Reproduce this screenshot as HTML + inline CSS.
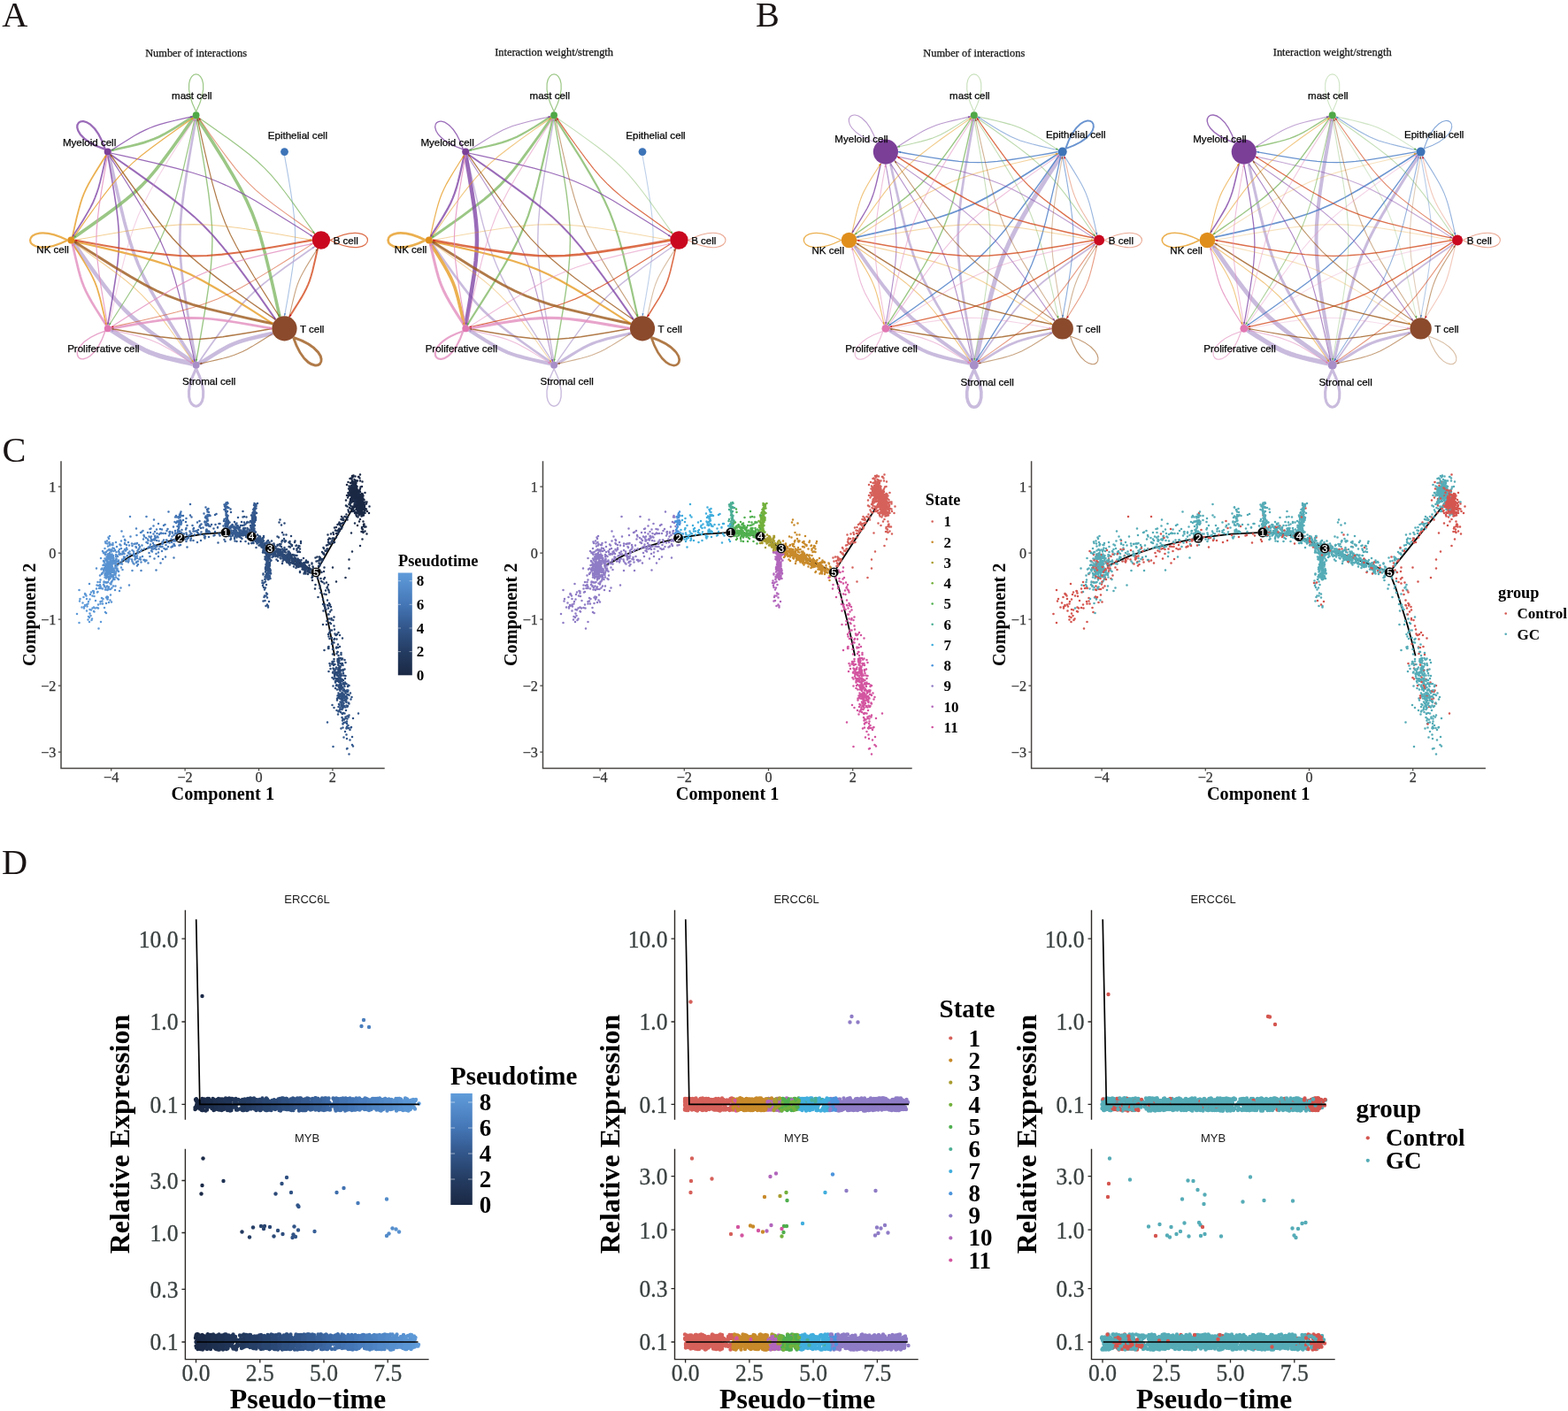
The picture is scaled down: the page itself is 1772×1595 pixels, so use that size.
<!DOCTYPE html>
<html><head><meta charset="utf-8"><title>Figure</title>
<style>html,body{margin:0;padding:0;background:#fff;overflow:hidden}svg{display:block}</style>
</head><body>
<svg width="1772" height="1595" viewBox="0 0 1772 1595">
<rect width="1772" height="1595" fill="#fff"/>
<text transform="translate(2.3 29.7) scale(1 1)" font-family="'Liberation Serif', 'Times New Roman', serif" font-size="40.3" fill="#1a1414">A</text>
<text transform="translate(854 29.7) scale(1 1)" font-family="'Liberation Serif', 'Times New Roman', serif" font-size="40.3" fill="#1a1414">B</text>
<text transform="translate(2.4 522.4) scale(1 1)" font-family="'Liberation Serif', 'Times New Roman', serif" font-size="40.3" fill="#1a1414">C</text>
<text transform="translate(2 987.8) scale(1 1)" font-family="'Liberation Serif', 'Times New Roman', serif" font-size="40.3" fill="#1a1414">D</text>
<g fill="none">
<path d="M321.5 176L321.8 177.3L323.1 184.6L325.6 198.6L328.4 215.5L330.8 231.3L332.4 244.7L333.3 256.1L333.6 266.6L333.3 277.2L332.4 288.6L330.8 302L328.4 317.8L325.6 334.7L323.1 348.7L321.8 356L321.5 357.3" stroke="#4579C4" stroke-width="1.1" stroke-opacity="0.45"/>
<path d="M220.1 409.1L219.1 407.6L213.4 398.8L202.8 382.1L190.1 361.8L178.6 342.7L169.3 326.3L162 312.1L156.1 298.6L150.8 284.9L145.9 269.7L140.8 251.6L135.5 229.9L130.1 206.7L125.8 187.2L123.6 177.1L123.2 175.3" stroke="#BCAAD4" stroke-width="3.6" stroke-opacity="0.8"/>
<path d="M221.6 408.8L221.2 406.8L219.2 395.7L215.5 374.5L211.2 348.9L207.6 325L205.1 304.7L203.7 287.4L203.3 271.4L203.7 255.5L205.1 238.2L207.6 217.9L211.2 194L215.5 168.4L219.2 147.2L221.2 136.1L221.6 134.1" stroke="#BCAAD4" stroke-width="2.7" stroke-opacity="0.8"/>
<path d="M218.8 410L217.6 409.2L211.1 404.7L198.8 396L184.1 385.5L170.4 375.5L159.2 366.7L149.9 358.8L141.9 351.2L134.2 343.1L126.3 333.9L117.6 322.6L107.5 309L97 294.2L88.3 281.9L83.8 275.4L83.1 274.3" stroke="#BCAAD4" stroke-width="4.5" stroke-opacity="0.8"/>
<path d="M217.9 411.3L217.2 411.1L213.2 410.2L205.5 408.5L196.3 406.4L187.7 404.3L180.5 402.3L174.5 400.3L169 398.3L163.7 395.9L158.1 393L151.6 389.3L144 384.8L136 379.8L129.4 375.5L125.9 373.3L125.3 372.9" stroke="#BCAAD4" stroke-width="5.4" stroke-opacity="0.8"/>
<path d="M225.3 411.3L225.8 410.9L228.9 408.9L234.9 405.1L242.1 400.6L248.9 396.5L254.8 393.2L259.8 390.6L264.6 388.5L269.5 386.6L274.9 384.9L281.3 383.1L289.1 381.2L297.3 379.3L304.2 377.7L307.8 376.9L308.5 376.8" stroke="#BCAAD4" stroke-width="4.5" stroke-opacity="0.8"/>
<path d="M224.4 410L225.2 408.9L229.5 402.6L237.9 390.6L248.1 376.4L257.8 363.2L266.3 352.3L273.9 343.4L281.3 335.6L289.1 328.2L298 320.6L308.9 312.1L322.1 302.3L336.4 292.2L348.3 283.8L354.6 279.5L355.7 278.7" stroke="#BCAAD4" stroke-width="1.8" stroke-opacity="0.8"/>
<path d="M218 131.7L217.4 132.1L213.9 134.3L207.3 138.6L199.3 143.6L191.7 148.1L185.2 151.8L179.6 154.7L174.2 157L168.8 159.1L162.8 161.1L155.6 163.1L147 165.2L137.8 167.3L130.1 169L126.1 169.9L125.4 170.1" stroke="#82B966" stroke-width="2.7" stroke-opacity="0.8"/>
<path d="M218.8 133L218.1 134.1L213.6 140.6L204.9 153L194.4 167.7L184.3 181.3L175.5 192.6L167.7 201.8L160 209.9L151.9 217.6L142.7 225.4L131.4 234.2L117.8 244.3L103.1 254.8L90.7 263.5L84.2 268L83.1 268.7" stroke="#82B966" stroke-width="3.6" stroke-opacity="0.8"/>
<path d="M220.1 133.8L219.7 135.6L217.5 145.8L213.2 165.2L207.8 188.5L202.5 210.2L197.4 228.3L192.5 243.6L187.2 257.3L181.3 270.7L174 284.9L164.7 301.3L153.2 320.5L140.5 340.7L129.8 357.5L124.2 366.3L123.2 367.8" stroke="#82B966" stroke-width="1.2" stroke-opacity="0.8"/>
<path d="M221.6 134.1L222 136.1L224 147.2L227.7 168.4L232 194L235.6 217.9L238.1 238.2L239.5 255.5L239.9 271.4L239.5 287.4L238.1 304.7L235.6 325L232 348.9L227.7 374.5L224 395.7L222 406.8L221.6 408.8" stroke="#82B966" stroke-width="1.4" stroke-opacity="0.8"/>
<path d="M223.1 133.8L224.1 135.3L229.5 143.7L239.7 159.8L251.9 179.2L262.9 197.6L271.8 213.3L278.8 227L284.6 239.9L289.6 253.1L294.4 267.7L299.2 285.1L304.3 305.9L309.5 328.3L313.6 346.9L315.8 356.7L316.1 358.4" stroke="#82B966" stroke-width="3.6" stroke-opacity="0.8"/>
<path d="M224.4 133L225.5 133.7L231.7 138.1L243.7 146.4L257.9 156.6L271.1 166.3L282 174.8L291 182.5L298.8 189.9L306.2 197.7L313.8 206.6L322.3 217.5L332 230.7L342.2 245L350.6 256.9L354.9 263.2L355.7 264.3" stroke="#82B966" stroke-width="1.2" stroke-opacity="0.8"/>
<path d="M125.4 170.1L126 169.7L129.4 167.4L136.1 163.2L144.1 158.2L151.7 153.6L158.2 149.9L163.8 147.1L169.1 144.7L174.6 142.6L180.6 140.7L187.8 138.7L196.4 136.5L205.6 134.4L213.3 132.7L217.3 131.8L218 131.7" stroke="#8146A6" stroke-width="1.2" stroke-opacity="0.8"/>
<path d="M120.2 175.3L120 176L119.1 180L117.4 187.7L115.3 196.9L113.2 205.5L111.2 212.7L109.2 218.7L107.1 224.1L104.8 229.5L101.9 235.1L98.2 241.6L93.7 249.2L88.7 257.2L84.4 263.8L82.2 267.3L81.8 267.9" stroke="#8146A6" stroke-width="1.8" stroke-opacity="0.8"/>
<path d="M125.4 173.1L127.1 173.5L137 175.6L156 179.8L178.7 185.1L199.8 190.3L217.5 195.2L232.4 200L245.7 205.2L258.8 211L272.7 218.1L288.7 227.1L307.3 238.4L327.1 250.7L343.5 261.1L352 266.6L353.5 267.6" stroke="#8146A6" stroke-width="1.2" stroke-opacity="0.8"/>
<path d="M124.5 174.4L126.1 175.5L135 181.7L152.1 193.6L172.3 208.1L191.1 221.9L206.6 234.1L219.4 244.9L230.5 255.5L241.1 266.6L251.9 279.3L264 294.8L277.9 313.6L292.4 333.9L304.3 350.9L310.5 359.9L311.5 361.4" stroke="#8146A6" stroke-width="2" stroke-opacity="0.8"/>
<path d="M123.2 175.3L124.2 176.8L129.8 185.6L140.5 202.3L153.2 222.6L164.7 241.7L174 258.1L181.3 272.3L187.2 285.7L192.5 299.4L197.4 314.7L202.4 332.8L207.8 354.5L213.2 377.7L217.5 397.2L219.7 407.3L220.1 409.1" stroke="#8146A6" stroke-width="1.2" stroke-opacity="0.8"/>
<path d="M121.7 175.6L121.9 177L123.4 184.7L126 199.6L128.9 217.4L131.5 234.2L133.2 248.3L134.2 260.4L134.5 271.5L134.2 282.7L133.2 294.8L131.5 308.9L128.9 325.7L126 343.5L123.4 358.4L121.9 366.1L121.7 367.5" stroke="#8146A6" stroke-width="1.6" stroke-opacity="0.8"/>
<path d="M81.8 267.9L81.9 267.2L82.8 263.2L84.5 255.5L86.6 246.3L88.8 237.7L90.8 230.5L92.7 224.5L94.8 219L97.2 213.7L100 208.1L103.7 201.6L108.3 194L113.3 186L117.5 179.3L119.8 175.9L120.2 175.3" stroke="#E69C24" stroke-width="1.8" stroke-opacity="0.8"/>
<path d="M83.1 268.7L83.8 267.6L88.3 261.1L97 248.7L107.5 234L117.6 220.4L126.4 209.1L134.2 199.9L141.9 191.8L150 184.1L159.2 176.3L170.5 167.5L184.1 157.4L198.8 146.9L211.2 138.2L217.7 133.7L218.8 133" stroke="#E69C24" stroke-width="1.2" stroke-opacity="0.8"/>
<path d="M84.2 271.5L86.1 271.1L97 269.2L117.7 265.5L142.7 261.3L166.1 257.8L186 255.4L202.9 254L218.5 253.6L234 254L250.9 255.4L270.8 257.8L294.2 261.3L319.2 265.5L339.9 269.2L350.8 271.1L352.7 271.5" stroke="#E69C24" stroke-width="1.1" stroke-opacity="0.48"/>
<path d="M83.9 273L85.6 273.4L95.4 275.5L114 279.6L136.4 284.8L157.2 289.9L174.6 294.8L189.2 299.5L202.4 304.5L215.3 310.3L228.9 317.3L244.7 326.2L263.1 337.2L282.5 349.4L298.6 359.6L307 365.1L308.5 366" stroke="#E69C24" stroke-width="2.3" stroke-opacity="0.8"/>
<path d="M83.1 274.3L84.2 275L90.7 279.5L103 288.2L117.8 298.7L131.4 308.8L142.7 317.5L151.9 325.4L160 333.1L167.6 341.1L175.5 350.4L184.3 361.6L194.3 375.3L204.8 390L213.5 402.3L218 408.8L218.8 410" stroke="#E69C24" stroke-width="1.1" stroke-opacity="0.48"/>
<path d="M81.8 275.1L82.2 275.7L84.4 279.2L88.7 285.8L93.7 293.9L98.2 301.4L101.9 307.9L104.8 313.6L107.2 318.9L109.3 324.3L111.2 330.4L113.2 337.6L115.3 346.2L117.5 355.4L119.2 363.1L120 367.1L120.2 367.8" stroke="#E69C24" stroke-width="1.8" stroke-opacity="0.8"/>
<path d="M355.7 264.3L354.6 263.5L348.3 259.2L336.4 250.8L322.1 240.6L308.9 230.9L298 222.4L289.1 214.8L281.3 207.4L273.9 199.6L266.2 190.6L257.7 179.7L248 166.5L237.8 152.3L229.5 140.3L225.1 134.1L224.4 133" stroke="#D34A1D" stroke-width="1.1" stroke-opacity="0.57"/>
<path d="M352.7 271.5L350.8 271.9L339.9 273.8L319.2 277.5L294.2 281.7L270.8 285.2L250.9 287.6L234 289L218.5 289.4L202.9 289L186 287.6L166.1 285.2L142.7 281.7L117.7 277.5L97 273.8L86.1 271.9L84.2 271.5" stroke="#D34A1D" stroke-width="2.1" stroke-opacity="0.8"/>
<path d="M359 280.9L358.9 281.5L358.1 284.9L356.7 291.3L354.9 299L353.2 306.2L351.5 312.2L349.9 317.3L348.1 321.8L346.1 326.2L343.7 331L340.7 336.4L336.8 342.7L332.6 349.4L329.1 355L327.2 357.9L326.9 358.4" stroke="#D34A1D" stroke-width="2" stroke-opacity="0.8"/>
<path d="M353.5 275.4L352 276.4L343.5 281.9L327.1 292.3L307.3 304.6L288.7 315.9L272.7 324.9L258.8 332L245.7 337.9L232.3 343L217.5 347.8L199.7 352.7L178.6 358L155.9 363.2L137 367.4L127 369.5L125.3 369.9" stroke="#D34A1D" stroke-width="1.1" stroke-opacity="0.57"/>
<path d="M311.5 361.4L310 360.4L301 354.2L284 342.3L263.7 327.8L244.9 313.9L229.4 301.8L216.7 291L205.6 280.4L195 269.3L184.2 256.5L172 241L158.2 222.2L143.7 202L131.8 184.9L125.6 176L124.5 174.4" stroke="#9C591A" stroke-width="1.4" stroke-opacity="0.8"/>
<path d="M316.1 358.4L315.2 356.9L309.7 348.5L299.5 332.4L287.3 313L276.3 294.6L267.4 278.8L260.4 265.2L254.6 252.3L249.6 239.1L244.9 224.5L240 207.1L234.9 186.3L229.7 163.9L225.6 145.3L223.5 135.5L223.1 133.8" stroke="#9C591A" stroke-width="1.2" stroke-opacity="0.8"/>
<path d="M308.5 366L306.8 365.7L297 363.5L278.4 359.4L256 354.2L235.2 349.1L217.8 344.3L203.2 339.5L190 334.5L177.1 328.7L163.4 321.7L147.7 312.8L129.3 301.8L109.9 289.6L93.8 279.4L85.4 274L83.9 273" stroke="#9C591A" stroke-width="2.9" stroke-opacity="0.8"/>
<path d="M307.4 371.4L306.1 371.7L298.8 373L284.7 375.5L267.8 378.3L251.9 380.7L238.5 382.3L227 383.3L216.5 383.5L206 383.3L194.5 382.3L181.1 380.7L165.2 378.3L148.3 375.5L134.2 373L126.9 371.7L125.6 371.4" stroke="#9C591A" stroke-width="1.5" stroke-opacity="0.8"/>
<path d="M308.5 376.8L307.9 377.2L304.8 379.2L298.9 383L291.7 387.5L284.9 391.6L279 394.9L274 397.5L269.2 399.6L264.3 401.5L258.9 403.2L252.4 405L244.7 406.9L236.5 408.8L229.5 410.4L225.9 411.1L225.3 411.3" stroke="#9C591A" stroke-width="1.1" stroke-opacity="0.66"/>
<path d="M326.9 358.4L327 357.8L327.8 354.4L329.2 348L331 340.3L332.8 333.1L334.4 327.1L336 322.1L337.8 317.5L339.8 313.1L342.2 308.4L345.3 302.9L349.1 296.6L353.3 289.9L356.8 284.3L358.7 281.4L359 280.9" stroke="#9C591A" stroke-width="1.1" stroke-opacity="0.57"/>
<path d="M121.7 367.5L121.4 366.1L120 358.4L117.4 343.5L114.4 325.7L111.9 308.9L110.2 294.8L109.2 282.7L108.9 271.5L109.2 260.4L110.2 248.3L111.9 234.2L114.4 217.4L117.4 199.6L120 184.7L121.4 177L121.7 175.6" stroke="#E28DBE" stroke-width="1.2" stroke-opacity="0.8"/>
<path d="M123.2 367.8L123.6 366L125.8 355.8L130.1 336.4L135.4 313.2L140.8 291.5L145.9 273.3L150.8 258.1L156 244.3L162 230.9L169.3 216.7L178.6 200.3L190.1 181.1L202.8 160.9L213.5 144.1L219.1 135.3L220.1 133.8" stroke="#E28DBE" stroke-width="1.1" stroke-opacity="0.39"/>
<path d="M120.2 367.8L119.8 367.2L117.6 363.7L113.3 357.1L108.3 349.1L103.7 341.5L100.1 335L97.2 329.3L94.8 324L92.7 318.6L90.8 312.6L88.8 305.4L86.7 296.8L84.5 287.5L82.8 279.8L81.9 275.8L81.8 275.1" stroke="#E28DBE" stroke-width="2.7" stroke-opacity="0.8"/>
<path d="M125.6 371.4L126.9 371.2L134.2 369.8L148.3 367.4L165.2 364.5L181.1 362.1L194.5 360.5L206 359.6L216.5 359.3L227 359.6L238.5 360.5L251.9 362.1L267.8 364.5L284.7 367.4L298.8 369.8L306.1 371.2L307.4 371.4" stroke="#E28DBE" stroke-width="2.7" stroke-opacity="0.8"/>
<path d="M125.3 369.9L126.8 368.9L135.3 363.4L151.7 353L171.4 340.7L190.1 329.4L206.1 320.4L220 313.3L233.1 307.5L246.5 302.3L261.3 297.5L279 292.6L300.2 287.4L322.9 282.1L341.8 277.9L351.7 275.8L353.5 275.4" stroke="#E28DBE" stroke-width="1.2" stroke-opacity="0.8"/>
<path d="M125.3 372.9L126 373.1L130 373.9L137.7 375.6L146.9 377.8L155.5 379.9L162.7 381.9L168.7 383.8L174.2 385.9L179.5 388.3L185.1 391.2L191.6 394.8L199.2 399.4L207.2 404.4L213.8 408.6L217.3 410.9L217.9 411.3" stroke="#E28DBE" stroke-width="1.1" stroke-opacity="0.57"/>
<path d="M221.6 416.8C249.9 473.3 193.3 473.3 221.6 416.8" stroke="#BCAAD4" stroke-width="3.1" stroke-opacity="0.8"/>
<path d="M221.6 126.3C193.3 69.8 249.9 69.8 221.6 126.3" stroke="#82B966" stroke-width="1.2" stroke-opacity="0.8"/>
<path d="M118.9 168.8C58.9 148.8 98.9 108.8 118.9 168.8" stroke="#8146A6" stroke-width="2.3" stroke-opacity="0.8"/>
<path d="M76.4 271.5C19.9 299.8 19.9 243.2 76.4 271.5" stroke="#E69C24" stroke-width="2.3" stroke-opacity="0.8"/>
<path d="M373.1 271.5C429.6 243.2 429.6 299.8 373.1 271.5" stroke="#D34A1D" stroke-width="1.2" stroke-opacity="0.8"/>
<path d="M331.5 381.4C391.4 401.4 351.5 441.3 331.5 381.4" stroke="#9C591A" stroke-width="2.9" stroke-opacity="0.8"/>
<path d="M118.9 374.2C98.9 434.1 59 394.2 118.9 374.2" stroke="#E28DBE" stroke-width="1.4" stroke-opacity="0.8"/>
</g>
<g><path d="M321.5 357.3L321 354.2L323.1 354.6Z" fill="#3D74B8" fill-opacity="0.9"/><path d="M123.2 175.3L124.9 178L122.8 178.4Z" fill="#A88FC8" fill-opacity="0.9"/><path d="M221.6 134.1L222.1 137.2L220 136.9Z" fill="#A88FC8" fill-opacity="0.9"/><path d="M83.1 274.3L85.7 276.1L83.9 277.4Z" fill="#A88FC8" fill-opacity="0.9"/><path d="M125.3 372.9L128.4 373.6L127.2 375.5Z" fill="#A88FC8" fill-opacity="0.9"/><path d="M308.5 376.8L305.8 378.5L305.3 376.4Z" fill="#A88FC8" fill-opacity="0.9"/><path d="M355.7 278.7L353.8 281.3L352.6 279.5Z" fill="#A88FC8" fill-opacity="0.9"/><path d="M125.4 170.1L128.1 168.3L128.5 170.5Z" fill="#4FA846" fill-opacity="0.9"/><path d="M83.1 268.7L84.9 266.1L86.2 267.9Z" fill="#4FA846" fill-opacity="0.9"/><path d="M123.2 367.8L123.9 364.7L125.7 365.9Z" fill="#4FA846" fill-opacity="0.9"/><path d="M221.6 408.8L221.1 405.7L223.2 406Z" fill="#4FA846" fill-opacity="0.9"/><path d="M316.1 358.4L314.4 355.7L316.6 355.2Z" fill="#4FA846" fill-opacity="0.9"/><path d="M355.7 264.3L353.1 262.4L354.9 261.2Z" fill="#4FA846" fill-opacity="0.9"/><path d="M218 131.7L215.3 133.4L214.8 131.2Z" fill="#7B3F98" fill-opacity="0.9"/><path d="M81.8 267.9L82.5 264.8L84.3 266Z" fill="#7B3F98" fill-opacity="0.9"/><path d="M353.5 267.6L350.4 266.9L351.6 265Z" fill="#7B3F98" fill-opacity="0.9"/><path d="M311.5 361.4L308.9 359.6L310.7 358.4Z" fill="#7B3F98" fill-opacity="0.9"/><path d="M220.1 409.1L218.4 406.4L220.5 405.9Z" fill="#7B3F98" fill-opacity="0.9"/><path d="M121.7 367.5L121.1 364.4L123.3 364.8Z" fill="#7B3F98" fill-opacity="0.9"/><path d="M120.2 175.3L119.5 178.4L117.6 177.2Z" fill="#E08E1B" fill-opacity="0.9"/><path d="M218.8 133L217 135.6L215.7 133.8Z" fill="#E08E1B" fill-opacity="0.9"/><path d="M352.7 271.5L349.6 272L349.9 269.9Z" fill="#E08E1B" fill-opacity="0.9"/><path d="M308.5 366L305.4 365.3L306.6 363.5Z" fill="#E08E1B" fill-opacity="0.9"/><path d="M218.8 410L216.2 408.1L218 406.9Z" fill="#E08E1B" fill-opacity="0.9"/><path d="M120.2 367.8L118.5 365.1L120.6 364.6Z" fill="#E08E1B" fill-opacity="0.9"/><path d="M224.4 133L227 134.8L225.2 136.1Z" fill="#C9081F" fill-opacity="0.9"/><path d="M84.2 271.5L87.3 271L87 273.1Z" fill="#C9081F" fill-opacity="0.9"/><path d="M326.9 358.4L327.6 355.3L329.5 356.5Z" fill="#C9081F" fill-opacity="0.9"/><path d="M125.3 369.9L128 368.2L128.5 370.4Z" fill="#C9081F" fill-opacity="0.9"/><path d="M124.5 174.4L127.1 176.3L125.3 177.5Z" fill="#8B4A2C" fill-opacity="0.9"/><path d="M223.1 133.8L224.8 136.5L222.6 137Z" fill="#8B4A2C" fill-opacity="0.9"/><path d="M83.9 273L87 273.7L85.8 275.5Z" fill="#8B4A2C" fill-opacity="0.9"/><path d="M125.6 371.4L128.7 370.9L128.3 373Z" fill="#8B4A2C" fill-opacity="0.9"/><path d="M225.3 411.3L228 409.6L228.5 411.7Z" fill="#8B4A2C" fill-opacity="0.9"/><path d="M359 280.9L358.3 284L356.4 282.8Z" fill="#8B4A2C" fill-opacity="0.9"/><path d="M121.7 175.6L122.2 178.7L120.1 178.3Z" fill="#E077B2" fill-opacity="0.9"/><path d="M220.1 133.8L219.4 136.9L217.6 135.7Z" fill="#E077B2" fill-opacity="0.9"/><path d="M81.8 275.1L83.5 277.8L81.3 278.3Z" fill="#E077B2" fill-opacity="0.9"/><path d="M307.4 371.4L304.3 372L304.7 369.8Z" fill="#E077B2" fill-opacity="0.9"/><path d="M353.5 275.4L350.8 277.1L350.3 275Z" fill="#E077B2" fill-opacity="0.9"/><path d="M217.9 411.3L214.8 410.6L216 408.7Z" fill="#E077B2" fill-opacity="0.9"/></g>
<circle cx="362.9" cy="271.5" r="10.2" fill="#C9081F"/>
<circle cx="321.5" cy="171.6" r="4.4" fill="#3D74B8"/>
<circle cx="221.6" cy="130.2" r="3.9" fill="#4FA846"/>
<circle cx="121.7" cy="171.6" r="4" fill="#7B3F98"/>
<circle cx="80.3" cy="271.5" r="3.9" fill="#E08E1B"/>
<circle cx="121.7" cy="371.4" r="3.9" fill="#E077B2"/>
<circle cx="221.6" cy="412.8" r="4" fill="#A88FC8"/>
<circle cx="321.5" cy="371.4" r="14.1" fill="#8B4A2C"/>
<g font-family="'Liberation Sans', Arial, Helvetica, sans-serif" font-size="11.55" fill="#000" stroke="#000" stroke-width="0.25" text-anchor="middle">
<text x="390.8" y="275.9">B cell</text>
<text x="336.5" y="156.7">Epithelial cell</text>
<text x="216.8" y="112.2">mast cell</text>
<text x="101.1" y="164.9">Myeloid cell</text>
<text x="59.6" y="285.9">NK cell</text>
<text x="116.9" y="398.1">Proliferative cell</text>
<text x="236.2" y="435.4">Stromal cell</text>
<text x="352.7" y="375.5">T cell</text>
</g>
<text x="221.6" y="64" font-family="'Liberation Serif', 'Times New Roman', serif" font-size="12.4" fill="#111" stroke="#111" stroke-width="0.25" text-anchor="middle">Number of interactions</text>
<g fill="none">
<path d="M726 176L726.3 177.3L727.6 184.6L730.1 198.6L732.9 215.5L735.3 231.3L736.9 244.7L737.8 256.1L738.1 266.6L737.8 277.2L736.9 288.6L735.3 302L732.9 317.8L730.1 334.7L727.6 348.7L726.3 356L726 357.3" stroke="#4579C4" stroke-width="1.1" stroke-opacity="0.35"/>
<path d="M624.6 409.1L623.6 407.6L617.9 398.8L607.3 382.1L594.6 361.8L583.1 342.7L573.8 326.3L566.5 312.1L560.6 298.6L555.3 284.9L550.4 269.7L545.3 251.6L540 229.9L534.6 206.7L530.3 187.2L528.1 177.1L527.7 175.3" stroke="#BCAAD4" stroke-width="1.4" stroke-opacity="0.8"/>
<path d="M626.1 408.8L625.7 406.8L623.7 395.7L620 374.5L615.7 348.9L612.1 325L609.6 304.7L608.2 287.4L607.8 271.4L608.2 255.5L609.6 238.2L612.1 217.9L615.7 194L620 168.4L623.7 147.2L625.7 136.1L626.1 134.1" stroke="#BCAAD4" stroke-width="1.4" stroke-opacity="0.8"/>
<path d="M623.3 410L622.1 409.2L615.6 404.7L603.3 396L588.6 385.5L574.9 375.5L563.7 366.7L554.4 358.8L546.4 351.2L538.7 343.1L530.8 333.9L522.1 322.6L512 309L501.5 294.2L492.8 281.9L488.3 275.4L487.6 274.3" stroke="#BCAAD4" stroke-width="2.7" stroke-opacity="0.8"/>
<path d="M622.4 411.3L621.7 411.1L617.7 410.2L610 408.5L600.8 406.4L592.2 404.3L585 402.3L579 400.3L573.5 398.3L568.2 395.9L562.6 393L556.1 389.3L548.5 384.8L540.5 379.8L533.9 375.5L530.4 373.3L529.8 372.9" stroke="#BCAAD4" stroke-width="4" stroke-opacity="0.8"/>
<path d="M629.8 411.3L630.3 410.9L633.4 408.9L639.4 405.1L646.6 400.6L653.4 396.5L659.3 393.2L664.3 390.6L669.1 388.5L674 386.6L679.4 384.9L685.8 383.1L693.6 381.2L701.8 379.3L708.7 377.7L712.3 376.9L713 376.8" stroke="#BCAAD4" stroke-width="3.1" stroke-opacity="0.8"/>
<path d="M628.9 410L629.7 408.9L634 402.6L642.4 390.6L652.6 376.4L662.3 363.2L670.8 352.3L678.4 343.4L685.8 335.6L693.6 328.2L702.5 320.6L713.4 312.1L726.6 302.3L740.9 292.2L752.8 283.8L759.1 279.5L760.2 278.7" stroke="#BCAAD4" stroke-width="1.4" stroke-opacity="0.8"/>
<path d="M622.5 131.7L621.9 132.1L618.4 134.3L611.8 138.6L603.8 143.6L596.2 148.1L589.7 151.8L584.1 154.7L578.7 157L573.3 159.1L567.3 161.1L560.1 163.1L551.5 165.2L542.3 167.3L534.6 169L530.6 169.9L529.9 170.1" stroke="#82B966" stroke-width="2.2" stroke-opacity="0.8"/>
<path d="M623.3 133L622.6 134.1L618.1 140.6L609.4 153L598.9 167.7L588.8 181.3L580 192.6L572.2 201.8L564.5 209.9L556.4 217.6L547.2 225.4L535.9 234.2L522.3 244.3L507.6 254.8L495.2 263.5L488.7 268L487.6 268.7" stroke="#82B966" stroke-width="2.9" stroke-opacity="0.8"/>
<path d="M624.6 133.8L624.2 135.6L622 145.8L617.7 165.2L612.3 188.5L607 210.2L601.9 228.3L597 243.6L591.7 257.3L585.8 270.7L578.5 284.9L569.2 301.3L557.7 320.5L545 340.7L534.3 357.5L528.7 366.3L527.7 367.8" stroke="#82B966" stroke-width="2.2" stroke-opacity="0.8"/>
<path d="M626.1 134.1L626.5 136.1L628.5 147.2L632.2 168.4L636.5 194L640.1 217.9L642.6 238.2L644 255.5L644.4 271.4L644 287.4L642.6 304.7L640.1 325L636.5 348.9L632.2 374.5L628.5 395.7L626.5 406.8L626.1 408.8" stroke="#82B966" stroke-width="1.4" stroke-opacity="0.8"/>
<path d="M627.6 133.8L628.6 135.3L634 143.7L644.2 159.8L656.4 179.2L667.4 197.6L676.3 213.3L683.3 227L689.1 239.9L694.1 253.1L698.9 267.7L703.7 285.1L708.8 305.9L714 328.3L718.1 346.9L720.3 356.7L720.6 358.4" stroke="#82B966" stroke-width="2.2" stroke-opacity="0.8"/>
<path d="M628.9 133L630 133.7L636.2 138.1L648.2 146.4L662.4 156.6L675.6 166.3L686.5 174.8L695.5 182.5L703.3 189.9L710.7 197.7L718.3 206.6L726.8 217.5L736.5 230.7L746.7 245L755.1 256.9L759.4 263.2L760.2 264.3" stroke="#82B966" stroke-width="1.1" stroke-opacity="0.48"/>
<path d="M529.9 170.1L530.5 169.7L533.9 167.4L540.6 163.2L548.6 158.2L556.2 153.6L562.7 149.9L568.3 147.1L573.6 144.7L579.1 142.6L585.1 140.7L592.3 138.7L600.9 136.5L610.1 134.4L617.8 132.7L621.8 131.8L622.5 131.7" stroke="#8146A6" stroke-width="1.1" stroke-opacity="0.57"/>
<path d="M524.7 175.3L524.5 176L523.6 180L521.9 187.7L519.8 196.9L517.7 205.5L515.7 212.7L513.7 218.7L511.6 224.1L509.3 229.5L506.4 235.1L502.7 241.6L498.2 249.2L493.2 257.2L488.9 263.8L486.7 267.3L486.3 267.9" stroke="#8146A6" stroke-width="2.2" stroke-opacity="0.8"/>
<path d="M526.2 175.6L526.4 177L527.9 184.7L530.5 199.6L533.4 217.4L536 234.2L537.7 248.3L538.7 260.4L539 271.5L538.7 282.7L537.7 294.8L536 308.9L533.4 325.7L530.5 343.5L527.9 358.4L526.4 366.1L526.2 367.5" stroke="#8146A6" stroke-width="4.5" stroke-opacity="0.8"/>
<path d="M527.7 175.3L528.7 176.8L534.3 185.6L545 202.3L557.7 222.6L569.2 241.7L578.5 258.1L585.8 272.3L591.7 285.7L597 299.4L601.9 314.7L606.9 332.8L612.3 354.5L617.7 377.7L622 397.2L624.2 407.3L624.6 409.1" stroke="#8146A6" stroke-width="1.1" stroke-opacity="0.57"/>
<path d="M529 174.4L530.6 175.5L539.5 181.7L556.6 193.6L576.8 208.1L595.6 221.9L611.1 234.1L623.9 244.9L635 255.5L645.6 266.6L656.4 279.3L668.5 294.8L682.4 313.6L696.9 333.9L708.8 350.9L715 359.9L716 361.4" stroke="#8146A6" stroke-width="2" stroke-opacity="0.8"/>
<path d="M529.9 173.1L531.6 173.5L541.5 175.6L560.5 179.8L583.2 185.1L604.3 190.3L622 195.2L636.9 200L650.2 205.2L663.3 211L677.2 218.1L693.2 227.1L711.8 238.4L731.6 250.7L748 261.1L756.5 266.6L758 267.6" stroke="#8146A6" stroke-width="1.2" stroke-opacity="0.8"/>
<path d="M486.3 267.9L486.4 267.2L487.3 263.2L489 255.5L491.1 246.3L493.3 237.7L495.3 230.5L497.2 224.5L499.3 219L501.7 213.7L504.5 208.1L508.2 201.6L512.8 194L517.8 186L522 179.3L524.3 175.9L524.7 175.3" stroke="#E69C24" stroke-width="1.2" stroke-opacity="0.8"/>
<path d="M487.6 268.7L488.3 267.6L492.8 261.1L501.5 248.7L512 234L522.1 220.4L530.9 209.1L538.7 199.9L546.4 191.8L554.5 184.1L563.7 176.3L575 167.5L588.6 157.4L603.3 146.9L615.7 138.2L622.2 133.7L623.3 133" stroke="#E69C24" stroke-width="1.1" stroke-opacity="0.57"/>
<path d="M488.7 271.5L490.6 271.1L501.5 269.2L522.2 265.5L547.2 261.3L570.6 257.8L590.5 255.4L607.4 254L622.9 253.6L638.5 254L655.4 255.4L675.3 257.8L698.7 261.3L723.7 265.5L744.4 269.2L755.3 271.1L757.2 271.5" stroke="#E69C24" stroke-width="1.1" stroke-opacity="0.39"/>
<path d="M488.4 273L490.1 273.4L499.9 275.5L518.5 279.6L540.9 284.8L561.7 289.9L579.1 294.8L593.7 299.5L606.9 304.5L619.8 310.3L633.4 317.3L649.2 326.2L667.6 337.2L687 349.4L703.1 359.6L711.5 365.1L713 366" stroke="#E69C24" stroke-width="2.2" stroke-opacity="0.8"/>
<path d="M487.6 274.3L488.7 275L495.2 279.5L507.5 288.2L522.3 298.7L535.9 308.8L547.2 317.5L556.4 325.4L564.5 333.1L572.1 341.1L580 350.4L588.8 361.6L598.8 375.3L609.3 390L618 402.3L622.5 408.8L623.3 410" stroke="#E69C24" stroke-width="1.1" stroke-opacity="0.39"/>
<path d="M486.3 275.1L486.7 275.7L488.9 279.2L493.2 285.8L498.2 293.9L502.7 301.4L506.4 307.9L509.3 313.6L511.7 318.9L513.8 324.3L515.7 330.4L517.7 337.6L519.8 346.2L522 355.4L523.7 363.1L524.5 367.1L524.7 367.8" stroke="#E69C24" stroke-width="3.6" stroke-opacity="0.8"/>
<path d="M760.2 264.3L759.1 263.5L752.8 259.2L740.9 250.8L726.6 240.6L713.4 230.9L702.5 222.4L693.6 214.8L685.8 207.4L678.4 199.6L670.7 190.6L662.2 179.7L652.5 166.5L642.3 152.3L634 140.3L629.6 134.1L628.9 133" stroke="#D34A1D" stroke-width="1.2" stroke-opacity="0.8"/>
<path d="M757.2 271.5L755.3 271.9L744.4 273.8L723.7 277.5L698.7 281.7L675.3 285.2L655.4 287.6L638.5 289L622.9 289.4L607.4 289L590.5 287.6L570.6 285.2L547.2 281.7L522.2 277.5L501.5 273.8L490.6 271.9L488.7 271.5" stroke="#D34A1D" stroke-width="2.7" stroke-opacity="0.8"/>
<path d="M758 275.4L756.5 276.4L748 281.9L731.6 292.3L711.8 304.6L693.2 315.9L677.2 324.9L663.3 332L650.2 337.9L636.8 343L622 347.8L604.2 352.7L583.1 358L560.4 363.2L541.5 367.4L531.5 369.5L529.8 369.9" stroke="#D34A1D" stroke-width="1.2" stroke-opacity="0.8"/>
<path d="M763.5 280.9L763.4 281.5L762.6 284.9L761.2 291.3L759.4 299L757.7 306.2L756 312.2L754.4 317.3L752.6 321.8L750.6 326.2L748.2 331L745.2 336.4L741.3 342.7L737.1 349.4L733.6 355L731.7 357.9L731.4 358.4" stroke="#D34A1D" stroke-width="1.6" stroke-opacity="0.8"/>
<path d="M716 361.4L714.5 360.4L705.5 354.2L688.5 342.3L668.2 327.8L649.4 313.9L633.9 301.8L621.2 291L610.1 280.4L599.5 269.3L588.7 256.5L576.5 241L562.7 222.2L548.2 202L536.3 184.9L530.1 176L529 174.4" stroke="#9C591A" stroke-width="1.2" stroke-opacity="0.8"/>
<path d="M720.6 358.4L719.7 356.9L714.2 348.5L704 332.4L691.8 313L680.8 294.6L671.9 278.8L664.9 265.2L659.1 252.3L654.1 239.1L649.4 224.5L644.5 207.1L639.4 186.3L634.2 163.9L630.1 145.3L628 135.5L627.6 133.8" stroke="#9C591A" stroke-width="1.1" stroke-opacity="0.57"/>
<path d="M713 366L711.3 365.7L701.5 363.5L682.9 359.4L660.5 354.2L639.7 349.1L622.3 344.3L607.7 339.5L594.5 334.5L581.6 328.7L567.9 321.7L552.2 312.8L533.8 301.8L514.4 289.6L498.3 279.4L489.9 274L488.4 273" stroke="#9C591A" stroke-width="2.9" stroke-opacity="0.8"/>
<path d="M711.9 371.4L710.6 371.7L703.3 373L689.2 375.5L672.3 378.3L656.4 380.7L643 382.3L631.5 383.3L621 383.5L610.5 383.3L599 382.3L585.6 380.7L569.7 378.3L552.8 375.5L538.7 373L531.4 371.7L530.1 371.4" stroke="#9C591A" stroke-width="1.6" stroke-opacity="0.8"/>
<path d="M713 376.8L712.4 377.2L709.3 379.2L703.4 383L696.2 387.5L689.4 391.6L683.5 394.9L678.5 397.5L673.7 399.6L668.8 401.5L663.4 403.2L656.9 405L649.2 406.9L641 408.8L634 410.4L630.4 411.1L629.8 411.3" stroke="#9C591A" stroke-width="1.1" stroke-opacity="0.48"/>
<path d="M731.4 358.4L731.5 357.8L732.3 354.4L733.7 348L735.5 340.3L737.3 333.1L738.9 327.1L740.5 322.1L742.3 317.5L744.3 313.1L746.7 308.4L749.8 302.9L753.6 296.6L757.8 289.9L761.3 284.3L763.2 281.4L763.5 280.9" stroke="#9C591A" stroke-width="1.1" stroke-opacity="0.39"/>
<path d="M526.2 367.5L525.9 366.1L524.5 358.4L521.9 343.5L518.9 325.7L516.4 308.9L514.7 294.8L513.7 282.7L513.4 271.5L513.7 260.4L514.7 248.3L516.4 234.2L518.9 217.4L521.9 199.6L524.5 184.7L525.9 177L526.2 175.6" stroke="#E28DBE" stroke-width="1.2" stroke-opacity="0.8"/>
<path d="M527.7 367.8L528.1 366L530.3 355.8L534.6 336.4L539.9 313.2L545.3 291.5L550.4 273.3L555.3 258.1L560.5 244.3L566.5 230.9L573.8 216.7L583.1 200.3L594.6 181.1L607.3 160.9L618 144.1L623.6 135.3L624.6 133.8" stroke="#E28DBE" stroke-width="1.1" stroke-opacity="0.57"/>
<path d="M524.7 367.8L524.3 367.2L522.1 363.7L517.8 357.1L512.8 349.1L508.2 341.5L504.6 335L501.7 329.3L499.3 324L497.2 318.6L495.3 312.6L493.3 305.4L491.2 296.8L489 287.5L487.3 279.8L486.4 275.8L486.3 275.1" stroke="#E28DBE" stroke-width="3.1" stroke-opacity="0.8"/>
<path d="M530.1 371.4L531.4 371.2L538.7 369.8L552.8 367.4L569.7 364.5L585.6 362.1L599 360.5L610.5 359.6L621 359.3L631.5 359.6L643 360.5L656.4 362.1L672.3 364.5L689.2 367.4L703.3 369.8L710.6 371.2L711.9 371.4" stroke="#E28DBE" stroke-width="3.1" stroke-opacity="0.8"/>
<path d="M529.8 369.9L531.3 368.9L539.8 363.4L556.2 353L575.9 340.7L594.6 329.4L610.6 320.4L624.5 313.3L637.6 307.5L651 302.3L665.8 297.5L683.5 292.6L704.7 287.4L727.4 282.1L746.3 277.9L756.2 275.8L758 275.4" stroke="#E28DBE" stroke-width="1.1" stroke-opacity="0.57"/>
<path d="M529.8 372.9L530.5 373.1L534.5 373.9L542.2 375.6L551.4 377.8L560 379.9L567.2 381.9L573.2 383.8L578.7 385.9L584 388.3L589.6 391.2L596.1 394.8L603.7 399.4L611.7 404.4L618.3 408.6L621.8 410.9L622.4 411.3" stroke="#E28DBE" stroke-width="1.1" stroke-opacity="0.57"/>
<path d="M626.1 416.8C654.4 473.3 597.8 473.3 626.1 416.8" stroke="#BCAAD4" stroke-width="1.4" stroke-opacity="0.8"/>
<path d="M626.1 126.3C597.8 69.8 654.4 69.8 626.1 126.3" stroke="#82B966" stroke-width="1.2" stroke-opacity="0.8"/>
<path d="M523.4 168.8C463.4 148.8 503.4 108.8 523.4 168.8" stroke="#8146A6" stroke-width="1.3" stroke-opacity="0.8"/>
<path d="M480.9 271.5C424.4 299.8 424.4 243.2 480.9 271.5" stroke="#E69C24" stroke-width="2.7" stroke-opacity="0.8"/>
<path d="M777.6 271.5C834.1 243.2 834.1 299.8 777.6 271.5" stroke="#D34A1D" stroke-width="1.1" stroke-opacity="0.48"/>
<path d="M736 381.4C795.9 401.4 756 441.3 736 381.4" stroke="#9C591A" stroke-width="2.7" stroke-opacity="0.8"/>
<path d="M523.4 374.2C503.4 434.1 463.5 394.2 523.4 374.2" stroke="#E28DBE" stroke-width="2.2" stroke-opacity="0.8"/>
</g>
<g><path d="M726 357.3L725.5 354.2L727.6 354.6Z" fill="#3D74B8" fill-opacity="0.9"/><path d="M527.7 175.3L529.4 178L527.3 178.4Z" fill="#A88FC8" fill-opacity="0.9"/><path d="M626.1 134.1L626.6 137.2L624.5 136.9Z" fill="#A88FC8" fill-opacity="0.9"/><path d="M487.6 274.3L490.2 276.1L488.4 277.4Z" fill="#A88FC8" fill-opacity="0.9"/><path d="M529.8 372.9L532.9 373.6L531.7 375.5Z" fill="#A88FC8" fill-opacity="0.9"/><path d="M713 376.8L710.3 378.5L709.8 376.4Z" fill="#A88FC8" fill-opacity="0.9"/><path d="M760.2 278.7L758.3 281.3L757.1 279.5Z" fill="#A88FC8" fill-opacity="0.9"/><path d="M529.9 170.1L532.6 168.3L533 170.5Z" fill="#4FA846" fill-opacity="0.9"/><path d="M487.6 268.7L489.4 266.1L490.7 267.9Z" fill="#4FA846" fill-opacity="0.9"/><path d="M527.7 367.8L528.4 364.7L530.2 365.9Z" fill="#4FA846" fill-opacity="0.9"/><path d="M626.1 408.8L625.6 405.7L627.7 406Z" fill="#4FA846" fill-opacity="0.9"/><path d="M720.6 358.4L718.9 355.7L721.1 355.2Z" fill="#4FA846" fill-opacity="0.9"/><path d="M760.2 264.3L757.6 262.4L759.4 261.2Z" fill="#4FA846" fill-opacity="0.9"/><path d="M622.5 131.7L619.8 133.4L619.3 131.2Z" fill="#7B3F98" fill-opacity="0.9"/><path d="M486.3 267.9L487 264.8L488.8 266Z" fill="#7B3F98" fill-opacity="0.9"/><path d="M526.2 367.5L525.6 364.4L527.8 364.8Z" fill="#7B3F98" fill-opacity="0.9"/><path d="M624.6 409.1L622.9 406.4L625 405.9Z" fill="#7B3F98" fill-opacity="0.9"/><path d="M716 361.4L713.4 359.6L715.2 358.4Z" fill="#7B3F98" fill-opacity="0.9"/><path d="M758 267.6L754.9 266.9L756.1 265Z" fill="#7B3F98" fill-opacity="0.9"/><path d="M524.7 175.3L524 178.4L522.1 177.2Z" fill="#E08E1B" fill-opacity="0.9"/><path d="M623.3 133L621.5 135.6L620.2 133.8Z" fill="#E08E1B" fill-opacity="0.9"/><path d="M757.2 271.5L754.1 272L754.4 269.9Z" fill="#E08E1B" fill-opacity="0.9"/><path d="M713 366L709.9 365.3L711.1 363.5Z" fill="#E08E1B" fill-opacity="0.9"/><path d="M623.3 410L620.7 408.1L622.5 406.9Z" fill="#E08E1B" fill-opacity="0.9"/><path d="M524.7 367.8L523 365.1L525.1 364.6Z" fill="#E08E1B" fill-opacity="0.9"/><path d="M628.9 133L631.5 134.8L629.7 136.1Z" fill="#C9081F" fill-opacity="0.9"/><path d="M488.7 271.5L491.8 271L491.5 273.1Z" fill="#C9081F" fill-opacity="0.9"/><path d="M529.8 369.9L532.5 368.2L533 370.4Z" fill="#C9081F" fill-opacity="0.9"/><path d="M731.4 358.4L732.1 355.3L734 356.5Z" fill="#C9081F" fill-opacity="0.9"/><path d="M529 174.4L531.6 176.3L529.8 177.5Z" fill="#8B4A2C" fill-opacity="0.9"/><path d="M627.6 133.8L629.3 136.5L627.1 137Z" fill="#8B4A2C" fill-opacity="0.9"/><path d="M488.4 273L491.5 273.7L490.3 275.5Z" fill="#8B4A2C" fill-opacity="0.9"/><path d="M530.1 371.4L533.2 370.9L532.8 373Z" fill="#8B4A2C" fill-opacity="0.9"/><path d="M629.8 411.3L632.5 409.6L633 411.7Z" fill="#8B4A2C" fill-opacity="0.9"/><path d="M763.5 280.9L762.8 284L760.9 282.8Z" fill="#8B4A2C" fill-opacity="0.9"/><path d="M526.2 175.6L526.7 178.7L524.6 178.3Z" fill="#E077B2" fill-opacity="0.9"/><path d="M624.6 133.8L623.9 136.9L622.1 135.7Z" fill="#E077B2" fill-opacity="0.9"/><path d="M486.3 275.1L488 277.8L485.8 278.3Z" fill="#E077B2" fill-opacity="0.9"/><path d="M711.9 371.4L708.8 372L709.2 369.8Z" fill="#E077B2" fill-opacity="0.9"/><path d="M758 275.4L755.3 277.1L754.8 275Z" fill="#E077B2" fill-opacity="0.9"/><path d="M622.4 411.3L619.3 410.6L620.5 408.7Z" fill="#E077B2" fill-opacity="0.9"/></g>
<circle cx="767.4" cy="271.5" r="10.2" fill="#C9081F"/>
<circle cx="726" cy="171.6" r="4.4" fill="#3D74B8"/>
<circle cx="626.1" cy="130.2" r="3.9" fill="#4FA846"/>
<circle cx="526.2" cy="171.6" r="4" fill="#7B3F98"/>
<circle cx="484.8" cy="271.5" r="3.9" fill="#E08E1B"/>
<circle cx="526.2" cy="371.4" r="3.9" fill="#E077B2"/>
<circle cx="626.1" cy="412.8" r="4" fill="#A88FC8"/>
<circle cx="726" cy="371.4" r="14.1" fill="#8B4A2C"/>
<g font-family="'Liberation Sans', Arial, Helvetica, sans-serif" font-size="11.55" fill="#000" stroke="#000" stroke-width="0.25" text-anchor="middle">
<text x="795.3" y="275.9">B cell</text>
<text x="741" y="156.7">Epithelial cell</text>
<text x="621.3" y="112.2">mast cell</text>
<text x="505.6" y="164.9">Myeloid cell</text>
<text x="464.1" y="285.9">NK cell</text>
<text x="521.4" y="398.1">Proliferative cell</text>
<text x="640.7" y="435.4">Stromal cell</text>
<text x="757.2" y="375.5">T cell</text>
</g>
<text x="626.1" y="62.9" font-family="'Liberation Serif', 'Times New Roman', serif" font-size="12.4" fill="#111" stroke="#111" stroke-width="0.25" text-anchor="middle">Interaction weight/strength</text>
<g fill="none">
<path d="M1102.7 408.2L1103.1 406.4L1105.3 396.3L1109.5 377.1L1114.9 354L1120.2 332.5L1125.2 314.5L1130.1 299.4L1135.3 285.8L1141.2 272.5L1148.4 258.4L1157.7 242.1L1169.1 223.1L1181.6 203L1192.2 186.4L1197.8 177.7L1198.8 176.2" stroke="#BCAAD4" stroke-width="5" stroke-opacity="0.8"/>
<path d="M1100.8 407.8L1100.4 405.8L1098.4 394.8L1094.7 373.6L1090.4 348.2L1086.8 324.3L1084.4 304.1L1083 286.8L1082.6 271L1083 255.1L1084.4 237.9L1086.8 217.7L1090.4 193.8L1094.7 168.3L1098.4 147.2L1100.4 136.1L1100.8 134.1" stroke="#BCAAD4" stroke-width="2.7" stroke-opacity="0.8"/>
<path d="M1098.9 408.2L1097.9 406.7L1092.5 398.4L1082.3 382.3L1070.2 363L1059.2 344.7L1050.4 329L1043.4 315.4L1037.7 302.6L1032.7 289.5L1028 274.9L1023.1 257.6L1018 236.8L1012.9 214.6L1008.7 196L1006.6 186.3L1006.3 184.6" stroke="#BCAAD4" stroke-width="2.7" stroke-opacity="0.8"/>
<path d="M1097.3 409.3L1096.2 408.5L1089.9 404.2L1077.9 395.8L1063.6 385.6L1050.4 375.8L1039.5 367.3L1030.5 359.7L1022.7 352.3L1015.3 344.4L1007.7 335.5L999.2 324.6L989.4 311.4L979.2 297.1L970.8 285.1L966.5 278.8L965.7 277.7" stroke="#BCAAD4" stroke-width="4" stroke-opacity="0.8"/>
<path d="M1096.2 410.9L1095.5 410.7L1091.5 409.9L1083.9 408.2L1074.9 406.1L1066.4 404L1059.3 402L1053.4 400.1L1048 398.1L1042.8 395.7L1037.3 392.9L1030.9 389.3L1023.4 384.8L1015.5 379.9L1009 375.7L1005.6 373.5L1005 373.1" stroke="#BCAAD4" stroke-width="4" stroke-opacity="0.8"/>
<path d="M1105.4 410.9L1106 410.5L1109.1 408.5L1115.1 404.7L1122.4 400.1L1129.3 396L1135.2 392.6L1140.3 390L1145.1 387.9L1150 386L1155.5 384.2L1162 382.4L1169.8 380.5L1178.2 378.6L1185.1 377L1188.8 376.2L1189.4 376.1" stroke="#BCAAD4" stroke-width="2.7" stroke-opacity="0.8"/>
<path d="M1104.3 409.3L1105.1 408.1L1109.5 401.8L1118 389.6L1128.4 375.1L1138.3 361.7L1146.9 350.6L1154.7 341.5L1162.2 333.6L1170.1 326.1L1179.2 318.3L1190.3 309.7L1203.7 299.8L1218.2 289.4L1230.4 280.9L1236.7 276.5L1237.9 275.7" stroke="#BCAAD4" stroke-width="1.8" stroke-opacity="0.8"/>
<path d="M1195.7 171.6L1194.4 171.8L1187.1 173.2L1173.1 175.6L1156.3 178.4L1140.6 180.8L1127.2 182.4L1115.8 183.4L1105.3 183.6L1094.9 183.4L1083.5 182.4L1070.1 180.8L1054.4 178.4L1037.6 175.6L1023.6 173.2L1016.3 171.8L1015 171.6" stroke="#4579C4" stroke-width="1.4" stroke-opacity="0.8"/>
<path d="M1196.1 169.7L1195.4 169.5L1191.4 168.7L1183.8 167L1174.7 164.9L1166.2 162.8L1159.1 160.8L1153.1 158.9L1147.7 156.8L1142.5 154.5L1136.9 151.6L1130.5 148L1123 143.5L1115.1 138.5L1108.5 134.3L1105.1 132.1L1104.4 131.7" stroke="#4579C4" stroke-width="1.1" stroke-opacity="0.54"/>
<path d="M1196.1 173.5L1194.6 174.5L1186.1 180L1169.7 190.4L1149.9 202.8L1131.2 214L1115.2 223.1L1101.3 230.2L1088.2 236L1074.8 241.2L1059.9 246L1042.2 250.9L1021 256.2L998.3 261.4L979.3 265.6L969.4 267.8L967.6 268.1" stroke="#4579C4" stroke-width="1.8" stroke-opacity="0.8"/>
<path d="M1197.2 175.1L1196.1 176.8L1189.7 186L1177.4 203.6L1162.4 224.5L1148.1 243.9L1135.6 260L1124.4 273.1L1113.5 284.6L1102 295.5L1088.8 306.7L1072.8 319.2L1053.4 333.5L1032.4 348.5L1014.9 360.8L1005.6 367.2L1004 368.3" stroke="#4579C4" stroke-width="1.4" stroke-opacity="0.8"/>
<path d="M1198.8 176.2L1198.4 178L1196.2 188.1L1192 207.3L1186.6 230.4L1181.3 251.9L1176.3 269.9L1171.4 285L1166.2 298.6L1160.3 311.9L1153.1 326L1143.9 342.3L1132.4 361.3L1119.9 381.3L1109.3 398L1103.7 406.7L1102.7 408.2" stroke="#4579C4" stroke-width="1.3" stroke-opacity="0.8"/>
<path d="M1200.7 176.6L1201 177.9L1202.3 185.3L1204.8 199.4L1207.6 216.4L1210 232.3L1211.7 245.8L1212.6 257.3L1212.9 267.9L1212.6 278.5L1211.7 290L1210 303.5L1207.6 319.4L1204.8 336.4L1202.3 350.5L1201 357.9L1200.7 359.2" stroke="#4579C4" stroke-width="1.1" stroke-opacity="0.61"/>
<path d="M1202.6 176.2L1203 176.8L1205.2 180.1L1209.3 186.6L1214.1 194.4L1218.5 201.7L1222.1 208L1224.9 213.5L1227.2 218.6L1229.2 223.9L1231.1 229.7L1233 236.7L1235.1 245L1237.2 253.9L1238.8 261.4L1239.7 265.3L1239.8 266" stroke="#4579C4" stroke-width="1.1" stroke-opacity="0.54"/>
<path d="M1097.2 131.7L1096.6 132.1L1093.5 134.1L1087.5 137.9L1080.3 142.4L1073.5 146.5L1067.7 149.8L1062.6 152.4L1057.8 154.5L1053 156.4L1047.5 158.1L1041.1 159.9L1033.4 161.8L1025.1 163.7L1018.2 165.3L1014.6 166.1L1013.9 166.2" stroke="#82B966" stroke-width="1.1" stroke-opacity="0.54"/>
<path d="M1098 133L1097.2 134.1L1092.9 140.4L1084.4 152.5L1074.2 166.8L1064.4 180.1L1055.8 191.1L1048.1 200.1L1040.7 208L1032.8 215.4L1023.8 223.1L1012.8 231.7L999.6 241.5L985.2 251.7L973.2 260.1L966.8 264.5L965.7 265.3" stroke="#82B966" stroke-width="1.4" stroke-opacity="0.8"/>
<path d="M1099.3 133.8L1098.9 135.6L1096.7 145.8L1092.4 165.2L1087 188.4L1081.7 210L1076.7 228.2L1071.7 243.4L1066.5 257L1060.5 270.4L1053.3 284.7L1044 301L1032.5 320.1L1019.9 340.3L1009.2 357.1L1003.6 365.8L1002.6 367.3" stroke="#82B966" stroke-width="1.4" stroke-opacity="0.8"/>
<path d="M1100.8 134.1L1101.2 136.1L1103.2 147.2L1106.9 168.3L1111.2 193.8L1114.8 217.7L1117.2 237.9L1118.6 255.1L1119 271L1118.6 286.8L1117.2 304.1L1114.8 324.3L1111.2 348.2L1106.9 373.6L1103.2 394.8L1101.2 405.8L1100.8 407.8" stroke="#82B966" stroke-width="1.1" stroke-opacity="0.46"/>
<path d="M1102.3 133.8L1103.3 135.3L1108.7 143.8L1119.1 160L1131.3 179.6L1142.5 198.1L1151.4 214L1158.5 227.8L1164.3 240.7L1169.4 254L1174.1 268.7L1179 286.3L1184.2 307.3L1189.4 329.8L1193.6 348.6L1195.7 358.4L1196 360.1" stroke="#82B966" stroke-width="1.1" stroke-opacity="0.46"/>
<path d="M1103.6 133L1104.7 133.8L1111.1 138.2L1123.4 146.8L1137.9 157.2L1151.4 167.1L1162.6 175.8L1171.7 183.6L1179.7 191.2L1187.3 199.2L1195 208.3L1203.7 219.4L1213.7 232.9L1224.1 247.5L1232.6 259.7L1237.1 266.1L1237.9 267.3" stroke="#82B966" stroke-width="1.1" stroke-opacity="0.54"/>
<path d="M1104.4 131.7L1105.2 131.9L1109.1 132.7L1116.7 134.4L1125.9 136.5L1134.3 138.6L1141.5 140.6L1147.4 142.5L1152.8 144.6L1158.1 146.9L1163.6 149.8L1170.1 153.4L1177.6 157.9L1185.5 162.9L1192.1 167.1L1195.5 169.3L1196.1 169.7" stroke="#82B966" stroke-width="1.1" stroke-opacity="0.54"/>
<path d="M1013.9 166.2L1014.5 165.8L1017.6 163.8L1023.5 160L1030.7 155.5L1037.6 151.4L1043.4 148.1L1048.5 145.5L1053.2 143.4L1058.1 141.5L1063.5 139.8L1070 138L1077.7 136.1L1086 134.2L1092.9 132.6L1096.5 131.8L1097.2 131.7" stroke="#8146A6" stroke-width="1.1" stroke-opacity="0.54"/>
<path d="M995.5 184.6L995.4 185.2L994.6 188.6L993.2 195.2L991.4 203L989.6 210.3L987.9 216.4L986.2 221.6L984.4 226.2L982.4 230.7L980 235.5L976.8 241L973 247.4L968.7 254.3L965.1 259.9L963.2 262.9L962.9 263.4" stroke="#8146A6" stroke-width="1.4" stroke-opacity="0.8"/>
<path d="M1000.9 185.7L1001.1 187L1002.5 194.3L1004.9 208.3L1007.7 225.2L1010.1 241L1011.8 254.4L1012.7 265.8L1013 276.3L1012.7 286.9L1011.8 298.3L1010.1 311.7L1007.7 327.5L1004.9 344.4L1002.5 358.4L1001.1 365.7L1000.9 367" stroke="#8146A6" stroke-width="1.1" stroke-opacity="0.61"/>
<path d="M1006.3 184.6L1007.2 186.1L1012.6 194.4L1022.8 210.5L1034.9 229.8L1045.9 248.1L1054.8 263.8L1061.8 277.4L1067.5 290.2L1072.5 303.3L1077.2 317.9L1082 335.2L1087.2 356L1092.3 378.2L1096.4 396.8L1098.5 406.5L1098.9 408.2" stroke="#8146A6" stroke-width="1.1" stroke-opacity="0.61"/>
<path d="M1010.9 181.6L1012.4 182.6L1021 188.6L1037.5 200.2L1057.2 214.2L1075.4 227.6L1090.4 239.4L1102.8 249.9L1113.6 260.1L1123.8 270.9L1134.3 283.2L1146 298.2L1159.5 316.4L1173.5 336.1L1185 352.6L1191 361.3L1192.1 362.8" stroke="#8146A6" stroke-width="1.1" stroke-opacity="0.54"/>
<path d="M1013.9 177L1015.6 177.3L1025.3 179.4L1043.8 183.5L1065.9 188.7L1086.6 193.8L1103.8 198.6L1118.3 203.2L1131.4 208.2L1144.1 213.9L1157.7 220.9L1173.3 229.7L1191.5 240.7L1210.8 252.7L1226.8 262.9L1235.1 268.3L1236.6 269.2" stroke="#8146A6" stroke-width="1.1" stroke-opacity="0.54"/>
<path d="M962.9 263.4L963 262.8L963.7 259.3L965.2 252.8L967 245L968.8 237.7L970.5 231.6L972.2 226.4L973.9 221.8L975.9 217.3L978.4 212.5L981.5 207L985.4 200.5L989.7 193.7L993.3 188.1L995.2 185.1L995.5 184.6" stroke="#E69C24" stroke-width="1.1" stroke-opacity="0.61"/>
<path d="M965.7 265.3L966.5 264.2L970.9 257.8L979.3 245.8L989.5 231.4L999.3 218.2L1007.9 207.2L1015.6 198.2L1023 190.3L1030.9 182.9L1039.9 175.2L1050.9 166.6L1064.2 156.8L1078.5 146.6L1090.6 138.1L1096.9 133.8L1098 133" stroke="#E69C24" stroke-width="1.1" stroke-opacity="0.54"/>
<path d="M967.6 268.1L969.1 267.2L977.7 261.7L994.1 251.2L1013.8 238.9L1032.5 227.6L1048.5 218.5L1062.5 211.4L1075.6 205.6L1088.9 200.5L1103.8 195.6L1121.6 190.7L1142.7 185.5L1165.4 180.2L1184.4 176L1194.3 173.9L1196.1 173.5" stroke="#E69C24" stroke-width="1.1" stroke-opacity="0.46"/>
<path d="M968.3 271.5L970.2 271.1L981 269.2L1001.8 265.5L1026.7 261.4L1050 257.8L1069.8 255.4L1086.7 254.1L1102.2 253.6L1117.7 254.1L1134.6 255.4L1154.4 257.8L1177.7 261.4L1202.6 265.5L1223.4 269.2L1234.2 271.1L1236.1 271.5" stroke="#E69C24" stroke-width="1.1" stroke-opacity="0.39"/>
<path d="M967.6 274.9L969.3 275.2L979 277.3L997.4 281.4L1019.4 286.5L1040 291.6L1057.2 296.4L1071.7 301L1084.7 306L1097.4 311.7L1110.9 318.6L1126.4 327.4L1144.6 338.3L1163.8 350.3L1179.7 360.5L1188 365.8L1189.4 366.7" stroke="#E69C24" stroke-width="1.1" stroke-opacity="0.46"/>
<path d="M965.7 277.7L966.8 278.5L973.1 282.8L985.1 291.2L999.4 301.4L1012.6 311.2L1023.5 319.7L1032.4 327.3L1040.3 334.7L1047.7 342.5L1055.3 351.5L1063.8 362.4L1073.6 375.6L1083.8 389.9L1092.2 401.9L1096.5 408.2L1097.3 409.3" stroke="#E69C24" stroke-width="1.1" stroke-opacity="0.54"/>
<path d="M962.9 279.6L963.2 280.2L965.4 283.5L969.4 289.8L974.1 297.4L978.4 304.5L981.9 310.7L984.6 316L986.9 321.1L988.9 326.2L990.7 331.9L992.6 338.7L994.6 346.9L996.6 355.6L998.2 362.9L999.1 366.7L999.2 367.3" stroke="#E69C24" stroke-width="1.1" stroke-opacity="0.61"/>
<path d="M1236.6 269.2L1234.8 268.8L1225.2 266.8L1206.7 262.7L1184.6 257.5L1163.9 252.4L1146.6 247.6L1132.1 242.9L1119.1 237.9L1106.3 232.2L1092.8 225.3L1077.1 216.5L1058.9 205.5L1039.7 193.5L1023.7 183.3L1015.4 177.9L1013.9 177" stroke="#D34A1D" stroke-width="1.5" stroke-opacity="0.8"/>
<path d="M1237.9 267.3L1236.7 266.5L1230.3 262L1218.1 253.5L1203.5 243.1L1190 233.1L1178.9 224.4L1169.8 216.7L1161.8 209.1L1154.2 201.1L1146.4 192L1137.7 180.8L1127.8 167.3L1117.4 152.8L1108.8 140.5L1104.4 134.1L1103.6 133" stroke="#D34A1D" stroke-width="1.3" stroke-opacity="0.8"/>
<path d="M1236.1 271.5L1234.2 271.9L1223.4 273.8L1202.6 277.5L1177.7 281.6L1154.4 285.2L1134.6 287.6L1117.7 288.9L1102.2 289.4L1086.7 288.9L1069.8 287.6L1050 285.2L1026.7 281.6L1001.8 277.5L981 273.8L970.2 271.9L968.3 271.5" stroke="#D34A1D" stroke-width="1.5" stroke-opacity="0.8"/>
<path d="M1236.6 273.8L1235 274.8L1226.4 280.4L1209.8 291L1189.7 303.5L1170.8 314.9L1154.5 324.1L1140.4 331.3L1127.1 337.2L1113.6 342.4L1098.5 347.3L1080.5 352.3L1059 357.6L1036 362.9L1016.8 367.2L1006.7 369.4L1005 369.7" stroke="#D34A1D" stroke-width="1.4" stroke-opacity="0.8"/>
<path d="M1237.9 275.7L1237.1 276.9L1232.7 283.2L1224.2 295.4L1213.8 309.9L1203.9 323.3L1195.3 334.4L1187.5 343.5L1180 351.4L1172.1 358.9L1163 366.7L1151.9 375.3L1138.5 385.2L1124 395.6L1111.8 404.1L1105.5 408.5L1104.3 409.3" stroke="#D34A1D" stroke-width="1.1" stroke-opacity="0.54"/>
<path d="M1239.8 277L1239.7 277.7L1238.9 281.3L1237.4 288.2L1235.4 296.5L1233.5 304.2L1231.7 310.6L1230 316L1228.1 320.9L1226 325.7L1223.4 330.7L1220.1 336.5L1216 343.3L1211.5 350.5L1207.7 356.5L1205.7 359.6L1205.4 360.1" stroke="#D34A1D" stroke-width="1.1" stroke-opacity="0.54"/>
<path d="M1239.8 266L1239.4 265.4L1237.3 262L1233.2 255.6L1228.3 247.8L1223.9 240.5L1220.3 234.2L1217.5 228.7L1215.2 223.6L1213.2 218.3L1211.3 212.5L1209.4 205.5L1207.3 197.2L1205.3 188.2L1203.6 180.8L1202.8 176.9L1202.6 176.2" stroke="#D34A1D" stroke-width="1.1" stroke-opacity="0.39"/>
<path d="M1192.1 362.8L1190.6 361.7L1181.9 355.7L1165.4 344.2L1145.7 330.2L1127.5 316.7L1112.5 305L1100.2 294.5L1089.4 284.3L1079.2 273.5L1068.7 261.1L1056.9 246.1L1043.5 227.9L1029.5 208.2L1017.9 191.7L1011.9 183.1L1010.9 181.6" stroke="#9C591A" stroke-width="1.1" stroke-opacity="0.61"/>
<path d="M1196 360.1L1195.1 358.7L1189.6 350.2L1179.3 334L1167.1 314.4L1155.9 295.9L1146.9 280L1139.9 266.2L1134.1 253.2L1129 240L1124.2 225.3L1119.4 207.7L1114.2 186.7L1109 164.2L1104.8 145.4L1102.7 135.6L1102.3 133.8" stroke="#9C591A" stroke-width="1.1" stroke-opacity="0.46"/>
<path d="M1200.7 359.2L1200.5 357.9L1199.1 350.5L1196.6 336.4L1193.8 319.4L1191.4 303.5L1189.7 290L1188.8 278.5L1188.5 267.9L1188.8 257.3L1189.7 245.8L1191.4 232.3L1193.8 216.4L1196.6 199.4L1199.1 185.3L1200.5 177.9L1200.7 176.6" stroke="#9C591A" stroke-width="1.1" stroke-opacity="0.39"/>
<path d="M1189.4 366.7L1187.7 366.4L1178.1 364.3L1159.7 360.2L1137.6 355.1L1117.1 350L1099.8 345.2L1085.4 340.6L1072.4 335.6L1059.7 329.9L1046.2 323L1030.6 314.2L1012.5 303.3L993.3 291.3L977.4 281.2L969.1 275.8L967.6 274.9" stroke="#9C591A" stroke-width="1.4" stroke-opacity="0.8"/>
<path d="M1188.5 371.4L1187.2 371.7L1179.8 373L1165.6 375.5L1148.6 378.3L1132.6 380.8L1119.1 382.4L1107.5 383.3L1096.9 383.6L1086.3 383.3L1074.7 382.4L1061.2 380.8L1045.2 378.3L1028.2 375.5L1014 373L1006.6 371.7L1005.3 371.4" stroke="#9C591A" stroke-width="1.4" stroke-opacity="0.8"/>
<path d="M1189.4 376.1L1188.9 376.4L1185.8 378.5L1179.7 382.3L1172.5 386.8L1165.6 391L1159.7 394.3L1154.6 396.9L1149.8 399.1L1144.8 401L1139.4 402.7L1132.8 404.6L1125 406.5L1116.7 408.4L1109.7 410L1106.1 410.7L1105.4 410.9" stroke="#9C591A" stroke-width="1.1" stroke-opacity="0.54"/>
<path d="M1205.4 360.1L1205.5 359.5L1206.3 355.9L1207.8 349L1209.7 340.7L1211.6 333L1213.4 326.6L1215.2 321.2L1217.1 316.3L1219.2 311.5L1221.8 306.5L1225.1 300.6L1229.2 293.8L1233.6 286.7L1237.4 280.7L1239.4 277.6L1239.8 277" stroke="#9C591A" stroke-width="1.1" stroke-opacity="0.46"/>
<path d="M1000.9 367L1000.6 365.7L999.3 358.4L996.8 344.4L994 327.5L991.6 311.7L990 298.3L989.1 286.9L988.8 276.3L989.1 265.8L990 254.4L991.6 241L994 225.2L996.8 208.3L999.3 194.3L1000.6 187L1000.9 185.7" stroke="#E28DBE" stroke-width="1.1" stroke-opacity="0.54"/>
<path d="M1002.6 367.3L1003 365.6L1005.1 355.4L1009.4 336L1014.8 312.8L1020.2 291.2L1025.2 273L1030.1 257.8L1035.4 244.2L1041.3 230.8L1048.6 216.5L1057.9 200.2L1069.4 181.1L1082 160.9L1092.7 144.1L1098.3 135.4L1099.3 133.8" stroke="#E28DBE" stroke-width="1.1" stroke-opacity="0.54"/>
<path d="M1004 368.3L1005.1 366.7L1011.5 357.4L1023.8 339.9L1038.8 318.9L1053.1 299.5L1065.6 283.5L1076.8 270.3L1087.7 258.8L1099.2 247.9L1112.3 236.7L1128.4 224.2L1147.8 209.9L1168.7 194.9L1186.3 182.6L1195.5 176.2L1197.2 175.1" stroke="#E28DBE" stroke-width="1.1" stroke-opacity="0.54"/>
<path d="M999.2 367.3L998.8 366.8L996.7 363.5L992.7 357.2L988 349.6L983.6 342.4L980.2 336.3L977.4 330.9L975.2 325.9L973.2 320.8L971.4 315.1L969.5 308.2L967.5 300.1L965.4 291.4L963.8 284.1L963 280.3L962.9 279.6" stroke="#E28DBE" stroke-width="1.1" stroke-opacity="0.61"/>
<path d="M1005.3 371.4L1006.6 371.2L1014 369.8L1028.2 367.3L1045.2 364.5L1061.2 362.1L1074.7 360.4L1086.3 359.5L1096.9 359.2L1107.5 359.5L1119.1 360.4L1132.6 362.1L1148.6 364.5L1165.6 367.3L1179.8 369.8L1187.2 371.2L1188.5 371.4" stroke="#E28DBE" stroke-width="1.1" stroke-opacity="0.39"/>
<path d="M1005 369.7L1006.5 368.7L1015.1 363.2L1031.7 352.6L1051.8 340.1L1070.7 328.6L1087 319.5L1101.1 312.2L1114.4 306.3L1127.9 301.1L1143 296.2L1161 291.3L1182.5 285.9L1205.5 280.6L1224.7 276.3L1234.8 274.2L1236.6 273.8" stroke="#E28DBE" stroke-width="1.1" stroke-opacity="0.46"/>
<path d="M1005 373.1L1005.7 373.2L1009.6 374.1L1017.2 375.8L1026.3 377.9L1034.7 380L1041.8 381.9L1047.7 383.9L1053.1 385.9L1058.3 388.2L1063.9 391.1L1070.3 394.7L1077.7 399.2L1085.6 404.1L1092.2 408.3L1095.6 410.5L1096.2 410.9" stroke="#E28DBE" stroke-width="1.1" stroke-opacity="0.54"/>
<path d="M1100.8 417.8C1129.1 474.3 1072.5 474.3 1100.8 417.8" stroke="#BCAAD4" stroke-width="3.6" stroke-opacity="0.8"/>
<path d="M1204.2 168.1C1224.2 108.1 1264.2 148.1 1204.2 168.1" stroke="#4579C4" stroke-width="2" stroke-opacity="0.8"/>
<path d="M1100.8 126.2C1072.5 69.7 1129.1 69.7 1100.8 126.2" stroke="#82B966" stroke-width="1.1" stroke-opacity="0.46"/>
<path d="M990.9 161.6C931 141.6 970.9 101.7 990.9 161.6" stroke="#8146A6" stroke-width="1.1" stroke-opacity="0.54"/>
<path d="M950.7 271.5C894.2 299.8 894.2 243.2 950.7 271.5" stroke="#E69C24" stroke-width="1.3" stroke-opacity="0.8"/>
<path d="M1248.1 271.5C1304.6 243.2 1304.6 299.8 1248.1 271.5" stroke="#D34A1D" stroke-width="1.1" stroke-opacity="0.46"/>
<path d="M1209.3 380C1269.3 400 1229.3 440 1209.3 380" stroke="#9C591A" stroke-width="1.1" stroke-opacity="0.61"/>
<path d="M997.8 374.5C977.8 434.5 937.8 394.5 997.8 374.5" stroke="#E28DBE" stroke-width="1.1" stroke-opacity="0.61"/>
</g>
<g><path d="M1198.8 176.2L1198.1 179.3L1196.2 178.1Z" fill="#A88FC8" fill-opacity="0.9"/><path d="M1100.8 134.1L1101.3 137.3L1099.2 136.9Z" fill="#A88FC8" fill-opacity="0.9"/><path d="M1006.3 184.6L1008 187.3L1005.8 187.8Z" fill="#A88FC8" fill-opacity="0.9"/><path d="M965.7 277.7L968.3 279.6L966.5 280.8Z" fill="#A88FC8" fill-opacity="0.9"/><path d="M1005 373.1L1008.1 373.8L1006.9 375.6Z" fill="#A88FC8" fill-opacity="0.9"/><path d="M1189.4 376.1L1186.7 377.8L1186.3 375.6Z" fill="#A88FC8" fill-opacity="0.9"/><path d="M1237.9 275.7L1236 278.4L1234.8 276.5Z" fill="#A88FC8" fill-opacity="0.9"/><path d="M1015 171.6L1018.1 171L1017.7 173.2Z" fill="#3D74B8" fill-opacity="0.9"/><path d="M1104.4 131.7L1107.6 132.4L1106.4 134.3Z" fill="#3D74B8" fill-opacity="0.9"/><path d="M967.6 268.1L970.3 266.4L970.8 268.6Z" fill="#3D74B8" fill-opacity="0.9"/><path d="M1004 368.3L1005.8 365.7L1007.1 367.5Z" fill="#3D74B8" fill-opacity="0.9"/><path d="M1102.7 408.2L1103.4 405.1L1105.3 406.3Z" fill="#3D74B8" fill-opacity="0.9"/><path d="M1200.7 359.2L1200.2 356.1L1202.3 356.5Z" fill="#3D74B8" fill-opacity="0.9"/><path d="M1239.8 266L1238.1 263.3L1240.2 262.8Z" fill="#3D74B8" fill-opacity="0.9"/><path d="M1013.9 166.2L1016.6 164.5L1017.1 166.6Z" fill="#4FA846" fill-opacity="0.9"/><path d="M965.7 265.3L967.6 262.7L968.8 264.5Z" fill="#4FA846" fill-opacity="0.9"/><path d="M1002.6 367.3L1003.3 364.2L1005.1 365.4Z" fill="#4FA846" fill-opacity="0.9"/><path d="M1100.8 407.8L1100.3 404.7L1102.4 405Z" fill="#4FA846" fill-opacity="0.9"/><path d="M1196 360.1L1194.3 357.4L1196.5 357Z" fill="#4FA846" fill-opacity="0.9"/><path d="M1237.9 267.3L1235.2 265.4L1237.1 264.2Z" fill="#4FA846" fill-opacity="0.9"/><path d="M1196.1 169.7L1193 169L1194.2 167.1Z" fill="#4FA846" fill-opacity="0.9"/><path d="M1097.2 131.7L1094.4 133.4L1094 131.3Z" fill="#7B3F98" fill-opacity="0.9"/><path d="M962.9 263.4L963.6 260.3L965.4 261.4Z" fill="#7B3F98" fill-opacity="0.9"/><path d="M1000.9 367L1000.3 363.9L1002.5 364.3Z" fill="#7B3F98" fill-opacity="0.9"/><path d="M1098.9 408.2L1097.2 405.5L1099.3 405Z" fill="#7B3F98" fill-opacity="0.9"/><path d="M1192.1 362.8L1189.5 360.9L1191.3 359.7Z" fill="#7B3F98" fill-opacity="0.9"/><path d="M1236.6 269.2L1233.4 268.5L1234.6 266.7Z" fill="#7B3F98" fill-opacity="0.9"/><path d="M995.5 184.6L994.8 187.7L992.9 186.5Z" fill="#E08E1B" fill-opacity="0.9"/><path d="M1098 133L1096.2 135.6L1094.9 133.8Z" fill="#E08E1B" fill-opacity="0.9"/><path d="M1196.1 173.5L1193.4 175.2L1192.9 173.1Z" fill="#E08E1B" fill-opacity="0.9"/><path d="M1236.1 271.5L1233 272L1233.3 269.9Z" fill="#E08E1B" fill-opacity="0.9"/><path d="M1189.4 366.7L1186.3 366L1187.5 364.2Z" fill="#E08E1B" fill-opacity="0.9"/><path d="M1097.3 409.3L1094.7 407.4L1096.5 406.2Z" fill="#E08E1B" fill-opacity="0.9"/><path d="M999.2 367.3L997.5 364.6L999.6 364.2Z" fill="#E08E1B" fill-opacity="0.9"/><path d="M1013.9 177L1017 177.7L1015.8 179.5Z" fill="#C9081F" fill-opacity="0.9"/><path d="M1103.6 133L1106.2 134.8L1104.4 136.1Z" fill="#C9081F" fill-opacity="0.9"/><path d="M968.3 271.5L971.4 271L971.1 273.1Z" fill="#C9081F" fill-opacity="0.9"/><path d="M1005 369.7L1007.7 368L1008.1 370.2Z" fill="#C9081F" fill-opacity="0.9"/><path d="M1104.3 409.3L1106.2 406.7L1107.4 408.5Z" fill="#C9081F" fill-opacity="0.9"/><path d="M1205.4 360.1L1206.1 357L1207.9 358.2Z" fill="#C9081F" fill-opacity="0.9"/><path d="M1202.6 176.2L1204.3 178.9L1202.2 179.4Z" fill="#C9081F" fill-opacity="0.9"/><path d="M1010.9 181.6L1013.5 183.4L1011.7 184.6Z" fill="#8B4A2C" fill-opacity="0.9"/><path d="M1102.3 133.8L1104 136.6L1101.9 137Z" fill="#8B4A2C" fill-opacity="0.9"/><path d="M1200.7 176.6L1201.3 179.7L1199.1 179.3Z" fill="#8B4A2C" fill-opacity="0.9"/><path d="M967.6 274.9L970.7 275.6L969.6 277.4Z" fill="#8B4A2C" fill-opacity="0.9"/><path d="M1005.3 371.4L1008.4 370.9L1008 373Z" fill="#8B4A2C" fill-opacity="0.9"/><path d="M1105.4 410.9L1108.1 409.2L1108.6 411.3Z" fill="#8B4A2C" fill-opacity="0.9"/><path d="M1239.8 277L1239.1 280.2L1237.3 279Z" fill="#8B4A2C" fill-opacity="0.9"/><path d="M1000.9 185.7L1001.4 188.8L999.3 188.4Z" fill="#E077B2" fill-opacity="0.9"/><path d="M1099.3 133.8L1098.6 137L1096.7 135.8Z" fill="#E077B2" fill-opacity="0.9"/><path d="M1197.2 175.1L1195.3 177.7L1194.1 175.9Z" fill="#E077B2" fill-opacity="0.9"/><path d="M962.9 279.6L964.6 282.3L962.4 282.8Z" fill="#E077B2" fill-opacity="0.9"/><path d="M1188.5 371.4L1185.4 372L1185.8 369.8Z" fill="#E077B2" fill-opacity="0.9"/><path d="M1236.6 273.8L1233.9 275.5L1233.4 273.4Z" fill="#E077B2" fill-opacity="0.9"/><path d="M1096.2 410.9L1093.1 410.2L1094.3 408.3Z" fill="#E077B2" fill-opacity="0.9"/></g>
<circle cx="1242.1" cy="271.5" r="6" fill="#C9081F"/>
<circle cx="1200.7" cy="171.6" r="5" fill="#3D74B8"/>
<circle cx="1100.8" cy="130.2" r="4" fill="#4FA846"/>
<circle cx="1000.9" cy="171.6" r="14.1" fill="#7B3F98"/>
<circle cx="959.5" cy="271.5" r="8.8" fill="#E08E1B"/>
<circle cx="1000.9" cy="371.4" r="4.4" fill="#E077B2"/>
<circle cx="1100.8" cy="412.8" r="5" fill="#A88FC8"/>
<circle cx="1200.7" cy="371.4" r="12.2" fill="#8B4A2C"/>
<g font-family="'Liberation Sans', Arial, Helvetica, sans-serif" font-size="11.55" fill="#000" stroke="#000" stroke-width="0.25" text-anchor="middle">
<text x="1266.9" y="275.9">B cell</text>
<text x="1215.8" y="156.1">Epithelial cell</text>
<text x="1095.9" y="112.2">mast cell</text>
<text x="973.5" y="161.1">Myeloid cell</text>
<text x="935.7" y="287.1">NK cell</text>
<text x="996.1" y="398.4">Proliferative cell</text>
<text x="1115.7" y="435.7">Stromal cell</text>
<text x="1230.1" y="375.5">T cell</text>
</g>
<text x="1100.8" y="64" font-family="'Liberation Serif', 'Times New Roman', serif" font-size="12.4" fill="#111" stroke="#111" stroke-width="0.25" text-anchor="middle">Number of interactions</text>
<g fill="none">
<path d="M1507.6 408.2L1508 406.4L1510.2 396.3L1514.4 377.1L1519.8 354L1525.1 332.5L1530.1 314.5L1535 299.4L1540.2 285.8L1546.1 272.5L1553.3 258.4L1562.6 242.1L1574 223.1L1586.5 203L1597.1 186.4L1602.7 177.7L1603.7 176.2" stroke="#BCAAD4" stroke-width="3.1" stroke-opacity="0.8"/>
<path d="M1505.7 407.8L1505.3 405.8L1503.3 394.8L1499.6 373.6L1495.3 348.2L1491.7 324.3L1489.3 304.1L1487.9 286.8L1487.5 271L1487.9 255.1L1489.3 237.9L1491.7 217.7L1495.3 193.8L1499.6 168.3L1503.3 147.2L1505.3 136.1L1505.7 134.1" stroke="#BCAAD4" stroke-width="4" stroke-opacity="0.8"/>
<path d="M1503.8 408.2L1502.8 406.7L1497.4 398.4L1487.2 382.3L1475.1 363L1464.1 344.7L1455.3 329L1448.3 315.4L1442.6 302.6L1437.6 289.5L1432.9 274.9L1428 257.6L1422.9 236.8L1417.8 214.6L1413.6 196L1411.5 186.3L1411.2 184.6" stroke="#BCAAD4" stroke-width="3.1" stroke-opacity="0.8"/>
<path d="M1502.2 409.3L1501.1 408.5L1494.8 404.2L1482.8 395.8L1468.5 385.6L1455.3 375.8L1444.4 367.3L1435.4 359.7L1427.6 352.3L1420.2 344.4L1412.6 335.5L1404.1 324.6L1394.3 311.4L1384.1 297.1L1375.7 285.1L1371.4 278.8L1370.6 277.7" stroke="#BCAAD4" stroke-width="5" stroke-opacity="0.8"/>
<path d="M1501.1 410.9L1500.4 410.7L1496.4 409.9L1488.8 408.2L1479.8 406.1L1471.3 404L1464.2 402L1458.3 400.1L1452.9 398.1L1447.7 395.7L1442.2 392.9L1435.8 389.3L1428.3 384.8L1420.4 379.9L1413.9 375.7L1410.5 373.5L1409.9 373.1" stroke="#BCAAD4" stroke-width="5.4" stroke-opacity="0.8"/>
<path d="M1510.3 410.9L1510.9 410.5L1514 408.5L1520 404.7L1527.3 400.1L1534.2 396L1540.1 392.6L1545.2 390L1550 387.9L1554.9 386L1560.4 384.2L1566.9 382.4L1574.7 380.5L1583.1 378.6L1590 377L1593.7 376.2L1594.3 376.1" stroke="#BCAAD4" stroke-width="3.1" stroke-opacity="0.8"/>
<path d="M1509.2 409.3L1510 408.1L1514.4 401.8L1522.9 389.6L1533.3 375.1L1543.2 361.7L1551.8 350.6L1559.6 341.5L1567.1 333.6L1575 326.1L1584.1 318.3L1595.2 309.7L1608.6 299.8L1623.1 289.4L1635.3 280.9L1641.6 276.5L1642.8 275.7" stroke="#BCAAD4" stroke-width="1.8" stroke-opacity="0.8"/>
<path d="M1600.6 171.6L1599.3 171.8L1592 173.2L1578 175.6L1561.2 178.4L1545.5 180.8L1532.1 182.4L1520.7 183.4L1510.2 183.6L1499.8 183.4L1488.4 182.4L1475 180.8L1459.3 178.4L1442.5 175.6L1428.5 173.2L1421.2 171.8L1419.9 171.6" stroke="#4579C4" stroke-width="1.2" stroke-opacity="0.8"/>
<path d="M1601 169.7L1600.3 169.5L1596.3 168.7L1588.7 167L1579.6 164.9L1571.1 162.8L1564 160.8L1558 158.9L1552.6 156.8L1547.4 154.5L1541.8 151.6L1535.4 148L1527.9 143.5L1520 138.5L1513.4 134.3L1510 132.1L1509.3 131.7" stroke="#4579C4" stroke-width="1.1" stroke-opacity="0.57"/>
<path d="M1601 173.5L1599.5 174.5L1591 180L1574.6 190.4L1554.8 202.8L1536.1 214L1520.1 223.1L1506.2 230.2L1493.1 236L1479.7 241.2L1464.8 246L1447.1 250.9L1425.9 256.2L1403.2 261.4L1384.2 265.6L1374.3 267.8L1372.5 268.1" stroke="#4579C4" stroke-width="1.6" stroke-opacity="0.8"/>
<path d="M1602.1 175.1L1601 176.8L1594.6 186L1582.3 203.6L1567.3 224.5L1553 243.9L1540.5 260L1529.3 273.1L1518.4 284.6L1506.9 295.5L1493.7 306.7L1477.7 319.2L1458.3 333.5L1437.3 348.5L1419.8 360.8L1410.5 367.2L1408.9 368.3" stroke="#4579C4" stroke-width="1.3" stroke-opacity="0.8"/>
<path d="M1603.7 176.2L1603.3 178L1601.1 188.1L1596.9 207.3L1591.5 230.4L1586.2 251.9L1581.2 269.9L1576.3 285L1571.1 298.6L1565.2 311.9L1558 326L1548.8 342.3L1537.3 361.3L1524.8 381.3L1514.2 398L1508.6 406.7L1507.6 408.2" stroke="#4579C4" stroke-width="1.1" stroke-opacity="0.57"/>
<path d="M1605.6 176.6L1605.9 177.9L1607.2 185.3L1609.7 199.4L1612.5 216.4L1614.9 232.3L1616.6 245.8L1617.5 257.3L1617.8 267.9L1617.5 278.5L1616.6 290L1614.9 303.5L1612.5 319.4L1609.7 336.4L1607.2 350.5L1605.9 357.9L1605.6 359.2" stroke="#4579C4" stroke-width="1.1" stroke-opacity="0.39"/>
<path d="M1607.5 176.2L1607.9 176.8L1610.1 180.1L1614.2 186.6L1619 194.4L1623.4 201.7L1627 208L1629.8 213.5L1632.1 218.6L1634.1 223.9L1636 229.7L1637.9 236.7L1640 245L1642.1 253.9L1643.7 261.4L1644.6 265.3L1644.7 266" stroke="#4579C4" stroke-width="1.1" stroke-opacity="0.57"/>
<path d="M1502.1 131.7L1501.5 132.1L1498.4 134.1L1492.4 137.9L1485.2 142.4L1478.4 146.5L1472.6 149.8L1467.5 152.4L1462.7 154.5L1457.9 156.4L1452.4 158.1L1446 159.9L1438.3 161.8L1430 163.7L1423.1 165.3L1419.5 166.1L1418.8 166.2" stroke="#82B966" stroke-width="1.4" stroke-opacity="0.8"/>
<path d="M1502.9 133L1502.1 134.1L1497.8 140.4L1489.3 152.5L1479.1 166.8L1469.3 180.1L1460.7 191.1L1453 200.1L1445.6 208L1437.7 215.4L1428.7 223.1L1417.7 231.7L1404.5 241.5L1390.1 251.7L1378.1 260.1L1371.7 264.5L1370.6 265.3" stroke="#82B966" stroke-width="1.4" stroke-opacity="0.8"/>
<path d="M1504.2 133.8L1503.8 135.6L1501.6 145.8L1497.3 165.2L1491.9 188.4L1486.6 210L1481.6 228.2L1476.6 243.4L1471.4 257L1465.4 270.4L1458.2 284.7L1448.9 301L1437.4 320.1L1424.8 340.3L1414.1 357.1L1408.5 365.8L1407.5 367.3" stroke="#82B966" stroke-width="1.1" stroke-opacity="0.66"/>
<path d="M1505.7 134.1L1506.1 136.1L1508.1 147.2L1511.8 168.3L1516.1 193.8L1519.7 217.7L1522.1 237.9L1523.5 255.1L1523.9 271L1523.5 286.8L1522.1 304.1L1519.7 324.3L1516.1 348.2L1511.8 373.6L1508.1 394.8L1506.1 405.8L1505.7 407.8" stroke="#82B966" stroke-width="1.1" stroke-opacity="0.39"/>
<path d="M1507.2 133.8L1508.2 135.3L1513.6 143.8L1524 160L1536.2 179.6L1547.4 198.1L1556.3 214L1563.4 227.8L1569.2 240.7L1574.3 254L1579 268.7L1583.9 286.3L1589.1 307.3L1594.3 329.8L1598.5 348.6L1600.6 358.4L1600.9 360.1" stroke="#82B966" stroke-width="1.1" stroke-opacity="0.3"/>
<path d="M1508.5 133L1509.6 133.8L1516 138.2L1528.3 146.8L1542.8 157.2L1556.3 167.1L1567.5 175.8L1576.6 183.6L1584.6 191.2L1592.2 199.2L1599.9 208.3L1608.6 219.4L1618.6 232.9L1629 247.5L1637.5 259.7L1642 266.1L1642.8 267.3" stroke="#82B966" stroke-width="1.1" stroke-opacity="0.48"/>
<path d="M1509.3 131.7L1510.1 131.9L1514 132.7L1521.6 134.4L1530.8 136.5L1539.2 138.6L1546.4 140.6L1552.3 142.5L1557.7 144.6L1563 146.9L1568.5 149.8L1575 153.4L1582.5 157.9L1590.4 162.9L1597 167.1L1600.4 169.3L1601 169.7" stroke="#82B966" stroke-width="1.1" stroke-opacity="0.39"/>
<path d="M1418.8 166.2L1419.4 165.8L1422.5 163.8L1428.4 160L1435.6 155.5L1442.5 151.4L1448.3 148.1L1453.4 145.5L1458.1 143.4L1463 141.5L1468.4 139.8L1474.9 138L1482.6 136.1L1490.9 134.2L1497.8 132.6L1501.4 131.8L1502.1 131.7" stroke="#8146A6" stroke-width="1.1" stroke-opacity="0.48"/>
<path d="M1400.4 184.6L1400.3 185.2L1399.5 188.6L1398.1 195.2L1396.3 203L1394.5 210.3L1392.8 216.4L1391.1 221.6L1389.3 226.2L1387.3 230.7L1384.9 235.5L1381.7 241L1377.9 247.4L1373.6 254.3L1370 259.9L1368.1 262.9L1367.8 263.4" stroke="#8146A6" stroke-width="1.6" stroke-opacity="0.8"/>
<path d="M1405.8 185.7L1406 187L1407.4 194.3L1409.8 208.3L1412.6 225.2L1415 241L1416.7 254.4L1417.6 265.8L1417.9 276.3L1417.6 286.9L1416.7 298.3L1415 311.7L1412.6 327.5L1409.8 344.4L1407.4 358.4L1406 365.7L1405.8 367" stroke="#8146A6" stroke-width="1.2" stroke-opacity="0.8"/>
<path d="M1411.2 184.6L1412.1 186.1L1417.5 194.4L1427.7 210.5L1439.8 229.8L1450.8 248.1L1459.7 263.8L1466.7 277.4L1472.4 290.2L1477.4 303.3L1482.1 317.9L1486.9 335.2L1492.1 356L1497.2 378.2L1501.3 396.8L1503.4 406.5L1503.8 408.2" stroke="#8146A6" stroke-width="1.1" stroke-opacity="0.66"/>
<path d="M1415.8 181.6L1417.3 182.6L1425.9 188.6L1442.4 200.2L1462.1 214.2L1480.3 227.6L1495.3 239.4L1507.7 249.9L1518.5 260.1L1528.7 270.9L1539.2 283.2L1550.9 298.2L1564.4 316.4L1578.4 336.1L1589.9 352.6L1595.9 361.3L1597 362.8" stroke="#8146A6" stroke-width="1.1" stroke-opacity="0.57"/>
<path d="M1418.8 177L1420.5 177.3L1430.2 179.4L1448.7 183.5L1470.8 188.7L1491.5 193.8L1508.7 198.6L1523.2 203.2L1536.3 208.2L1549 213.9L1562.6 220.9L1578.2 229.7L1596.4 240.7L1615.7 252.7L1631.7 262.9L1640 268.3L1641.5 269.2" stroke="#8146A6" stroke-width="1.1" stroke-opacity="0.48"/>
<path d="M1367.8 263.4L1367.9 262.8L1368.6 259.3L1370.1 252.8L1371.9 245L1373.7 237.7L1375.4 231.6L1377.1 226.4L1378.8 221.8L1380.8 217.3L1383.3 212.5L1386.4 207L1390.3 200.5L1394.6 193.7L1398.2 188.1L1400.1 185.1L1400.4 184.6" stroke="#E69C24" stroke-width="1.1" stroke-opacity="0.66"/>
<path d="M1370.6 265.3L1371.4 264.2L1375.8 257.8L1384.2 245.8L1394.4 231.4L1404.2 218.2L1412.8 207.2L1420.5 198.2L1427.9 190.3L1435.8 182.9L1444.8 175.2L1455.8 166.6L1469.1 156.8L1483.4 146.6L1495.5 138.1L1501.8 133.8L1502.9 133" stroke="#E69C24" stroke-width="1.1" stroke-opacity="0.57"/>
<path d="M1372.5 268.1L1374 267.2L1382.6 261.7L1399 251.2L1418.7 238.9L1437.4 227.6L1453.4 218.5L1467.4 211.4L1480.5 205.6L1493.8 200.5L1508.7 195.6L1526.5 190.7L1547.6 185.5L1570.3 180.2L1589.3 176L1599.2 173.9L1601 173.5" stroke="#E69C24" stroke-width="1.1" stroke-opacity="0.3"/>
<path d="M1373.2 271.5L1375.1 271.1L1385.9 269.2L1406.7 265.5L1431.6 261.4L1454.9 257.8L1474.7 255.4L1491.6 254.1L1507.1 253.6L1522.6 254.1L1539.5 255.4L1559.3 257.8L1582.6 261.4L1607.5 265.5L1628.3 269.2L1639.1 271.1L1641 271.5" stroke="#E69C24" stroke-width="1.1" stroke-opacity="0.3"/>
<path d="M1372.5 274.9L1374.2 275.2L1383.9 277.3L1402.3 281.4L1424.3 286.5L1444.9 291.6L1462.1 296.4L1476.6 301L1489.6 306L1502.3 311.7L1515.8 318.6L1531.3 327.4L1549.5 338.3L1568.7 350.3L1584.6 360.5L1592.9 365.8L1594.3 366.7" stroke="#E69C24" stroke-width="1.1" stroke-opacity="0.3"/>
<path d="M1370.6 277.7L1371.7 278.5L1378 282.8L1390 291.2L1404.3 301.4L1417.5 311.2L1428.4 319.7L1437.3 327.3L1445.2 334.7L1452.6 342.5L1460.2 351.5L1468.7 362.4L1478.5 375.6L1488.7 389.9L1497.1 401.9L1501.4 408.2L1502.2 409.3" stroke="#E69C24" stroke-width="1.1" stroke-opacity="0.57"/>
<path d="M1367.8 279.6L1368.1 280.2L1370.3 283.5L1374.3 289.8L1379 297.4L1383.3 304.5L1386.8 310.7L1389.5 316L1391.8 321.1L1393.8 326.2L1395.6 331.9L1397.5 338.7L1399.5 346.9L1401.5 355.6L1403.1 362.9L1404 366.7L1404.1 367.3" stroke="#E69C24" stroke-width="1.1" stroke-opacity="0.57"/>
<path d="M1641.5 269.2L1639.7 268.8L1630.1 266.8L1611.6 262.7L1589.5 257.5L1568.8 252.4L1551.5 247.6L1537 242.9L1524 237.9L1511.2 232.2L1497.7 225.3L1482 216.5L1463.8 205.5L1444.6 193.5L1428.6 183.3L1420.3 177.9L1418.8 177" stroke="#D34A1D" stroke-width="1.2" stroke-opacity="0.8"/>
<path d="M1642.8 267.3L1641.6 266.5L1635.2 262L1623 253.5L1608.4 243.1L1594.9 233.1L1583.8 224.4L1574.7 216.7L1566.7 209.1L1559.1 201.1L1551.3 192L1542.6 180.8L1532.7 167.3L1522.3 152.8L1513.7 140.5L1509.3 134.1L1508.5 133" stroke="#D34A1D" stroke-width="1.1" stroke-opacity="0.66"/>
<path d="M1641 271.5L1639.1 271.9L1628.3 273.8L1607.5 277.5L1582.6 281.6L1559.3 285.2L1539.5 287.6L1522.6 288.9L1507.1 289.4L1491.6 288.9L1474.7 287.6L1454.9 285.2L1431.6 281.6L1406.7 277.5L1385.9 273.8L1375.1 271.9L1373.2 271.5" stroke="#D34A1D" stroke-width="1.4" stroke-opacity="0.8"/>
<path d="M1641.5 273.8L1639.9 274.8L1631.3 280.4L1614.7 291L1594.6 303.5L1575.7 314.9L1559.4 324.1L1545.3 331.3L1532 337.2L1518.5 342.4L1503.4 347.3L1485.4 352.3L1463.9 357.6L1440.9 362.9L1421.7 367.2L1411.6 369.4L1409.9 369.7" stroke="#D34A1D" stroke-width="1.3" stroke-opacity="0.8"/>
<path d="M1642.8 275.7L1642 276.9L1637.6 283.2L1629.1 295.4L1618.7 309.9L1608.8 323.3L1600.2 334.4L1592.4 343.5L1584.9 351.4L1577 358.9L1567.9 366.7L1556.8 375.3L1543.4 385.2L1528.9 395.6L1516.7 404.1L1510.4 408.5L1509.2 409.3" stroke="#D34A1D" stroke-width="1.1" stroke-opacity="0.57"/>
<path d="M1644.7 277L1644.6 277.7L1643.8 281.3L1642.3 288.2L1640.3 296.5L1638.4 304.2L1636.6 310.6L1634.9 316L1633 320.9L1630.9 325.7L1628.3 330.7L1625 336.5L1620.9 343.3L1616.4 350.5L1612.6 356.5L1610.6 359.6L1610.3 360.1" stroke="#D34A1D" stroke-width="1.1" stroke-opacity="0.3"/>
<path d="M1644.7 266L1644.3 265.4L1642.2 262L1638.1 255.6L1633.2 247.8L1628.8 240.5L1625.2 234.2L1622.4 228.7L1620.1 223.6L1618.1 218.3L1616.2 212.5L1614.3 205.5L1612.2 197.2L1610.2 188.2L1608.5 180.8L1607.7 176.9L1607.5 176.2" stroke="#D34A1D" stroke-width="1.1" stroke-opacity="0.3"/>
<path d="M1597 362.8L1595.5 361.7L1586.8 355.7L1570.3 344.2L1550.6 330.2L1532.4 316.7L1517.4 305L1505.1 294.5L1494.3 284.3L1484.1 273.5L1473.6 261.1L1461.8 246.1L1448.4 227.9L1434.4 208.2L1422.8 191.7L1416.8 183.1L1415.8 181.6" stroke="#9C591A" stroke-width="1.1" stroke-opacity="0.66"/>
<path d="M1600.9 360.1L1600 358.7L1594.5 350.2L1584.2 334L1572 314.4L1560.8 295.9L1551.8 280L1544.8 266.2L1539 253.2L1533.9 240L1529.1 225.3L1524.3 207.7L1519.1 186.7L1513.9 164.2L1509.7 145.4L1507.6 135.6L1507.2 133.8" stroke="#9C591A" stroke-width="1.1" stroke-opacity="0.48"/>
<path d="M1605.6 359.2L1605.4 357.9L1604 350.5L1601.5 336.4L1598.7 319.4L1596.3 303.5L1594.6 290L1593.7 278.5L1593.4 267.9L1593.7 257.3L1594.6 245.8L1596.3 232.3L1598.7 216.4L1601.5 199.4L1604 185.3L1605.4 177.9L1605.6 176.6" stroke="#9C591A" stroke-width="1.1" stroke-opacity="0.3"/>
<path d="M1594.3 366.7L1592.6 366.4L1583 364.3L1564.6 360.2L1542.5 355.1L1522 350L1504.7 345.2L1490.3 340.6L1477.3 335.6L1464.6 329.9L1451.1 323L1435.5 314.2L1417.4 303.3L1398.2 291.3L1382.3 281.2L1374 275.8L1372.5 274.9" stroke="#9C591A" stroke-width="1.4" stroke-opacity="0.8"/>
<path d="M1593.4 371.4L1592.1 371.7L1584.7 373L1570.5 375.5L1553.5 378.3L1537.5 380.8L1524 382.4L1512.4 383.3L1501.8 383.6L1491.2 383.3L1479.6 382.4L1466.1 380.8L1450.1 378.3L1433.1 375.5L1418.9 373L1411.5 371.7L1410.2 371.4" stroke="#9C591A" stroke-width="1.2" stroke-opacity="0.8"/>
<path d="M1594.3 376.1L1593.8 376.4L1590.7 378.5L1584.6 382.3L1577.4 386.8L1570.5 391L1564.6 394.3L1559.5 396.9L1554.7 399.1L1549.7 401L1544.3 402.7L1537.7 404.6L1529.9 406.5L1521.6 408.4L1514.6 410L1511 410.7L1510.3 410.9" stroke="#9C591A" stroke-width="1.1" stroke-opacity="0.57"/>
<path d="M1610.3 360.1L1610.4 359.5L1611.2 355.9L1612.7 349L1614.6 340.7L1616.5 333L1618.3 326.6L1620.1 321.2L1622 316.3L1624.1 311.5L1626.7 306.5L1630 300.6L1634.1 293.8L1638.5 286.7L1642.3 280.7L1644.3 277.6L1644.7 277" stroke="#9C591A" stroke-width="1.1" stroke-opacity="0.57"/>
<path d="M1405.8 367L1405.5 365.7L1404.2 358.4L1401.7 344.4L1398.9 327.5L1396.5 311.7L1394.9 298.3L1394 286.9L1393.7 276.3L1394 265.8L1394.9 254.4L1396.5 241L1398.9 225.2L1401.7 208.3L1404.2 194.3L1405.5 187L1405.8 185.7" stroke="#E28DBE" stroke-width="1.1" stroke-opacity="0.57"/>
<path d="M1407.5 367.3L1407.9 365.6L1410 355.4L1414.3 336L1419.7 312.8L1425.1 291.2L1430.1 273L1435 257.8L1440.3 244.2L1446.2 230.8L1453.5 216.5L1462.8 200.2L1474.3 181.1L1486.9 160.9L1497.6 144.1L1503.2 135.4L1504.2 133.8" stroke="#E28DBE" stroke-width="1.1" stroke-opacity="0.48"/>
<path d="M1408.9 368.3L1410 366.7L1416.4 357.4L1428.7 339.9L1443.7 318.9L1458 299.5L1470.5 283.5L1481.7 270.3L1492.6 258.8L1504.1 247.9L1517.2 236.7L1533.3 224.2L1552.7 209.9L1573.6 194.9L1591.2 182.6L1600.4 176.2L1602.1 175.1" stroke="#E28DBE" stroke-width="1.1" stroke-opacity="0.39"/>
<path d="M1404.1 367.3L1403.7 366.8L1401.6 363.5L1397.6 357.2L1392.9 349.6L1388.5 342.4L1385.1 336.3L1382.3 330.9L1380.1 325.9L1378.1 320.8L1376.3 315.1L1374.4 308.2L1372.4 300.1L1370.3 291.4L1368.7 284.1L1367.9 280.3L1367.8 279.6" stroke="#E28DBE" stroke-width="1.2" stroke-opacity="0.8"/>
<path d="M1410.2 371.4L1411.5 371.2L1418.9 369.8L1433.1 367.3L1450.1 364.5L1466.1 362.1L1479.6 360.4L1491.2 359.5L1501.8 359.2L1512.4 359.5L1524 360.4L1537.5 362.1L1553.5 364.5L1570.5 367.3L1584.7 369.8L1592.1 371.2L1593.4 371.4" stroke="#E28DBE" stroke-width="1.1" stroke-opacity="0.3"/>
<path d="M1409.9 369.7L1411.4 368.7L1420 363.2L1436.6 352.6L1456.7 340.1L1475.6 328.6L1491.9 319.5L1506 312.2L1519.3 306.3L1532.8 301.1L1547.9 296.2L1565.9 291.3L1587.4 285.9L1610.4 280.6L1629.6 276.3L1639.7 274.2L1641.5 273.8" stroke="#E28DBE" stroke-width="1.1" stroke-opacity="0.3"/>
<path d="M1409.9 373.1L1410.6 373.2L1414.5 374.1L1422.1 375.8L1431.2 377.9L1439.6 380L1446.7 381.9L1452.6 383.9L1458 385.9L1463.2 388.2L1468.8 391.1L1475.2 394.7L1482.6 399.2L1490.5 404.1L1497.1 408.3L1500.5 410.5L1501.1 410.9" stroke="#E28DBE" stroke-width="1.1" stroke-opacity="0.57"/>
<path d="M1505.7 417.8C1534 474.3 1477.4 474.3 1505.7 417.8" stroke="#BCAAD4" stroke-width="3.1" stroke-opacity="0.8"/>
<path d="M1609.1 168.1C1629.1 108.1 1669.1 148.1 1609.1 168.1" stroke="#4579C4" stroke-width="1.1" stroke-opacity="0.66"/>
<path d="M1505.7 126.2C1477.4 69.7 1534 69.7 1505.7 126.2" stroke="#82B966" stroke-width="1.1" stroke-opacity="0.39"/>
<path d="M1395.8 161.6C1335.9 141.6 1375.8 101.7 1395.8 161.6" stroke="#8146A6" stroke-width="1.4" stroke-opacity="0.8"/>
<path d="M1355.6 271.5C1299.1 299.8 1299.1 243.2 1355.6 271.5" stroke="#E69C24" stroke-width="1.6" stroke-opacity="0.8"/>
<path d="M1653 271.5C1709.5 243.2 1709.5 299.8 1653 271.5" stroke="#D34A1D" stroke-width="1.1" stroke-opacity="0.48"/>
<path d="M1614.2 380C1674.2 400 1634.2 440 1614.2 380" stroke="#9C591A" stroke-width="1.1" stroke-opacity="0.39"/>
<path d="M1402.7 374.5C1382.7 434.5 1342.7 394.5 1402.7 374.5" stroke="#E28DBE" stroke-width="1.1" stroke-opacity="0.66"/>
</g>
<g><path d="M1603.7 176.2L1603 179.3L1601.1 178.1Z" fill="#A88FC8" fill-opacity="0.9"/><path d="M1505.7 134.1L1506.2 137.3L1504.1 136.9Z" fill="#A88FC8" fill-opacity="0.9"/><path d="M1411.2 184.6L1412.9 187.3L1410.7 187.8Z" fill="#A88FC8" fill-opacity="0.9"/><path d="M1370.6 277.7L1373.2 279.6L1371.4 280.8Z" fill="#A88FC8" fill-opacity="0.9"/><path d="M1409.9 373.1L1413 373.8L1411.8 375.6Z" fill="#A88FC8" fill-opacity="0.9"/><path d="M1594.3 376.1L1591.6 377.8L1591.2 375.6Z" fill="#A88FC8" fill-opacity="0.9"/><path d="M1642.8 275.7L1640.9 278.4L1639.7 276.5Z" fill="#A88FC8" fill-opacity="0.9"/><path d="M1419.9 171.6L1423 171L1422.6 173.2Z" fill="#3D74B8" fill-opacity="0.9"/><path d="M1509.3 131.7L1512.5 132.4L1511.3 134.3Z" fill="#3D74B8" fill-opacity="0.9"/><path d="M1372.5 268.1L1375.2 266.4L1375.7 268.6Z" fill="#3D74B8" fill-opacity="0.9"/><path d="M1408.9 368.3L1410.7 365.7L1412 367.5Z" fill="#3D74B8" fill-opacity="0.9"/><path d="M1507.6 408.2L1508.3 405.1L1510.2 406.3Z" fill="#3D74B8" fill-opacity="0.9"/><path d="M1605.6 359.2L1605.1 356.1L1607.2 356.5Z" fill="#3D74B8" fill-opacity="0.9"/><path d="M1644.7 266L1643 263.3L1645.1 262.8Z" fill="#3D74B8" fill-opacity="0.9"/><path d="M1418.8 166.2L1421.5 164.5L1422 166.6Z" fill="#4FA846" fill-opacity="0.9"/><path d="M1370.6 265.3L1372.5 262.7L1373.7 264.5Z" fill="#4FA846" fill-opacity="0.9"/><path d="M1407.5 367.3L1408.2 364.2L1410 365.4Z" fill="#4FA846" fill-opacity="0.9"/><path d="M1505.7 407.8L1505.2 404.7L1507.3 405Z" fill="#4FA846" fill-opacity="0.9"/><path d="M1600.9 360.1L1599.2 357.4L1601.4 357Z" fill="#4FA846" fill-opacity="0.9"/><path d="M1642.8 267.3L1640.1 265.4L1642 264.2Z" fill="#4FA846" fill-opacity="0.9"/><path d="M1601 169.7L1597.9 169L1599.1 167.1Z" fill="#4FA846" fill-opacity="0.9"/><path d="M1502.1 131.7L1499.3 133.4L1498.9 131.3Z" fill="#7B3F98" fill-opacity="0.9"/><path d="M1367.8 263.4L1368.5 260.3L1370.3 261.4Z" fill="#7B3F98" fill-opacity="0.9"/><path d="M1405.8 367L1405.2 363.9L1407.4 364.3Z" fill="#7B3F98" fill-opacity="0.9"/><path d="M1503.8 408.2L1502.1 405.5L1504.2 405Z" fill="#7B3F98" fill-opacity="0.9"/><path d="M1597 362.8L1594.4 360.9L1596.2 359.7Z" fill="#7B3F98" fill-opacity="0.9"/><path d="M1641.5 269.2L1638.3 268.5L1639.5 266.7Z" fill="#7B3F98" fill-opacity="0.9"/><path d="M1400.4 184.6L1399.7 187.7L1397.8 186.5Z" fill="#E08E1B" fill-opacity="0.9"/><path d="M1502.9 133L1501.1 135.6L1499.8 133.8Z" fill="#E08E1B" fill-opacity="0.9"/><path d="M1601 173.5L1598.3 175.2L1597.8 173.1Z" fill="#E08E1B" fill-opacity="0.9"/><path d="M1641 271.5L1637.9 272L1638.2 269.9Z" fill="#E08E1B" fill-opacity="0.9"/><path d="M1594.3 366.7L1591.2 366L1592.4 364.2Z" fill="#E08E1B" fill-opacity="0.9"/><path d="M1502.2 409.3L1499.6 407.4L1501.4 406.2Z" fill="#E08E1B" fill-opacity="0.9"/><path d="M1404.1 367.3L1402.4 364.6L1404.5 364.2Z" fill="#E08E1B" fill-opacity="0.9"/><path d="M1418.8 177L1421.9 177.7L1420.7 179.5Z" fill="#C9081F" fill-opacity="0.9"/><path d="M1508.5 133L1511.1 134.8L1509.3 136.1Z" fill="#C9081F" fill-opacity="0.9"/><path d="M1373.2 271.5L1376.3 271L1376 273.1Z" fill="#C9081F" fill-opacity="0.9"/><path d="M1409.9 369.7L1412.6 368L1413 370.2Z" fill="#C9081F" fill-opacity="0.9"/><path d="M1509.2 409.3L1511.1 406.7L1512.3 408.5Z" fill="#C9081F" fill-opacity="0.9"/><path d="M1610.3 360.1L1611 357L1612.8 358.2Z" fill="#C9081F" fill-opacity="0.9"/><path d="M1607.5 176.2L1609.2 178.9L1607.1 179.4Z" fill="#C9081F" fill-opacity="0.9"/><path d="M1415.8 181.6L1418.4 183.4L1416.6 184.6Z" fill="#8B4A2C" fill-opacity="0.9"/><path d="M1507.2 133.8L1508.9 136.6L1506.8 137Z" fill="#8B4A2C" fill-opacity="0.9"/><path d="M1605.6 176.6L1606.2 179.7L1604 179.3Z" fill="#8B4A2C" fill-opacity="0.9"/><path d="M1372.5 274.9L1375.6 275.6L1374.5 277.4Z" fill="#8B4A2C" fill-opacity="0.9"/><path d="M1410.2 371.4L1413.3 370.9L1412.9 373Z" fill="#8B4A2C" fill-opacity="0.9"/><path d="M1510.3 410.9L1513 409.2L1513.5 411.3Z" fill="#8B4A2C" fill-opacity="0.9"/><path d="M1644.7 277L1644 280.2L1642.2 279Z" fill="#8B4A2C" fill-opacity="0.9"/><path d="M1405.8 185.7L1406.3 188.8L1404.2 188.4Z" fill="#E077B2" fill-opacity="0.9"/><path d="M1504.2 133.8L1503.5 137L1501.6 135.8Z" fill="#E077B2" fill-opacity="0.9"/><path d="M1602.1 175.1L1600.2 177.7L1599 175.9Z" fill="#E077B2" fill-opacity="0.9"/><path d="M1367.8 279.6L1369.5 282.3L1367.3 282.8Z" fill="#E077B2" fill-opacity="0.9"/><path d="M1593.4 371.4L1590.3 372L1590.7 369.8Z" fill="#E077B2" fill-opacity="0.9"/><path d="M1641.5 273.8L1638.8 275.5L1638.3 273.4Z" fill="#E077B2" fill-opacity="0.9"/><path d="M1501.1 410.9L1498 410.2L1499.2 408.3Z" fill="#E077B2" fill-opacity="0.9"/></g>
<circle cx="1647" cy="271.5" r="6" fill="#C9081F"/>
<circle cx="1605.6" cy="171.6" r="5" fill="#3D74B8"/>
<circle cx="1505.7" cy="130.2" r="4" fill="#4FA846"/>
<circle cx="1405.8" cy="171.6" r="14.1" fill="#7B3F98"/>
<circle cx="1364.4" cy="271.5" r="8.8" fill="#E08E1B"/>
<circle cx="1405.8" cy="371.4" r="4.4" fill="#E077B2"/>
<circle cx="1505.7" cy="412.8" r="5" fill="#A88FC8"/>
<circle cx="1605.6" cy="371.4" r="12.2" fill="#8B4A2C"/>
<g font-family="'Liberation Sans', Arial, Helvetica, sans-serif" font-size="11.55" fill="#000" stroke="#000" stroke-width="0.25" text-anchor="middle">
<text x="1671.8" y="275.9">B cell</text>
<text x="1620.7" y="156.1">Epithelial cell</text>
<text x="1500.8" y="112.2">mast cell</text>
<text x="1378.4" y="161.1">Myeloid cell</text>
<text x="1340.6" y="287.1">NK cell</text>
<text x="1401" y="398.4">Proliferative cell</text>
<text x="1520.6" y="435.7">Stromal cell</text>
<text x="1635" y="375.5">T cell</text>
</g>
<text x="1505.7" y="62.9" font-family="'Liberation Serif', 'Times New Roman', serif" font-size="12.4" fill="#111" stroke="#111" stroke-width="0.25" text-anchor="middle">Interaction weight/strength</text>
<path d="M129.9 640.1L148.6 628.1L167.4 619.5L186.2 613.1L203.3 608.2L229.9 603.7L255 601.9L269.6 603L284.2 606.4L294.6 612.7L305 619.9L323.8 628.9L340.5 637.5L357.1 646.9M357.1 646.9L362.6 666.4L367.6 688.9L371.7 707.6L375.1 724.9L378 741.4M357.1 646.9L398.8 574.1" fill="none" stroke="#000" stroke-width="1.8" stroke-linejoin="round"/>
<g fill="none" stroke-linecap="round" stroke-width="5.1" transform="scale(.5)">
<path stroke="#4E84C3" d="M299 1234h0m6 31h0m3-70h0m0 43h0m2 24h0m0 17h0m1-28h0m1 25h0m1-34h0m0 7h0m1-17h0m4-28h0m0 42h0m0 19h0m1 6h0m0 19h0m1-87h0m0 40h0m1-10h0m1 25h0m1-58h0m1 19h0m1-9h0m0 56h0m1-53h0m0 28h0m0 0h0m1 25h0m4-40h0m0 41h0m2-40h0m1-8h0m0 9h0m1 45h0m2-60h0m0 23h0m2 0h0m1-5h0m1 7h0m1-25h0m2 34h0"/>
<path stroke="#609CDA" d="M174 1388h0m5 20h0m1-49h0m1-5h0m4 19h0m2-10h0m2-13h0m1 22h0m0 3h0m2-33h0m0 26h0m0 2h0m1-26h0m3 10h0m0 27h0m3-16h0m0 36h0m1-41h0m0 34h0m2 2h0m0 10h0m1-51h0m0 23h0m3 1h0m1 23h0m1-3h0m2-63h0m2 37h0m1-25h0m2 27h0m8 46h0m5-92h0m0 77h0m6-157h0m2 125h0m7-98h0"/>
<path stroke="#5289C8" d="M271 1231h0m4-30h0m4 49h0m1 12h0m0 1h0m0 2h0m2-37h0m0 32h0m1-38h0m1 23h0m1 23h0m1-36h0m0 7h0m1 3h0m2 27h0m1-43h0m0 24h0m0 21h0m1-3h0m1-35h0m1 20h0m0 10h0m1-95h0m1 45h0m0 40h0m3-24h0m0 36h0m1-21h0m0 25h0m2 4h0m1-26h0m0 5h0m0 3h0m1-25h0m0 0h0m0 27h0m0 18h0m1-23h0m0 2h0m0 0h0m2-25h0m0 28h0m0 4h0m0 2h0m1-27h0m0 26h0m1-33h0m0 29h0m0 14h0m1-62h0m0 19h0m0 41h0m1-42h0m0 29h0m1-12h0m0 1h0m1 23h0m3-30h0m0 25h0m1-28h0m1 24h0m11 9h0"/>
<path stroke="#1C2B49" d="M786 1125h0m2-20h0m0 16h0m1-22h0m1 14h0m1-12h0m0 5h0m0 3h0m0 11h0m0 20h0m1-34h0m0 12h0m0 10h0m1-21h0m0 8h0m0 15h0m0 0h0m0 7h0m1-45h0m0 6h0m0 11h0m0 12h0m0 6h0m1-19h0m0 2h0m0 1h0m0 7h0m0 7h0m0 10h0m1-42h0m0 9h0m0 13h0m0 0h0m0 7h0m0 2h0m0 0h0m1-24h0m0 4h0m0 1h0m0 13h0m0 1h0m0 29h0m0 6h0m1-58h0m0 5h0m0 7h0m0 2h0m0 0h0m0 2h0m0 3h0m0 7h0m0 0h0m0 3h0m0 1h0m0 7h0m0 1h0m1-45h0m0 5h0m0 25h0m0 5h0m0 9h0m1-31h0m0 1h0m0 1h0m0 3h0m0 1h0m0 1h0m0 0h0m0 4h0m0 0h0m0 9h0m0 4h0m0 1h0m1-43h0m0 8h0m0 12h0m0 5h0m0 4h0m0 2h0m0 1h0m0 0h0m0 2h0m0 8h0m0 1h0m0 13h0m0 3h0m0 0h0m0 2h0m0 9h0m0 2h0m1-67h0m0 0h0m0 6h0m0 6h0m0 3h0m0 13h0m0 1h0m0 2h0m0 2h0m0 1h0m0 3h0m0 5h0m0 29h0m1-83h0m0 9h0m0 3h0m0 1h0m0 7h0m0 2h0m0 6h0m0 3h0m0 2h0m0 2h0m0 1h0m0 15h0m0 4h0m0 2h0m1-45h0m0 0h0m0 14h0m0 15h0m0 0h0m0 7h0m0 18h0m1-42h0m0 14h0m0 2h0m0 4h0m0 1h0m0 8h0m0 12h0m0 16h0m0 6h0m1-65h0m0 13h0m0 2h0m0 1h0m0 11h0m0 8h0m0 8h0m1-42h0m0 5h0m0 3h0m0 18h0m0 10h0m0 4h0m0 12h0m1-65h0m0 34h0m0 3h0m0 3h0m0 4h0m0 2h0m1-16h0m0 10h0m0 6h0m0 4h0m0 9h0m0 23h0m1-91h0m0 32h0m0 5h0m0 1h0m0 6h0m0 1h0m0 0h0m0 8h0m0 6h0m0 3h0m0 2h0m0 10h0m0 0h0m1-33h0m0 22h0m0 8h0m0 0h0m0 4h0m0 4h0m1-31h0m0 1h0m0 10h0m0 11h0m0 0h0m0 2h0m0 2h0m0 5h0m0 5h0m1-45h0m0 14h0m0 4h0m0 1h0m0 0h0m0 13h0m1-22h0m0 7h0m0 0h0m0 5h0m0 2h0m0 2h0m0 3h0m0 2h0m0 26h0m1-73h0m0 34h0m0 1h0m0 4h0m0 2h0m0 6h0m1-27h0m0 4h0m0 6h0m0 0h0m0 5h0m0 9h0m0 7h0m1-30h0m0 9h0m0 5h0m0 9h0m0 0h0m0 11h0m0 11h0m0 35h0m1-102h0m0 22h0m0 4h0m0 8h0m0 1h0m0 4h0m0 3h0m0 0h0m0 2h0m0 0h0m0 6h0m0 2h0m0 40h0m0 3h0m1-55h0m0 6h0m0 4h0m0 0h0m0 69h0m1-77h0m0 19h0m0 41h0m1-81h0m0 27h0m0 56h0m1-55h0m0 0h0m0 12h0m1-14h0m0 38h0m0 2h0m1 4h0m1-77h0m0 21h0m0 25h0m0 41h0m2-10h0"/>
<path stroke="#2D4D7D" d="M582 1223h0m3 10h0m3-20h0m0 2h0m1 2h0m0 16h0m1-14h0m0 4h0m0 8h0m1-3h0m0 2h0m0 7h0m2 76h0m1-81h0m0 17h0m1-5h0m0 4h0m1-15h0m1 6h0m0 1h0m0 9h0m1-12h0m1-2h0m0 6h0m0 8h0m0 10h0m1-9h0m0 1h0m0 14h0m1-22h0m0 18h0m0 0h0m1-22h0m0 8h0m0 2h0m0 4h0m0 4h0m0 6h0m1-28h0m0 1h0m0 11h0m0 0h0m0 4h0m0 0h0m0 1h0m0 0h0m0 0h0m0 2h0m0 6h0m0 7h0m0 1h0m0 5h0m0 24h0m1-64h0m0 0h0m0 5h0m0 17h0m0 2h0m0 0h0m0 11h0m1-39h0m0 3h0m0 15h0m0 1h0m0 0h0m0 2h0m0 2h0m0 1h0m0 2h0m0 12h0m0 1h0m0 0h0m1-46h0m0 12h0m0 2h0m0 14h0m0 1h0m0 4h0m0 3h0m0 3h0m0 3h0m0 1h0m1-29h0m0 26h0m0 2h0m0 7h0m1-39h0m0 0h0m0 1h0m0 4h0m0 3h0m0 11h0m0 3h0m0 2h0m0 2h0m1-32h0m0 17h0m0 17h0m1-29h0m0 2h0m0 4h0m0 0h0m0 2h0m0 0h0m0 6h0m0 6h0m0 6h0m0 6h0m0 8h0m1-37h0m0 3h0m0 2h0m0 9h0m0 5h0m0 2h0m1-18h0m0 10h0m0 7h0m1-21h0m0 2h0m0 9h0m0 2h0m0 1h0m0 3h0m0 17h0m1-44h0m0 18h0m0 4h0m0 5h0m1-19h0m0 3h0m0 4h0m0 0h0m0 15h0m1-19h0m0 7h0m1 6h0m0 1h0m0 5h0m0 4h0m1-12h0m0 1h0m0 12h0m1-21h0m1 5h0m0 3h0m1-5h0m0 9h0m0 5h0m1-5h0m1-3h0m2 19h0m2-52h0m1 32h0m1 8h0m7-2h0m117 300h0m4-18h0m1 7h0m0 3h0m0 13h0m1-44h0m0 1h0m0 11h0m0 10h0m0 1h0m1 15h0m1-23h0m0 21h0m1-26h0m0 3h0m0 34h0m0 20h0m0 4h0m2-70h0m0 23h0m0 42h0m1-28h0m0 2h0m0 15h0m0 5h0m1-52h0m0 11h0m0 9h0m0 2h0m0 7h0m0 26h0m1-52h0m0 3h0m0 28h0m0 1h0m0 2h0m0 2h0m0 0h0m1-25h0m0 40h0m0 5h0m1-71h0m0 28h0m0 5h0m0 2h0m0 2h0m0 2h0m0 10h0m0 5h0m1-47h0m0 13h0m0 5h0m0 4h0m0 1h0m0 7h0m0 13h0m0 11h0m1-20h0m0 5h0m0 2h0m0 24h0m0 1h0m1-32h0m0 0h0m0 3h0m0 5h0m1-30h0m0 13h0m0 14h0m0 12h0m0 3h0m0 5h0m0 11h0m1-48h0m0 30h0m0 5h0m0 7h0m0 1h0m0 2h0m1-68h0m0 3h0m0 29h0m0 8h0m0 7h0m0 6h0m0 1h0m0 2h0m0 3h0m1-51h0m0 22h0m0 33h0m1-32h0m0 13h0m0 2h0m1-14h0m0 2h0m0 12h0m0 11h0m0 6h0m1-14h0m1-20h0m0 20h0m0 14h0m0 6h0m1-37h0m0 16h0m0 5h0m2-21h0m0 17h0m1-2h0m0 16h0m1-16h0m0 9h0m1-18h0m0 12h0m1 6h0"/>
<path stroke="#305283" d="M554 1202h0m2 3h0m1-36h0m1 13h0m1 12h0m2 15h0m0 7h0m1 13h0m1-48h0m0 16h0m1 4h0m0 3h0m0 8h0m2-24h0m0 11h0m0 4h0m0 1h0m0 1h0m0 7h0m0 7h0m1-20h0m0 6h0m0 0h0m0 17h0m1-30h0m0 3h0m0 15h0m1-19h0m0 10h0m0 1h0m0 1h0m0 3h0m0 5h0m0 17h0m1-63h0m0 24h0m0 6h0m0 3h0m0 2h0m0 0h0m0 1h0m0 1h0m0 1h0m0 4h0m1-17h0m0 5h0m0 6h0m0 0h0m0 11h0m0 1h0m0 0h0m0 2h0m1-29h0m0 8h0m0 1h0m0 1h0m0 9h0m0 6h0m0 10h0m0 3h0m0 3h0m1-35h0m0 8h0m0 4h0m0 0h0m0 1h0m0 23h0m1-43h0m0 10h0m0 1h0m0 7h0m0 8h0m1-16h0m0 7h0m0 1h0m0 19h0m1-18h0m0 14h0m1 3h0m1-18h0m0 9h0m0 12h0m1 14h0m1-19h0m0 6h0m1 4h0m1-20h0m0 10h0m0 5h0m0 1h0m0 3h0m1-12h0m0 5h0m0 3h0m1-6h0m0 4h0m1-10h0m0 5h0m0 1h0m0 7h0m0 1h0m1-9h0m0 2h0m0 4h0m1 2h0m0 6h0m1-15h0m0 1h0m0 1h0m0 13h0m0 2h0m1-10h0m1-3h0m0 4h0m1 4h0m0 2h0m1 4h0m2-18h0m0 2h0m0 1h0m0 5h0m0 6h0m0 5h0m0 4h0m0 85h0m1-102h0m0 8h0m0 0h0m0 9h0m0 7h0m0 51h0m0 2h0m0 20h0m1-107h0m0 0h0m0 3h0m0 8h0m0 6h0m0 99h0m1-98h0m0 7h0m0 80h0m1 16h0m1-105h0m0 16h0m0 20h0m0 45h0m1-73h0m0 47h0m0 2h0m0 2h0m0 6h0m0 22h0m0 14h0m1-92h0m0 23h0m0 16h0m0 5h0m0 8h0m0 2h0m0 9h0m0 0h0m1-71h0m0 7h0m0 43h0m0 7h0m0 4h0m0 15h0m0 17h0m0 19h0m1-116h0m0 4h0m0 8h0m0 1h0m0 11h0m0 17h0m0 5h0m0 7h0m0 1h0m0 2h0m0 2h0m0 20h0m0 1h0m1-42h0m0 5h0m0 10h0m0 3h0m0 4h0m0 2h0m0 10h0m0 2h0m0 7h0m1-82h0m0 19h0m0 5h0m0 21h0m0 4h0m0 1h0m0 1h0m0 3h0m0 3h0m0 11h0m0 6h0m0 9h0m1-34h0m0 2h0m0 4h0m0 6h0m0 0h0m0 5h0m0 4h0m0 4h0m0 4h0m0 9h0m0 0h0m1-69h0m0 3h0m0 22h0m0 6h0m0 4h0m0 1h0m0 6h0m0 2h0m0 2h0m0 0h0m0 3h0m0 3h0m0 0h0m0 4h0m0 7h0m1-71h0m0 42h0m0 2h0m0 16h0m0 3h0m0 0h0m0 8h0m1-74h0m0 51h0m0 8h0m0 1h0m0 11h0m1-27h0m0 2h0m0 3h0m0 7h0m0 5h0m0 4h0m1-7h0m0 1h0m0 2h0m1-24h0m0 29h0m3-36h0m136 334h0m4 6h0m6 6h0m2-33h0m1 42h0m1-17h0m0 11h0m1-39h0m0 22h0m0 15h0m1-13h0m1 11h0m1-18h0m0 15h0m1-30h0m0 38h0m1-35h0m0 1h0m0 14h0m0 57h0m1-54h0m0 3h0m1-26h0m0 18h0m0 5h0m0 5h0m0 6h0m0 9h0m0 9h0m1-38h0m0 12h0m0 4h0m0 14h0m0 15h0m1-52h0m0 7h0m0 9h0m0 8h0m0 24h0m1-13h0m1-23h0m0 1h0m0 44h0m1-56h0m0 5h0m0 13h0m0 2h0m0 29h0m1-75h0m0 22h0m0 39h0m2-38h0m0 9h0m0 37h0m0 3h0m1-43h0m0 5h0m0 20h0m1-42h0m0 10h0m0 11h0m0 3h0m0 7h0m2-16h0m0 19h0m0 21h0m0 6h0m1-29h0m2-7h0m0 1h0m1-18h0m0 19h0m0 26h0m3-50h0m1 14h0m2-5h0m3 48h0"/>
<path stroke="#5C97D5" d="M179 1334h0m14 10h0m2 3h0m1 20h0m1 4h0m6 16h0m1-43h0m1 48h0m1-53h0m3 8h0m0 28h0m3-38h0m0 4h0m0 41h0m1 1h0m3-25h0m2-27h0m1-8h0m0 51h0m1-35h0m1-23h0m0 22h0m1 29h0m0 8h0m1-51h0m1 6h0m2-14h0m0 6h0m1 3h0m0 2h0m0 33h0m0 5h0m1-103h0m0 68h0m2 22h0m1-67h0m0 74h0m1-28h0m0 34h0m1-11h0m1-66h0m1-19h0m0 22h0m0 24h0m0 2h0m1-33h0m0 40h0m0 2h0m1-86h0m0 12h0m0 11h0m0 10h0m0 32h0m1-22h0m0 33h0m0 68h0m1-67h0m1-37h0m0 21h0m0 16h0m0 34h0m0 35h0m1-111h0m0 17h0m0 7h0m0 5h0m0 29h0m1-70h0m0 7h0m0 5h0m0 5h0m1-16h0m0 8h0m0 3h0m0 1h0m0 58h0m0 19h0m1-118h0m0 19h0m0 17h0m0 12h0m0 10h0m0 57h0m1-96h0m0 10h0m0 23h0m0 10h0m0 34h0m1-76h0m0 3h0m0 17h0m0 1h0m0 1h0m0 2h0m0 1h0m0 10h0m0 19h0m0 53h0m1-120h0m0 12h0m0 6h0m0 16h0m0 7h0m0 3h0m0 11h0m0 6h0m0 29h0m1-120h0m0 59h0m0 7h0m0 3h0m0 23h0m0 1h0m1-75h0m0 61h0m1-25h0m0 12h0m0 7h0m0 4h0m0 2h0m0 1h0m0 0h0m0 8h0m0 32h0m0 13h0m1-102h0m0 11h0m0 1h0m0 4h0m0 15h0m0 1h0m0 0h0m0 3h0m0 2h0m0 5h0m1-38h0m0 10h0m0 5h0m0 13h0m0 10h0m0 7h0m0 25h0m0 44h0m1-93h0m0 61h0m1-60h0m0 21h0m0 3h0m0 20h0m2-49h0m0 21h0m0 7h0m0 2h0m0 0h0m0 10h0m0 5h0m1-16h0m1-53h0m1 33h0m0 37h0m2-29h0m0 19h0m1-46h0m0 15h0m0 16h0m0 10h0m4-6h0m4-47h0m4-19h0"/>
<path stroke="#32568A" d="M514 1202h0m2-18h0m10 26h0m0 1h0m1-11h0m0 8h0m2-17h0m0 3h0m0 12h0m1-26h0m1 17h0m1 2h0m0 3h0m0 4h0m1-10h0m0 7h0m1-11h0m0 8h0m0 4h0m0 1h0m0 7h0m1-9h0m0 3h0m0 0h0m0 9h0m0 9h0m0 0h0m1-36h0m0 25h0m1-2h0m1-6h0m0 3h0m0 2h0m0 0h0m1-13h0m1 12h0m1-15h0m0 1h0m0 3h0m0 2h0m0 9h0m0 1h0m0 4h0m1-22h0m0 12h0m1 5h0m0 1h0m0 2h0m1-24h0m0 23h0m0 13h0m1-25h0m0 1h0m0 16h0m1-36h0m0 25h0m0 1h0m0 1h0m0 3h0m1 8h0m1-30h0m0 18h0m1-50h0m0 13h0m0 33h0m0 2h0m0 0h0m0 4h0m0 1h0m0 0h0m0 2h0m1-16h0m0 3h0m0 0h0m0 3h0m1-7h0m0 7h0m0 3h0m0 1h0m0 4h0m0 1h0m1-42h0m0 13h0m0 6h0m0 20h0m1-9h0m0 4h0m0 1h0m0 5h0m1-14h0m1-9h0m0 16h0m0 23h0m1-10h0m1-13h0m0 8h0m0 1h0m0 0h0m2-30h0m0 18h0m0 3h0m0 2h0m0 12h0m1-10h0m0 2h0m0 4h0m2-6h0m0 9h0m2-4h0m1 3h0m1-35h0m0 29h0m0 6h0m0 5h0m1-30h0m0 4h0m0 13h0m1-40h0m0 16h0m0 10h0m0 30h0m1-39h0m0 5h0m0 7h0m0 34h0m1-61h0m0 1h0m0 3h0m0 1h0m0 3h0m0 4h0m0 3h0m0 4h0m0 6h0m0 0h0m0 23h0m1-55h0m0 8h0m0 4h0m0 2h0m0 13h0m0 5h0m1-17h0m0 8h0m0 0h0m0 5h0m0 7h0m0 16h0m0 9h0m0 3h0m1-71h0m0 14h0m0 1h0m0 2h0m0 2h0m0 1h0m0 3h0m0 4h0m1-30h0m0 6h0m0 7h0m0 5h0m0 4h0m0 0h0m0 15h0m0 1h0m0 26h0m1-59h0m0 3h0m0 5h0m0 1h0m0 3h0m0 1h0m0 1h0m0 3h0m0 2h0m0 2h0m0 4h0m0 2h0m0 8h0m0 10h0m1-51h0m0 3h0m0 8h0m0 4h0m0 0h0m0 4h0m0 6h0m0 2h0m0 2h0m0 3h0m0 8h0m0 25h0m1-69h0m0 7h0m1 18h0m0 1h0m0 2h0m0 1h0m0 3h0m1-32h0m1 16h0m1 66h0m12 92h0m2 41h0m2-9h0m1-3h0m1-43h0m0 6h0m0 48h0m2-11h0m0 23h0m1-68h0m1-4h0m1 6h0m0 39h0m0 8h0m0 16h0m1-67h0m0 8h0m0 1h0m1-11h0m0 12h0m0 60h0m0 3h0m1-67h0m0 4h0m1-16h0m0 9h0m0 2h0m0 3h0m0 52h0m1-58h0m1 2h0m1-13h0m0 17h0m1-11h0m157 302h0m6 37h0m0 1h0m0 8h0m5-12h0m0 21h0m1-55h0m2 47h0m0 1h0m0 14h0m1-30h0m0 5h0m0 7h0m0 27h0m1-24h0m2-6h0m1-19h0m0 25h0m3 4h0m2-5h0m1-1h0m2 22h0m2 21h0m12-74h0"/>
<path stroke="#355B91" d="M495 1184h0m12 11h0m1 0h0m1-2h0m0 1h0m0 0h0m1-4h0m0 2h0m1-14h0m0 10h0m0 4h0m0 3h0m1-19h0m0 5h0m0 3h0m0 5h0m0 0h0m0 7h0m0 1h0m0 1h0m0 13h0m0 0h0m0 1h0m1-26h0m0 3h0m0 3h0m0 5h0m0 3h0m0 0h0m1-26h0m0 18h0m0 0h0m0 5h0m0 2h0m0 1h0m0 10h0m1-44h0m0 15h0m0 7h0m0 5h0m0 3h0m0 0h0m0 4h0m0 8h0m0 3h0m1-34h0m0 1h0m0 5h0m0 10h0m0 1h0m0 9h0m0 6h0m1 1h0m0 2h0m1-31h0m0 13h0m0 5h0m0 0h0m0 7h0m0 2h0m0 2h0m1-29h0m0 16h0m0 11h0m0 2h0m1-19h0m0 3h0m0 11h0m1-54h0m0 53h0m0 3h0m0 13h0m1-62h0m0 31h0m0 12h0m0 1h0m0 5h0m0 6h0m0 5h0m1-25h0m0 0h0m0 6h0m1 7h0m1-20h0m0 1h0m0 17h0m1-17h0m0 4h0m0 14h0m3-12h0m0 8h0m0 1h0m1-11h0m0 0h0m0 6h0m0 8h0m0 11h0m0 2h0m1-26h0m0 0h0m0 5h0m0 7h0m0 9h0m0 10h0m1-29h0m0 8h0m0 8h0m1-26h0m0 2h0m0 16h0m0 7h0m1-2h0m1-24h0m0 8h0m1 3h0m0 18h0m1-23h0m0 15h0m0 5h0m1-39h0m0 19h0m0 4h0m1 15h0m1-12h0m3 5h0m12 5h0m16-39h0m1-9h0m1-6h0m0 0h0m0 10h0m1-20h0m1-4h0m0 5h0m0 12h0m2-15h0m0 6h0m0 1h0m0 10h0m1-14h0m0 1h0m0 0h0m1-4h0m0 9h0m3-11h0m158 495h0m13 55h0m24-21h0m7 26h0m1-1h0m2-131h0m2-11h0m0 155h0m2-32h0m5 11h0"/>
<path stroke="#1A2844" d="M782 1131h0m2-35h0m0 24h0m3-30h0m0 24h0m0 1h0m2 3h0m2-36h0m0 26h0m0 1h0m0 26h0m1-43h0m0 20h0m0 18h0m0 3h0m1-41h0m0 11h0m0 7h0m0 1h0m0 4h0m0 1h0m1-35h0m0 22h0m0 7h0m0 7h0m0 12h0m1-46h0m0 20h0m0 4h0m0 10h0m0 8h0m0 0h0m0 2h0m0 7h0m0 11h0m1-69h0m0 11h0m0 1h0m0 2h0m0 1h0m0 10h0m0 2h0m0 0h0m0 0h0m0 2h0m0 1h0m0 1h0m0 1h0m0 1h0m0 0h0m0 10h0m0 3h0m0 34h0m1-77h0m0 11h0m0 11h0m0 2h0m0 0h0m0 2h0m0 5h0m0 3h0m0 5h0m0 4h0m0 1h0m0 1h0m0 0h0m0 3h0m0 4h0m1-32h0m0 7h0m0 5h0m0 7h0m0 32h0m0 6h0m1-81h0m0 2h0m0 18h0m0 11h0m0 3h0m0 7h0m0 1h0m0 0h0m0 1h0m0 5h0m0 2h0m0 2h0m0 7h0m0 11h0m0 3h0m1-50h0m0 1h0m0 0h0m0 6h0m0 4h0m0 2h0m0 2h0m0 9h0m0 1h0m0 24h0m1-50h0m0 6h0m0 0h0m0 2h0m0 3h0m0 2h0m0 1h0m0 0h0m0 3h0m0 2h0m0 0h0m0 2h0m1-28h0m0 15h0m0 11h0m0 5h0m0 18h0m1-37h0m0 6h0m0 2h0m0 1h0m0 4h0m0 5h0m0 1h0m0 2h0m0 2h0m0 1h0m0 12h0m0 8h0m1-56h0m0 1h0m0 4h0m0 7h0m0 1h0m0 1h0m0 10h0m0 10h0m0 19h0m1-56h0m0 5h0m0 7h0m0 8h0m0 2h0m0 5h0m0 1h0m0 6h0m0 16h0m0 10h0m0 5h0m1-51h0m0 7h0m0 5h0m0 5h0m0 20h0m0 0h0m0 7h0m0 3h0m0 12h0m0 7h0m1-51h0m0 1h0m0 6h0m0 14h0m0 23h0m1-44h0m0 12h0m0 1h0m0 6h0m0 2h0m0 0h0m0 0h0m0 10h0m0 2h0m0 0h0m0 2h0m0 3h0m0 34h0m1-79h0m0 19h0m0 2h0m0 0h0m0 0h0m0 4h0m0 1h0m0 7h0m0 1h0m0 6h0m0 3h0m0 5h0m1-44h0m0 18h0m0 1h0m0 8h0m0 2h0m1-64h0m0 53h0m0 2h0m0 1h0m0 1h0m0 1h0m0 0h0m0 2h0m0 4h0m0 10h0m0 1h0m0 0h0m0 8h0m0 4h0m1-56h0m0 3h0m0 11h0m0 1h0m0 0h0m0 4h0m0 1h0m0 3h0m0 1h0m0 2h0m0 2h0m0 3h0m0 3h0m0 0h0m0 0h0m0 36h0m1-98h0m0 27h0m0 2h0m0 9h0m0 6h0m0 4h0m0 3h0m0 3h0m0 0h0m0 1h0m0 4h0m0 0h0m0 1h0m0 4h0m0 1h0m0 8h0m1-81h0m0 14h0m0 18h0m0 7h0m0 6h0m0 8h0m0 3h0m0 3h0m0 1h0m0 2h0m0 2h0m0 2h0m0 0h0m0 2h0m0 1h0m0 2h0m0 1h0m0 4h0m0 4h0m0 1h0m0 0h0m0 3h0m0 4h0m1-41h0m0 1h0m0 0h0m0 6h0m0 2h0m0 1h0m0 1h0m0 0h0m0 1h0m0 0h0m0 0h0m0 4h0m0 0h0m0 8h0m0 1h0m0 2h0m0 2h0m0 4h0m0 1h0m0 4h0m0 5h0m1-38h0m0 3h0m0 0h0m0 8h0m0 3h0m0 2h0m0 1h0m0 1h0m0 0h0m0 2h0m0 8h0m0 6h0m1-37h0m0 4h0m0 2h0m0 5h0m0 2h0m0 0h0m0 3h0m0 2h0m0 0h0m0 0h0m0 2h0m0 2h0m0 0h0m0 5h0m0 3h0m0 0h0m0 6h0m0 1h0m0 3h0m1-46h0m0 1h0m0 3h0m0 7h0m0 1h0m0 0h0m0 2h0m0 9h0m0 1h0m0 2h0m0 2h0m0 6h0m0 0h0m0 3h0m0 6h0m1-70h0m0 35h0m0 9h0m0 2h0m0 1h0m0 6h0m0 2h0m0 3h0m0 1h0m0 1h0m0 8h0m0 3h0m0 5h0m0 1h0m1-49h0m0 4h0m0 0h0m0 13h0m0 6h0m0 2h0m0 6h0m0 49h0m1-70h0m0 10h0m0 24h0m0 18h0m1-43h0m0 14h0m0 2h0m0 6h0m0 7h0m0 21h0m1-56h0m0 8h0m1 4h0m0 1h0m0 1h0m0 1h0m0 1h0m0 5h0m1 4h0m1-5h0m2-11h0m0 12h0m1-16h0m0 72h0m1-51h0m4 4h0"/>
<path stroke="#29456F" d="M630 1248h0m3-14h0m4 25h0m1-9h0m1-2h0m0 10h0m2 3h0m0 0h0m0 5h0m1-23h0m0 15h0m2-10h0m0 10h0m1-35h0m0 20h0m1-20h0m0 26h0m0 10h0m0 1h0m1-51h0m0 50h0m0 4h0m0 1h0m0 0h0m0 4h0m1-13h0m0 1h0m0 5h0m0 2h0m0 7h0m0 1h0m1-11h0m0 2h0m1 0h0m0 2h0m0 2h0m0 3h0m1-16h0m0 3h0m1 4h0m0 13h0m1-47h0m0 10h0m0 11h0m0 2h0m0 9h0m0 1h0m0 2h0m0 5h0m1-30h0m0 16h0m0 18h0m1-46h0m0 4h0m0 28h0m0 5h0m0 3h0m0 3h0m0 10h0m1-26h0m0 2h0m0 8h0m0 11h0m2-60h0m0 19h0m0 24h0m0 1h0m0 4h0m1 2h0m0 9h0m1-39h0m0 2h0m0 33h0m1-5h0m0 4h0m0 4h0m1-16h0m0 9h0m0 11h0m1-19h0m0 10h0m0 9h0m1-33h0m0 23h0m0 7h0m0 3h0m0 7h0m1-24h0m0 10h0m1-41h0m0 29h0m0 11h0m0 9h0m2-13h0m0 3h0m0 11h0m1-42h0m0 42h0m0 8h0m1-51h0m0 23h0m0 10h0m0 4h0m0 9h0m1-23h0m0 13h0m1 10h0m1-14h0m1 6h0m2 8h0m1 2h0m1-12h0m4 9h0m48 134h0m3 58h0m6-66h0m3 59h0m0 3h0m1-27h0m0 23h0m0 4h0m2-36h0m1-22h0m0 17h0m2-15h0m1-9h0m1 41h0m0 14h0m2 23h0m0 21h0m1-48h0m1 52h0m1-89h0m0 31h0m0 7h0m0 0h0m0 37h0m1-67h0m0 21h0m1-11h0m2 3h0m1 0h0m0 29h0m1-20h0m1-11h0m1 40h0m0 16h0m1-26h0m1-34h0m1 62h0m0 0h0m0 7h0m2-37h0m6-19h0m0 46h0"/>
<path stroke="#558DCC" d="M232 1295h0m4-8h0m6-64h0m0 94h0m2-39h0m1 4h0m1-3h0m0 48h0m1-66h0m2-3h0m0 8h0m1 30h0m2 5h0m3-69h0m0 7h0m1 29h0m0 32h0m1 9h0m2-38h0m0 0h0m1-27h0m0 23h0m1 5h0m1-14h0m1-10h0m0 15h0m1-27h0m0 43h0m1-9h0m1-12h0m1 11h0m1-2h0m0 43h0m1-62h0m0 5h0m0 18h0m2 3h0m1-22h0m1-19h0m1 7h0m0 34h0m1-5h0m1-16h0m0 12h0m0 10h0m1-27h0m0 4h0m2-39h0m0 33h0m1 13h0m1-7h0m1-32h0m0 10h0m0 12h0m3 27h0m1-27h0m1 15h0m1-1h0m2 8h0m2 59h0m1-76h0m6 43h0"/>
<path stroke="#4171AF" d="M399 1206h0m1-37h0m0 39h0m0 3h0m1-4h0m1-9h0m0 6h0m1-7h0m0 6h0m1-9h0m0 7h0m0 5h0m0 1h0m0 2h0m0 3h0m1-25h0m0 17h0m0 3h0m0 26h0m1-32h0m0 11h0m2-8h0m0 8h0m1-6h0m0 0h0m1-2h0m1-6h0m0 20h0m3-42h0m2 31h0m0 7h0m4-17h0m1-25h0m2 65h0"/>
<path stroke="#5992D1" d="M202 1320h0m16-35h0m8 16h0m1 10h0m2-24h0m1 10h0m0 1h0m2-52h0m1 32h0m1-28h0m0 18h0m0 9h0m0 45h0m1-52h0m0 7h0m0 14h0m2-13h0m0 18h0m0 4h0m1-75h0m0 24h0m0 5h0m0 25h0m0 2h0m0 52h0m1-105h0m0 39h0m0 19h0m0 14h0m0 28h0m1-80h0m0 16h0m0 13h0m0 0h0m0 13h0m0 1h0m0 7h0m0 9h0m0 57h0m1-105h0m0 36h0m0 7h0m1-43h0m0 17h0m0 1h0m0 7h0m0 4h0m0 3h0m0 7h0m0 5h0m0 2h0m0 20h0m0 24h0m1-120h0m0 16h0m0 8h0m0 3h0m0 12h0m0 3h0m0 1h0m0 8h0m0 3h0m0 0h0m0 6h0m0 6h0m0 60h0m1-99h0m0 5h0m0 14h0m0 5h0m0 4h0m0 5h0m0 15h0m0 12h0m1-101h0m0 39h0m0 6h0m0 11h0m0 0h0m0 7h0m0 10h0m0 11h0m0 29h0m1-110h0m0 25h0m0 9h0m0 24h0m0 4h0m0 2h0m0 4h0m0 9h0m0 11h0m0 5h0m1-85h0m0 30h0m0 6h0m0 9h0m0 4h0m0 1h0m0 8h0m0 6h0m0 4h0m1-63h0m0 2h0m0 17h0m0 4h0m0 3h0m0 1h0m0 17h0m0 5h0m0 1h0m0 2h0m0 2h0m0 9h0m1-49h0m0 17h0m0 0h0m0 1h0m0 1h0m0 16h0m0 3h0m0 4h0m0 1h0m0 4h0m0 16h0m0 11h0m0 38h0m1-90h0m0 1h0m0 3h0m0 3h0m0 1h0m0 7h0m0 5h0m0 1h0m0 1h0m1-35h0m0 8h0m0 1h0m0 6h0m0 1h0m0 4h0m0 3h0m0 0h0m0 6h0m0 2h0m0 1h0m0 6h0m0 10h0m0 19h0m1-66h0m0 14h0m0 6h0m0 1h0m0 13h0m0 15h0m0 11h0m1-83h0m0 11h0m0 1h0m0 9h0m0 2h0m0 14h0m0 4h0m0 1h0m0 1h0m0 0h0m0 1h0m0 4h0m0 2h0m0 5h0m0 2h0m0 5h0m0 9h0m1-44h0m0 1h0m0 2h0m0 19h0m0 8h0m0 11h0m0 4h0m1-76h0m0 30h0m0 2h0m0 3h0m0 12h0m0 13h0m0 5h0m1-37h0m0 4h0m0 29h0m0 36h0m1-79h0m0 16h0m0 9h0m0 15h0m0 20h0m1-17h0m0 0h0m0 2h0m0 3h0m0 5h0m2-25h0m0 1h0m0 59h0m1-62h0m0 4h0m0 7h0m0 13h0m0 29h0m1-99h0m0 44h0m0 6h0m0 29h0m1-40h0m0 1h0m0 1h0m0 4h0m0 20h0m1-35h0m0 30h0m1-1h0m0 4h0m1-11h0m0 30h0m2-62h0m0 46h0m1 9h0m1 35h0m1-82h0m2 75h0m1-46h0m3 5h0"/>
<path stroke="#243C62" d="M677 1235h0m8 49h0m2 1h0m0 3h0m3-1h0m2-3h0m0 2h0m1-4h0m2 8h0m1-18h0m0 26h0m1-10h0m2-10h0m0 5h0m0 11h0m2-8h0m0 8h0m1 1h0m1-6h0m2-16h0m0 2h0m0 31h0m1-19h0m0 5h0m0 10h0m0 3h0m0 7h0m1-31h0m0 22h0m1-20h0m0 15h0m0 0h0m0 0h0m1-6h0m1 5h0m1-7h0m1 41h0m1-9h0m2-53h0m3 34h0m0 4h0m1-39h0m4 9h0m0 12h0m0 35h0m0 6h0m3-16h0m1-20h0m2 22h0m1 39h0m2-63h0m0 17h0m1 61h0m1-3h0m3-23h0m1-27h0m1 12h0m1-2h0m2-5h0m0 11h0m1 2h0"/>
<path stroke="#264069" d="M656 1237h0m2 36h0m1-15h0m1-3h0m0 6h0m0 10h0m4 1h0m1 3h0m1-14h0m0 3h0m1-41h0m0 41h0m2 8h0m0 5h0m1 2h0m1-38h0m0 3h0m1 34h0m0 1h0m1-31h0m0 15h0m0 1h0m0 5h0m0 3h0m0 2h0m0 1h0m0 7h0m1-44h0m0 44h0m1-48h0m0 37h0m0 3h0m0 2h0m1-29h0m0 19h0m0 2h0m1 2h0m0 6h0m0 3h0m1-38h0m0 7h0m0 29h0m0 15h0m0 2h0m1-24h0m1-46h0m0 4h0m0 44h0m1-6h0m0 15h0m1-4h0m1-2h0m0 5h0m0 1h0m0 6h0m1-11h0m1-3h0m0 11h0m0 3h0m1-25h0m0 16h0m0 1h0m0 2h0m1-2h0m0 3h0m0 0h0m0 0h0m0 15h0m1-25h0m0 3h0m0 3h0m0 17h0m1-15h0m0 1h0m0 3h0m0 2h0m0 3h0m0 3h0m1-21h0m0 7h0m1 8h0m0 2h0m0 3h0m0 3h0m0 3h0m1-30h0m0 3h0m0 2h0m0 9h0m1 0h0m2 4h0m1-15h0m0 23h0m3-3h0m7-1h0m13 61h0m6-10h0m5 26h0m1 15h0m2-62h0m0 24h0m2 30h0m0 3h0m1-41h0m1 43h0m1 34h0m2-55h0m0 11h0m1 1h0m1 6h0m0 14h0m0 45h0m1-45h0m1-50h0m0 25h0m0 35h0m1-30h0m0 61h0m0 14h0m1-77h0m0 16h0m2-11h0m1 7h0m0 19h0m1 27h0m3-23h0m2-7h0"/>
<path stroke="#2B4976" d="M604 1251h0m10-7h0m0 1h0m0 4h0m1-5h0m0 1h0m1-1h0m0 6h0m1-2h0m0 2h0m1-10h0m0 6h0m1-17h0m0 13h0m1-9h0m0 2h0m0 5h0m0 1h0m0 4h0m0 1h0m0 4h0m2-14h0m0 3h0m0 13h0m0 3h0m1-18h0m0 20h0m0 1h0m2-13h0m0 10h0m1-14h0m0 0h0m0 6h0m0 9h0m1-24h0m0 2h0m0 16h0m0 0h0m0 0h0m1-18h0m0 23h0m0 4h0m0 9h0m1-27h0m0 10h0m0 5h0m1-41h0m0 28h0m0 3h0m0 1h0m0 5h0m0 0h0m1-71h0m1 49h0m0 14h0m0 4h0m1-73h0m0 67h0m0 3h0m0 11h0m0 5h0m1-18h0m0 3h0m0 2h0m0 2h0m0 2h0m0 1h0m0 2h0m1-25h0m0 25h0m0 0h0m0 8h0m1-76h0m0 49h0m0 13h0m0 1h0m1-26h0m0 1h0m0 29h0m0 1h0m1-51h0m0 18h0m0 19h0m0 6h0m0 6h0m0 0h0m0 21h0m1-28h0m0 0h0m0 2h0m0 3h0m0 3h0m0 1h0m0 2h0m0 0h0m0 0h0m0 1h0m0 0h0m0 11h0m1-15h0m0 9h0m1-54h0m0 48h0m1-39h0m0 26h0m0 12h0m0 2h0m1-75h0m0 40h0m0 15h0m0 5h0m0 11h0m0 2h0m1-31h0m0 18h0m0 20h0m0 1h0m0 1h0m1-6h0m0 7h0m1-5h0m2-19h0m1 13h0m0 10h0m2-18h0m0 3h0m2 8h0m0 3h0m1-12h0m89 269h0m2-18h0m1 5h0m1 7h0m3-11h0m1-5h0m0 36h0m1-64h0m0 28h0m0 25h0m1-10h0m0 8h0m1-16h0m0 9h0m0 23h0m1-40h0m0 7h0m0 12h0m1 9h0m0 2h0m0 4h0m1-27h0m0 14h0m1 4h0m0 1h0m0 2h0m1-3h0m1-11h0m1-46h0m0 15h0m0 60h0m1-18h0m0 14h0m0 1h0m0 5h0m1-66h0m0 0h0m0 20h0m0 1h0m0 24h0m1-62h0m0 38h0m0 3h0m0 5h0m0 18h0m0 7h0m0 9h0m1-55h0m0 28h0m0 6h0m0 3h0m0 2h0m0 16h0m1-49h0m0 10h0m0 7h0m0 9h0m1-26h0m0 6h0m0 13h0m0 27h0m0 7h0m0 13h0m1-118h0m0 75h0m0 2h0m1-6h0m0 9h0m0 3h0m0 7h0m0 24h0m1-62h0m0 12h0m0 16h0m1-40h0m0 4h0m0 43h0m0 32h0m1-64h0m0 12h0m1-12h0m0 45h0m1-36h0m1 4h0m0 11h0m1 23h0m1-11h0m2-35h0m0 21h0m1 21h0m1-36h0m0 30h0m6 21h0"/>
<path stroke="#22395D" d="M713 1261h0m4-2h0m3 21h0m1-7h0m1-14h0m0 6h0m0 15h0m1-17h0m0 4h0m1-6h0m0 13h0m1 19h0m0 15h0m1-44h0m2-16h0m0 21h0m1-5h0m0 2h0m1-15h0m1-13h0m1 2h0m1 14h0m0 29h0m1 23h0m1-61h0m2 1h0m1-1h0m4-20h0"/>
<path stroke="#477BBA" d="M352 1216h0m1 26h0m1-20h0m1-16h0m1 7h0m2-29h0m4 12h0m0 10h0m0 29h0m2-30h0m2-8h0m1 28h0m1 3h0m0 36h0m1-58h0m1-18h0m0 33h0m1 19h0m2-54h0m1 20h0m0 36h0m0 17h0m1-27h0m1-11h0m0 0h0m1-21h0m0 21h0m0 20h0m1-15h0m2 10h0m2-25h0m1 16h0m1-25h0m0 5h0m5 6h0m1 22h0m3-13h0m0 39h0m1-29h0m1-52h0m0 40h0m2 3h0m7-55h0m1 1h0m3-3h0m2 0h0"/>
<path stroke="#4B7FBF" d="M330 1216h0m1-48h0m3 36h0m0 35h0m1-17h0m2 28h0m2-54h0m0 62h0m1-54h0m0 11h0m1-20h0m0 28h0m0 15h0m1-19h0m0 26h0m1-24h0m0 2h0m0 15h0m1 3h0m2-13h0m0 7h0m1-46h0m0 18h0m0 13h0m0 21h0m1-66h0m0 44h0m0 13h0m1-11h0m0 19h0m0 23h0m1-61h0m0 10h0m0 5h0m0 3h0m0 13h0m1-21h0m0 26h0m2-2h0m0 16h0m0 37h0m1-92h0m1 38h0m2-20h0m1 34h0m0 9h0m1-35h0m0 18h0m1-33h0m1 27h0m2 38h0m1-37h0m1-30h0m1 40h0m1-16h0m0 6h0"/>
<path stroke="#3E6BA7" d="M411 1212h0m2-5h0m1-41h0m4 53h0m2-39h0m1 14h0m0 11h0m0 19h0m1-15h0m1-21h0m0 28h0m0 3h0m3-3h0m1-5h0m2-10h0m0 9h0m1-70h0m0 25h0m1 40h0m0 15h0m0 2h0m1-5h0m1-48h0m0 38h0m2-19h0m2 8h0m0 5h0m1-7h0m2 15h0m1-8h0m4-1h0m1-19h0m0 23h0m0 22h0m2-28h0m3-7h0m10-30h0m2 20h0m1-11h0m1-23h0m0 0h0m0 20h0m1 13h0m1-10h0m1-18h0m0 26h0m1-24h0m0 3h0m0 7h0m0 4h0m1-1h0m0 0h0m1-17h0m1 8h0m0 8h0m1-2h0"/>
<path stroke="#386199" d="M468 1203h0m4 0h0m3-13h0m3-4h0m5 9h0m0 16h0m2-1h0m1-8h0m1-16h0m2-24h0m3 30h0m0 1h0m1 34h0m2-20h0m2-23h0m0 27h0m7-6h0m1-16h0m1-11h0m1-26h0m0 22h0m0 46h0m1-75h0m1-2h0m0 41h0m0 2h0m0 38h0m1-79h0m0 8h0m0 0h0m0 1h0m0 2h0m0 23h0m0 28h0m0 2h0m1-64h0m0 11h0m0 0h0m0 1h0m0 3h0m0 2h0m0 3h0m0 6h0m0 8h0m1-39h0m0 19h0m0 0h0m0 5h0m0 1h0m0 1h0m0 0h0m0 7h0m1-36h0m0 9h0m0 24h0m0 1h0m0 0h0m0 25h0m1-50h0m0 10h0m0 9h0m0 1h0m0 4h0m0 40h0m1-62h0m3 63h0"/>
<path stroke="#1D2F4E" d="M766 1196h0m1-1h0m3-6h0m3-14h0m2-4h0m1 5h0m1 6h0m5-39h0m0 26h0m1-6h0m2-18h0m0 30h0m1-6h0m1-16h0m1 4h0m1-17h0m1 8h0m1-11h0m0 22h0m1-16h0m1 7h0m6-51h0m4 39h0m19 52h0"/>
<path stroke="#4476B6" d="M379 1196h0m2-39h0m2 46h0m4 16h0m0 18h0m1-11h0m1-23h0m0 33h0m1-31h0m2-14h0m1 19h0m0 13h0m0 7h0m2 4h0m1-65h0m0 31h0m0 1h0m0 5h0m2-40h0m0 16h0m0 39h0m1-14h0m0 8h0m1-36h0m0 39h0m1-28h0m1-10h0m0 20h0m0 16h0m1-38h0m1-7h0m0 15h0m0 16h0m0 22h0m1-47h0m0 2h0m0 4h0m0 8h0m0 31h0m1-59h0m0 4h0m0 10h0m0 0h0m0 2h0m0 1h0m0 1h0m0 2h0m1-13h0m0 48h0m1-58h0m0 4h0m0 12h0m0 2h0m0 1h0m0 2h0m0 51h0m1-75h0m0 28h0m0 1h0m1-7h0m0 4h0"/>
<path stroke="#213558" d="M732 1251h0m6-18h0m1 8h0m2-32h0m0 23h0m0 9h0m1-21h0m1 7h0m1-10h0m0 11h0m2 2h0m1-12h0m0 11h0m1-22h0m1 18h0m2-3h0m3-14h0m0 10h0m0 9h0m2-1h0"/>
<path stroke="#3B66A0" d="M437 1222h0m11-16h0m3-28h0m1 10h0m1 20h0m1-14h0m0 28h0m1-37h0m0 18h0m4-10h0m2 17h0m1 5h0m1-36h0m0 38h0m1-4h0m1-28h0m0 2h0m1-18h0m0 30h0m0 4h0m1-30h0m0 15h0m0 9h0m1 2h0m1-26h0m0 11h0m1-7h0m0 8h0m1 17h0m1-15h0m0 2h0m0 12h0m0 2h0m0 11h0m1-10h0m1-1h0m1-37h0m11-2h0m21-23h0m3-1h0m0 8h0m0 5h0m1-16h0m0 12h0m1-10h0m0 1h0m0 0h0m2-4h0m1 2h0m2 10h0"/>
<path stroke="#1F3253" d="M752 1217h0m0 66h0m1-79h0m1 13h0m2-24h0m2 6h0m2-7h0m0 14h0m0 9h0m0 100h0m1-115h0m2-14h0m0 20h0m1 1h0m1-9h0m0 4h0m1-18h0m0 13h0m1-16h0m1 5h0m0 14h0m1-16h0m2-10h0m0 10h0m1-16h0m0 27h0m1-3h0m1-9h0m3-8h0m0 0h0m0 7h0m2-14h0m2 138h0m8-41h0m0 20h0m5-80h0m2 42h0m6-64h0m12 51h0m21-89h0"/>
</g>
<g font-family="'Liberation Sans', Arial, Helvetica, sans-serif" font-size="11.2" fill="#fff" stroke="#fff" stroke-width="0.2" text-anchor="middle">
<circle cx="255" cy="601.9" r="5.5" fill="#000"/><text x="255" y="605.8">1</text>
<circle cx="203.3" cy="608.2" r="5.5" fill="#000"/><text x="203.3" y="612.2">2</text>
<circle cx="305" cy="619.9" r="5.5" fill="#000"/><text x="305" y="623.8">3</text>
<circle cx="284.2" cy="606.4" r="5.5" fill="#000"/><text x="284.2" y="610.3">4</text>
<circle cx="357.1" cy="646.9" r="5.5" fill="#000"/><text x="357.1" y="650.8">5</text>
</g>
<path d="M69 521.3V868.4H434.7" fill="none" stroke="#4a4744" stroke-width="1.5"/>
<path d="M69 550.1h-3.2M69 625.1h-3.2M69 700.1h-3.2M69 775.1h-3.2M69 850.1h-3.2M125.7 868.4v3.2M209.1 868.4v3.2M292.5 868.4v3.2M375.9 868.4v3.2" fill="none" stroke="#4a4744" stroke-width="1.2"/>
<g font-family="'Liberation Serif', 'Times New Roman', serif" font-size="16.2" fill="#333" stroke="#333" stroke-width="0.25">
<text x="63.4" y="555.7" text-anchor="end">1</text>
<text x="63.4" y="630.7" text-anchor="end">0</text>
<text x="63.4" y="705.7" text-anchor="end">−1</text>
<text x="63.4" y="780.7" text-anchor="end">−2</text>
<text x="63.4" y="855.7" text-anchor="end">−3</text>
<text x="125.7" y="884.1" text-anchor="middle">−4</text>
<text x="209.1" y="884.1" text-anchor="middle">−2</text>
<text x="292.5" y="884.1" text-anchor="middle">0</text>
<text x="375.9" y="884.1" text-anchor="middle">2</text>
</g>
<g font-family="'Liberation Serif', 'Times New Roman', serif" font-size="20.25" font-weight="bold" fill="#000" text-anchor="middle">
<text x="251.8" y="903.9">Component 1</text>
<text transform="translate(39.8 694.8) rotate(-90)">Component 2</text>
</g>
<defs><linearGradient id="gpt" x1="0" y1="1" x2="0" y2="0">
<stop offset="0.000" stop-color="#1A2844"/>
<stop offset="0.230" stop-color="#243C62"/>
<stop offset="0.461" stop-color="#32568A"/>
<stop offset="0.691" stop-color="#4476B6"/>
<stop offset="1.002" stop-color="#609CDA"/>
</linearGradient></defs>
<rect x="449.8" y="647.5" width="16" height="115.8" fill="url(#gpt)"/>
<path d="M449.8 736.6h3.2M465.8 736.6h-3.2M449.8 710h3.2M465.8 710h-3.2M449.8 683.3h3.2M465.8 683.3h-3.2M449.8 656.7h3.2M465.8 656.7h-3.2" stroke="#fff" stroke-opacity="0.6" stroke-width="0.8" fill="none"/>
<g font-family="'Liberation Serif', 'Times New Roman', serif" font-weight="bold" fill="#000">
<text x="450" y="640.4" font-size="18.3">Pseudotime</text>
<text x="470.8" y="768.9" font-size="17">0</text>
<text x="470.8" y="742.2" font-size="17">2</text>
<text x="470.8" y="715.6" font-size="17">4</text>
<text x="470.8" y="688.9" font-size="17">6</text>
<text x="470.8" y="662.3" font-size="17">8</text>
</g>
<path d="M682.9 640.1L704.3 628.1L725.7 619.5L747.1 613.1L766.6 608.2L797.1 603.7L825.7 601.9L842.3 603L859 606.4L870.9 612.7L882.8 619.9L904.2 628.9L923.2 637.5L942.3 646.9M942.3 646.9L948.5 666.4L954.2 688.9L958.9 707.6L962.7 724.9L966.1 741.4M942.3 646.9L989.9 574.1" fill="none" stroke="#000" stroke-width="1.8" stroke-linejoin="round"/>
<g fill="none" stroke-linecap="round" stroke-width="5.1" transform="scale(.5)">
<path stroke="#8F7CC6" d="M1268 1388h0m5-54h0m0 74h0m2-49h0m1-5h0m4 19h0m3-10h0m2-13h0m1 22h0m0 3h0m2-7h0m1-26h0m0 2h0m0 26h0m1-26h0m2 3h0m1 7h0m0 13h0m0 14h0m1-10h0m2 30h0m1-36h0m0 29h0m1-34h0m1-40h0m1 76h0m0 10h0m1-51h0m0 23h0m0 9h0m1-43h0m1 48h0m1-53h0m0 40h0m1 23h0m2-27h0m0 24h0m1-52h0m1-11h0m2 1h0m0 4h0m0 32h0m0 9h0m1-34h0m0 35h0m2-8h0m1-17h0m3-73h0m1 38h0m0 8h0m0 43h0m1-35h0m2-23h0m0 22h0m0 29h0m1 8h0m1-51h0m0 97h0m1-91h0m2-29h0m0 15h0m0 6h0m1 3h0m1-63h0m0 49h0m0 16h0m0 2h0m0 1h0m0 30h0m0 5h0m0 41h0m1-119h0m2 10h0m0 1h0m0 54h0m0 7h0m1-74h0m1-39h0m0 49h0m0 36h0m0 34h0m1-87h0m0 76h0m1-86h0m0 20h0m0 34h0m1-73h0m0 1h0m0 19h0m0 1h0m0 7h0m0 0h0m0 14h0m0 24h0m0 2h0m1-33h0m0 7h0m1-4h0m0 37h0m0 2h0m0 48h0m1-134h0m0 12h0m0 11h0m0 10h0m0 5h0m0 3h0m0 15h0m0 4h0m0 5h0m0 11h0m0 68h0m1-159h0m0 24h0m0 5h0m0 25h0m0 4h0m0 17h0m0 33h0m1-105h0m0 39h0m0 19h0m0 31h0m0 11h0m1-80h0m0 16h0m0 13h0m0 3h0m0 10h0m0 1h0m0 7h0m0 19h0m0 34h0m0 13h0m0 22h0m1-127h0m0 16h0m0 2h0m0 18h0m0 4h0m0 2h0m0 1h0m0 5h0m1-37h0m0 5h0m0 1h0m0 4h0m0 11h0m0 1h0m0 6h0m0 5h0m0 1h0m0 1h0m0 12h0m0 8h0m0 8h0m0 16h0m1-126h0m0 30h0m0 6h0m0 4h0m0 9h0m0 5h0m0 7h0m0 4h0m0 1h0m0 6h0m0 39h0m0 21h0m1-126h0m0 16h0m0 11h0m0 0h0m0 8h0m0 4h0m0 3h0m0 1h0m0 3h0m0 1h0m0 0h0m0 2h0m0 2h0m0 0h0m0 3h0m0 0h0m0 10h0m0 23h0m0 37h0m1-118h0m0 19h0m0 7h0m0 10h0m0 4h0m0 7h0m0 1h0m0 1h0m0 5h0m0 15h0m0 46h0m1-135h0m0 39h0m0 0h0m0 6h0m0 4h0m0 7h0m0 0h0m0 7h0m0 9h0m0 1h0m0 9h0m0 2h0m0 29h0m0 3h0m1-113h0m0 25h0m0 9h0m0 3h0m0 3h0m0 17h0m0 1h0m0 0h0m0 1h0m0 2h0m0 0h0m0 1h0m0 0h0m0 2h0m0 4h0m0 4h0m0 5h0m0 11h0m0 3h0m0 2h0m0 16h0m0 35h0m1-136h0m0 16h0m0 12h0m0 2h0m0 6h0m0 9h0m0 5h0m0 7h0m0 1h0m0 2h0m0 4h0m0 4h0m0 3h0m0 6h0m0 29h0m1-120h0m0 21h0m0 17h0m0 4h0m0 3h0m0 1h0m0 2h0m0 1h0m0 10h0m0 4h0m0 0h0m0 1h0m0 2h0m0 3h0m0 0h0m0 2h0m0 11h0m0 10h0m1-74h0m0 1h0m0 14h0m0 13h0m0 4h0m0 18h0m0 0h0m0 5h0m0 2h0m0 1h0m0 4h0m0 13h0m0 14h0m0 38h0m1-95h0m0 1h0m0 1h0m0 2h0m0 0h0m0 1h0m0 15h0m0 1h0m0 6h0m0 2h0m0 0h0m0 5h0m0 4h0m0 8h0m0 37h0m1-102h0m0 20h0m0 5h0m0 1h0m0 2h0m0 3h0m0 0h0m0 1h0m0 0h0m0 3h0m0 7h0m0 2h0m0 1h0m0 1h0m0 3h0m0 0h0m0 10h0m0 30h0m1-78h0m0 0h0m0 1h0m0 4h0m0 3h0m0 8h0m0 4h0m0 1h0m0 0h0m0 2h0m0 0h0m0 1h0m0 2h0m0 3h0m0 2h0m0 0h0m0 1h0m0 6h0m0 29h0m0 40h0m1-114h0m0 8h0m0 2h0m0 5h0m0 7h0m0 5h0m0 1h0m0 1h0m0 9h0m0 4h0m0 3h0m0 9h0m0 3h0m0 11h0m0 2h0m1-85h0m0 11h0m0 1h0m0 9h0m0 2h0m0 13h0m0 1h0m0 4h0m0 2h0m0 1h0m0 4h0m0 2h0m0 5h0m0 2h0m0 14h0m1-44h0m0 1h0m0 2h0m0 7h0m0 6h0m0 6h0m0 8h0m0 4h0m0 1h0m0 6h0m0 4h0m0 25h0m1-97h0m0 7h0m0 19h0m0 2h0m0 15h0m0 13h0m0 2h0m0 3h0m0 20h0m1-85h0m0 28h0m0 4h0m0 3h0m0 22h0m0 7h0m0 2h0m0 0h0m0 15h0m1-63h0m0 18h0m0 4h0m0 21h0m0 4h0m0 7h0m0 4h0m0 21h0m1-63h0m0 9h0m0 15h0m0 5h0m0 15h0m0 3h0m1-69h0m0 49h0m0 0h0m0 5h0m0 5h0m1-28h0m0 0h0m0 2h0m0 37h0m1-66h0m0 23h0m0 8h0m0 59h0m1-62h0m0 0h0m0 2h0m0 2h0m0 5h0m0 15h0m0 4h0m1-46h0m0 4h0m0 11h0m0 7h0m0 7h0m0 12h0m0 10h0m0 20h0m1-99h0m0 37h0m0 2h0m0 1h0m0 1h0m0 3h0m0 1h0m0 14h0m0 6h0m1-55h0m0 12h0m0 8h0m0 30h0m1-7h0m1-9h0m0 15h0m0 4h0m1-31h0m0 20h0m0 11h0m0 19h0m1-39h0m1-23h0m0 21h0m0 25h0m0 18h0m1-62h0m0 53h0m1-48h0m0 18h0m1-40h0m0 11h0m0 32h0m0 62h0m1-82h0m1-21h0m0 19h0m1 31h0m0 46h0m1-89h0m0 34h0m1-73h0m0 22h0m0 46h0m1-16h0m0 12h0m1-17h0m0 4h0m0 23h0m0 13h0m2-75h0m0 33h0m1 4h0m1 9h0m0 3h0m0 1h0m0 2h0m1-13h0m1-32h0m0 8h0m0 14h0m0 18h0m1-38h0m0 8h0m1 15h0m1 23h0m0 1h0m2-37h0m0 7h0m0 3h0m0 0h0m1 15h0m2-1h0m0 13h0m1-43h0m0 24h0m0 14h0m0 7h0m1-3h0m1-35h0m0 90h0m1-70h0m1-6h0m0 16h0m1-95h0m1 45h0m0 40h0m3 12h0m1-36h0m0 5h0m0 10h0m0 25h0m0 21h0m3-17h0m1-26h0m0 5h0m0 3h0m1-25h0m0 45h0m1-45h0m0 22h0m0 2h0m0 3h0m1-3h0m1-25h0m0 28h0m0 4h0m0 4h0m1-29h0m0 27h0m1-34h0m0 9h0m0 20h0m0 4h0m1-67h0m0 77h0m1-62h0m0 19h0m0 41h0m1-42h0m0 34h0m0 17h0m1-34h0m0 1h0m0 5h0m0 6h0m1 12h0m0 7h0m1-27h0m1-7h0m1-10h0m1 4h0m0 3h0m0 25h0m2-4h0m1-56h0m0 42h0m0 19h0m1 6h0m1-68h0m0 87h0m1-47h0m1-10h0m1 25h0m1-58h0m1 19h0m1-9h0m0 56h0m1-53h0m0 28h0m1 0h0m0 25h0m1 3h0m3-53h0m1-48h0m0 58h0m0 41h0m2-40h0m1-23h0m0 15h0m0 9h0m0 11h0m2-17h0m0 51h0m2-60h0m0 23h0m0 14h0m2-54h0m0 62h0m1-43h0m0 16h0m0 5h0m1-41h0m0 9h0m0 34h0m1-19h0m0 4h0m0 15h0m0 7h0m1-32h0m0 10h0m1-2h0m0 17h0m1 3h0m0 6h0m2-19h0m0 7h0m1-46h0m0 18h0m1 12h0m0 1h0m0 21h0m1-66h0m0 57h0m1-12h0m0 1h0m0 19h0m0 23h0m1-61h0m0 10h0m0 5h0m0 16h0m1-21h0m0 26h0m1-22h0m1 20h0m0 6h0m0 10h0m1-55h0m0 92h0m1-67h0m1-16h0m0 7h0m0 22h0m2-51h0m0 31h0m1 34h0m0 9h0m1-35h0m0 18h0m1-33h0m1 27h0m1 0h0m1-39h0m0 10h0m1-1h0m0 68h0m1-37h0m1-30h0m1-9h0m0 49h0m1-21h0m0 5h0m1 6h0m1-30h0m0 22h0m0 36h0m1-43h0m1-33h0m1 52h0m2-54h0m1 20h0m0 36h0m0 17h0m1-27h0m1-11h0m0 0h0m1-21h0m0 21h0m1 5h0m0 15h0m2-45h0m1 40h0m1-79h0m2 54h0m0 16h0m1-24h0m1-1h0m0 5h0m3 12h0m0 18h0m1-11h0m1-13h0m0 23h0m1-33h0m0 2h0m0 30h0m2-44h0m1 19h0m0 13h0m1-1h0m0 8h0m0 31h0m1-29h0m1-52h0m0 40h0m0 14h0m1-33h0m0 5h0m1-37h0m0 31h0m0 23h0m1-57h0m0 55h0m1-39h0m1-13h0m0 38h0m0 8h0m1-7h0m0 10h0m1-28h0m1 26h0m1-16h0m0 3h0m1 21h0m1-22h0m0 31h0m1-11h0m1-4h0m2 14h0"/>
<path stroke="#D6615B" d="M1883 1261h0m2 8h0m3-10h0m2 9h0m1 12h0m1-7h0m1-14h0m1 4h0m0 2h0m0 12h0m0 3h0m1-19h0m0 6h0m0 7h0m3-10h0m2-16h0m0 21h0m1-5h0m0 2h0m2-15h0m1-13h0m1 2h0m0 11h0m1 3h0m2-9h0m3 0h0m0 1h0m1-13h0m1 8h0m2-32h0m0 23h0m0 9h0m1-16h0m1-5h0m1-3h0m0 10h0m0 1h0m3 2h0m1-12h0m0 11h0m1-22h0m1 18h0m3-3h0m0 61h0m1-66h0m1-13h0m0 13h0m0 10h0m1-19h0m0 10h0m2-25h0m1 33h0m2-27h0m1 7h0m1-14h0m0 23h0m0 100h0m1-115h0m2-14h0m0 20h0m1 1h0m1-5h0m1-18h0m0 12h0m0 2h0m1-3h0m0 2h0m1-16h0m1 5h0m0 14h0m1-16h0m2-10h0m0 15h0m1-5h0m1-16h0m0 27h0m1-20h0m0 17h0m1-9h0m1-12h0m1 5h0m1-1h0m0 0h0m0 7h0m1 0h0m2-14h0m2 1h0m0 137h0m1-175h0m0 12h0m1 20h0m1-67h0m0 24h0m1 25h0m1 24h0m0 6h0m1-61h0m0 11h0m0 28h0m1-63h0m0 25h0m1-10h0m0 16h0m0 36h0m1-58h0m0 19h0m0 22h0m0 125h0m0 20h0m1-172h0m0 35h0m1-47h0m0 5h0m0 3h0m0 26h0m0 2h0m0 3h0m0 19h0m1-77h0m0 10h0m0 14h0m0 2h0m0 1h0m0 3h0m0 6h0m0 2h0m0 10h0m0 3h0m0 10h0m1-51h0m0 11h0m0 7h0m0 1h0m0 4h0m0 13h0m0 2h0m0 20h0m1-69h0m0 11h0m0 15h0m0 3h0m0 5h0m0 1h0m0 14h0m0 7h0m0 68h0m1-107h0m0 5h0m0 4h0m0 1h0m0 1h0m0 2h0m0 6h0m0 4h0m0 6h0m0 2h0m1-46h0m0 19h0m0 1h0m0 7h0m0 5h0m0 2h0m0 1h0m0 4h0m0 3h0m0 0h0m0 0h0m0 2h0m0 7h0m0 1h0m0 10h0m1-69h0m0 11h0m0 1h0m0 2h0m0 1h0m0 2h0m0 8h0m0 2h0m0 0h0m0 0h0m0 2h0m0 1h0m0 1h0m0 1h0m0 1h0m0 0h0m0 6h0m0 4h0m0 3h0m0 2h0m0 0h0m0 32h0m0 91h0m1-157h0m0 10h0m0 1h0m0 2h0m0 0h0m0 1h0m0 1h0m0 0h0m0 5h0m0 3h0m0 5h0m0 0h0m0 1h0m0 3h0m0 1h0m0 1h0m0 0h0m0 3h0m0 21h0m0 6h0m1-75h0m0 17h0m0 5h0m0 5h0m0 2h0m0 2h0m0 2h0m0 3h0m0 3h0m0 4h0m0 0h0m0 3h0m0 6h0m0 2h0m0 1h0m0 16h0m0 6h0m1-62h0m0 1h0m0 4h0m0 7h0m0 3h0m0 1h0m0 1h0m0 5h0m0 8h0m0 1h0m0 1h0m0 1h0m0 7h0m0 11h0m0 3h0m1-73h0m0 2h0m0 12h0m0 10h0m0 0h0m0 4h0m0 1h0m0 1h0m0 4h0m0 0h0m0 0h0m0 2h0m0 6h0m0 0h0m0 1h0m0 1h0m0 4h0m0 3h0m0 1h0m0 6h0m1-49h0m0 13h0m0 1h0m0 1h0m0 3h0m0 3h0m0 2h0m0 1h0m0 2h0m0 3h0m0 0h0m0 0h0m0 0h0m0 2h0m0 1h0m0 2h0m0 4h0m0 0h0m0 1h0m0 3h0m0 1h0m0 16h0m0 2h0m0 2h0m0 9h0m1-64h0m0 3h0m0 6h0m0 2h0m0 0h0m0 1h0m0 0h0m0 4h0m0 1h0m0 2h0m0 0h0m0 3h0m0 2h0m0 0h0m0 0h0m0 2h0m0 2h0m0 2h0m0 18h0m0 3h0m0 11h0m1-65h0m0 0h0m0 1h0m0 7h0m0 8h0m0 10h0m0 1h0m0 1h0m0 1h0m0 2h0m0 1h0m0 2h0m0 2h0m0 1h0m0 5h0m0 8h0m0 21h0m0 23h0m1-106h0m0 9h0m0 3h0m0 0h0m0 1h0m0 0h0m0 9h0m0 3h0m0 3h0m0 3h0m0 0h0m0 2h0m0 0h0m0 1h0m0 1h0m0 1h0m0 8h0m0 2h0m0 3h0m0 2h0m0 4h0m0 2h0m0 4h0m0 0h0m0 8h0m1-57h0m0 2h0m0 4h0m0 7h0m0 1h0m0 0h0m0 1h0m0 10h0m0 4h0m0 0h0m0 6h0m0 1h0m0 18h0m0 0h0m1-56h0m0 5h0m0 7h0m0 2h0m0 6h0m0 2h0m0 5h0m0 1h0m0 0h0m0 6h0m0 1h0m0 15h0m0 5h0m0 5h0m0 17h0m1-52h0m0 1h0m0 1h0m0 3h0m0 1h0m0 3h0m0 9h0m0 4h0m0 4h0m0 7h0m0 7h0m0 6h0m0 2h0m0 7h0m1-68h0m0 2h0m0 7h0m0 7h0m0 1h0m0 1h0m0 6h0m0 3h0m0 10h0m0 1h0m0 1h0m0 2h0m0 2h0m0 6h0m0 4h0m1-65h0m0 13h0m0 5h0m0 3h0m0 8h0m0 5h0m0 3h0m0 2h0m0 2h0m0 3h0m0 2h0m0 4h0m0 23h0m0 28h0m1-61h0m0 2h0m0 6h0m0 0h0m0 2h0m0 0h0m0 5h0m0 5h0m0 2h0m0 0h0m0 2h0m0 3h0m1-45h0m0 1h0m0 7h0m0 10h0m0 1h0m0 2h0m0 0h0m0 0h0m0 3h0m0 1h0m0 3h0m0 6h0m0 3h0m0 3h0m0 3h0m0 0h0m0 0h0m0 5h0m0 12h0m1-91h0m0 35h0m0 2h0m0 1h0m0 6h0m0 1h0m0 0h0m0 8h0m0 0h0m0 1h0m0 5h0m0 3h0m0 0h0m0 1h0m0 1h0m0 0h0m1-64h0m0 41h0m0 12h0m0 2h0m0 1h0m0 1h0m0 1h0m0 0h0m0 2h0m0 4h0m0 7h0m0 0h0m0 3h0m0 1h0m0 0h0m0 0h0m0 4h0m0 4h0m0 4h0m1-56h0m0 3h0m0 11h0m0 1h0m0 2h0m0 1h0m0 1h0m0 9h0m0 6h0m0 0h0m0 5h0m0 0h0m0 2h0m0 2h0m0 5h0m0 5h0m0 17h0m1-98h0m0 27h0m0 2h0m0 7h0m0 2h0m0 5h0m0 1h0m0 4h0m0 2h0m0 1h0m0 0h0m0 1h0m0 2h0m0 0h0m0 0h0m0 1h0m0 0h0m0 0h0m0 1h0m0 3h0m0 0h0m0 0h0m0 1h0m0 2h0m0 2h0m0 1h0m0 3h0m0 5h0m1-67h0m0 18h0m0 7h0m0 14h0m0 1h0m0 2h0m0 3h0m0 2h0m0 1h0m0 0h0m0 2h0m0 2h0m0 0h0m0 2h0m0 0h0m0 1h0m0 3h0m0 1h0m0 2h0m0 5h0m0 1h0m0 3h0m0 4h0m1-88h0m0 45h0m0 3h0m0 6h0m0 2h0m0 1h0m0 2h0m0 0h0m0 0h0m0 1h0m0 1h0m0 2h0m0 3h0m0 1h0m0 2h0m0 1h0m0 1h0m0 0h0m0 1h0m0 3h0m0 1h0m0 4h0m0 1h0m0 4h0m0 16h0m0 60h0m1-133h0m0 19h0m0 1h0m0 0h0m0 8h0m0 2h0m0 0h0m0 4h0m0 1h0m0 0h0m0 0h0m0 5h0m0 2h0m0 2h0m0 2h0m0 2h0m0 4h0m0 1h0m0 9h0m1-38h0m0 0h0m0 3h0m0 0h0m0 0h0m0 3h0m0 0h0m0 4h0m0 1h0m0 3h0m0 1h0m0 0h0m0 2h0m0 1h0m0 1h0m0 1h0m0 0h0m0 0h0m0 7h0m0 7h0m0 3h0m0 5h0m1-45h0m0 0h0m0 4h0m0 5h0m0 2h0m0 2h0m0 1h0m0 2h0m0 2h0m0 2h0m0 2h0m0 5h0m0 1h0m0 2h0m0 0h0m0 0h0m0 4h0m0 2h0m0 1h0m0 43h0m1-102h0m0 16h0m0 1h0m0 5h0m0 4h0m0 1h0m0 1h0m0 0h0m0 2h0m0 5h0m0 4h0m0 0h0m0 1h0m0 2h0m0 0h0m0 0h0m0 2h0m0 0h0m0 0h0m0 6h0m0 0h0m0 3h0m0 6h0m0 33h0m0 3h0m1-106h0m0 31h0m0 4h0m0 9h0m0 1h0m0 1h0m0 5h0m0 6h0m0 1h0m0 1h0m0 1h0m0 1h0m0 10h0m0 5h0m0 1h0m0 53h0m1-102h0m0 4h0m0 0h0m0 13h0m0 2h0m0 4h0m0 2h0m0 0h0m0 0h0m0 2h0m0 4h0m0 2h0m0 7h0m0 45h0m1-75h0m0 10h0m0 11h0m0 13h0m0 36h0m1-76h0m0 15h0m0 13h0m0 9h0m0 3h0m0 0h0m0 18h0m0 11h0m0 14h0m1-55h0m0 1h0m0 2h0m0 13h0m0 21h0m1-56h0m0 8h0m0 8h0m0 1h0m0 4h0m0 34h0m0 2h0m1-45h0m0 1h0m0 1h0m0 1h0m0 10h0m0 36h0m1-77h0m0 21h0m0 25h0m0 41h0m2-51h0m1 41h0m1-56h0m0 4h0m0 12h0m1 5h0m0 51h0m5-47h0m2-15h0"/>
<path stroke="#D355A0" d="M1873 1306h0m2-1h0m7 26h0m1-9h0m6-19h0m0 4h0m1 43h0m4-20h0m1-41h0m0 35h0m2-31h0m0 15h0m0 6h0m0 26h0m2-46h0m2 22h0m1 39h0m0 11h0m1 15h0m0 31h0m2-120h0m0 17h0m1-26h0m0 36h0m0 24h0m0 27h0m0 100h0m1-103h0m1-61h0m0 67h0m0 3h0m2-41h0m1 9h0m0 34h0m1-61h0m0 95h0m1-83h0m0 75h0m1-77h0m0 30h0m0 11h0m0 265h0m1-264h0m1-47h0m0 11h0m0 56h0m0 45h0m0 29h0m0 3h0m1-91h0m0 64h0m0 23h0m0 4h0m1-131h0m0 54h0m0 129h0m1-179h0m0 25h0m0 35h0m0 31h0m0 0h0m0 70h0m1-131h0m0 75h0m1-77h0m0 16h0m0 25h0m0 17h0m0 80h0m1 7h0m1-102h0m1-38h0m0 29h0m1-22h0m0 19h0m0 27h0m0 17h0m0 14h0m0 45h0m1-5h0m0 98h0m1-126h0m0 28h0m0 36h0m1-53h0m0 21h0m0 21h0m1-119h0m0 50h0m0 51h0m0 8h0m0 8h0m0 16h0m0 16h0m0 137h0m1-184h0m0 8h0m1-117h0m0 20h0m0 31h0m0 7h0m0 0h0m0 37h0m0 5h0m0 7h0m0 12h0m0 86h0m1-177h0m0 21h0m0 79h0m0 6h0m1-13h0m0 9h0m1-92h0m0 69h0m0 18h0m0 3h0m0 10h0m1-97h0m0 76h0m0 8h0m0 1h0m0 13h0m0 1h0m0 5h0m0 3h0m0 13h0m1-43h0m0 11h0m0 26h0m1-114h0m0 27h0m0 2h0m0 44h0m1-64h0m0 33h0m0 49h0m0 11h0m0 10h0m0 58h0m1-172h0m0 86h0m0 2h0m0 3h0m0 9h0m0 1h0m0 5h0m0 19h0m0 20h0m0 4h0m1-109h0m0 0h0m0 16h0m0 4h0m0 1h0m1-31h0m0 10h0m0 21h0m0 3h0m0 5h0m0 16h0m0 2h0m0 7h0m0 8h0m0 1h0m0 36h0m0 5h0m0 37h0m1-185h0m0 27h0m0 25h0m0 31h0m0 6h0m0 18h0m0 13h0m0 48h0m1-110h0m0 4h0m0 18h0m0 6h0m0 5h0m0 10h0m0 9h0m0 2h0m0 7h0m0 3h0m0 15h0m0 5h0m0 3h0m0 17h0m0 17h0m1-121h0m0 4h0m0 6h0m0 1h0m0 6h0m0 9h0m0 6h0m0 21h0m0 13h0m0 5h0m0 11h0m0 37h0m1-113h0m0 13h0m0 16h0m0 3h0m0 8h0m0 20h0m0 1h0m0 2h0m0 2h0m0 20h0m0 15h0m1-158h0m0 26h0m0 49h0m0 2h0m0 21h0m0 40h0m0 31h0m1-98h0m0 1h0m0 8h0m0 10h0m0 10h0m0 5h0m0 2h0m0 2h0m0 2h0m0 3h0m0 7h0m0 42h0m0 3h0m1-114h0m0 27h0m0 1h0m0 3h0m0 9h0m0 5h0m0 4h0m0 1h0m0 7h0m0 13h0m0 4h0m0 7h0m0 3h0m0 15h0m0 23h0m1-134h0m0 4h0m0 20h0m0 23h0m0 31h0m0 1h0m0 21h0m0 4h0m0 10h0m1-99h0m0 12h0m0 46h0m0 0h0m0 3h0m0 4h0m0 19h0m0 6h0m0 15h0m0 51h0m1-156h0m0 45h0m0 4h0m0 9h0m0 8h0m0 9h0m0 8h0m0 19h0m0 11h0m1-77h0m0 27h0m0 13h0m0 2h0m0 1h0m0 2h0m0 7h0m0 1h0m0 4h0m0 1h0m0 3h0m0 5h0m0 3h0m0 2h0m0 15h0m0 9h0m1-179h0m0 46h0m0 11h0m0 37h0m0 17h0m0 28h0m0 18h0m0 1h0m0 13h0m0 15h0m1-125h0m0 10h0m0 1h0m0 2h0m0 29h0m0 15h0m0 6h0m0 1h0m0 2h0m0 3h0m0 4h0m0 7h0m0 9h0m0 32h0m0 11h0m0 1h0m0 8h0m1-123h0m0 16h0m0 6h0m0 33h0m0 35h0m1-67h0m0 13h0m0 2h0m0 29h0m0 1h0m0 44h0m0 33h0m1-140h0m0 19h0m0 2h0m0 12h0m0 11h0m0 6h0m0 50h0m1-114h0m0 39h0m0 22h0m0 4h0m0 5h0m0 13h0m0 2h0m1-106h0m0 42h0m0 9h0m0 20h0m0 14h0m0 6h0m0 30h0m0 20h0m0 21h0m1-108h0m0 17h0m0 4h0m1-69h0m0 30h0m0 34h0m0 13h0m0 9h0m0 15h0m0 22h0m0 3h0m1-50h0m0 7h0m0 5h0m0 20h0m0 40h0m1-83h0m0 1h0m0 21h0m0 3h0m0 7h0m0 52h0m0 14h0m1-115h0m0 15h0m0 16h0m0 59h0m0 7h0m0 27h0m0 23h0m1-132h0m0 18h0m0 40h0m0 6h0m0 6h0m0 15h0m1-82h0m0 6h0m0 28h0m0 94h0m1-140h0m0 9h0m0 35h0m0 44h0m1-91h0m0 21h0m1 19h0m0 1h0m0 31h0m0 25h0m1-96h0m0 22h0m0 19h0m0 26h0m0 88h0m2-55h0m0 23h0m1-106h0m1 78h0m1-64h0m0 63h0m2-68h0m0 108h0m1-18h0m2-42h0m0 63h0m14-74h0"/>
<path stroke="#A89C2F" d="M1717 1222h0m1-11h0m0 17h0m1 0h0m1-21h0m0 8h0m1-3h0m0 1h0m0 0h0m0 2h0m1-4h0m0 0h0m0 10h0m0 2h0m0 1h0m1-4h0m0 7h0m0 1h0m1-28h0m0 11h0m1-8h0m0 10h0m0 9h0m2-18h0m0 9h0m0 5h0m1 3h0m1-9h0m0 12h0m1 14h0m2-19h0m0 6h0m1-6h0m0 5h0m0 1h0m0 1h0m0 3h0m1-20h0m0 12h0m0 2h0m0 5h0m1-12h0m0 8h0m1-6h0m0 4h0m1-5h0m0 1h0m0 7h0m0 1h0m1-14h0m0 5h0m0 2h0m0 4h0m0 10h0m1-8h0m0 6h0m1-18h0m0 3h0m0 1h0m1-2h0m0 2h0m0 1h0m0 13h0m0 2h0m1-14h0m0 4h0m0 10h0m1-13h0m0 3h0m0 1h0m0 6h0m0 1h0m1-3h0m0 0h0m0 2h0m0 7h0m1-3h0m2-16h0m0 6h0m0 6h0m0 2h0m0 3h0m1-19h0m0 3h0m0 3h0m0 8h0m0 9h0m0 5h0m0 2h0m1-34h0m0 18h0m0 3h0m0 6h0m0 9h0m1-36h0m0 3h0m0 8h0m0 6h0m0 1h0m1 7h0m0 2h0m0 1h0m1-12h0m0 7h0m0 2h0m1 4h0m0 3h0m1-8h0m1 7h0m1-14h0m0 7h0m0 1h0m0 2h0m1-10h0m0 6h0m0 1h0m1-11h0m0 8h0m0 4h0m0 1h0m0 11h0m0 3h0m1-20h0m0 1h0m0 5h0m1-15h0m0 6h0m0 13h0m0 5h0m0 0h0m1-25h0m0 12h0m0 2h0m1 5h0m1-9h0m0 1h0m0 3h0m0 1h0m0 7h0m1-18h0m0 4h0m0 2h0m0 1h0m0 7h0m1-9h0m0 6h0m0 6h0m1-10h0m0 1h0m0 3h0"/>
<path stroke="#72B03C" d="M1715 1178h0m0 26h0m1-16h0m0 4h0m0 7h0m0 6h0m0 0h0m0 0h0m1-17h0m0 11h0m0 6h0m1-40h0m0 16h0m0 10h0m0 1h0m0 9h0m1-34h0m0 1h0m0 11h0m0 3h0m0 5h0m0 4h0m0 3h0m0 8h0m0 1h0m1-32h0m0 1h0m0 3h0m0 7h0m0 4h0m0 3h0m0 3h0m0 0h0m0 3h0m0 3h0m0 2h0m0 0h0m0 1h0m0 1h0m0 1h0m1-43h0m0 8h0m0 6h0m0 13h0m0 3h0m0 2h0m0 3h0m0 6h0m0 0h0m1-43h0m0 9h0m0 5h0m0 3h0m0 8h0m0 3h0m0 2h0m0 7h0m0 1h0m0 9h0m1-53h0m0 15h0m0 2h0m0 2h0m0 1h0m0 3h0m0 8h0m0 11h0m0 1h0m0 10h0m1-53h0m0 0h0m0 10h0m0 0h0m0 4h0m0 1h0m0 4h0m0 8h0m0 7h0m0 1h0m0 5h0m0 3h0m0 1h0m0 8h0m0 0h0m1-66h0m0 4h0m0 7h0m0 6h0m0 2h0m0 5h0m0 1h0m0 3h0m0 2h0m0 3h0m0 2h0m0 2h0m0 10h0m0 10h0m0 8h0m1-60h0m0 5h0m0 6h0m0 1h0m0 8h0m0 4h0m0 0h0m0 4h0m0 4h0m0 2h0m0 2h0m0 2h0m0 8h0m0 10h0m0 3h0m1-55h0m0 4h0m0 0h0m0 8h0m0 4h0m0 10h0m0 7h0m0 8h0m1-48h0m0 4h0m0 2h0m0 11h0m0 12h0m1-26h0m0 1h0m0 0h0m0 26h0m0 2h0m0 1h0m0 3h0m0 27h0m1-63h0m0 4h0m1 5h0m0 11h0m2-22h0"/>
<path stroke="#4FAF4E" d="M1651 1209h0m1-14h0m0 12h0m1-10h0m1-8h0m0 9h0m0 2h0m0 11h0m0 0h0m0 1h0m1-20h0m0 4h0m0 1h0m0 3h0m1-8h0m0 5h0m0 2h0m0 1h0m0 2h0m0 8h0m0 0h0m1-10h0m0 8h0m0 3h0m1-33h0m0 5h0m0 1h0m0 9h0m0 0h0m0 1h0m0 2h0m0 7h0m0 6h0m1 1h0m0 2h0m1-18h0m0 5h0m0 9h0m0 2h0m0 1h0m1-30h0m0 18h0m0 7h0m0 2h0m0 2h0m1-29h0m0 13h0m0 3h0m1-6h0m0 14h0m1-54h0m0 53h0m0 3h0m0 13h0m1-62h0m0 31h0m0 12h0m0 6h0m0 6h0m1-20h0m0 0h0m0 9h0m0 16h0m1-19h0m1 5h0m0 2h0m1-20h0m0 1h0m0 24h0m1-24h0m0 4h0m0 14h0m0 5h0m1-10h0m0 8h0m2-15h0m0 1h0m0 7h0m0 1h0m0 4h0m1-26h0m0 11h0m0 0h0m0 0h0m0 14h0m0 11h0m0 2h0m1-26h0m0 5h0m0 7h0m0 9h0m0 10h0m1-31h0m0 2h0m0 3h0m0 0h0m0 2h0m0 7h0m0 4h0m1-24h0m0 10h0m0 6h0m0 0h0m0 0h0m0 7h0m1-25h0m0 19h0m1-11h0m0 8h0m0 4h0m0 1h0m0 1h0m0 1h0m0 5h0m1-29h0m0 8h0m0 12h0m0 3h0m0 9h0m0 9h0m0 0h0m1-36h0m0 6h0m0 18h0m0 1h0m1-9h0m0 7h0m1-41h0m0 19h0m0 0h0m0 20h0m1-16h0m0 4h0m0 8h0m0 3h0m0 2h0m0 0h0m1-2h0m1-12h0m0 13h0m0 0h0m0 1h0m1-16h0m0 1h0m0 3h0m0 2h0m0 14h0m1-22h0m0 12h0m1-3h0m0 8h0m0 1h0m0 2h0m1-24h0m0 23h0m0 13h0m1-24h0m1-1h0m0 8h0m0 3h0m0 6h0m1-36h0m0 25h0m0 1h0m1 0h0m0 12h0m1-30h0m0 16h0m0 5h0m0 2h0m1-55h0m0 13h0m0 33h0m0 2h0m0 4h0m0 1h0m1-14h0m0 3h0m0 0h0m0 3h0m1-7h0m0 7h0m0 3h0m0 1h0m0 4h0m0 1h0m1-29h0m0 6h0m0 20h0m1-39h0m0 30h0m1-4h0m0 8h0m0 1h0m0 5h0m1-6h0m1-17h0m0 16h0m0 4h0m0 1h0m0 8h0m0 10h0m2-55h0m0 40h0m0 1h0m0 0h0m1-9h0m1-21h0m0 2h0m0 12h0m0 9h0m0 12h0m1-17h0m0 3h0m0 4h0m0 2h0m0 4h0m2-2h0m0 5h0m0 2h0m1-35h0m0 24h0m0 24h0m1-32h0m0 13h0m1-6h0m0 8h0m1-11h0m0 12h0m1-10h0m0 4h0m1 5h0m0 1h0m0 5h0m0 1h0m1 2h0m1-26h0m0 11h0m0 4h0m2-45h0"/>
<path stroke="#4BAE94" d="M1647 1178h0m1-37h0m0 11h0m0 22h0m0 21h0m1-50h0m0 50h0m1-52h0m0 50h0m0 1h0m1-54h0m0 13h0m0 0h0m0 31h0m0 6h0m1-53h0m0 8h0m0 3h0m0 5h0m0 1h0m0 2h0m0 0h0m0 0h0m0 1h0m0 8h0m0 14h0m0 9h0m0 4h0m0 0h0m1-52h0m0 0h0m0 0h0m0 5h0m0 4h0m0 11h0m0 2h0m0 3h0m0 6h0m0 7h0m0 1h0m0 10h0m0 7h0m1-57h0m0 7h0m0 13h0m0 0h0m0 5h0m0 2h0m0 0h0m0 7h0m0 3h0m0 5h0m0 3h0m0 2h0m1-49h0m0 29h0m0 4h0m0 1h0m0 0h0m0 18h0m0 3h0m1-56h0m0 10h0m0 10h0m0 9h0m0 5h0m0 4h0m1-36h0m0 10h0m0 18h0m0 15h0m0 7h0m0 8h0m2-19h0m1-29h0"/>
<path stroke="#4C94DC" d="M1525 1206h0m1-27h0m0 32h0m1-4h0m1-27h0m0 18h0m0 6h0m1-26h0m0 19h0m1-29h0m0 18h0m0 8h0m0 7h0m1-30h0m0 6h0m0 10h0m0 19h0m0 1h0m0 2h0m0 3h0m1-43h0m0 8h0m0 2h0m0 4h0m0 0h0m0 8h0m0 13h0m0 3h0m1-44h0m0 4h0m0 10h0m0 2h0m0 1h0m0 1h0m0 20h0m0 11h0m1-52h0m0 6h0m0 4h0m0 34h0m1-40h0m0 12h0m0 3h0m0 2h0m0 31h0m1-55h0m0 21h0m0 7h0m0 1h0m0 20h0m1-40h0m0 13h0m0 4h0m0 21h0m7 3h0"/>
<path stroke="#C88A2A" d="M1765 1245h0m0 12h0m1-20h0m0 2h0m0 0h0m1-2h0m0 2h0m1 8h0m1-14h0m0 2h0m0 9h0m0 3h0m0 3h0m1-27h0m0 18h0m0 4h0m0 0h0m0 1h0m0 3h0m0 1h0m1-19h0m0 7h0m0 0h0m0 6h0m0 0h0m1-10h0m0 0h0m0 7h0m0 4h0m0 15h0m1-16h0m0 3h0m0 1h0m0 2h0m1-4h0m0 2h0m0 2h0m0 3h0m0 4h0m0 1h0m1-18h0m0 5h0m0 1h0m1-17h0m0 4h0m0 4h0m0 5h0m1-7h0m0 5h0m0 1h0m0 1h0m0 3h0m0 0h0m0 1h0m0 4h0m1-10h0m0 9h0m0 5h0m1-18h0m0 13h0m0 6h0m1-18h0m0 2h0m0 13h0m1-6h0m0 11h0m0 1h0m1-13h0m0 10h0m1 10h0m1-52h0m0 28h0m0 0h0m0 6h0m0 9h0m1-22h0m0 16h0m0 0h0m0 0h0m1-18h0m0 0h0m0 13h0m0 10h0m0 4h0m0 9h0m1-17h0m0 2h0m1-12h0m0 2h0m0 3h0m0 6h0m0 4h0m1-41h0m0 32h0m0 1h0m0 4h0m1-71h0m0 63h0m0 4h0m1-18h0m1-55h0m0 59h0m0 8h0m0 3h0m0 11h0m0 5h0m1-18h0m0 3h0m0 2h0m0 2h0m0 2h0m0 1h0m0 2h0m1-25h0m0 25h0m0 8h0m1-76h0m0 49h0m0 13h0m0 1h0m0 1h0m0 4h0m1-31h0m0 1h0m0 29h0m0 5h0m1-55h0m0 18h0m0 25h0m0 8h0m1-14h0m0 5h0m0 0h0m0 2h0m0 0h0m0 2h0m0 3h0m0 0h0m0 2h0m0 2h0m0 0h0m0 0h0m0 1h0m0 0h0m0 16h0m1-23h0m0 3h0m0 4h0m0 11h0m1-15h0m0 9h0m1-54h0m0 48h0m0 4h0m0 0h0m0 5h0m1-48h0m0 25h0m0 1h0m0 12h0m0 2h0m1-75h0m0 60h0m0 11h0m0 4h0m1-35h0m0 15h0m0 10h0m0 8h0m0 7h0m0 1h0m0 1h0m1-40h0m0 18h0m0 0h0m0 15h0m0 1h0m0 7h0m1-43h0m0 37h0m0 1h0m1-52h0m0 14h0m0 26h0m0 10h0m0 0h0m1 4h0m0 1h0m0 0h0m0 4h0m1-26h0m0 13h0m0 1h0m0 5h0m0 2h0m0 7h0m0 1h0m1-16h0m0 5h0m0 2h0m0 3h0m1-3h0m0 2h0m0 2h0m0 3h0m1-22h0m0 9h0m1-6h0m0 3h0m1-27h0m0 10h0m0 22h0m0 0h0m0 2h0m0 1h0m0 0h0m0 5h0m0 7h0m1-26h0m0 2h0m0 0h0m0 10h0m0 11h0m1-34h0m0 16h0m1-28h0m0 4h0m0 28h0m0 5h0m0 3h0m0 3h0m0 10h0m1-40h0m0 14h0m0 2h0m0 8h0m0 11h0m2-60h0m0 19h0m0 24h0m0 1h0m0 17h0m1-13h0m0 2h0m1-7h0m0 3h0m0 3h0m0 6h0m0 4h0m1-39h0m0 2h0m0 32h0m0 5h0m1-17h0m0 8h0m0 8h0m1-7h0m0 11h0m1-19h0m0 10h0m0 9h0m1-33h0m0 23h0m0 7h0m0 1h0m0 2h0m0 7h0m1-24h0m0 18h0m1-49h0m0 38h0m0 2h0m0 1h0m1-44h0m0 32h0m0 6h0m0 14h0m1-13h0m0 2h0m0 1h0m0 11h0m2-42h0m0 32h0m0 6h0m0 4h0m0 1h0m0 7h0m1-51h0m0 37h0m0 9h0m0 0h0m1-38h0m0 3h0m0 12h0m0 0h0m0 13h0m1 9h0m0 1h0m1-31h0m0 17h0m0 9h0m0 1h0m0 4h0m0 3h0m1-19h0m0 1h0m0 5h0m0 2h0m0 1h0m1-34h0m0 38h0m0 6h0m1-48h0m0 13h0m0 19h0m0 5h0m0 3h0m1-6h0m0 11h0m0 0h0m1-44h0m0 35h0m0 6h0m0 5h0m1-40h0m0 7h0m0 29h0m0 17h0m1-25h0m0 23h0m1-64h0m0 42h0m1-46h0m0 48h0m1-6h0m0 12h0m0 3h0m1-4h0m1-2h0m0 5h0m0 1h0m0 6h0m1-11h0m1-3h0m0 11h0m0 0h0m0 3h0m1-25h0m0 16h0m0 1h0m0 2h0m1-2h0m0 3h0m0 0h0m0 3h0m0 12h0m1-25h0m0 10h0m0 6h0m1-13h0m0 3h0m0 17h0m1-24h0m0 9h0m0 1h0m0 3h0m0 2h0m0 1h0m0 2h0m0 3h0m1-14h0m1 8h0m0 2h0m0 3h0m0 3h0m0 3h0m1-30h0m0 3h0m0 2h0m0 9h0m0 3h0m1-3h0m0 1h0m0 4h0m2-1h0m1-15h0m0 20h0m1-18h0m0 21h0m0 5h0m1-10h0m2-10h0m0 5h0m0 7h0m0 4h0m2-8h0m0 8h0m2 1h0m1-6h0m1-16h0m1 2h0m1 12h0m0 2h0m0 3h0m0 10h0m0 10h0m1-31h0m0 22h0m1-5h0m0 0h0m0 0h0m1-15h0m1 9h0m1 5h0m1-7h0"/>
<path stroke="#B266BC" d="M1746 1318h0m1-5h0m1-64h0m0 75h0m1-27h0m0 2h0m0 20h0m0 9h0m0 31h0m1-110h0m0 101h0m1-33h0m0 30h0m1-14h0m0 25h0m1-109h0m0 10h0m0 5h0m0 40h0m0 5h0m0 1h0m1-60h0m0 1h0m0 14h0m0 18h0m0 4h0m0 6h0m0 36h0m1-69h0m0 1h0m0 20h0m0 4h0m0 15h0m0 0h0m0 15h0m0 32h0m0 23h0m1-123h0m0 2h0m0 4h0m0 8h0m0 15h0m0 13h0m0 1h0m0 1h0m0 11h0m0 3h0m0 36h0m1-94h0m0 4h0m0 3h0m0 3h0m0 6h0m0 3h0m0 2h0m0 3h0m0 2h0m0 5h0m0 1h0m0 2h0m0 2h0m0 3h0m0 12h0m0 5h0m0 19h0m1-75h0m0 4h0m0 1h0m0 0h0m0 3h0m0 5h0m0 2h0m0 5h0m0 10h0m0 2h0m0 5h0m0 2h0m0 11h0m0 1h0m0 6h0m0 1h0m1-55h0m0 1h0m0 4h0m0 2h0m0 0h0m0 10h0m0 1h0m0 0h0m0 9h0m0 3h0m0 16h0m0 8h0m0 39h0m0 8h0m0 16h0m1-119h0m0 0h0m0 2h0m0 2h0m0 1h0m0 14h0m0 1h0m0 0h0m0 4h0m0 1h0m0 1h0m0 6h0m0 4h0m0 7h0m0 6h0m0 3h0m0 6h0m0 2h0m0 1h0m1-58h0m0 4h0m0 3h0m0 3h0m0 3h0m0 1h0m0 7h0m0 2h0m0 4h0m0 6h0m0 5h0m0 4h0m0 4h0m0 1h0m0 3h0m0 9h0m0 0h0m0 0h0m0 60h0m0 3h0m1-111h0m0 2h0m0 2h0m0 6h0m0 4h0m0 1h0m0 6h0m0 2h0m0 2h0m0 0h0m0 6h0m0 0h0m0 4h0m0 7h0m0 2h0m0 4h0m1-59h0m0 3h0m0 4h0m0 13h0m0 4h0m0 2h0m0 13h0m0 3h0m0 3h0m0 0h0m0 7h0m0 1h0m0 4h0m1-52h0m0 4h0m0 29h0m0 1h0m0 4h0m0 8h0m0 3h0m0 55h0m1-109h0m0 20h0m0 3h0m0 2h0m0 3h0m0 2h0m0 10h0m0 4h0m0 6h0m0 3h0m1-51h0m0 10h0m0 23h0m0 2h0m0 3h0m1-43h0m0 7h0m0 34h0m0 2h0m0 17h0m1-54h0m0 13h0m0 29h0m0 1h0m1-30h0m2-14h0"/>
<path stroke="#41AEDD" d="M1536 1206h0m2 6h0m1-14h0m0 20h0m2-11h0m1-41h0m0 10h0m2 38h0m3 5h0m1-39h0m0 17h0m1-25h0m0 22h0m1 11h0m0 19h0m1-15h0m1 7h0m0 3h0m1-31h0m0 49h0m3-26h0m0 5h0m3-15h0m0 9h0m1-70h0m0 25h0m1 40h0m0 17h0m1-5h0m0 3h0m1-51h0m1 38h0m2-19h0m2 8h0m0 5h0m0 21h0m2-28h0m2 7h0m0 8h0m6-28h0m0 19h0m0 4h0m1 22h0m1-28h0m1 8h0m3-28h0m0 13h0m1-3h0m1 20h0m1-14h0m0 28h0m1-19h0m1-18h0m4 8h0m2 17h0m1-49h0m0 54h0m1-36h0m0 38h0m1-47h0m0 11h0m1-34h0m0 0h0m0 40h0m0 26h0m1-46h0m0 18h0m1 14h0m0 4h0m1-34h0m0 11h0m0 8h0m1-36h0m0 18h0m0 3h0m0 24h0m1-43h0m0 14h0m0 10h0m0 21h0m0 4h0m1-46h0m0 7h0m0 3h0m0 0h0m0 6h0m0 11h0m1-7h0m0 8h0m1-35h0m0 8h0m0 44h0m1-36h0m0 21h0m0 2h0m0 12h0m0 2h0m0 0h0m0 11h0m1-50h0m0 40h0m1-1h0m1-13h0m1-24h0m3 20h0m5 25h0m1-16h0m1 15h0m2-46h0m0 38h0m1-16h0m2-24h0m4 30h0m0 1h0m1 34h0m2-43h0m0 23h0m2-23h0m1 27h0m7-6h0m2-16h0m2 31h0m2-34h0m0 8h0m0 30h0"/>
</g>
<g font-family="'Liberation Sans', Arial, Helvetica, sans-serif" font-size="11.2" fill="#fff" stroke="#fff" stroke-width="0.2" text-anchor="middle">
<circle cx="825.7" cy="601.9" r="5.5" fill="#000"/><text x="825.7" y="605.8">1</text>
<circle cx="766.6" cy="608.2" r="5.5" fill="#000"/><text x="766.6" y="612.2">2</text>
<circle cx="882.8" cy="619.9" r="5.5" fill="#000"/><text x="882.8" y="623.8">3</text>
<circle cx="859" cy="606.4" r="5.5" fill="#000"/><text x="859" y="610.3">4</text>
<circle cx="942.3" cy="646.9" r="5.5" fill="#000"/><text x="942.3" y="650.8">5</text>
</g>
<path d="M613.5 521.3V868.4H1030.7" fill="none" stroke="#4a4744" stroke-width="1.5"/>
<path d="M613.5 550.1h-3.2M613.5 625.1h-3.2M613.5 700.1h-3.2M613.5 775.1h-3.2M613.5 850.1h-3.2M678.1 868.4v3.2M773.3 868.4v3.2M868.5 868.4v3.2M963.7 868.4v3.2" fill="none" stroke="#4a4744" stroke-width="1.2"/>
<g font-family="'Liberation Serif', 'Times New Roman', serif" font-size="16.2" fill="#333" stroke="#333" stroke-width="0.25">
<text x="607.9" y="555.7" text-anchor="end">1</text>
<text x="607.9" y="630.7" text-anchor="end">0</text>
<text x="607.9" y="705.7" text-anchor="end">−1</text>
<text x="607.9" y="780.7" text-anchor="end">−2</text>
<text x="607.9" y="855.7" text-anchor="end">−3</text>
<text x="678.1" y="884.1" text-anchor="middle">−4</text>
<text x="773.3" y="884.1" text-anchor="middle">−2</text>
<text x="868.5" y="884.1" text-anchor="middle">0</text>
<text x="963.7" y="884.1" text-anchor="middle">2</text>
</g>
<g font-family="'Liberation Serif', 'Times New Roman', serif" font-size="20.25" font-weight="bold" fill="#000" text-anchor="middle">
<text x="822.1" y="903.9">Component 1</text>
<text transform="translate(584.3 694.8) rotate(-90)">Component 2</text>
</g>
<g font-family="'Liberation Serif', 'Times New Roman', serif" font-weight="bold" fill="#000">
<text x="1045.8" y="570.6" font-size="18.3">State</text>
<circle cx="1053.7" cy="589.5" r="1.3" fill="#D6615B"/>
<text x="1066.6" y="595.2" font-size="17">1</text>
<circle cx="1053.7" cy="612.8" r="1.3" fill="#C88A2A"/>
<text x="1066.6" y="618.5" font-size="17">2</text>
<circle cx="1053.7" cy="636" r="1.3" fill="#A89C2F"/>
<text x="1066.6" y="641.7" font-size="17">3</text>
<circle cx="1053.7" cy="659.2" r="1.3" fill="#72B03C"/>
<text x="1066.6" y="665" font-size="17">4</text>
<circle cx="1053.7" cy="682.5" r="1.3" fill="#4FAF4E"/>
<text x="1066.6" y="688.2" font-size="17">5</text>
<circle cx="1053.7" cy="705.8" r="1.3" fill="#4BAE94"/>
<text x="1066.6" y="711.5" font-size="17">6</text>
<circle cx="1053.7" cy="729" r="1.3" fill="#41AEDD"/>
<text x="1066.6" y="734.7" font-size="17">7</text>
<circle cx="1053.7" cy="752.2" r="1.3" fill="#4C94DC"/>
<text x="1066.6" y="758" font-size="17">8</text>
<circle cx="1053.7" cy="775.5" r="1.3" fill="#8F7CC6"/>
<text x="1066.6" y="781.2" font-size="17">9</text>
<circle cx="1053.7" cy="798.8" r="1.3" fill="#B266BC"/>
<text x="1066.6" y="804.5" font-size="17">10</text>
<circle cx="1053.7" cy="822" r="1.3" fill="#D355A0"/>
<text x="1066.6" y="827.7" font-size="17">11</text>
</g>
<path d="M1251 640.1L1277.3 628.1L1303.7 619.5L1330.1 613.1L1354.1 608.2L1391.6 603.7L1426.8 601.9L1447.3 603L1467.8 606.4L1482.4 612.7L1497.1 619.9L1523.5 628.9L1546.9 637.5L1570.3 646.9M1570.3 646.9L1577.9 666.4L1585 688.9L1590.8 707.6L1595.5 724.9L1599.6 741.4M1570.3 646.9L1628.9 574.1" fill="none" stroke="#000" stroke-width="1.8" stroke-linejoin="round"/>
<g fill="none" stroke-linecap="round" stroke-width="5.2" transform="scale(.5)">
<path stroke="#55ACB7" d="M2448 1338h0m17-70h0m2 23h0m0 0h0m7 7h0m2-7h0m0 1h0m2-39h0m0 6h0m2 2h0m2-9h0m0 28h0m1-1h0m0 18h0m1-11h0m1-36h0m0 44h0m1-64h0m0 28h0m0 22h0m0 1h0m0 23h0m1-42h0m1 20h0m0 6h0m0 12h0m1-31h0m0 5h0m2-17h0m0 5h0m0 55h0m2-85h0m0 43h0m2-43h0m0 56h0m1-60h0m4 61h0m5-13h0m1-50h0m2 30h0m2 14h0m0 19h0m7-58h0m1 23h0m1-2h0m3-12h0m3 13h0m9-23h0m3 38h0m10 55h0m1-70h0m4-40h0m5 21h0m4 13h0m3 7h0m1 0h0m2-25h0m2 9h0m1-43h0m1 34h0m2-1h0m0 34h0m11-58h0m2-1h0m1 40h0m7 23h0m10-39h0m2 1h0m0 11h0m7-43h0m2 35h0m2-12h0m0 19h0m4 3h0m4-52h0m1 43h0m1-11h0m7-24h0m3 16h0m4 36h0m7-44h0m7 23h0m3-40h0m12 8h0m3-39h0m11 48h0m8-25h0m6 27h0m5-10h0m3-20h0m1 0h0m0 0h0m3-11h0m0 46h0m0 20h0m1-54h0m2-12h0m0 13h0m6-3h0m6 43h0m2-39h0m49 23h0m9-42h0m2 18h0m0 38h0m1-47h0m1 43h0m8-28h0m3-19h0m0 37h0m24-41h0m9 22h0m16-43h0m0 37h0m5-24h0m0 53h0m1-62h0m0 11h0m0 36h0m1-14h0m1 3h0m1-10h0m0 0h0m0 21h0m1 8h0m0 10h0m1-54h0m0 18h0m1 22h0m1-2h0m2-46h0m4 57h0m1 2h0m1-49h0m0 55h0m2-20h0m3-7h0m6 20h0m2-14h0m2 10h0m2-10h0m3 20h0m1-8h0m6 5h0m0 1h0m1-12h0m1 3h0m1 11h0m1-24h0m0 23h0m2-11h0m3 18h0m2-14h0m6-6h0m3 8h0m3 3h0m8-12h0m6 2h0m0 6h0m0 17h0m1-31h0m1 1h0m2 3h0m0 3h0m1-16h0m0 13h0m1 0h0m1-12h0m0 37h0m0 7h0m2-61h0m1-24h0m0 80h0m1-54h0m0 31h0m1-24h0m0 2h0m1-14h0m1 6h0m2-29h0m4-2h0m1 71h0m0 19h0m2-10h0m2 7h0m1 1h0m4 5h0m7 82h0m1 11h0m6-89h0m3 80h0m1-68h0m0 13h0m1-31h0m1 20h0m0 2h0m0 22h0m1-40h0m0 65h0m1-41h0m0 11h0m0 75h0m1-52h0m1-41h0m0 22h0m0 12h0m0 22h0m0 4h0m1-76h0m0 136h0m1-93h0m1 26h0m1-63h0m0 49h0m0 5h0m0 11h0m1-68h0m0 37h0m0 5h0m0 2h0m1-44h0m0 34h0m1-34h0m1 54h0m1-44h0m3-6h0m2-7h0m0 11h0m4-5h0m2 5h0m4-8h0m3 8h0m0 10h0m1 10h0m1-24h0m0 6h0m2-15h0m3 20h0m5-18h0m0 27h0m1-11h0m7 19h0m4-13h0m2-18h0m3 23h0m1-12h0m4 11h0m3-10h0m2-24h0m0 32h0m0 3h0m0 5h0m4-5h0m1-10h0m2 4h0m1 7h0m1 9h0m2-37h0m1 36h0m2 4h0m1-9h0m5-42h0m4 56h0m1-38h0m1 15h0m2 23h0m3-3h0m1-42h0m0 13h0m1 32h0m1-9h0m4-42h0m5 52h0m4-2h0m1 4h0m2 13h0m1-3h0m5-20h0m4-2h0m3 18h0m2-10h0m0 12h0m3-4h0m14 4h0m11-22h0m14-4h0m1 91h0m3-115h0m1 11h0m1 219h0m8-141h0m2-2h0m2 136h0m2-236h0m0 235h0m1-234h0m1 171h0m0 31h0m3-5h0m1-218h0m4 235h0m2 54h0m1 4h0m3-292h0m0 238h0m1 44h0m0 110h0m3-67h0m2-21h0m1 12h0m2-324h0m3 274h0m0 20h0m4 11h0m0 11h0m2-22h0m0 29h0m0 11h0m0 21h0m1-44h0m1-3h0m1 18h0m0 36h0m0 37h0m2-45h0m0 22h0m1-85h0m0 58h0m0 98h0m1-479h0m0 27h0m0 354h0m0 8h0m1 12h0m0 5h0m0 19h0m2-410h0m0 418h0m1-97h0m0 57h0m2-39h0m0 16h0m2 39h0m1-3h0m1-11h0m0 50h0m2-46h0m2 19h0m1-423h0m1 422h0m0 51h0m0 11h0m1-527h0m1 25h0m0 425h0m0 28h0m0 48h0m5-547h0m1 606h0m2-604h0m0 5h0m0 544h0m3-539h0m0 4h0m1-34h0m1 26h0m0 22h0m1-11h0m0 7h0m0 9h0m1-19h0m1-10h0m0 2h0m0 41h0m1-30h0m0 4h0m0 2h0m1-2h0m0 502h0m1-528h0m0 14h0m0 1h0m0 14h0m1-50h0m0 2h0m0 40h0m0 2h0m1-14h0m0 4h0m1-12h0m0 21h0m0 4h0m0 4h0m0 19h0m1-34h0m0 5h0m0 24h0m1-51h0m0 0h0m0 16h0m0 16h0m1-22h0m0 9h0m0 20h0m1-39h0m0 45h0m1-31h0m1 11h0m2 1h0m0 11h0m0 16h0m3 0h0m1-15h0m1-11h0m0 15h0m2 2h0m2 3h0m1-55h0m2 20h0m4-1h0"/>
<path stroke="#D4554F" d="M2388 1408h0m16-33h0m3-5h0m4-23h0m1 20h0m2 4h0m3 23h0m4 2h0m14-55h0m9 33h0m5 1h0m7-15h0m1 5h0m4-13h0m2 13h0m9-111h0m6 80h0m3-52h0m7 63h0m1-67h0m1 43h0m3-46h0m6 14h0m2-18h0m0 0h0m5 0h0m5 37h0m22-66h0m11 29h0m5-8h0m6 2h0m11-4h0m0 4h0m36 2h0m52-3h0m9-22h0m1-10h0m21 3h0m23-17h0m7 0h0m6-4h0m53 8h0m82-82h0m32 66h0m1-15h0m14 8h0m20 12h0m38 20h0m31 129h0m17-125h0m41 29h0m54 11h0m10 15h0m52 2h0m7-46h0m7 129h0m3-11h0m6 8h0m2 84h0m3-239h0m1 185h0m1 109h0m2-96h0m0 87h0m3-69h0m9 31h0m2-262h0m2-5h0m2 239h0m1 26h0m3 18h0m3 56h0m13-405h0m0 450h0m5-406h0m5 110h0m4-157h0m11-2h0m2 28h0m3-11h0m3-5h0m0 22h0m2-8h0m1-19h0m1-6h0m1 6h0m0 16h0m0 8h0m1-47h0m0 42h0m1-29h0m0 19h0m1 0h0m0 1h0m0 10h0m1-26h0m0 13h0m0 17h0m1-49h0m0 11h0m0 13h0m0 3h0m0 6h0m1 12h0m1-80h0m0 71h0m0 17h0m1-30h0m0 1h0m0 21h0m1-18h0m1-7h0m0 11h0m1-6h0m0 9h0m0 2h0m0 14h0m1-32h0m2-2h0m0 11h0m0 11h0m0 3h0m1-28h0m0 21h0m2-5h0m0 11h0m0 56h0m1-39h0m2-14h0m1-7h0"/>
</g>
<g fill="none" stroke-linecap="round" stroke-width="5.2" transform="scale(.5)">
<path stroke="#D4554F" d="M2403 1350h0m18 56h0m1-19h0m3 5h0m1-53h0m0 40h0m8-42h0m6 21h0m8 9h0m9-38h0m10-60h0m4 47h0m11-62h0m1 32h0m5 6h0m5 37h0m5-23h0m1-35h0m6 14h0m3-6h0m0 7h0m7-33h0m19-31h0m3 47h0m29-12h0m1 6h0m4 7h0m24-29h0m18 17h0m8-11h0m7 16h0m25-33h0m28 7h0m1-11h0m7-3h0m2 9h0m15 1h0m26 4h0m11-17h0m32-26h0m21-26h0m4 46h0m4-24h0m26 37h0m20-7h0m13-10h0m30-21h0m3 7h0m79 19h0m3 143h0m8 9h0m51-158h0m6 34h0m4 12h0m9-19h0m26 38h0m19 7h0m49-8h0m21 62h0m6 33h0m1 1h0m3-34h0m2 165h0m2-133h0m1 16h0m4 18h0m16 62h0m7 68h0m2-350h0m1 19h0m6 352h0m2 20h0m4-397h0m2 423h0m11-34h0m1-439h0m7 34h0m11-32h0m7 16h0m1 21h0m2-26h0m0 7h0m1-19h0m2 9h0m0 16h0m0 3h0m1-37h0m0 13h0m0 0h0m0 13h0m0 9h0m0 17h0m1-29h0m1-9h0m0 4h0m0 3h0m0 15h0m2-30h0m1-6h0m1 12h0m0 19h0m1-30h0m1 3h0m0 28h0m1-29h0m0 21h0m0 2h0m1-12h0m0 11h0m2-20h0m0 34h0m1-17h0m0 11h0m0 3h0m1-17h0m0 12h0m1-31h0m0 25h0m1-15h0m0 70h0m1-18h0m2 6h0m1 2h0m2-73h0m0 29h0m1-8h0m3 56h0"/>
<path stroke="#55ACB7" d="M2454 1322h0m2-11h0m1-49h0m10 8h0m2 17h0m2-24h0m0 37h0m1-75h0m0 75h0m1-14h0m0 42h0m1-64h0m2-5h0m0 36h0m0 9h0m1-29h0m1-46h0m0 34h0m0 13h0m1-12h0m0 8h0m1 11h0m0 21h0m2-86h0m0 77h0m1 32h0m1-43h0m1-51h0m0 28h0m1-16h0m0 9h0m0 3h0m1 5h0m0 4h0m1 0h0m0 2h0m0 3h0m0 25h0m1-9h0m1-10h0m0 6h0m0 2h0m1-10h0m0 1h0m0 9h0m0 7h0m1-18h0m0 2h0m1 18h0m1-13h0m3-13h0m0 24h0m0 8h0m2-9h0m1-51h0m0 59h0m7-63h0m7 10h0m1 2h0m2-6h0m5 32h0m3-9h0m1-17h0m7 12h0m3-15h0m3-6h0m1 3h0m9 5h0m12 8h0m7-19h0m4-26h0m2 36h0m16 12h0m2-39h0m4 47h0m10-62h0m0 15h0m2 3h0m3 14h0m12-1h0m2-16h0m10 3h0m1-16h0m3 9h0m3-7h0m15 13h0m5-15h0m22 7h0m3-22h0m2 70h0m5-61h0m7-20h0m4-9h0m0 41h0m3-45h0m2-3h0m1 17h0m0 25h0m0 0h0m16-9h0m1-3h0m11 16h0m2-45h0m10 31h0m12 4h0m24-19h0m3-34h0m0 40h0m4-35h0m0 21h0m2 0h0m3-23h0m6 16h0m16 20h0m7 6h0m21-40h0m1 22h0m1-29h0m2 8h0m1 0h0m1-4h0m0 11h0m1 29h0m1-30h0m0 5h0m1 36h0m2 2h0m0 6h0m0 2h0m3 2h0m1-4h0m2 2h0m1-16h0m2 26h0m2-18h0m0 16h0m1-19h0m2 5h0m2 1h0m1-18h0m7 19h0m3-1h0m0 2h0m4-19h0m2-18h0m0 35h0m0 3h0m0 2h0m4-10h0m1-8h0m10 10h0m16 3h0m1 11h0m4-6h0m1-6h0m0 8h0m2-34h0m0 29h0m1 11h0m0 1h0m2-24h0m1-30h0m0 41h0m1-39h0m0 12h0m0 12h0m0 3h0m1-29h0m0 27h0m1 8h0m0 13h0m1-41h0m0 2h0m0 12h0m0 1h0m0 24h0m0 1h0m0 9h0m1-26h0m0 28h0m3-68h0m0 48h0m1-14h0m1-22h0m3-23h0m0 80h0m1-80h0m2 16h0m2 66h0m1-3h0m3-5h0m2 1h0m0 14h0m4-15h0m1 5h0m2 7h0m4 2h0m1 3h0m1-13h0m0 8h0m0 129h0m2-110h0m1-10h0m3 25h0m1-28h0m1 7h0m0 57h0m0 47h0m1-110h0m0 12h0m0 12h0m0 28h0m1-32h0m0 6h0m0 39h0m1-66h0m0 18h0m0 12h0m0 2h0m0 10h0m0 1h0m1-12h0m0 19h0m0 19h0m1-67h0m0 58h0m2-28h0m0 12h0m0 4h0m1 9h0m0 5h0m0 12h0m1-6h0m1-50h0m1-22h0m0 24h0m2-25h0m1 22h0m1 55h0m4-64h0m1-6h0m2 9h0m4-5h0m2 4h0m0 4h0m1-10h0m3 6h0m4-33h0m4 43h0m1-13h0m5 5h0m3 2h0m0 1h0m1-15h0m2 11h0m2 11h0m1-4h0m3-36h0m0 25h0m1 15h0m1-35h0m0 33h0m1 8h0m0 1h0m1 1h0m3-3h0m3-8h0m1 14h0m4-8h0m0 12h0m1-26h0m2 30h0m1-40h0m0 35h0m8-10h0m3-7h0m1-14h0m0 23h0m0 8h0m0 9h0m2-17h0m3 0h0m0 12h0m2 1h0m6-13h0m1 18h0m3-14h0m1 11h0m0 2h0m1-4h0m8 4h0m5 1h0m3-2h0m1 7h0m2 4h0m1-21h0m1 12h0m11 12h0m4-5h0m2-16h0m2 14h0m0 2h0m0 13h0m1-21h0m1 17h0m1 0h0m5 33h0m2-9h0m12-63h0m1 6h0m1 12h0m3 16h0m6 73h0m6 1h0m2-122h0m8-13h0m1 202h0m7-205h0m0 179h0m8 113h0m5-328h0m3 330h0m1 11h0m3-25h0m0 97h0m1-84h0m0 57h0m3-60h0m0 17h0m1-79h0m1 62h0m0 33h0m0 46h0m1-402h0m0 353h0m0 26h0m1-76h0m0 42h0m3 4h0m1-361h0m1 374h0m1-35h0m0 57h0m3-405h0m0 423h0m2-109h0m0 48h0m1 47h0m0 41h0m1-48h0m1 13h0m0 22h0m1-54h0m0 31h0m1-43h0m0 81h0m4-99h0m0 71h0m1-15h0m1 22h0m1-11h0m1 98h0m4-540h0m1 417h0m1-413h0m1-17h0m1 451h0m1-443h0m2-66h0m2 10h0m0 18h0m1 20h0m0 451h0m0 63h0m2-541h0m0 14h0m0 8h0m0 2h0m1-24h0m0 21h0m1-36h0m0 5h0m0 8h0m0 4h0m0 19h0m0 32h0m0 510h0m1-566h0m0 13h0m1-34h0m0 36h0m0 16h0m2-42h0m0 56h0m1-46h0m0 3h0m0 2h0m0 3h0m0 6h0m0 0h0m0 9h0m1-9h0m0 14h0m1-24h0m0 1h0m1 22h0m1-36h0m0 30h0m0 12h0m0 6h0m1-36h0m0 10h0m1 6h0m0 6h0m1-37h0m1 26h0m1-1h0m2-25h0m0 34h0m1 28h0m5-40h0m2 22h0m1 3h0m3-9h0"/>
</g>
<g fill="none" stroke-linecap="round" stroke-width="5.2" transform="scale(.5)">
<path stroke="#D4554F" d="M2388 1334h0m2 25h0m10 4h0m9-19h0m13 11h0m5 47h0m3-55h0m3-11h0m5 39h0m10-59h0m9 14h0m4 29h0m13-79h0m2 53h0m1-45h0m7 44h0m3-69h0m1 26h0m2-11h0m0 2h0m4 10h0m12-23h0m3 18h0m8-11h0m6-5h0m19-13h0m3 12h0m38-3h0m2 6h0m12-2h0m5-101h0m15 77h0m7-38h0m17 34h0m3-6h0m2-39h0m3 40h0m10 4h0m8 1h0m25-21h0m2 3h0m2-2h0m3-3h0m3-2h0m2 8h0m6-64h0m26 56h0m14 6h0m21-44h0m81 46h0m3-59h0m10 34h0m21 3h0m12 12h0m14-7h0m39-58h0m17 88h0m5 2h0m12 8h0m134 36h0m0 11h0m26-35h0m14 10h0m8 50h0m10 38h0m7 12h0m6 10h0m6 156h0m10-320h0m2 219h0m2-227h0m0 371h0m2-148h0m7 108h0m5-346h0m1 251h0m15 136h0m6-314h0m0 285h0m4-420h0m7-40h0m7 70h0m1-22h0m0 8h0m1-56h0m2 25h0m0 22h0m1-16h0m2 15h0m0 4h0m1-16h0m0 36h0m0 28h0m2-51h0m1 15h0m1-33h0m1 34h0m1-29h0m0 4h0m0 20h0m0 2h0m1-25h0m0 4h0m0 11h0m1 5h0m0 0h0m0 9h0m1-22h0m0 9h0m0 13h0m1-18h0m0 9h0m0 3h0m2-23h0m0 11h0m0 7h0m0 16h0m1-28h0m0 9h0m0 5h0m0 7h0m0 15h0m1-45h0m0 28h0m0 0h0m0 2h0m1-32h0m0 7h0m0 3h0m0 12h0m0 2h0m0 6h0m1 10h0m0 6h0m1-32h0m0 6h0m0 8h0m2-27h0m3 9h0m0 8h0m1 4h0m7 65h0m6-47h0"/>
<path stroke="#55ACB7" d="M2466 1277h0m2 7h0m1 40h0m1-72h0m0 26h0m0 18h0m0 9h0m5 2h0m1-8h0m1-23h0m1-5h0m1 4h0m0 5h0m0 3h0m0 33h0m1-45h0m1-17h0m0 17h0m0 26h0m1-33h0m0 23h0m1-25h0m0 17h0m1-8h0m0 5h0m1-5h0m1 7h0m0 2h0m3-37h0m0 32h0m1-5h0m0 7h0m0 8h0m1-10h0m1-6h0m0 11h0m0 23h0m1-59h0m1 16h0m0 29h0m2 5h0m1-30h0m8-10h0m0 41h0m0 10h0m1-39h0m3 23h0m6-18h0m2 65h0m4-7h0m3-128h0m7 61h0m1-10h0m9 5h0m16 12h0m3 4h0m2-43h0m2 22h0m5-23h0m1 43h0m16 18h0m5-90h0m10 16h0m1 10h0m8-13h0m6-18h0m3 26h0m0 17h0m10-36h0m4 34h0m19-11h0m9-39h0m4 35h0m1 0h0m23 1h0m5-53h0m5 0h0m0 10h0m2 19h0m3-30h0m1 18h0m0 20h0m1-15h0m0 16h0m1 5h0m3-33h0m2-22h0m2 55h0m15 12h0m2-5h0m13-2h0m9-23h0m3 7h0m11 5h0m10-21h0m20-8h0m4 10h0m1 17h0m14-9h0m12-2h0m27-36h0m2-11h0m0 65h0m1-22h0m1-19h0m1-22h0m0 17h0m0 16h0m2-3h0m0 6h0m0 9h0m3 13h0m1-25h0m4 20h0m5 10h0m1-1h0m4-17h0m2-13h0m1 43h0m2-21h0m1-18h0m0 12h0m0 7h0m1-3h0m1 6h0m0 6h0m7-4h0m9 2h0m4-1h0m1-5h0m1-6h0m0 3h0m1 8h0m1-15h0m2 9h0m3-2h0m1 13h0m2-45h0m0 32h0m2-19h0m4 27h0m0 5h0m7-26h0m2 22h0m1-29h0m0 20h0m1 2h0m1-17h0m0 6h0m0 10h0m1-42h0m0 53h0m1-45h0m0 47h0m1-40h0m1-13h0m0 9h0m0 1h0m0 33h0m1-43h0m0 9h0m0 16h0m0 13h0m1-15h0m2-22h0m1-16h0m0 4h0m1-7h0m7 80h0m3-2h0m1-5h0m1-5h0m11 12h0m0 6h0m1-14h0m0 2h0m0 1h0m0 20h0m1 80h0m2-90h0m1 11h0m1 107h0m1-119h0m0 82h0m1-1h0m1-58h0m1 10h0m0 32h0m2-40h0m1-24h0m0 57h0m0 12h0m0 5h0m1-66h0m1-5h0m0 19h0m0 16h0m0 10h0m1-35h0m0 6h0m0 4h0m0 3h0m0 19h0m2 0h0m0 4h0m1 7h0m0 2h0m0 23h0m1-33h0m0 19h0m1-63h0m0 69h0m1-12h0m1-57h0m1 6h0m0 24h0m1 26h0m1-35h0m0 42h0m1-61h0m2 10h0m1-14h0m2 3h0m0 10h0m0 6h0m1-2h0m0 2h0m0 7h0m2-28h0m2 11h0m2 14h0m1-5h0m0 3h0m2 5h0m0 1h0m5-24h0m0 16h0m1 18h0m2-17h0m2 1h0m1-8h0m2-69h0m2 80h0m1 0h0m3-30h0m4 38h0m2-6h0m0 4h0m1-3h0m1-15h0m0 11h0m2-29h0m0 18h0m2-20h0m7 24h0m2 13h0m5-4h0m1-3h0m3-41h0m2 49h0m0 6h0m3-4h0m2 11h0m1 0h0m1-17h0m2 18h0m4 1h0m1-6h0m0 2h0m2-28h0m1 35h0m1-14h0m0 10h0m4-9h0m4 3h0m3-45h0m2 54h0m1-1h0m0 10h0m2-11h0m3 3h0m6 9h0m3-7h0m0 5h0m17 20h0m2-1h0m0 7h0m6-15h0m4-36h0m7 42h0m0 4h0m7-40h0m14-13h0m0 89h0m6 35h0m1-145h0m3 400h0m2-300h0m1 56h0m2 129h0m11-50h0m6 55h0m2-7h0m3-310h0m2 259h0m1 69h0m1 49h0m2-109h0m0 47h0m1-8h0m1 37h0m1-36h0m0 58h0m1-84h0m1 69h0m2-14h0m1-36h0m0 40h0m0 40h0m0 15h0m1-413h0m0 326h0m0 30h0m1 45h0m1-406h0m0 372h0m0 19h0m2-84h0m0 36h0m0 39h0m0 19h0m1-6h0m0 1h0m0 16h0m0 18h0m1-32h0m1 54h0m1-69h0m2-40h0m0 140h0m1-119h0m1 4h0m1-18h0m0 49h0m1-20h0m2 61h0m2-50h0m1 96h0m4-30h0m3 6h0m2-533h0m1 24h0m0 536h0m1-565h0m0 1h0m0 0h0m0 11h0m2-4h0m1-9h0m0 30h0m1-10h0m2-25h0m0 1h0m0 7h0m0 574h0m1-581h0m1 0h0m0 20h0m1 11h0m1-35h0m0 7h0m0 10h0m1-10h0m0 3h0m0 14h0m1-12h0m0 2h0m0 14h0m1-22h0m0 5h0m0 6h0m0 27h0m1-51h0m0 3h0m0 13h0m0 12h0m1-4h0m0 2h0m0 21h0m1-42h0m0 16h0m0 10h0m0 0h0m3-31h0m0 17h0m1-2h0m0 11h0m0 34h0m1-51h0m1 16h0m4-4h0m2-35h0m1 46h0m2-37h0m2 45h0m1 31h0m3-25h0m15-3h0"/>
</g>
<g fill="none" stroke-linecap="round" stroke-width="5.2" transform="scale(.5)">
<path stroke="#D4554F" d="M2417 1365h0m3-45h0m4 24h0m11 29h0m1 10h0m9-44h0m7-9h0m5 76h0m14-22h0m2-117h0m5 5h0m0 81h0m3-82h0m1 19h0m0 19h0m1-54h0m0 21h0m0 86h0m4-74h0m8-28h0m1 49h0m1 16h0m2-39h0m4-10h0m3-13h0m5-5h0m32 11h0m1-5h0m19 11h0m9 4h0m1-22h0m10-11h0m50 6h0m18-6h0m64-48h0m17 18h0m23-7h0m63 1h0m27-5h0m24-1h0m39 7h0m29-8h0m8-30h0m25 145h0m13-79h0m7-3h0m32 11h0m11-6h0m25 20h0m26-23h0m18 59h0m54 11h0m5 8h0m4-78h0m2 45h0m15 106h0m8 9h0m3-176h0m0 61h0m7 140h0m4 127h0m1-114h0m5 137h0m16 0h0m1-59h0m6 29h0m10 18h0m1-456h0m0 485h0m9-498h0m7 56h0m3-30h0m0 25h0m3-33h0m0 1h0m2 31h0m1 25h0m2-30h0m1-9h0m1 1h0m0 6h0m1-7h0m1 9h0m1 5h0m1-6h0m0 25h0m0 1h0m1-36h0m0 6h0m0 11h0m1-8h0m0 0h0m0 1h0m1 3h0m0 2h0m0 16h0m1-14h0m0 6h0m0 85h0m1-107h0m0 5h0m0 15h0m0 7h0m0 4h0m1-30h0m1 17h0m0 7h0m1-30h0m0 13h0m0 0h0m0 14h0m0 10h0m0 43h0m1-86h0m0 28h0m1-16h0m0 19h0m0 18h0m1-25h0m0 10h0m3-14h0m0 13h0m1 0h0m0 12h0m3-16h0m6-6h0m0 12h0"/>
<path stroke="#55ACB7" d="M2455 1301h0m0 15h0m6-31h0m2 46h0m3-82h0m0 1h0m3 76h0m2-53h0m0 6h0m2-51h0m1 49h0m0 40h0m0 34h0m1-50h0m1-26h0m0 27h0m1-4h0m1-9h0m0 6h0m1-50h0m0 31h0m0 4h0m0 3h0m0 10h0m1-39h0m2 22h0m0 35h0m1-69h0m0 33h0m0 15h0m1-36h0m0 2h0m0 4h0m1 15h0m2-11h0m0 27h0m0 66h0m1-82h0m0 10h0m1-31h0m0 9h0m0 11h0m0 28h0m1-16h0m1 3h0m1-42h0m0 21h0m2 32h0m1-7h0m2-37h0m0 37h0m0 1h0m1-48h0m2 27h0m2-6h0m0 67h0m2-62h0m0 0h0m0 9h0m3-33h0m6 21h0m18-10h0m2-39h0m6 12h0m5-6h0m12 3h0m17 16h0m1 6h0m1 18h0m1-20h0m18-8h0m1-28h0m19 2h0m1 23h0m8-10h0m2-8h0m4-8h0m0 5h0m1-5h0m4 77h0m5-105h0m11 22h0m5 0h0m16 30h0m13-33h0m5 7h0m4-9h0m3-35h0m2 40h0m1 2h0m1-1h0m3-4h0m2-9h0m0 8h0m1-33h0m1-6h0m0 16h0m0 1h0m4 6h0m2-3h0m4 24h0m11-35h0m2 37h0m10-8h0m1-61h0m1 65h0m3-36h0m1 38h0m2-19h0m15-7h0m28 18h0m3-2h0m1 2h0m1-35h0m4 25h0m0 12h0m1-37h0m2 39h0m48-8h0m1-1h0m0 0h0m2-54h0m0 5h0m0 8h0m0 26h0m0 9h0m0 2h0m0 19h0m2-69h0m0 25h0m0 24h0m0 7h0m0 1h0m0 15h0m1-53h0m0 7h0m0 20h0m0 12h0m1-2h0m1-60h0m0 10h0m0 53h0m1-61h0m2 71h0m2 2h0m1-12h0m2-18h0m8 6h0m1 4h0m5 0h0m1 25h0m0 2h0m1-14h0m1-10h0m0 3h0m4 27h0m0 0h0m1-41h0m1 11h0m2-5h0m2 8h0m0 13h0m4-16h0m0 10h0m6 2h0m3-18h0m2-32h0m0 39h0m0 14h0m2-4h0m0 5h0m4-16h0m0 8h0m1 0h0m2 3h0m2 5h0m2-16h0m0 9h0m1-5h0m0 3h0m10 4h0m0 7h0m0 1h0m2 8h0m2-53h0m0 60h0m1-39h0m0 11h0m0 1h0m2-43h0m1-6h0m0 42h0m2-42h0m0 34h0m0 9h0m0 9h0m2-37h0m0 14h0m1-27h0m0 5h0m0 45h0m1-31h0m0 45h0m1-61h0m1 15h0m0 4h0m0 27h0m3 16h0m4-3h0m7 1h0m1 0h0m3 7h0m0 7h0m6 15h0m0 51h0m2-85h0m0 138h0m4-46h0m3-13h0m2-12h0m0 2h0m0 2h0m1-3h0m0 4h0m1-51h0m0 24h0m0 47h0m1-75h0m0 21h0m0 22h0m0 25h0m1-46h0m0 10h0m0 7h0m0 29h0m1-39h0m0 18h0m1-35h0m0 23h0m0 2h0m0 6h0m0 11h0m0 10h0m0 13h0m1-74h0m0 12h0m0 7h0m0 24h0m1-45h0m0 30h0m0 48h0m1-65h0m0 2h0m1 12h0m1-18h0m0 16h0m0 36h0m1-54h0m1 60h0m1-53h0m1 1h0m0 4h0m2-11h0m0 15h0m1 7h0m1-12h0m2 10h0m1-12h0m2-13h0m3 3h0m1 3h0m4 17h0m3-6h0m2-9h0m2-26h0m1 33h0m2 8h0m1-13h0m1 3h0m4-22h0m2 24h0m0 26h0m1-28h0m0 12h0m4-14h0m4 15h0m1 1h0m2-1h0m0 5h0m1-3h0m1-19h0m0 14h0m0 15h0m3-5h0m1-13h0m2-17h0m1 13h0m2-21h0m5 3h0m2 24h0m0 3h0m1-26h0m0 39h0m5 0h0m2-4h0m1-6h0m2 4h0m2 19h0m8-13h0m5-23h0m0 44h0m4-11h0m3-6h0m5 4h0m1 3h0m1-4h0m1 3h0m0 8h0m1-11h0m3-11h0m0 30h0m1-16h0m20 22h0m30-55h0m3 164h0m13-8h0m4 62h0m1-27h0m4 66h0m2 7h0m8 7h0m1-16h0m0 1h0m0 184h0m2-235h0m0 0h0m2 76h0m2-9h0m1 15h0m0 21h0m4-8h0m1-28h0m0 15h0m2-40h0m2 15h0m1-18h0m2 34h0m2-340h0m0 330h0m0 89h0m1-48h0m1-69h0m0 49h0m0 35h0m0 38h0m2-14h0m2-56h0m1 30h0m1 30h0m1-429h0m0 344h0m1 78h0m1-33h0m0 74h0m3-121h0m0 65h0m0 5h0m0 13h0m1-104h0m0 141h0m0 21h0m5-90h0m2-468h0m3 18h0m0 482h0m1-481h0m2 6h0m1-3h0m2 17h0m1 5h0m1-28h0m1 38h0m2-40h0m0 7h0m1-9h0m0 3h0m1 4h0m0 4h0m1-43h0m0 33h0m1 15h0m0 30h0m1-53h0m1 9h0m0 8h0m1-23h0m0 29h0m0 9h0m1-24h0m0 14h0m1-15h0m1 1h0m0 7h0m0 0h0m1-12h0m0 18h0m1-14h0m0 2h0m0 5h0m1-26h0m0 37h0m1-35h0m0 12h0m0 15h0m0 3h0m0 4h0m1-24h0m0 14h0m1 2h0m0 13h0m2-25h0m5-27h0m2 34h0m10-23h0"/>
</g>
<g fill="none" stroke-linecap="round" stroke-width="5.2" transform="scale(.5)">
<path stroke="#55ACB7" d="M2443 1285h0m15 2h0m6-9h0m2-1h0m0 11h0m1 27h0m0 2h0m4-36h0m0 52h0m1-84h0m0 68h0m1 47h0m2 22h0m2-163h0m0 57h0m0 25h0m0 12h0m1 38h0m1-80h0m0 3h0m1 6h0m1 4h0m0 40h0m1-46h0m0 17h0m1-41h0m1-32h0m0 49h0m0 8h0m0 20h0m1-91h0m0 64h0m0 7h0m1-52h0m0 56h0m0 5h0m0 13h0m0 14h0m1-36h0m1 9h0m2-37h0m0 4h0m0 3h0m0 12h0m0 1h0m0 17h0m1-37h0m0 49h0m1-31h0m1 14h0m0 2h0m1-27h0m0 7h0m0 35h0m0 9h0m1-38h0m1 10h0m3-23h0m0 32h0m3-19h0m1 21h0m1 29h0m1-56h0m0 1h0m15-37h0m3-10h0m6 27h0m1 13h0m4-35h0m13 5h0m10 57h0m6-60h0m0 27h0m14-15h0m1-10h0m1 32h0m3-4h0m12-50h0m20 26h0m4-13h0m8-48h0m2 45h0m1 13h0m2 5h0m5-3h0m6-12h0m9-26h0m11 62h0m4-59h0m11 2h0m0 5h0m4 12h0m12-13h0m3-24h0m3 29h0m1-21h0m3 10h0m2 9h0m2-26h0m1-4h0m2-3h0m0 28h0m1-19h0m8-19h0m2 41h0m8-2h0m3-17h0m5 23h0m29-13h0m6-10h0m2 20h0m18-39h0m0 11h0m1 8h0m1-18h0m2-13h0m1 10h0m3-9h0m19 44h0m33-59h0m0 43h0m0 7h0m2-37h0m1-19h0m0 19h0m0 15h0m2 13h0m0 16h0m1-63h0m0 60h0m2-9h0m0 23h0m1-11h0m1-17h0m0 20h0m2-9h0m3 3h0m7 9h0m4 2h0m2-14h0m0 7h0m2-10h0m0 6h0m0 8h0m2-8h0m1 12h0m1-23h0m2 18h0m1 11h0m4-22h0m3 16h0m8-4h0m1-25h0m2 26h0m1-37h0m2 29h0m1 3h0m3 7h0m3-23h0m0 39h0m3-14h0m7-29h0m4 32h0m1-9h0m1-5h0m0 6h0m1-17h0m3-6h0m0 5h0m2-16h0m0 30h0m1-11h0m0 6h0m2-29h0m0 8h0m0 53h0m1-36h0m0 4h0m0 15h0m1-73h0m0 11h0m0 13h0m0 13h0m0 28h0m1-60h0m0 28h0m1-23h0m1-2h0m0 5h0m0 29h0m0 41h0m2-78h0m0 1h0m0 29h0m1-3h0m0 68h0m2-13h0m2 0h0m3-1h0m6-8h0m4 7h0m0 7h0m2 4h0m5-22h0m0 18h0m0 98h0m2-98h0m2 11h0m1 3h0m0 5h0m1 16h0m0 18h0m0 46h0m1-44h0m1-4h0m0 24h0m1 17h0m1-84h0m0 9h0m0 24h0m1-20h0m0 1h0m0 0h0m0 8h0m0 2h0m0 15h0m2-30h0m1-25h0m0 31h0m0 20h0m0 16h0m0 21h0m1-45h0m0 22h0m0 14h0m0 72h0m1-111h0m0 35h0m1-39h0m0 46h0m1-71h0m2 58h0m0 4h0m0 9h0m1-16h0m1-40h0m2-15h0m0 17h0m0 17h0m1-21h0m8-9h0m1 5h0m0 3h0m2 4h0m7-8h0m1 9h0m1-18h0m0 13h0m1 10h0m2-9h0m0 2h0m2-67h0m4 71h0m1-22h0m0 33h0m1-8h0m1-68h0m0 62h0m2-27h0m0 33h0m1-7h0m1 6h0m3 12h0m7-43h0m0 36h0m1 9h0m1-4h0m1-1h0m2-1h0m7-10h0m0 15h0m4 6h0m1-13h0m5-6h0m4 21h0m2-20h0m2 7h0m2-28h0m2-1h0m0 23h0m4 13h0m3 5h0m2 2h0m1-35h0m3 29h0m1 2h0m6 12h0m0 3h0m4-15h0m0 16h0m3-2h0m2 0h0m7-14h0m0 21h0m9 2h0m3-20h0m1 17h0m4-9h0m1 9h0m9-23h0m5 81h0m5-20h0m1-67h0m11 118h0m3-11h0m9-129h0m2-32h0m0 32h0m2-21h0m0 5h0m6 5h0m4-5h0m1 200h0m3 54h0m1-275h0m1 13h0m1 295h0m1-117h0m0 100h0m0 19h0m1-70h0m2 58h0m1 38h0m1-341h0m0 321h0m0 23h0m3-5h0m1-13h0m2-339h0m0 304h0m1 8h0m0 30h0m1 87h0m1-133h0m0 85h0m0 42h0m1-425h0m0 304h0m0 32h0m0 1h0m0 19h0m0 52h0m1-100h0m0 62h0m2 20h0m1-38h0m2-36h0m0 28h0m1-354h0m0 302h0m1 105h0m2-27h0m0 68h0m1-38h0m1-84h0m1 17h0m1 51h0m0 77h0m2-463h0m0 363h0m1 15h0m2 17h0m2-79h0m0 48h0m0 29h0m1-13h0m0 59h0m2-478h0m0 518h0m1-100h0m1 16h0m0 54h0m2 61h0m3-71h0m2-49h0m4-466h0m0 12h0m1-15h0m2 18h0m1 4h0m1-16h0m0 13h0m0 23h0m1-37h0m0 14h0m1-19h0m0 1h0m0 1h0m0 5h0m0 9h0m1-11h0m0 4h0m0 10h0m0 11h0m0 554h0m1-531h0m2-53h0m0 6h0m0 38h0m2-33h0m1-13h0m0 16h0m2-15h0m1-7h0m0 9h0m5-4h0m8 12h0m0 34h0m1-41h0m0 22h0"/>
<path stroke="#D4554F" d="M2381 1388h0m11-34h0m5 19h0m7-1h0m4-28h0m9 57h0m1-41h0m11 39h0m7-51h0m8-17h0m6 90h0m6-94h0m5-29h0m2-52h0m6 128h0m2-91h0m3 8h0m2 58h0m1-65h0m0 19h0m0 22h0m1-48h0m1-21h0m1 94h0m3-70h0m5 52h0m2-78h0m1 107h0m1-79h0m2 11h0m3-4h0m9 2h0m20-39h0m42 10h0m1-4h0m6 18h0m33-3h0m3-23h0m14-9h0m3-1h0m3-24h0m2 26h0m12-7h0m38 1h0m9-2h0m50-12h0m22 4h0m20-16h0m31 1h0m21 0h0m90 18h0m20-16h0m15 12h0m41 16h0m25 1h0m20 28h0m36-7h0m19 22h0m59-19h0m22 73h0m13-121h0m0 9h0m7 209h0m4 9h0m3 58h0m8 13h0m0 34h0m2 5h0m15-386h0m2 394h0m15-358h0m1-107h0m6 52h0m3 6h0m2 27h0m1-62h0m4 37h0m1-24h0m0 14h0m1-25h0m1-7h0m0 15h0m0 6h0m0 0h0m1 0h0m2-22h0m0 25h0m1 12h0m1-21h0m0 3h0m0 45h0m1-46h0m0 4h0m1-27h0m0 30h0m0 3h0m0 11h0m1-15h0m0 10h0m1-15h0m0 1h0m0 2h0m0 2h0m0 35h0m1-53h0m0 9h0m0 1h0m0 9h0m1-4h0m0 0h0m1 8h0m1-18h0m0 14h0m0 12h0m0 10h0m1-27h0m0 9h0m0 51h0m1-62h0m0 9h0m1 2h0m0 13h0m1-36h0m0 21h0m1 19h0m1 0h0m0 29h0m1-40h0m4 5h0m0 46h0m7-45h0"/>
</g>
<g fill="none" stroke-linecap="round" stroke-width="5.2" transform="scale(.5)">
<path stroke="#55ACB7" d="M2430 1375h0m15-52h0m11 2h0m4-28h0m3-2h0m1 59h0m2-32h0m4-82h0m4 8h0m0 42h0m1-13h0m2-7h0m2-35h0m0 21h0m2-41h0m0 45h0m0 18h0m0 53h0m2-88h0m0 34h0m1 17h0m1-36h0m0 23h0m1 4h0m2-18h0m0 22h0m0 2h0m5-48h0m0 10h0m0 2h0m0 14h0m1-10h0m1-20h0m0 19h0m1 2h0m0 3h0m1 41h0m1 5h0m6-9h0m1-42h0m1 7h0m5 13h0m2 14h0m0 18h0m1-43h0m11 8h0m3-29h0m1-33h0m1 52h0m14-15h0m8 3h0m10-1h0m18-16h0m8-3h0m27-29h0m2 19h0m1-10h0m22 45h0m6-52h0m19 15h0m9-10h0m1 16h0m1-24h0m14 27h0m8-15h0m4-11h0m1-26h0m1 23h0m1-14h0m0 20h0m1-3h0m1-23h0m0 2h0m1 18h0m1-31h0m3 34h0m39-3h0m12 3h0m8-13h0m10 2h0m5 22h0m4-68h0m0 20h0m0 18h0m1 18h0m4-49h0m0 24h0m0 25h0m2-36h0m0 17h0m2 18h0m1 1h0m8-17h0m12-22h0m15 20h0m11 5h0m3 6h0m4-11h0m1-36h0m0 44h0m1-30h0m0 17h0m1-39h0m0 26h0m0 7h0m1-34h0m0 37h0m0 35h0m1-41h0m1-4h0m0 26h0m1-26h0m0 30h0m0 1h0m1-4h0m2-16h0m3 31h0m3-57h0m1 38h0m0 18h0m2-14h0m6 7h0m2 2h0m1-11h0m2 22h0m1-14h0m0 11h0m6 3h0m2-4h0m0 2h0m5-16h0m3 14h0m1 15h0m2-8h0m1-9h0m4 1h0m3-4h0m1-23h0m1-13h0m0 19h0m9-7h0m0 35h0m2-8h0m3-2h0m3-4h0m2 2h0m1-11h0m1 13h0m2 6h0m0 17h0m1-26h0m1-30h0m0 3h0m0 32h0m1-15h0m0 9h0m1-34h0m0 21h0m0 17h0m0 6h0m0 13h0m1-41h0m1-4h0m1-27h0m0 15h0m0 37h0m1-38h0m0 5h0m0 24h0m0 18h0m1-58h0m0 2h0m0 6h0m0 16h0m1 23h0m1-14h0m1-48h0m1 72h0m5 17h0m1-10h0m1 2h0m7-8h0m1 2h0m0 18h0m1-14h0m0 14h0m1-13h0m2 8h0m0 0h0m4 21h0m1-5h0m0 4h0m0 51h0m1-66h0m1-10h0m1 14h0m1 96h0m1-96h0m0 22h0m1-9h0m1 37h0m1 13h0m0 70h0m1-94h0m0 14h0m0 51h0m1-105h0m1-1h0m1-10h0m0 27h0m0 3h0m0 42h0m0 7h0m1-36h0m0 83h0m1-128h0m0 24h0m0 53h0m0 8h0m1-60h0m0 19h0m0 26h0m0 16h0m1-73h0m0 28h0m2-27h0m0 34h0m0 19h0m0 3h0m0 3h0m2-70h0m0 75h0m1-50h0m0 25h0m1-42h0m0 5h0m0 47h0m2-19h0m2-44h0m0 24h0m1 3h0m1-6h0m3 9h0m1-7h0m3-5h0m3 14h0m9 4h0m1-6h0m4-23h0m2 15h0m0 8h0m4 1h0m1 5h0m1-55h0m0 49h0m1-3h0m0 3h0m0 2h0m0 2h0m0 0h0m1-11h0m0 5h0m0 6h0m0 1h0m3 3h0m2-78h0m2 65h0m0 10h0m0 5h0m4-54h0m2 53h0m1 3h0m2-9h0m3 2h0m1-9h0m0 10h0m0 11h0m2-46h0m0 40h0m8 2h0m7-40h0m1 40h0m5 0h0m1 3h0m0 10h0m2-1h0m1-30h0m0 34h0m2-11h0m4-36h0m6 31h0m6-4h0m0 11h0m6 11h0m2 10h0m1-10h0m4 1h0m3 13h0m16 0h0m20-18h0m1 44h0m1-63h0m0 13h0m2 40h0m0 26h0m1-76h0m6-13h0m7 122h0m0 3h0m4 36h0m5-90h0m2 144h0m1-249h0m2 213h0m0 14h0m3-226h0m1 192h0m3 91h0m1-5h0m0 98h0m3-142h0m0 99h0m5-26h0m2-4h0m2-8h0m1-321h0m1 335h0m2 13h0m0 19h0m1-85h0m0 21h0m1 42h0m2-339h0m0 339h0m1-39h0m0 109h0m1-412h0m0 364h0m0 11h0m1-63h0m0 47h0m0 5h0m0 35h0m1-81h0m0 21h0m0 45h0m2-60h0m0 22h0m1-8h0m0 36h0m2-66h0m1 46h0m0 44h0m1 11h0m1-37h0m0 21h0m0 25h0m1-59h0m0 75h0m1-83h0m0 24h0m0 7h0m1-401h0m0 368h0m2-369h0m1 396h0m2-403h0m5 478h0m1-100h0m0 42h0m0 55h0m1-18h0m1-64h0m0 58h0m1-450h0m1 383h0m1-3h0m2 40h0m1 28h0m3-525h0m0 475h0m1-434h0m1-3h0m0 515h0m1-530h0m1-12h0m0 6h0m1-26h0m0 52h0m0 441h0m1-485h0m0 15h0m1-19h0m0 3h0m1 11h0m0 17h0m2 8h0m0 8h0m1-40h0m0 5h0m0 18h0m0 1h0m0 7h0m1-26h0m1-15h0m0 14h0m0 17h0m1-4h0m1 20h0m1-54h0m0 48h0m1-39h0m0 4h0m1-1h0m1 33h0m1-23h0m0 15h0m1-15h0m1 9h0m0 8h0m6 36h0m0 13h0m1-17h0"/>
<path stroke="#D4554F" d="M2407 1342h0m0 26h0m5-14h0m1 27h0m9-3h0m12 4h0m16-58h0m29-56h0m1 21h0m2 17h0m5 2h0m4-7h0m0 14h0m9-5h0m2-66h0m1 30h0m1 9h0m11 18h0m6-18h0m4 5h0m14-46h0m11-74h0m6 76h0m24-5h0m67 34h0m6-37h0m14-10h0m40-4h0m125-15h0m23-12h0m4-3h0m6 18h0m3-19h0m16 1h0m5 11h0m11 7h0m38 5h0m4-46h0m18 48h0m0 6h0m16 94h0m12-62h0m18-10h0m56 11h0m21 16h0m6 22h0m10-10h0m7-13h0m43 9h0m4 9h0m5 5h0m8 15h0m3-3h0m4 38h0m1-99h0m1 72h0m18 215h0m7-306h0m5 89h0m2 163h0m2-272h0m4 336h0m14 95h0m2-455h0m5 124h0m9-216h0m7 53h0m6-16h0m0 120h0m7-144h0m2 2h0m2 9h0m1 33h0m2-39h0m2 39h0m1 2h0m1-40h0m0 21h0m0 4h0m0 12h0m1-24h0m0 1h0m1 9h0m0 4h0m0 5h0m0 16h0m0 456h0m1-464h0m0 0h0m1-12h0m1-1h0m0 10h0m1-11h0m1-9h0m0 3h0m0 4h0m0 9h0m1-6h0m0 6h0m0 2h0m1-23h0m0 8h0m0 16h0m0 8h0m1-25h0m0 3h0m0 9h0m0 5h0m2-28h0m0 11h0m0 8h0m0 3h0m0 3h0m1-8h0m0 6h0m0 19h0m0 33h0m1 27h0m1-17h0m3-50h0m0 6h0m0 28h0m2-40h0m0 1h0m1 44h0m1-31h0m2-10h0m13-5h0"/>
</g>
<g font-family="'Liberation Sans', Arial, Helvetica, sans-serif" font-size="11.4" fill="#fff" stroke="#fff" stroke-width="0.2" text-anchor="middle">
<circle cx="1426.8" cy="601.9" r="5.6" fill="#000"/><text x="1426.8" y="605.9">1</text>
<circle cx="1354.1" cy="608.2" r="5.6" fill="#000"/><text x="1354.1" y="612.3">2</text>
<circle cx="1497.1" cy="619.9" r="5.6" fill="#000"/><text x="1497.1" y="623.9">3</text>
<circle cx="1467.8" cy="606.4" r="5.6" fill="#000"/><text x="1467.8" y="610.4">4</text>
<circle cx="1570.3" cy="646.9" r="5.6" fill="#000"/><text x="1570.3" y="650.9">5</text>
</g>
<path d="M1165.6 521.3V868.4H1678.9" fill="none" stroke="#4a4744" stroke-width="1.5"/>
<path d="M1165.6 550.1h-3.2M1165.6 625.1h-3.2M1165.6 700.1h-3.2M1165.6 775.1h-3.2M1165.6 850.1h-3.2M1245.1 868.4v3.2M1362.3 868.4v3.2M1479.5 868.4v3.2M1596.7 868.4v3.2" fill="none" stroke="#4a4744" stroke-width="1.2"/>
<g font-family="'Liberation Serif', 'Times New Roman', serif" font-size="16.2" fill="#333" stroke="#333" stroke-width="0.25">
<text x="1160" y="555.7" text-anchor="end">1</text>
<text x="1160" y="630.7" text-anchor="end">0</text>
<text x="1160" y="705.7" text-anchor="end">−1</text>
<text x="1160" y="780.7" text-anchor="end">−2</text>
<text x="1160" y="855.7" text-anchor="end">−3</text>
<text x="1245.1" y="884.1" text-anchor="middle">−4</text>
<text x="1362.3" y="884.1" text-anchor="middle">−2</text>
<text x="1479.5" y="884.1" text-anchor="middle">0</text>
<text x="1596.7" y="884.1" text-anchor="middle">2</text>
</g>
<g font-family="'Liberation Serif', 'Times New Roman', serif" font-size="20.25" font-weight="bold" fill="#000" text-anchor="middle">
<text x="1422.2" y="903.9">Component 1</text>
<text transform="translate(1136.4 694.8) rotate(-90)">Component 2</text>
</g>
<g font-family="'Liberation Serif', 'Times New Roman', serif" font-weight="bold" fill="#000">
<text x="1693" y="676" font-size="18.3">group</text>
<circle cx="1701.7" cy="693.5" r="1.3" fill="#D4554F"/>
<text x="1714.5" y="699.2" font-size="17">Control</text>
<circle cx="1701.7" cy="716.8" r="1.3" fill="#55ACB7"/>
<text x="1714.5" y="722.5" font-size="17">GC</text>
</g>
<defs><linearGradient id="gx221" gradientUnits="userSpaceOnUse" x1="221.5" y1="0" x2="472.9" y2="0"><stop offset="0.000" stop-color="#1A2844"/><stop offset="0.230" stop-color="#243C62"/><stop offset="0.460" stop-color="#32568A"/><stop offset="0.690" stop-color="#4476B6"/><stop offset="1.000" stop-color="#609CDA"/></linearGradient></defs>
<rect x="225" y="1243.7" width="37.6" height="9.5" fill="url(#gx221)"/>
<rect x="275.8" y="1243.7" width="93.1" height="9.5" fill="url(#gx221)"/>
<rect x="379" y="1243.7" width="80.9" height="9.5" fill="url(#gx221)"/>
<g fill="none" stroke-linecap="round" stroke-width="8.8" transform="scale(.5)">
<path stroke="#22375A" d="M523 2484h0m0 2h0m0 22h0m0 2h0m2-26h0m1 18h0m1-16h0m2 17h0m1-10h0m0 8h0m1-16h0m1 4h0m0 4h0m1-9h0m1 4h0m0 1h0m0 15h0m0 5h0m1-23h0m0 9h0m1 1h0"/>
<path stroke="#406EAB" d="M755 2486h0m0 10h0m1-10h0m0 3h0m0 9h0m0 2h0m1-13h0m0 2h0m0 9h0m0 6h0m1-20h0m0 15h0m0 7h0m0 2h0m1-5h0m0 8h0m1-28h0m1 7h0m0 4h0m1-1h0m0 5h0m0 6h0m1-20h0m0 4h0m0 2h0m0 12h0m1-5h0m0 12h0m1-23h0m0 15h0m0 7h0m0 0h0m1-20h0m0 1h0m0 4h0m0 10h0m0 1h0m1 5h0m1-24h0m0 4h0m0 0h0m0 11h0m0 8h0m0 2h0"/>
<path stroke="#263F67" d="M566 2483h0m1 7h0m0 4h0m0 6h0m0 7h0m1-13h0m0 10h0m0 2h0m1-1h0m1-19h0m0 7h0m0 2h0m1-11h0m0 19h0m1-7h0m0 4h0m1 5h0m1-22h0m0 3h0m0 14h0m1-2h0m0 7h0m0 2h0m2-20h0m0 0h0m0 7h0m1-6h0m0 2h0m1-4h0m0 11h0m0 2h0m0 3h0m0 8h0m1-18h0m0 0h0m0 1h0m0 2h0m0 7h0m0 1h0m0 3h0"/>
<path stroke="#5992D1" d="M899 2484h0m0 6h0m1 0h0m0 4h0m0 5h0m1 4h0m1-19h0m0 1h0m0 0h0m1-1h0m0 1h0m0 12h0m0 4h0m0 2h0m0 0h0m0 5h0m1-11h0m0 5h0m1 1h0m1-18h0m0 13h0m0 7h0m1-15h0m0 8h0m0 10h0m1-1h0m1-13h0m0 8h0m0 2h0m1-13h0m0 1h0m0 1h0m0 6h0m0 7h0m0 0h0m1-2h0m0 6h0m1-6h0"/>
<path stroke="#1E304F" d="M480 2498h0m1-14h0m0 8h0m0 13h0m1-20h0m0 1h0m1 24h0m1-6h0m0 0h0m0 3h0m0 2h0m1-21h0m0 10h0m0 1h0m0 2h0m0 8h0m1-22h0m1 2h0m0 6h0m0 4h0m0 2h0m1-10h0m0 7h0m1 4h0m1-1h0m1-15h0m0 13h0m1-8h0m0 7h0m0 6h0m0 4h0"/>
<path stroke="#305385" d="M653 2488h0m0 1h0m0 1h0m1-2h0m1 2h0m0 0h0m1 10h0m0 5h0m0 2h0m0 0h0m0 2h0m1-24h0m0 4h0m0 17h0m1-20h0m0 4h0m0 1h0m0 2h0m0 9h0m0 6h0m1-23h0m0 0h0m0 9h0m0 1h0m0 11h0m0 4h0m1-19h0m0 8h0m0 3h0m1-12h0m1-7h0m0 12h0m0 3h0m0 1h0m0 1h0m1 8h0m0 2h0m1-26h0m0 3h0m0 4h0m0 16h0m1-19h0m0 9h0m1-5h0m0 2h0m0 11h0m1-20h0"/>
<path stroke="#2D4C7B" d="M624 2498h0m1 7h0m1-17h0m0 15h0m1-1h0m1-14h0m0 2h0m1-5h0m0 3h0m0 5h0m0 13h0m0 0h0m1-14h0m0 11h0m0 3h0m0 1h0m1-9h0m0 12h0m1-26h0m0 9h0m0 9h0m0 0h0m0 1h0m0 1h0m0 3h0m1-18h0m0 12h0m1-1h0m0 0h0m0 2h0m0 4h0m0 1h0m0 4h0m1-17h0m0 5h0m0 3h0m0 5h0m1-17h0m0 18h0m1-25h0m0 15h0"/>
<path stroke="#28426C" d="M581 2491h0m1-3h0m0 15h0m0 2h0m1 1h0m1-3h0m0 1h0m0 1h0m2-19h0m0 20h0m0 3h0m1-23h0m0 3h0m0 9h0m0 11h0m0 1h0m1-3h0m1 0h0m0 3h0m1-24h0m0 17h0m0 2h0m0 2h0m3-24h0m0 2h0m0 2h0m0 5h0m0 15h0m1-14h0m0 5h0m0 4h0"/>
<path stroke="#1B2A48" d="M450 2493h0m0 4h0m1-1h0m0 2h0m0 6h0m1-1h0m0 4h0m1-5h0m1-3h0m0 1h0m1-10h0m0 17h0m1 3h0m1-26h0m0 4h0m0 1h0m0 2h0m0 15h0m0 2h0m1-16h0m0 7h0m0 10h0m0 0h0m1-24h0m0 2h0m0 1h0m0 22h0m0 0h0m1-15h0m0 6h0m1-3h0m0 2h0m1-15h0m2 5h0m0 5h0"/>
<path stroke="#365E95" d="M696 2506h0m1-22h0m0 21h0m1-21h0m0 15h0m3-7h0m0 11h0m1-1h0m0 7h0m2-15h0m0 4h0m0 5h0m1-12h0m0 14h0m0 0h0m0 3h0m1-24h0m0 2h0m0 12h0m1-13h0m0 3h0m0 3h0m0 13h0m0 2h0m0 1h0m2-16h0m0 1h0m0 13h0m1-18h0"/>
<path stroke="#2B4976" d="M609 2509h0m1-10h0m1 0h0m0 10h0m1-10h0m1-8h0m0 1h0m0 18h0m1-21h0m0 4h0m0 5h0m0 3h0m0 0h0m1-13h0m1 2h0m0 2h0m0 7h0m1-4h0m0 1h0m1 4h0m0 6h0m1-19h0m1 0h0m0 0h0m0 1h0m0 7h0m0 1h0m0 3h0m1 1h0m1-12h0m0 9h0m0 8h0m0 1h0m0 2h0m1-17h0m0 2h0m0 0h0m0 9h0m0 0h0m0 4h0m1-15h0"/>
<path stroke="#32568A" d="M667 2494h0m0 0h0m0 7h0m1-8h0m1-1h0m0 9h0m1-9h0m0 4h0m1-5h0m0 12h0m1-20h0m1 4h0m0 2h0m0 1h0m0 2h0m0 7h0m1-15h0m0 2h0m0 9h0m1-11h0m0 7h0m0 0h0m0 1h0m0 3h0m0 2h0m0 8h0m1 1h0m0 1h0m0 2h0m0 0h0m0 2h0m1-28h0m0 7h0m0 8h0m0 1h0m0 5h0m1-4h0m0 7h0m1-17h0m0 17h0m1-24h0m0 13h0m0 0h0m0 13h0m1-13h0"/>
<path stroke="#5188C7" d="M855 2502h0m1-2h0m0 1h0m1-16h0m0 24h0m1-26h0m0 18h0m0 1h0m0 8h0m1-24h0m0 6h0m0 18h0m1-24h0m0 17h0m0 7h0m1-11h0m0 11h0m0 1h0m1-19h0m0 3h0m0 9h0m0 3h0m0 3h0m1-24h0m0 13h0m0 7h0m0 1h0m1-20h0m0 19h0m1-19h0m1-1h0m0 2h0m0 11h0m0 8h0m0 1h0m1-14h0m1-7h0m0 11h0m0 3h0"/>
<path stroke="#1A2844" d="M441 2504h0m0 4h0m1-22h0m1-1h0m0 3h0m0 14h0m0 2h0m0 0h0m0 2h0m1-21h0m0 14h0m0 6h0m1-13h0m0 3h0m0 3h0m0 7h0m1-14h0m0 2h0m0 4h0m0 0h0m1-6h0m0 6h0m0 1h0m0 3h0m1-3h0m1-7h0m1-2h0m0 14h0"/>
<path stroke="#294671" d="M595 2487h0m0 1h0m1 6h0m0 0h0m1-7h0m0 13h0m1 5h0m1-16h0m0 9h0m0 4h0m0 6h0m0 1h0m1-16h0m0 3h0m0 4h0m1-6h0m0 13h0m0 1h0m0 0h0m0 2h0m1-27h0m0 24h0m1-12h0m0 8h0m1-18h0m0 2h0m0 8h0m0 15h0m1-2h0m1-20h0m0 3h0m0 17h0m0 1h0m1-8h0m0 3h0m1-11h0m0 8h0m0 7h0m1-17h0m0 2h0m0 3h0"/>
<path stroke="#4C81C0" d="M826 2491h0m1 4h0m1-11h0m1 2h0m0 8h0m0 4h0m0 10h0m1-23h0m0 10h0m0 1h0m1 0h0m0 4h0m0 1h0m0 2h0m1-17h0m1 8h0m1-6h0m0 1h0m0 21h0m1-22h0m0 3h0m1 5h0m0 11h0m0 2h0m1-18h0m0 10h0m0 1h0m1-15h0m0 2h0m0 8h0m0 6h0m1-6h0m0 11h0m1-22h0m0 13h0m0 1h0"/>
<path stroke="#477AB9" d="M797 2486h0m0 10h0m1-11h0m0 21h0m1-12h0m0 8h0m1 7h0m1-12h0m0 6h0m0 1h0m0 0h0m1-11h0m0 0h0m0 5h0m0 9h0m0 0h0m0 1h0m1-22h0m0 16h0m1-15h0m0 8h0m0 13h0m0 1h0m1-26h0m0 4h0m0 7h0m0 13h0m1-20h0m0 7h0m0 2h0m0 12h0m3-6h0m0 5h0m1-2h0m0 3h0m1-16h0m0 8h0"/>
<path stroke="#1F3253" d="M494 2484h0m0 6h0m1-3h0m0 12h0m0 10h0m1-16h0m0 2h0m0 2h0m1-12h0m0 9h0m0 2h0m0 8h0m1-17h0m1-2h0m0 0h0m0 9h0m0 0h0m1-4h0m1 13h0m0 7h0m1-15h0m0 4h0m1-14h0m0 8h0m1 0h0m0 12h0m1-11h0m0 10h0m1-17h0m0 5h0m0 15h0m0 1h0m1-9h0m1-11h0"/>
<path stroke="#4476B6" d="M783 2484h0m0 3h0m0 3h0m0 15h0m0 4h0m1-18h0m0 15h0m0 2h0m1-21h0m0 7h0m0 0h0m0 7h0m0 1h0m0 7h0m1-23h0m0 1h0m0 11h0m1-7h0m0 0h0m0 10h0m1-17h0m0 9h0m1-8h0m0 2h0m0 10h0m1-3h0m0 14h0m1-25h0m0 7h0m0 4h0m0 8h0m0 5h0m0 0h0m1-19h0m0 20h0m0 0h0m1-10h0m1-5h0m0 6h0m0 6h0m0 4h0m0 0h0m1-17h0m0 16h0m0 2h0m1-23h0m0 11h0m1-13h0m0 14h0m0 8h0m0 1h0"/>
<path stroke="#5E99D7" d="M927 2505h0m0 0h0m0 3h0m1-20h0m0 7h0m0 3h0m0 1h0m0 8h0m1-17h0m0 6h0m0 0h0m0 9h0m1-17h0m0 6h0m0 8h0m1-15h0m0 2h0m0 1h0m0 5h0m0 1h0m0 1h0m0 6h0m1-16h0m0 4h0m0 2h0m0 3h0m0 1h0m0 5h0m1-11h0m0 3h0m0 0h0m0 9h0m1-17h0m0 2h0m0 1h0m0 5h0m0 2h0m1-1h0m1 0h0m0 9h0m2 3h0m1-19h0m1-2h0"/>
<path stroke="#1C2D4C" d="M465 2502h0m0 9h0m1-24h0m0 13h0m1-1h0m0 6h0m0 0h0m1-18h0m0 21h0m0 1h0m1-25h0m0 3h0m0 4h0m0 3h0m1-4h0m0 1h0m1 10h0m1-17h0m0 2h0m0 15h0m1-12h0m3-1h0m0 3h0m0 2h0m0 8h0m1-11h0m0 13h0m2 0h0m0 3h0"/>
<path stroke="#3B66A0" d="M725 2492h0m0 9h0m1-5h0m0 2h0m0 5h0m2-20h0m0 2h0m0 6h0m0 3h0m0 15h0m1-2h0m0 1h0m1-18h0m0 3h0m0 1h0m0 10h0m1-19h0m0 3h0m0 4h0m0 11h0m1-18h0m0 1h0m0 4h0m0 14h0m0 6h0m1-11h0m0 1h0m0 1h0m0 8h0m1-26h0m0 20h0m1-11h0m0 15h0m1-15h0m0 8h0m0 9h0m1-26h0m1 3h0m0 1h0m1 8h0"/>
<path stroke="#243C62" d="M553 2485h0m0 0h0m0 5h0m0 17h0m1-21h0m1 3h0m0 1h0m0 2h0m0 16h0m1-18h0m0 1h0m0 11h0m0 5h0m1-16h0m0 1h0m0 8h0m1-1h0m0 11h0m1-25h0m0 6h0m0 16h0m1-23h0m0 4h0m0 4h0m0 12h0m0 5h0m1-24h0m0 10h0m0 7h0m1 0h0m1-16h0m0 4h0m0 10h0m0 3h0m1-2h0m1-17h0m0 14h0m0 2h0"/>
<path stroke="#568FCD" d="M884 2504h0m1-18h0m0 10h0m1-6h0m0 4h0m0 1h0m0 11h0m1-15h0m0 0h0m0 3h0m0 4h0m0 1h0m0 6h0m0 1h0m0 1h0m1-17h0m0 2h0m0 8h0m2 1h0m2-10h0m0 0h0m0 1h0m0 13h0m1-18h0m0 15h0m1-10h0m0 6h0m1-14h0m0 12h0m1-5h0m0 6h0m0 14h0m1-14h0m0 2h0m0 11h0"/>
<path stroke="#2E5080" d="M638 2496h0m0 4h0m1-8h0m0 1h0m0 4h0m1-14h0m0 4h0m0 4h0m0 13h0m1-17h0m0 8h0m0 12h0m1-15h0m0 2h0m0 9h0m1-10h0m0 2h0m0 1h0m0 5h0m0 6h0m1-20h0m0 10h0m2-13h0m1 0h0m0 23h0m0 1h0m1-24h0m0 17h0m0 0h0m1-13h0m0 2h0m0 18h0m1-21h0m0 14h0m0 1h0m0 1h0m0 3h0m0 1h0m1-4h0m0 5h0"/>
<path stroke="#4272B0" d="M768 2499h0m1 1h0m1-16h0m0 3h0m0 3h0m0 1h0m0 14h0m0 5h0m2-24h0m0 6h0m0 6h0m0 1h0m0 6h0m1-14h0m0 13h0m0 0h0m2-21h0m0 12h0m0 12h0m1-20h0m0 8h0m1-1h0m1 3h0m0 1h0m0 6h0m1 5h0m1-17h0m0 19h0m1-28h0m0 2h0m0 9h0m1-6h0m0 11h0m0 2h0m0 0h0m0 2h0m0 3h0m0 3h0"/>
<path stroke="#203457" d="M508 2487h0m0 1h0m0 0h0m2-5h0m0 18h0m1-4h0m1-6h0m0 12h0m1 2h0m0 0h0m0 2h0m1-22h0m0 1h0m0 5h0m0 16h0m0 3h0m1-15h0m0 4h0m1-7h0m0 11h0m0 5h0m2-25h0m0 15h0m1-14h0m0 11h0m1-10h0m0 5h0m0 1h0m0 11h0m0 9h0m1-18h0m0 16h0m1-9h0"/>
<path stroke="#233A5E" d="M537 2509h0m2-23h0m3 3h0m0 6h0m0 12h0m3-19h0m1 6h0m1-1h0m0 8h0m0 4h0m1-19h0m0 7h0m0 3h0m0 2h0m0 0h0m0 12h0m1-16h0m0 5h0m1 4h0m1-11h0m0 0h0m0 5h0m0 8h0m0 1h0m0 2h0m0 2h0"/>
<path stroke="#5B96D4" d="M913 2500h0m1-12h0m0 6h0m1 2h0m0 2h0m0 3h0m1-18h0m0 26h0m1-4h0m1-21h0m0 10h0m0 7h0m0 4h0m0 1h0m0 1h0m1 1h0m1-23h0m0 2h0m0 2h0m0 1h0m0 2h0m0 12h0m0 6h0m1-24h0m0 1h0m0 14h0m1-4h0m0 3h0m0 0h0m0 5h0m0 1h0m1-16h0m0 11h0m0 8h0m0 2h0m1-19h0m0 13h0m0 1h0m1 2h0m0 0h0m1-17h0m0 5h0m0 5h0m0 2h0m1 5h0"/>
<path stroke="#39629A" d="M711 2489h0m0 7h0m1-13h0m0 10h0m0 3h0m0 8h0m1-21h0m0 12h0m0 14h0m1-26h0m0 9h0m0 10h0m0 5h0m1-21h0m0 13h0m0 2h0m1-5h0m0 8h0m1-14h0m0 4h0m0 3h0m1-13h0m0 1h0m0 3h0m0 5h0m0 15h0m1-24h0m0 18h0m0 6h0m2-8h0m0 10h0m1-23h0m0 5h0m0 12h0m0 5h0m1-8h0m1-14h0m0 15h0"/>
<path stroke="#4E84C3" d="M842 2484h0m0 2h0m0 15h0m1-6h0m1-11h0m0 14h0m1-3h0m0 2h0m0 4h0m0 4h0m1-2h0m0 0h0m1-18h0m0 2h0m1-3h0m0 1h0m0 1h0m0 3h0m0 5h0m0 1h0m0 4h0m1-1h0m0 4h0m0 3h0m2-8h0m0 5h0m0 4h0m0 3h0m1-25h0m0 8h0m0 13h0m0 3h0m1-24h0m0 3h0m0 11h0m0 9h0m1 0h0"/>
<path stroke="#548BCA" d="M869 2500h0m1-16h0m1 0h0m0 9h0m1-7h0m0 8h0m0 11h0m1 0h0m2-16h0m0 4h0m0 1h0m0 1h0m0 8h0m0 0h0m0 0h0m0 8h0m1-25h0m0 2h0m0 8h0m0 4h0m0 1h0m0 6h0m1-19h0m1 3h0m0 8h0m1-14h0m1 15h0m1-5h0m0 12h0m1-18h0m0 8h0m0 1h0m0 5h0m0 4h0m1 1h0"/>
<path stroke="#497DBD" d="M812 2483h0m0 11h0m0 4h0m0 4h0m1-15h0m0 4h0m0 3h0m0 1h0m0 8h0m0 6h0m0 0h0m1-10h0m0 1h0m1 0h0m0 7h0m0 0h0m1-21h0m1 17h0m1-15h0m0 5h0m0 1h0m0 5h0m0 3h0m0 1h0m1-12h0m0 8h0m0 4h0m0 1h0m0 1h0m1-18h0m0 4h0m0 2h0m0 10h0m0 1h0m1-16h0m0 4h0m0 0h0m1 1h0m0 13h0m1-12h0m1-9h0m0 2h0m0 13h0m0 1h0m0 1h0m0 5h0m0 1h0m1-25h0m0 6h0m0 3h0m0 10h0"/>
<path stroke="#345A90" d="M682 2499h0m0 8h0m1-15h0m0 12h0m0 1h0m0 0h0m0 5h0m1-24h0m0 5h0m0 11h0m0 3h0m0 5h0m1-16h0m0 10h0m0 6h0m1-16h0m0 3h0m0 8h0m1-19h0m0 10h0m0 5h0m1-15h0m0 17h0m0 1h0m0 1h0m0 1h0m0 3h0m0 1h0m1-25h0m0 3h0m0 9h0m1 2h0m1-6h0m0 14h0m0 3h0m2-19h0m0 10h0m0 6h0m1-24h0m0 6h0m0 10h0m0 4h0m1 2h0m0 2h0m1-16h0"/>
<path stroke="#3D6AA6" d="M739 2492h0m1-6h0m0 1h0m0 15h0m1-8h0m0 7h0m0 7h0m1-18h0m1-7h0m1 12h0m1-2h0m0 13h0m0 3h0m1 0h0m4-8h0m2-4h0m1-14h0"/>
<path stroke="#609CDA" d="M947 2495h0"/>
</g>
<g fill="none" stroke-linecap="round" stroke-width="8.8" transform="scale(.5)">
<path stroke="#1B2A48" d="M457 2252h0"/>
<path stroke="#4A7EBD" d="M822 2306h0"/>
<path stroke="#497DBC" d="M817 2320h0"/>
<path stroke="#4C81C0" d="M834 2322h0"/>
</g>
<rect x="225" y="1510.7" width="37.6" height="12.7" fill="url(#gx221)"/>
<rect x="275.8" y="1510.7" width="93.1" height="12.7" fill="url(#gx221)"/>
<rect x="379" y="1510.7" width="80.9" height="12.7" fill="url(#gx221)"/>
<g fill="none" stroke-linecap="round" stroke-width="8.8" transform="scale(.5)">
<path stroke="#28426C" d="M581 3029h0m0 4h0m1-6h0m0 9h0m0 1h0m0 6h0m1-7h0m0 6h0m1-12h0m2-11h0m0 3h0m1-2h0m0 3h0m0 11h0m0 5h0m0 3h0m0 5h0m1-14h0m1-1h0m0 0h0m0 6h0m1-20h0m0 5h0m0 21h0m0 6h0m1-28h0m0 6h0m0 8h0m1-8h0m1-6h0m0 23h0m1 4h0m1 0h0"/>
<path stroke="#3B66A0" d="M726 3017h0m0 32h0m0 1h0m1-28h0m0 28h0m1-22h0m0 7h0m0 4h0m0 5h0m1-7h0m0 13h0m1-29h0m0 14h0m0 15h0m1-28h0m0 17h0m1-19h0m0 12h0m0 16h0m1-29h0m0 14h0m0 7h0m1 8h0m1-10h0m0 4h0m1-22h0m0 2h0m0 2h0m0 12h0m0 13h0m1-32h0m0 25h0m0 7h0m1-19h0m0 6h0m0 12h0m1 2h0"/>
<path stroke="#5E99D7" d="M927 3018h0m0 8h0m0 5h0m1-13h0m0 4h0m0 20h0m0 5h0m1-5h0m0 2h0m0 6h0m1-32h0m0 2h0m0 2h0m0 14h0m0 6h0m1-13h0m0 14h0m0 5h0m1-19h0m0 2h0m0 13h0m0 3h0m1-26h0m0 2h0m0 0h0m0 1h0m0 12h0m0 3h0m0 3h0m0 2h0m0 2h0m0 0h0m1-3h0m0 2h0m1-11h0m1-13h0m1 24h0m1-17h0m0 11h0m0 2h0m0 2h0m1-19h0"/>
<path stroke="#2D4C7B" d="M624 3019h0m1 5h0m0 2h0m0 3h0m0 15h0m0 0h0m1-18h0m0 4h0m0 18h0m1-19h0m0 19h0m0 1h0m0 0h0m1-21h0m0 9h0m0 14h0m1-34h0m0 20h0m0 11h0m1-15h0m0 4h0m1 1h0m0 4h0m0 5h0m1-30h0m0 14h0m0 17h0m1-24h0m0 1h0m0 6h0m0 2h0m0 0h0m0 2h0m1-13h0m0 4h0m1 19h0m2-21h0m0 0h0m0 8h0m1 19h0"/>
<path stroke="#1C2D4C" d="M465 3022h0m0 22h0m1-23h0m0 15h0m1-2h0m0 4h0m0 6h0m1-6h0m0 12h0m1-33h0m0 6h0m0 4h0m0 5h0m0 13h0m1-28h0m0 15h0m1 10h0m1-8h0m0 4h0m1-20h0m0 3h0m0 26h0m1-29h0m0 3h0m0 9h0m0 11h0m0 2h0m1-13h0m1 1h0m0 1h0m0 7h0m0 2h0m0 4h0m0 5h0m1-32h0m0 9h0m0 19h0m1-25h0m0 9h0m0 10h0m0 4h0m1-5h0"/>
<path stroke="#305385" d="M653 3035h0m1-3h0m0 7h0m0 11h0m1-31h0m0 2h0m0 1h0m0 13h0m1 1h0m0 13h0m1-32h0m0 5h0m0 0h0m0 9h0m0 19h0m1-24h0m0 14h0m0 6h0m0 0h0m1-23h0m1 25h0m1-16h0m1-1h0m0 0h0m0 13h0m0 0h0m0 1h0m1-15h0m0 2h0m1 6h0m1 4h0m1-11h0m0 9h0m0 1h0m0 10h0"/>
<path stroke="#2B4976" d="M609 3050h0m1-14h0m0 13h0m1-5h0m1-17h0m0 1h0m0 2h0m0 1h0m0 8h0m1-22h0m0 15h0m0 3h0m0 2h0m0 9h0m1-13h0m2-15h0m1 30h0m1-23h0m1-2h0m0 9h0m0 3h0m1-15h0m0 12h0m0 6h0m0 11h0m0 1h0m1-14h0m0 3h0m0 8h0m0 2h0m1-30h0m0 3h0m0 7h0m0 7h0m0 6h0m0 4h0m1-27h0m0 9h0m0 4h0m0 12h0m0 6h0"/>
<path stroke="#1A2844" d="M442 3024h0m0 1h0m1-6h0m0 15h0m0 9h0m1-26h0m0 30h0m1-22h0m0 2h0m0 16h0m0 2h0m1-28h0m0 13h0m0 6h0m0 2h0m0 7h0m1-16h0m0 16h0m0 5h0m1-33h0m1 32h0m1-14h0m0 9h0"/>
<path stroke="#477AB9" d="M798 3033h0m0 9h0m0 1h0m1-22h0m0 3h0m0 4h0m0 4h0m1 0h0m0 8h0m0 4h0m0 1h0m1-17h0m0 9h0m0 12h0m1-25h0m0 13h0m0 4h0m1-23h0m0 3h0m0 9h0m0 15h0m1-21h0m0 11h0m0 6h0m1-15h0m0 24h0m1-30h0m0 10h0m0 9h0m0 11h0m1-8h0m1-17h0m0 2h0m0 3h0m0 8h0m0 8h0m2-26h0m1 0h0m0 28h0"/>
<path stroke="#1E304F" d="M480 3023h0m0 7h0m0 5h0m0 0h0m0 10h0m1-21h0m0 2h0m0 18h0m1-27h0m0 1h0m0 1h0m0 13h0m0 13h0m2-13h0m0 11h0m1-8h0m0 5h0m0 2h0m0 2h0m1 4h0m1-28h0m0 19h0m0 10h0m1-29h0m0 30h0m1-29h0m1 14h0m0 14h0m1-25h0m0 11h0m0 2h0m0 8h0m0 1h0m0 1h0m0 0h0m1-28h0m0 4h0m1 4h0m0 13h0m0 11h0"/>
<path stroke="#32568A" d="M667 3025h0m1-3h0m0 2h0m1-7h0m2 4h0m0 11h0m0 13h0m1-27h0m0 5h0m0 28h0m1-13h0m0 3h0m0 7h0m1-30h0m0 1h0m0 1h0m0 7h0m0 14h0m0 7h0m0 1h0m1-20h0m0 10h0m0 5h0m0 6h0m1-19h0m0 10h0m1-10h0m1-13h0m1 6h0m0 2h0m0 2h0m0 6h0m0 2h0m0 9h0m0 2h0m1-18h0m0 17h0m0 4h0m1-32h0m0 5h0m0 11h0m0 10h0"/>
<path stroke="#243C62" d="M552 3036h0m0 4h0m0 1h0m0 4h0m2-13h0m1-14h0m0 10h0m1-7h0m1-3h0m0 9h0m0 3h0m0 6h0m1-14h0m0 13h0m0 3h0m0 5h0m1-17h0m0 0h0m0 13h0m1-16h0m0 8h0m0 5h0m1 2h0m1-14h0m0 11h0m0 3h0m0 2h0m1 4h0m1-26h0m0 2h0m0 8h0m0 8h0m1 10h0m1-28h0"/>
<path stroke="#548BCA" d="M870 3017h0m1 24h0m0 1h0m0 2h0m2-24h0m0 8h0m1 10h0m0 2h0m0 3h0m0 2h0m1-27h0m0 8h0m1 1h0m0 3h0m0 2h0m0 8h0m0 5h0m1-23h0m0 20h0m0 5h0m1-28h0m0 1h0m0 5h0m0 1h0m0 8h0m0 8h0m1-19h0m0 15h0m2-14h0m0 4h0m1-11h0m0 0h0m0 22h0m0 6h0m0 4h0m0 2h0m1-10h0m1-14h0"/>
<path stroke="#4E84C3" d="M841 3027h0m0 10h0m0 12h0m1-29h0m0 7h0m0 5h0m0 17h0m1-9h0m1-11h0m0 15h0m1-13h0m1-13h0m1 18h0m0 4h0m0 1h0m1-11h0m0 4h0m0 5h0m1 9h0m1-22h0m0 11h0m0 0h0m0 11h0m0 2h0m1-24h0m1-7h0m0 21h0m0 10h0m1-25h0m1-2h0m0 17h0m0 3h0"/>
<path stroke="#294671" d="M595 3035h0m0 6h0m0 3h0m0 1h0m1-21h0m0 10h0m0 1h0m0 9h0m1-24h0m0 28h0m1-16h0m1 3h0m0 2h0m0 4h0m0 3h0m1-17h0m0 19h0m1-23h0m0 3h0m1 19h0m1 3h0m1-20h0m0 12h0m1-22h0m0 3h0m0 13h0m0 4h0m0 3h0m1 2h0m0 2h0m1-9h0m1-10h0m0 6h0m0 8h0m1-20h0m0 1h0m0 29h0"/>
<path stroke="#497DBD" d="M812 3036h0m0 1h0m0 5h0m0 3h0m1-17h0m0 5h0m0 3h0m1-7h0m0 16h0m1-25h0m0 6h0m0 3h0m0 1h0m1-10h0m0 2h0m1 4h0m0 8h0m1-10h0m1 5h0m1-11h0m0 15h0m2-15h0m1 11h0m0 3h0m0 2h0m1-15h0m0 11h0m0 5h0m0 13h0m1-18h0m0 1h0m0 2h0m1-10h0"/>
<path stroke="#4272B0" d="M769 3028h0m0 2h0m0 3h0m0 3h0m0 1h0m0 2h0m0 3h0m2-20h0m0 12h0m1-13h0m0 15h0m0 1h0m0 5h0m0 3h0m1-28h0m0 20h0m0 11h0m1-26h0m0 18h0m1-19h0m0 3h0m1-2h0m0 5h0m0 11h0m0 2h0m0 1h0m1-22h0m0 15h0m0 1h0m1-14h0m0 5h0m1 2h0m0 19h0m1-25h0m0 3h0m0 9h0m0 11h0m1-20h0m0 16h0m1-16h0m0 18h0"/>
<path stroke="#568FCD" d="M884 3028h0m0 11h0m1 5h0m0 7h0m1-22h0m0 12h0m0 0h0m0 9h0m1-33h0m0 16h0m0 0h0m0 2h0m0 12h0m1-20h0m0 6h0m0 6h0m0 3h0m1-20h0m0 28h0m1-25h0m0 0h0m2 0h0m0 11h0m0 2h0m0 2h0m1-1h0m0 6h0m1-9h0m1-16h0m0 15h0m0 2h0m1-15h0m0 14h0m0 5h0m1-24h0m0 25h0m0 3h0m0 1h0m1-21h0m0 14h0m0 4h0"/>
<path stroke="#39629A" d="M710 3018h0m0 20h0m1-12h0m0 10h0m0 1h0m0 7h0m1-15h0m0 5h0m1-7h0m0 9h0m1-13h0m1 11h0m0 13h0m0 1h0m1-21h0m0 14h0m1-11h0m0 3h0m0 3h0m1 10h0m1-29h0m0 8h0m0 11h0m1-15h0m0 8h0m1-6h0m0 10h0m1-14h0m0 0h0m0 8h0m1-1h0m1-9h0m0 11h0m0 7h0m0 1h0m1 4h0"/>
<path stroke="#1B2A48" d="M451 3024h0m0 13h0m0 8h0m1-8h0m1-16h0m0 19h0m0 7h0m0 3h0m1-28h0m0 15h0m0 10h0m1-28h0m1 21h0m1-22h0m0 10h0m0 8h0m1-5h0m0 16h0m0 4h0m1-28h0m0 20h0m1-23h0m0 11h0m0 7h0m0 3h0m0 8h0m1-13h0m1 7h0m1-12h0m0 2h0m0 8h0m0 1h0m1-3h0"/>
<path stroke="#3D6AA6" d="M739 3019h0m1 9h0m0 16h0m0 5h0m0 0h0m0 1h0m1-21h0m0 12h0m1-13h0m0 20h0m1-18h0m0 4h0m1-13h0m0 8h0m0 17h0m2-6h0m0 2h0m1-23h0m1 6h0m0 12h0m1-17h0m0 1h0m0 5h0m1 1h0m0 23h0m2-21h0m1 1h0m0 6h0m1-6h0"/>
<path stroke="#233A5E" d="M537 3043h0m1-13h0m0 1h0m1 2h0m0 0h0m3-14h0m1 22h0m1-14h0m1 15h0m1-8h0m0 14h0m2-29h0m0 17h0m0 11h0m1-17h0m0 14h0m1-24h0m0 7h0m0 4h0m0 11h0m0 1h0m1-26h0m0 17h0m0 3h0"/>
<path stroke="#1F3253" d="M494 3024h0m0 18h0m1-25h0m0 15h0m0 11h0m1 5h0m0 3h0m2-27h0m0 9h0m1-10h0m1 6h0m0 5h0m1-9h0m1-6h0m1 27h0m1-27h0m0 2h0m0 5h0m0 5h0m0 2h0m0 18h0m1-23h0m0 5h0m0 3h0m0 7h0m0 4h0m2 2h0m1-32h0m0 7h0m0 8h0"/>
<path stroke="#203457" d="M509 3035h0m0 1h0m1-2h0m0 3h0m0 10h0m1-30h0m0 5h0m0 0h0m0 3h0m0 20h0m1-21h0m0 20h0m0 3h0m0 2h0m0 1h0m1-8h0m0 2h0m1-6h0m0 11h0m1-17h0m0 16h0m1-26h0m0 9h0m0 3h0m0 4h0m1-19h0m0 4h0m0 16h0m1 1h0m1-17h0m0 16h0m1-6h0m0 1h0m0 1h0m1-8h0m1-2h0m0 13h0"/>
<path stroke="#5992D1" d="M898 3045h0m1-14h0m0 11h0m1-13h0m1 2h0m0 6h0m0 6h0m1-8h0m0 5h0m0 5h0m1-9h0m0 4h0m1 2h0m2-20h0m0 0h0m0 10h0m0 4h0m0 3h0m0 5h0m1-1h0m1-16h0m0 19h0m1-24h0m1 7h0m0 9h0m0 8h0m1-10h0m0 12h0m1-30h0m0 2h0m0 20h0m0 2h0"/>
<path stroke="#4C81C0" d="M826 3027h0m2 3h0m0 17h0m0 2h0m1-9h0m0 8h0m1-29h0m1 7h0m0 13h0m1-18h0m0 2h0m0 5h0m0 21h0m1-28h0m0 5h0m0 21h0m1-13h0m0 8h0m0 3h0m1-27h0m0 7h0m0 4h0m1-6h0m0 13h0m0 4h0m0 9h0m0 2h0m2-13h0m0 8h0m1-15h0m1-1h0m0 1h0"/>
<path stroke="#345A90" d="M682 3049h0m0 0h0m1-18h0m1-8h0m0 2h0m0 11h0m0 2h0m1-4h0m0 16h0m1-18h0m0 3h0m0 3h0m1-21h0m0 7h0m0 20h0m0 1h0m2 0h0m0 3h0m1-19h0m0 18h0m1-29h0m0 4h0m0 17h0m0 1h0m0 8h0m0 0h0m1-18h0m0 6h0m0 0h0m0 1h0m1-17h0m0 16h0m0 12h0m2-31h0m0 7h0m1-4h0m0 0h0"/>
<path stroke="#406EAB" d="M754 3021h0m0 6h0m0 12h0m2-6h0m1-6h0m0 0h0m0 11h0m0 10h0m0 2h0m1-31h0m0 16h0m0 4h0m1-15h0m0 2h0m0 21h0m1-20h0m1-9h0m0 1h0m0 11h0m1-12h0m0 29h0m1-30h0m0 3h0m0 1h0m0 5h0m0 2h0m0 1h0m0 9h0m0 1h0m1-22h0m0 22h0m1-18h0m0 5h0m1 8h0m0 6h0m1-10h0m0 2h0m0 14h0m1-24h0"/>
<path stroke="#4476B6" d="M783 3047h0m1-24h0m0 19h0m1 6h0m1-24h0m0 1h0m0 5h0m0 14h0m1-26h0m0 15h0m0 17h0m1-27h0m0 5h0m1 4h0m0 16h0m1-27h0m1 27h0m1-4h0m1-23h0m0 5h0m0 24h0m1-27h0m0 23h0m0 1h0m1-29h0m0 1h0m0 2h0m0 18h0m0 9h0m1-24h0m0 2h0m0 4h0m0 4h0m0 1h0m1 5h0m0 11h0"/>
<path stroke="#263F67" d="M566 3038h0m1-5h0m0 0h0m0 4h0m0 6h0m1-8h0m2-13h0m0 8h0m0 5h0m0 3h0m0 8h0m1-21h0m0 5h0m0 7h0m1-15h0m0 1h0m0 2h0m0 12h0m0 11h0m2-25h0m0 19h0m0 2h0m0 1h0m0 3h0m1-27h0m0 2h0m0 1h0m0 1h0m0 3h0m0 5h0m3 4h0m0 0h0m0 11h0m1 1h0m1-28h0m0 1h0m0 2h0m0 10h0"/>
<path stroke="#5B96D4" d="M914 3036h0m0 11h0m1-20h0m0 7h0m0 5h0m0 8h0m1-23h0m0 8h0m0 4h0m0 12h0m0 2h0m1-26h0m0 10h0m0 3h0m0 3h0m0 3h0m1-21h0m0 17h0m0 2h0m0 4h0m1-16h0m0 8h0m0 1h0m0 1h0m0 2h0m0 2h0m0 3h0m0 3h0m0 1h0m0 0h0m1-19h0m1 0h0m0 2h0m0 5h0m1-18h0m0 13h0m0 1h0m0 10h0m0 2h0m0 2h0m1-8h0m0 4h0m1-4h0m0 2h0m1-11h0m0 2h0m0 4h0m1-1h0m0 9h0m1-17h0m0 15h0m0 4h0"/>
<path stroke="#365E95" d="M696 3017h0m0 12h0m0 7h0m0 2h0m0 12h0m1-31h0m0 3h0m0 12h0m0 9h0m0 0h0m1-19h0m0 2h0m0 18h0m0 0h0m0 6h0m1-33h0m0 6h0m0 20h0m1-7h0m1-12h0m0 16h0m1-20h0m0 15h0m1-15h0m0 30h0m1-14h0m0 14h0m1-27h0m0 3h0m0 4h0m0 16h0m0 4h0m1-33h0m0 7h0m0 0h0m0 6h0m0 14h0m0 7h0m1-7h0m1-24h0m0 3h0m0 5h0m0 11h0m0 7h0m1-9h0m0 12h0m1-17h0"/>
<path stroke="#5188C7" d="M855 3044h0m1-2h0m0 8h0m1-31h0m0 2h0m0 2h0m0 4h0m0 4h0m0 7h0m0 6h0m1-26h0m0 5h0m0 4h0m0 1h0m0 2h0m1-10h0m0 7h0m0 3h0m0 6h0m0 5h0m1 2h0m0 7h0m1-3h0m1-25h0m0 7h0m0 9h0m0 7h0m0 2h0m1-23h0m0 4h0m0 22h0m0 0h0m1-23h0m0 14h0m0 9h0m1-29h0m0 13h0m0 1h0m0 3h0m1-20h0m0 18h0m1-4h0m0 15h0m1-29h0m1 25h0m0 4h0m0 3h0m0 0h0"/>
<path stroke="#22375A" d="M523 3021h0m0 9h0m1-10h0m0 13h0m0 8h0m0 2h0m1-22h0m0 15h0m0 0h0m1-1h0m0 0h0m0 9h0m0 2h0m1-29h0m0 30h0m0 2h0m2 0h0m1-23h0m0 4h0m0 16h0m1-21h0m0 5h0m1-8h0m0 27h0m1-18h0m0 12h0m1 7h0m0 1h0m1-22h0m0 15h0m1-5h0m0 5h0"/>
<path stroke="#2E5080" d="M639 3035h0m0 14h0m1-29h0m0 1h0m0 7h0m0 2h0m0 13h0m1-24h0m0 7h0m0 6h0m1 12h0m1-20h0m0 8h0m0 5h0m1-14h0m0 11h0m0 4h0m0 8h0m0 4h0m2-29h0m0 12h0m0 12h0m0 0h0m1-28h0m0 1h0m0 19h0m0 2h0m0 1h0m0 8h0m1-14h0m0 16h0m1-33h0m0 7h0m0 20h0m0 0h0m0 4h0m0 1h0m1-13h0m0 5h0m1-19h0m0 11h0m0 4h0m1-3h0"/>
<path stroke="#609CDA" d="M942 3040h0m0 3h0m1 0h0m2 0h0m1-3h0"/>
</g>
<g fill="none" stroke-linecap="round" stroke-width="8.8" transform="scale(.5)">
<path stroke="#1B2B48" d="M459 2619h0"/>
<path stroke="#1B2A48" d="M457 2680h0"/>
<path stroke="#1B2A47" d="M455 2699h0"/>
<path stroke="#1F3354" d="M505 2670h0"/>
<path stroke="#2F5081" d="M648 2662h0"/>
<path stroke="#2E4E7D" d="M637 2676h0"/>
<path stroke="#305284" d="M658 2696h0"/>
<path stroke="#2C4A78" d="M623 2699h0"/>
<path stroke="#325689" d="M673 2725h0"/>
<path stroke="#32568A" d="M674 2781h0m1-53h0"/>
<path stroke="#3F6EAB" d="M761 2696h0"/>
<path stroke="#4272B1" d="M777 2686h0"/>
<path stroke="#477BBA" d="M809 2720h0"/>
<path stroke="#538BC9" d="M874 2711h0m0 83h0"/>
<path stroke="#233A5F" d="M547 2785h0"/>
<path stroke="#253D64" d="M564 2797h0"/>
<path stroke="#263F67" d="M572 2775h0"/>
<path stroke="#28436D" d="M590 2772h0"/>
<path stroke="#294570" d="M598 2772h0"/>
<path stroke="#29446F" d="M596 2778h0"/>
<path stroke="#2A4774" d="M610 2774h0"/>
<path stroke="#2C4C7A" d="M628 2782h0"/>
<path stroke="#2B4A77" d="M619 2795h0"/>
<path stroke="#2E4E7E" d="M639 2790h0"/>
<path stroke="#315487" d="M665 2773h0"/>
<path stroke="#315386" d="M663 2791h0"/>
<path stroke="#315588" d="M668 2796h0"/>
<path stroke="#305386" d="M661 2798h0"/>
<path stroke="#386098" d="M711 2784h0"/>
<path stroke="#558ECC" d="M887 2777h0"/>
<path stroke="#5790CE" d="M895 2779h0"/>
<path stroke="#5891D0" d="M902 2785h0"/>
<path stroke="#548CCB" d="M879 2789h0"/>
</g>
<path d="M221.7 1039.2L224.9 1200L225.8 1248.4H474" fill="none" stroke="#000" stroke-width="1.7" stroke-linejoin="miter"/>
<path d="M222.2 1517H472.5" fill="none" stroke="#000" stroke-width="1.6"/>
<path d="M209.4 1028.8V1265.8M209.4 1298.8V1536.6H484.6" fill="none" stroke="#2b2826" stroke-width="1.4"/>
<path d="M209.4 1061.2h-4M209.4 1155h-4M209.4 1248.4h-4M209.4 1334.5h-4M209.4 1393.5h-4M209.4 1457.4h-4M209.4 1517h-4M221.5 1536.6v4M293.8 1536.6v4M366 1536.6v4M438.2 1536.6v4" fill="none" stroke="#2b2826" stroke-width="1.3"/>
<g font-family="'Liberation Serif', 'Times New Roman', serif" font-size="27.2" fill="#3a4040" stroke="#3a4040" stroke-width="0.3">
<text transform="translate(201.4 1070.6) scale(.94 1)" text-anchor="end">10.0</text>
<text transform="translate(201.4 1164.4) scale(.94 1)" text-anchor="end">1.0</text>
<text transform="translate(201.4 1257.8) scale(.94 1)" text-anchor="end">0.1</text>
<text transform="translate(201.4 1343.9) scale(.94 1)" text-anchor="end">3.0</text>
<text transform="translate(201.4 1402.9) scale(.94 1)" text-anchor="end">1.0</text>
<text transform="translate(201.4 1466.8) scale(.94 1)" text-anchor="end">0.3</text>
<text transform="translate(201.4 1526.4) scale(.94 1)" text-anchor="end">0.1</text>
<text transform="translate(221.5 1561.2) scale(.94 1)" text-anchor="middle">0.0</text>
<text transform="translate(293.8 1561.2) scale(.94 1)" text-anchor="middle">2.5</text>
<text transform="translate(366 1561.2) scale(.94 1)" text-anchor="middle">5.0</text>
<text transform="translate(438.2 1561.2) scale(.94 1)" text-anchor="middle">7.5</text>
</g>
<g font-family="'Liberation Sans', Arial, Helvetica, sans-serif" font-size="13" fill="#1a1a1a" text-anchor="middle">
<text x="347" y="1020.8">ERCC6L</text>
<text x="347" y="1290.8">MYB</text>
</g>
<g font-family="'Liberation Serif', 'Times New Roman', serif" font-size="32" font-weight="bold" fill="#000" text-anchor="middle">
<text x="348" y="1592">Pseudo−time</text>
<text transform="translate(146.4 1282) rotate(-90)">Relative Expression</text>
</g>
<rect x="509.3" y="1236" width="24.5" height="126" fill="url(#gpt)"/>
<path d="M509.3 1333h4.8M533.8 1333h-4.8M509.3 1304h4.8M533.8 1304h-4.8M509.3 1275h4.8M533.8 1275h-4.8M509.3 1246h4.8M533.8 1246h-4.8" stroke="#fff" stroke-opacity="0.6" stroke-width="0.9" fill="none"/>
<g font-family="'Liberation Serif', 'Times New Roman', serif" font-weight="bold" fill="#000">
<text x="509" y="1225.5" font-size="29">Pseudotime</text>
<text x="541.7" y="1371" font-size="27">0</text>
<text x="541.7" y="1342" font-size="27">2</text>
<text x="541.7" y="1313" font-size="27">4</text>
<text x="541.7" y="1284" font-size="27">6</text>
<text x="541.7" y="1255" font-size="27">8</text>
</g>
<rect x="778.1" y="1243.7" width="37.6" height="9.5" fill="#D6615B"/>
<rect x="828.9" y="1243.7" width="39.6" height="9.5" fill="#C88A2A"/>
<rect x="868.5" y="1243.7" width="7.2" height="9.5" fill="#B266BC"/>
<rect x="875.8" y="1243.7" width="5.8" height="9.5" fill="#A89C2F"/>
<rect x="881.5" y="1243.7" width="22" height="9.5" fill="#4FAF4E"/>
<rect x="903.5" y="1243.7" width="18.5" height="9.5" fill="#41AEDD"/>
<rect x="932.1" y="1243.7" width="6.1" height="9.5" fill="#41AEDD"/>
<rect x="938.2" y="1243.7" width="8.7" height="9.5" fill="#4C94DC"/>
<rect x="946.8" y="1243.7" width="66.2" height="9.5" fill="#8F7CC6"/>
<g fill="none" stroke-linecap="round" stroke-width="8.8" transform="scale(.5)">
<path stroke="#41AEDD" d="M1810 2505h0m2-21h0m0 3h0m0 4h0m1-4h0m9 24h0m3-21h0m5 20h0m2-27h0m2 15h0m1-13h0m0 7h0m2-5h0m0 7h0m2 5h0m3-10h0m0 12h0m2-14h0m8-4h0m2 5h0m4 21h0m1-23h0m4 8h0m1 17h0m2-3h0m1-8h0m3 10h0m2-24h0m1 7h0m0 13h0"/>
<path stroke="#8F7CC6" d="M1890 2493h0m2 8h0m2-14h0m0 5h0m0 12h0m13-7h0m5-3h0m2 12h0m2-22h0m0 9h0m2 17h0m1-18h0m0 15h0m5-19h0m4 17h0m3-12h0m0 11h0m1 5h0m2-18h0m3 14h0m1-5h0m3 2h0m2 2h0m4-3h0m0 6h0m3-14h0m1 1h0m2 11h0m1 1h0m1-14h0m3 11h0m1 7h0m2-12h0m0 6h0m2-17h0m0 12h0m0 11h0m1-24h0m3 20h0m0 3h0m1-2h0m2-21h0m5-2h0m1 19h0m2 6h0m2-25h0m1 4h0m3 0h0m1 21h0m2-18h0m0 10h0m1-4h0m0 0h0m1 4h0m4 7h0m1-25h0m0 7h0m1-6h0m2 7h0m0 7h0m1-15h0m0 10h0m0 12h0m2-3h0m1 4h0m1-13h0m2 4h0m0 10h0m2-20h0m0 8h0m0 3h0m0 6h0m1-5h0m0 3h0m2-8h0m0 1h0m1 14h0m2-6h0m6-7h0m4 2h0m2 8h0m1-23h0m2 6h0m2 12h0m1 9h0m1-8h0m0 1h0m1-19h0m0 20h0m0 6h0m2-13h0m1-3h0m0 11h0m3-15h0m2 10h0m6-6h0m2-1h0m1-7h0"/>
<path stroke="#D6615B" d="M1548 2507h0m2-13h0m0 4h0m3-2h0m1-11h0m1 8h0m0 1h0m0 8h0m0 8h0m2-15h0m1 7h0m1-10h0m1 9h0m1-1h0m1-11h0m2 5h0m1-3h0m0 7h0m3-8h0m2 3h0m4 12h0m1 2h0m2-15h0m5-2h0m2-6h0m0 13h0m2 12h0m1-14h0m5 4h0m3 5h0m0 2h0m1-7h0m0 11h0m1-26h0m1 17h0m2-13h0m4 12h0m1-1h0m2-13h0m2 10h0m1 11h0m4 2h0m3-13h0m0 1h0m1-13h0m0 6h0m1 19h0m4-11h0m0 7h0m0 3h0m3-16h0m1 9h0m1-9h0m1 10h0m2-15h0m0 19h0m4-20h0m1 3h0m3 4h0m1 12h0m4 2h0m2-12h0m2 12h0m3-23h0m5 25h0"/>
<path stroke="#4FAF4E" d="M1765 2485h0m0 7h0m0 8h0m1-10h0m1 21h0m2-27h0m1 0h0m1 11h0m1 5h0m8-16h0m0 0h0m3 16h0m4-13h0m3 19h0m1-4h0m2-3h0m0 0h0m3 8h0m8-7h0m1-17h0m1 1h0"/>
<path stroke="#4C94DC" d="M1877 2497h0m1-7h0m0 8h0m6-14h0m0 7h0m1 8h0m1-12h0m0 8h0m0 4h0m3-16h0m0 1h0m0 10h0m1-8h0m2 0h0"/>
<path stroke="#C88A2A" d="M1657 2486h0m6 3h0m2 6h0m2 15h0m1-14h0m2 7h0m1-15h0m1-5h0m0 21h0m1-7h0m0 11h0m1-25h0m0 6h0m1-1h0m1-4h0m0 4h0m0 5h0m2 2h0m0 9h0m1 4h0m3-12h0m1 2h0m0 9h0m0 3h0m1-17h0m0 6h0m2-9h0m0 17h0m1-20h0m3 20h0m0 2h0m1-12h0m0 2h0m0 2h0m1-12h0m0 8h0m2 0h0m0 3h0m1-15h0m4 3h0m6 20h0m3-24h0m2 11h0m1-3h0m1 11h0m0 6h0m0 1h0m3-12h0m3 9h0m1 3h0m1-27h0m0 16h0m1-9h0m0 20h0m0 0h0m1-8h0m1-16h0m1 1h0m1 8h0m2 2h0m1-1h0m5 8h0m1-5h0m0 9h0m13-2h0"/>
<path stroke="#B266BC" d="M1735 2499h0m7 5h0m4-18h0m2 13h0m4-11h0m0 11h0m17 1h0m9-17h0m0 4h0m2 13h0m7-3h0"/>
<path stroke="#D355A0" d="M1659 2501h0"/>
<path stroke="#A89C2F" d="M1740 2485h0m10 13h0m4-13h0m1 9h0m1-10h0m3 8h0m1-2h0m1 4h0"/>
<path stroke="#72B03C" d="M1756 2509h0m2-7h0m6-10h0m3-3h0m14 9h0m14-14h0m7 19h0m1-5h0m3-6h0"/>
<path stroke="#4BAE94" d="M1830 2485h0m2 16h0m26-14h0"/>
</g>
<g fill="none" stroke-linecap="round" stroke-width="8.8" transform="scale(.5)">
<path stroke="#4FAF4E" d="M1765 2494h0m1 3h0m4-12h0m0 10h0m3-9h0m3 14h0m1-8h0m2 16h0m6-2h0m3-21h0m2 8h0m0 1h0m3 16h0m1-13h0m2-9h0m1-4h0m3 24h0m1-10h0m2 0h0m0 9h0m1-15h0m0 11h0"/>
<path stroke="#8F7CC6" d="M1875 2499h0m1-6h0m5 1h0m4 10h0m1-15h0m1 13h0m3 7h0m3-5h0m1 6h0m1-24h0m2 7h0m1 4h0m1 13h0m6-6h0m0 2h0m2-23h0m0 7h0m3 15h0m2-7h0m2 8h0m2 4h0m2-14h0m0 3h0m3-16h0m0 20h0m0 6h0m2-5h0m1 5h0m1-2h0m0 2h0m9-24h0m1 9h0m2 3h0m0 10h0m1-23h0m2 24h0m2-19h0m1 1h0m0 6h0m4-13h0m1 5h0m1 13h0m1-5h0m4 2h0m1 8h0m2-8h0m3-11h0m1 3h0m1 1h0m1 13h0m1-12h0m0 18h0m1-15h0m2 10h0m0 1h0m2-9h0m1 9h0m2-15h0m1 19h0m1-6h0m11-5h0m2 3h0m2-11h0m2 4h0m2-5h0m4 6h0m0 4h0m1-1h0m1 8h0m3-23h0m7 20h0m6-5h0m0 11h0m1-18h0m0 18h0m1-13h0m6-3h0m0 4h0m0 4h0m0 5h0m1-18h0m2 19h0m1-11h0m0 7h0m0 6h0m1-21h0m1 2h0m2 16h0m1-16h0m0 11h0m1-18h0m0 14h0m0 4h0m1-15h0m0 20h0m1-12h0m2-1h0m1-4h0m0 3h0m0 11h0m1-17h0m1 11h0m5-7h0m0 2h0"/>
<path stroke="#D6615B" d="M1548 2484h0m0 2h0m0 23h0m1-15h0m2 10h0m0 4h0m0 1h0m3-24h0m0 20h0m2-8h0m4-12h0m0 19h0m1-7h0m3-8h0m2 7h0m7 13h0m3 0h0m3-19h0m1-2h0m1 16h0m2-20h0m1 17h0m4 0h0m0 9h0m1-18h0m8-7h0m1 9h0m0 10h0m3-3h0m2 7h0m2-10h0m2 3h0m1-14h0m7 20h0m5 1h0m3-22h0m0 3h0m2 7h0m3 14h0m10-18h0m1 10h0m1-12h0m0 19h0m7-21h0m3 20h0m1-22h0m2 3h0m0 13h0m2-17h0m0 15h0m0 4h0"/>
<path stroke="#72B03C" d="M1764 2485h0m0 19h0m1-2h0m2 8h0m1-19h0m1 12h0m4-3h0m2 2h0m3-4h0m2-5h0m0 14h0m4-6h0m22 5h0"/>
<path stroke="#C88A2A" d="M1658 2485h0m1 6h0m1-3h0m0 3h0m0 18h0m4-6h0m0 0h0m0 2h0m1-13h0m5 7h0m3 2h0m2-15h0m1 2h0m1 3h0m0 4h0m2 12h0m1-1h0m3 0h0m1-16h0m1 8h0m1-12h0m0 8h0m1 10h0m1-7h0m1 2h0m1 4h0m0 3h0m1-21h0m2 17h0m0 7h0m1-12h0m2 7h0m2-9h0m0 15h0m1-17h0m0 8h0m0 8h0m1-23h0m2 10h0m1-3h0m1-7h0m4 1h0m2-4h0m0 4h0m1 9h0m0 10h0m2-5h0m3-14h0m0 8h0m0 2h0m3-3h0m0 0h0m2-7h0m3 20h0m2-13h0m0 4h0m1 12h0m4-24h0m1-1h0m0 19h0m3-4h0"/>
<path stroke="#41AEDD" d="M1807 2507h0m2-5h0m1-3h0m1-13h0m0 12h0m0 7h0m1-7h0m1 12h0m1-26h0m1 6h0m0 12h0m1-16h0m0 17h0m4 3h0m1-18h0m1 1h0m2 17h0m3-16h0m3-6h0m0 22h0m1 3h0m4-14h0m1-6h0m0 2h0m0 3h0m9-10h0m2 11h0m0 15h0m1-1h0m2-13h0m1-6h0m4 21h0m7-19h0m0 12h0m3-11h0m0 11h0m0 2h0m4-20h0m0 4h0m2-3h0m0 9h0"/>
<path stroke="#B266BC" d="M1734 2509h0m1-10h0m2-15h0m4 8h0m0 1h0m1 5h0m1 11h0m2-10h0m8 10h0m5-25h0m1 10h0m3 17h0m29-23h0"/>
<path stroke="#D355A0" d="M1657 2493h0m7 11h0m0 7h0"/>
<path stroke="#A89C2F" d="M1738 2505h0m2-4h0m6-14h0m2 17h0m3-16h0m0 2h0m1 13h0m5-11h0"/>
<path stroke="#4BAE94" d="M1820 2493h0m42 6h0"/>
<path stroke="#4C94DC" d="M1875 2492h0m1 16h0m2 1h0m9-1h0m4-19h0m1 21h0m1-19h0"/>
</g>
<g fill="none" stroke-linecap="round" stroke-width="8.8" transform="scale(.5)">
<path stroke="#8F7CC6" d="M1876 2493h0m2-9h0m1 12h0m4-2h0m0 4h0m5-11h0m0 2h0m3 12h0m2 9h0m3-15h0m0 16h0m2-26h0m1 6h0m1 3h0m0 15h0m2-9h0m0 9h0m0 1h0m1-7h0m3-2h0m2 1h0m2-3h0m0 2h0m1-5h0m3 11h0m1-12h0m2-11h0m0 3h0m2 22h0m1-10h0m1-16h0m2 7h0m3 10h0m0 8h0m2-11h0m1 13h0m1-14h0m1-5h0m3 5h0m0 3h0m1-14h0m1 17h0m1-16h0m1 10h0m0 2h0m0 12h0m1-16h0m1 1h0m1 3h0m3 10h0m2-1h0m1-19h0m1 17h0m1-10h0m3-5h0m0 21h0m1-22h0m1-6h0m0 5h0m0 22h0m1-14h0m0 6h0m0 4h0m0 3h0m1 2h0m1-23h0m1 15h0m1-12h0m6-3h0m2 9h0m0 11h0m1-25h0m0 15h0m4-9h0m1 8h0m4 11h0m2-3h0m3-7h0m3-12h0m0 17h0m1-20h0m0 17h0m1-9h0m6-1h0m3-4h0m1-2h0m3 10h0m4 1h0m2-7h0m3 18h0m1-4h0m2 2h0m2-7h0m0 6h0m5-4h0m0 5h0m1-18h0m2 23h0m2-19h0m2-5h0m0 1h0m0 2h0m1 18h0m1-4h0m0 3h0m1-3h0m0 2h0m1-20h0m1 14h0m1-2h0m1-5h0m0 10h0m1 3h0m0 0h0m1-8h0m1-13h0m0 23h0m5-4h0m5 1h0"/>
<path stroke="#B266BC" d="M1734 2506h0m3-22h0m0 4h0m1 21h0m1-20h0m3 4h0m3-7h0m11 23h0m2-12h0m2 7h0m1-9h0m1-8h0"/>
<path stroke="#C88A2A" d="M1658 2485h0m9 21h0m1 0h0m2 1h0m1-14h0m2 10h0m1-10h0m0 9h0m1-13h0m1 3h0m2-7h0m1 17h0m2-10h0m0 18h0m1-18h0m5-8h0m0 11h0m2 3h0m0 8h0m1-13h0m0 5h0m0 2h0m1-3h0m2-6h0m4 2h0m0 14h0m1 0h0m1-2h0m2 5h0m5-24h0m1 14h0m2 4h0m1 2h0m3-18h0m0 8h0m1-12h0m2-1h0m1 12h0m1 6h0m5 2h0m1 7h0m5-3h0m1-2h0m0 4h0m2-21h0m1 16h0m11-21h0"/>
<path stroke="#41AEDD" d="M1809 2493h0m1-6h0m2 15h0m5-9h0m3 6h0m0 8h0m4-22h0m7 9h0m1-2h0m1-8h0m0 14h0m0 7h0m2-22h0m1 25h0m1-8h0m0 2h0m2-10h0m1 1h0m2 8h0m3 9h0m1-18h0m3-6h0m4 9h0m1-3h0m8-4h0m0 14h0m2-11h0m1 6h0m2-8h0m0 15h0m1-17h0m0 9h0m1 6h0m1-16h0m0 24h0m1-17h0m0 11h0m1-12h0m2 3h0"/>
<path stroke="#4BAE94" d="M1838 2488h0m5-4h0m4 22h0m26 2h0"/>
<path stroke="#A89C2F" d="M1735 2485h0m1 0h0m2 15h0m1-6h0m4 6h0m8-11h0m2 9h0m1 5h0m7-19h0m0 20h0m1-21h0"/>
<path stroke="#D6615B" d="M1548 2489h0m0 19h0m1-7h0m1 5h0m1-9h0m1 13h0m3-26h0m0 8h0m1-3h0m1 4h0m2-9h0m0 5h0m0 7h0m0 10h0m2-1h0m2-11h0m0 12h0m1-21h0m0 8h0m0 16h0m1-25h0m1 6h0m0 17h0m2 0h0m2 1h0m1-24h0m0 16h0m2-17h0m1 6h0m3-2h0m0 1h0m2 1h0m0 9h0m0 10h0m6-1h0m2-11h0m2 13h0m11-6h0m4-11h0m3-4h0m2-1h0m3 1h0m2 12h0m0 0h0m2-2h0m1-10h0m1 6h0m2 11h0m2-11h0m1 13h0m1 1h0m0 2h0m3 1h0m4-3h0m1-12h0m2-2h0m2 12h0m1-4h0m6-15h0m3 3h0m6 16h0m0 2h0m1-9h0"/>
<path stroke="#4C94DC" d="M1874 2486h0m2-1h0m0 25h0m2-7h0m3-9h0m1-1h0m0 16h0m1-23h0m0 15h0m1-10h0"/>
<path stroke="#4FAF4E" d="M1763 2503h0m9 2h0m3-9h0m0 9h0m2 3h0m2-6h0m3 5h0m1-22h0m5 3h0m5 0h0m4 9h0m6-2h0"/>
<path stroke="#72B03C" d="M1753 2486h0m11 20h0m1-3h0m25 2h0m13-19h0m1 6h0"/>
<path stroke="#D355A0" d="M1660 2492h0m12 8h0"/>
</g>
<g fill="none" stroke-linecap="round" stroke-width="8.8" transform="scale(.5)">
<path stroke="#41AEDD" d="M1807 2490h0m0 16h0m1-22h0m2 2h0m1 0h0m1 22h0m1-11h0m1-6h0m0 13h0m2 1h0m2-21h0m3 22h0m2 4h0m1-27h0m1 14h0m0 8h0m2-3h0m8-14h0m0 18h0m1-17h0m0 16h0m0 3h0m1-21h0m1 6h0m0 0h0m0 4h0m2-7h0m0 3h0m0 2h0m0 10h0m3-2h0m1 0h0m1-2h0m0 1h0m2 8h0m2-9h0m7-10h0m0 3h0m4 11h0m4-16h0m0 20h0m5-26h0m0 18h0m2-3h0m2-13h0m0 14h0m0 11h0m1-16h0"/>
<path stroke="#8F7CC6" d="M1875 2495h0m0 2h0m1 13h0m1-14h0m0 11h0m10-14h0m4 9h0m1 3h0m2-12h0m0 16h0m6-19h0m0 6h0m1 1h0m5 8h0m0 3h0m6-8h0m1-13h0m2 0h0m0 4h0m2 15h0m4 1h0m10 2h0m1-21h0m0 9h0m1 6h0m5 6h0m5-15h0m0 3h0m0 4h0m1-16h0m1 20h0m1-12h0m1 11h0m1-13h0m5 0h0m2 1h0m0 18h0m4-17h0m1-5h0m3 15h0m0 1h0m2-17h0m2 17h0m3 1h0m10 0h0m0 1h0m1-3h0m8-20h0m0 12h0m0 7h0m1-16h0m1 8h0m0 3h0m2 12h0m2-26h0m1 23h0m1-17h0m0 10h0m1 5h0m2 3h0m5-18h0m1 9h0m4-8h0m2-1h0m0 11h0m3-5h0m2-9h0m4 20h0m1-2h0m2 6h0m1-2h0m1-12h0m0 3h0m1 4h0m1-17h0m1-3h0m1 17h0m1-16h0m1 4h0m0 4h0m0 12h0m1-3h0m1 0h0m2 6h0m1-10h0m0 11h0m1-21h0m1 3h0m0 16h0m1 1h0m1-18h0m0 9h0m1-10h0m0 20h0m4-1h0m2 1h0m1-19h0m3 3h0"/>
<path stroke="#D6615B" d="M1548 2491h0m0 7h0m1-5h0m1-9h0m2 9h0m0 1h0m0 2h0m1 6h0m1-15h0m2 1h0m0 10h0m6 2h0m0 6h0m1-8h0m1 2h0m4-12h0m0 6h0m3-8h0m0 14h0m3-12h0m0 9h0m0 13h0m2-18h0m0 19h0m4-21h0m3-1h0m1 5h0m0 0h0m2-10h0m2-1h0m3 3h0m4-2h0m1 12h0m2-11h0m0 7h0m0 16h0m2-16h0m1-8h0m0 6h0m1-2h0m1-2h0m2 16h0m0 3h0m1 1h0m5-5h0m2-15h0m0 9h0m4 6h0m1-10h0m1 10h0m0 4h0m3-1h0m1-11h0m0 8h0m1-17h0m0 0h0m4 16h0m0 4h0m1-10h0m3-11h0m3 26h0m4-21h0m0 10h0m5 9h0m5 3h0m1-5h0m1-16h0m0 20h0m3-26h0m0 19h0"/>
<path stroke="#C88A2A" d="M1657 2504h0m1-17h0m0 3h0m3 11h0m5-16h0m2 10h0m0 15h0m2-24h0m1 5h0m2 5h0m0 0h0m2 3h0m0 3h0m1-13h0m0 2h0m1 10h0m0 6h0m2-12h0m5-9h0m1 5h0m1-5h0m0 24h0m3-17h0m3 3h0m2 13h0m1-10h0m1 11h0m4-25h0m0 13h0m1-7h0m0 0h0m0 7h0m2 11h0m2-10h0m2-4h0m3-9h0m0 1h0m1 17h0m2-15h0m1 6h0m2-7h0m1 2h0m0 5h0m2-10h0m2 9h0m0 1h0m1 13h0m1-21h0m0 6h0m1 14h0m1-20h0m2 1h0m2 18h0m1 0h0m1-21h0m1 20h0m0 1h0m1-3h0"/>
<path stroke="#4C94DC" d="M1881 2493h0m5-4h0m2 20h0m1-25h0m2 9h0m2-2h0"/>
<path stroke="#4FAF4E" d="M1764 2506h0m7-20h0m0 20h0m6-16h0m2 20h0m2-14h0m2-7h0m6 21h0m6-3h0m1-5h0m3-5h0m0 4h0m0 6h0m2-15h0m2 11h0m2-16h0"/>
<path stroke="#B266BC" d="M1735 2491h0m2-1h0m2 17h0m7-4h0m16-5h0m28-11h0m12 8h0"/>
<path stroke="#72B03C" d="M1752 2497h0m1 1h0m13 12h0m8-3h0m8-2h0m7-13h0m3-1h0m1 13h0m3 5h0m3-14h0m6-1h0m1-5h0"/>
<path stroke="#4BAE94" d="M1835 2487h0m8 3h0"/>
<path stroke="#A89C2F" d="M1739 2501h0m2-3h0m8 12h0m3-24h0m0 19h0m2-13h0m7 8h0"/>
<path stroke="#D355A0" d="M1661 2488h0"/>
</g>
<g fill="none" stroke-linecap="round" stroke-width="8.8" transform="scale(.5)">
<path stroke="#D6615B" d="M1561 2265h0"/>
<path stroke="#8F7CC6" d="M1921 2311h0m4-13h0m14 13h0"/>
</g>
<rect x="778.1" y="1510.7" width="37.6" height="12.7" fill="#D6615B"/>
<rect x="828.9" y="1510.7" width="39.6" height="12.7" fill="#C88A2A"/>
<rect x="868.5" y="1510.7" width="7.2" height="12.7" fill="#B266BC"/>
<rect x="875.8" y="1510.7" width="5.8" height="12.7" fill="#A89C2F"/>
<rect x="881.5" y="1510.7" width="22" height="12.7" fill="#4FAF4E"/>
<rect x="903.5" y="1510.7" width="18.5" height="12.7" fill="#41AEDD"/>
<rect x="932.1" y="1510.7" width="6.1" height="12.7" fill="#41AEDD"/>
<rect x="938.2" y="1510.7" width="8.7" height="12.7" fill="#4C94DC"/>
<rect x="946.8" y="1510.7" width="66.2" height="12.7" fill="#8F7CC6"/>
<g fill="none" stroke-linecap="round" stroke-width="8.8" transform="scale(.5)">
<path stroke="#A89C2F" d="M1736 3041h0m2-2h0m10 7h0m2-6h0m7-12h0m0 13h0"/>
<path stroke="#8F7CC6" d="M1877 3026h0m1 4h0m7-3h0m5 14h0m2-6h0m6 16h0m2-12h0m2-20h0m0 4h0m1 21h0m5-25h0m11 9h0m2 1h0m0 13h0m4-10h0m1 15h0m1-14h0m1-11h0m0 29h0m2-9h0m2-18h0m0 18h0m1-23h0m0 4h0m6 12h0m3 15h0m3-15h0m1 13h0m1-30h0m0 22h0m0 2h0m2 7h0m4-29h0m1 31h0m1-20h0m0 3h0m1-14h0m1 5h0m2 0h0m0 20h0m1-25h0m4 14h0m3 1h0m3 7h0m1-12h0m1 6h0m2-11h0m0 9h0m0 9h0m2-14h0m3 6h0m4-13h0m0 6h0m4 22h0m1-25h0m1 12h0m0 2h0m0 7h0m1-9h0m2 6h0m1-15h0m2-9h0m0 30h0m2-12h0m1-8h0m1 6h0m4 4h0m2-5h0m1-7h0m0 10h0m0 8h0m1-15h0m0 11h0m3-21h0m1 26h0m2-18h0m0 2h0m1-2h0m0 23h0m1-1h0m2-24h0m3 6h0m4-1h0m1-9h0m0 6h0m1 2h0m1 6h0m3-18h0m4 8h0m0 8h0m0 6h0m0 9h0m1-13h0m2 9h0m1-6h0m0 6h0m1-9h0m0 11h0m5-20h0m0 20h0m1-8h0"/>
<path stroke="#C88A2A" d="M1657 3039h0m0 10h0m3-6h0m0 2h0m2-18h0m1 24h0m2-7h0m1-15h0m2-4h0m1 5h0m3 3h0m2-5h0m1 18h0m1-17h0m4-9h0m0 12h0m1-13h0m1 13h0m0 3h0m1-17h0m0 8h0m4 2h0m2 17h0m3-10h0m3 6h0m1-18h0m5 24h0m1-7h0m1-22h0m1 16h0m3-12h0m1 20h0m1-15h0m0 23h0m1-3h0m0 2h0m2-13h0m0 12h0m4-21h0m1-9h0m0 28h0m4-7h0m0 1h0m0 7h0m2-19h0m1-8h0m2 5h0m0 25h0m2-25h0m2-7h0m1 7h0m0 14h0m0 4h0m0 8h0m1-28h0m1 25h0m3-20h0m4 21h0m1-22h0m8-8h0"/>
<path stroke="#D6615B" d="M1548 3026h0m2 2h0m0 19h0m2-28h0m1 12h0m0 13h0m1-18h0m2 9h0m1-3h0m0 8h0m2-21h0m1 18h0m5-15h0m2 15h0m3-9h0m1-6h0m0 16h0m3-20h0m2 8h0m1 13h0m1-14h0m0 18h0m1-23h0m1 8h0m0 11h0m0 1h0m5-23h0m1 18h0m1-8h0m1-9h0m1 21h0m2-18h0m2 2h0m3 6h0m3-1h0m1-2h0m0 4h0m0 1h0m4 4h0m4 1h0m2-6h0m0 14h0m5-9h0m4 15h0m1-11h0m4 10h0m1-30h0m0 1h0m2 18h0m2-14h0m3-3h0m1 7h0m1 14h0m2-14h0m10-6h0m3-4h0m2 33h0m1-27h0m0 2h0m1 19h0m1-26h0m0 0h0"/>
<path stroke="#D355A0" d="M1659 3039h0m8 4h0m2-16h0m0 2h0m8 2h0"/>
<path stroke="#B266BC" d="M1734 3049h0m1-12h0m3-6h0m6-2h0m9 9h0m1-14h0m6-5h0m0 9h0m2-4h0m31 4h0m11 1h0"/>
<path stroke="#4C94DC" d="M1878 3021h0m2 13h0m1-1h0m1 12h0m3-8h0m1 12h0m2-17h0m1 16h0m2-15h0m0 6h0m2-4h0"/>
<path stroke="#4FAF4E" d="M1763 3041h0m2-1h0m1 4h0m1-7h0m4-7h0m0 2h0m6 16h0m1-11h0m4-3h0m1-11h0m0 4h0m0 6h0m1-7h0m0 11h0m0 14h0m1-29h0m1 10h0m1 16h0m2-13h0m1-18h0m6 16h0m8-5h0m2-7h0m0 13h0"/>
<path stroke="#72B03C" d="M1752 3020h0m5 29h0m15-4h0m26 2h0"/>
<path stroke="#4BAE94" d="M1830 3022h0m37 15h0"/>
<path stroke="#41AEDD" d="M1807 3020h0m1 16h0m0 9h0m1-19h0m0 19h0m1-22h0m2 15h0m1-3h0m2 15h0m1-31h0m0 24h0m0 2h0m2-18h0m0 12h0m1-22h0m0 17h0m4-7h0m1 3h0m4 3h0m6-7h0m1 8h0m2 0h0m2-10h0m3 14h0m1 8h0m1 3h0m2-26h0m0 13h0m0 11h0m2 1h0m1-16h0m4 17h0m5-14h0m2-12h0m3 13h0m1 6h0m2 2h0m5-27h0m1 33h0"/>
</g>
<g fill="none" stroke-linecap="round" stroke-width="8.8" transform="scale(.5)">
<path stroke="#4FAF4E" d="M1763 3024h0m3 0h0m0 25h0m2-7h0m1 8h0m4-23h0m1 19h0m1-8h0m0 5h0m0 1h0m1 5h0m1-4h0m5-4h0m1-22h0m0 21h0m5-14h0m0 8h0m1 5h0m4-15h0m1-6h0m4 14h0m2-10h0m0 1h0m3 23h0"/>
<path stroke="#8F7CC6" d="M1875 3034h0m5-14h0m2 22h0m1-19h0m4 6h0m0 17h0m1-9h0m2-8h0m1 20h0m0 0h0m2-21h0m0 17h0m1 4h0m1-26h0m2 27h0m4-21h0m0 8h0m2 7h0m2-26h0m0 15h0m1 5h0m2-1h0m1-6h0m6 5h0m4-8h0m2 9h0m2-15h0m1 9h0m1 15h0m0 2h0m3-18h0m1-9h0m4 17h0m1-13h0m0 10h0m1 8h0m1 0h0m0 3h0m1 5h0m2-20h0m3 6h0m0 3h0m0 6h0m2-22h0m0 13h0m1 0h0m1-1h0m3-19h0m0 10h0m0 9h0m1 5h0m1-4h0m0 10h0m1-17h0m0 15h0m1-14h0m2-11h0m0 7h0m3-5h0m1 18h0m1 8h0m3-7h0m1 3h0m5-7h0m2-10h0m5-8h0m0 23h0m0 4h0m3-23h0m1-2h0m0 1h0m0 23h0m1 1h0m9-8h0m0 5h0m1 3h0m1-10h0m1-6h0m1 21h0m1-25h0m0 8h0m1-17h0m0 16h0m0 3h0m2-4h0m2-11h0m6 6h0m0 7h0m4 9h0m3-6h0m2-1h0m4-15h0m4 16h0m1-7h0m0 14h0m1-16h0m2-6h0m3 3h0m0 11h0m1-15h0m0 5h0m0 16h0m1-22h0m0 20h0m0 4h0m3-17h0m1 3h0m3 13h0m0 3h0m2-1h0m1-22h0m3 10h0m2-1h0m1-5h0"/>
<path stroke="#A89C2F" d="M1736 3049h0m3 0h0m3-9h0m0 7h0m1-3h0m7-20h0m4 11h0m2 8h0m4-11h0m2 2h0"/>
<path stroke="#C88A2A" d="M1656 3038h0m1 5h0m1-16h0m0 7h0m1-11h0m2 23h0m1-21h0m0 6h0m0 18h0m1-8h0m2-4h0m0 2h0m4-19h0m2 22h0m4 0h0m0 9h0m2-13h0m4 5h0m1-23h0m2 20h0m0 10h0m5-13h0m0 3h0m1-17h0m0 13h0m7-13h0m0 27h0m2-5h0m4-13h0m0 4h0m0 10h0m1-25h0m1 0h0m0 2h0m1-4h0m2 20h0m1-6h0m1-3h0m0 11h0m2 7h0m1-1h0m1-23h0m1 8h0m0 7h0m4-20h0m1 1h0m2 7h0m1-8h0m0 7h0m1 24h0m3 1h0m2-16h0m6 15h0"/>
<path stroke="#41AEDD" d="M1808 3050h0m1-27h0m1 27h0m1-5h0m1-12h0m1-14h0m0 15h0m1-6h0m1 8h0m1 1h0m2 1h0m3-10h0m3-7h0m2 27h0m5-24h0m2-5h0m1 23h0m1-8h0m0 6h0m2-22h0m1 1h0m0 8h0m0 21h0m2-1h0m2-18h0m1 11h0m2-1h0m3-16h0m1 9h0m3-9h0m3 28h0m2-13h0m1 13h0m1-22h0m2 2h0m1-2h0m1 18h0m3 0h0m2-16h0m0 4h0m1-7h0"/>
<path stroke="#D6615B" d="M1549 3028h0m3 3h0m1-9h0m0 15h0m2-16h0m1 25h0m1-21h0m2 7h0m0 1h0m2-13h0m1 5h0m0 4h0m0 7h0m1 3h0m2 1h0m5-2h0m6-6h0m1 4h0m0 14h0m2-20h0m1 10h0m1 3h0m2-14h0m1-7h0m4 13h0m1-2h0m1-2h0m1 11h0m2-21h0m3 29h0m7-19h0m1 3h0m2-2h0m2-5h0m0 4h0m2 8h0m6 1h0m1 2h0m2-7h0m1 10h0m2-22h0m1-1h0m0 24h0m1-6h0m2-10h0m1 0h0m2-8h0m1 24h0m1-21h0m0 22h0m4-8h0m1-13h0m1 4h0m3 13h0m1-3h0m5-16h0m1-2h0"/>
<path stroke="#72B03C" d="M1749 3046h0m4-20h0m10-5h0m1 12h0m8 6h0m0 1h0m6-9h0m2-14h0m14 1h0m6 0h0m0 20h0"/>
<path stroke="#D355A0" d="M1664 3019h0m2 24h0"/>
<path stroke="#B266BC" d="M1741 3033h0m1 18h0m1-11h0m2-19h0m0 4h0m3 24h0m4-8h0m1-13h0m9 17h0m26-22h0"/>
<path stroke="#4C94DC" d="M1877 3051h0m4-7h0m9-26h0"/>
</g>
<g fill="none" stroke-linecap="round" stroke-width="8.8" transform="scale(.5)">
<path stroke="#41AEDD" d="M1810 3047h0m1-10h0m1 14h0m2-6h0m2-7h0m1-6h0m0 5h0m1-7h0m1-7h0m1 1h0m0 23h0m2-4h0m1-2h0m2 5h0m3-8h0m3 3h0m2-19h0m0 26h0m3-4h0m7-19h0m2 10h0m1-5h0m2-1h0m3 9h0m1 7h0m2-9h0m8 12h0m3 2h0m1-17h0m2 3h0m1-12h0m0 16h0m1-3h0m0 3h0m3 6h0m1-8h0"/>
<path stroke="#4FAF4E" d="M1763 3023h0m1-2h0m0 6h0m1 17h0m1-12h0m2-11h0m1 1h0m1 0h0m0 29h0m3-18h0m7-8h0m1 3h0m3 5h0m3 7h0m5-10h0m7-7h0m2 28h0m2-23h0m2 8h0m1-2h0"/>
<path stroke="#D6615B" d="M1548 3017h0m2 21h0m1 5h0m3-12h0m1 6h0m2-12h0m0 13h0m2-13h0m1 17h0m1 7h0m4-8h0m2-16h0m1 7h0m1-9h0m1-2h0m1 11h0m1-12h0m1-2h0m1 31h0m3-27h0m0 25h0m2-11h0m0 11h0m1 3h0m2-27h0m2 4h0m4-4h0m0 8h0m3-11h0m2 30h0m1 1h0m4-28h0m1 15h0m3-11h0m0 12h0m0 6h0m3-5h0m5-23h0m1 17h0m1 15h0m1-30h0m0 29h0m1-7h0m1 7h0m1-12h0m1 5h0m1 9h0m2-30h0m3 20h0m6 5h0m1-26h0m0 7h0m0 16h0m2-24h0m0 20h0m10 1h0m4 5h0"/>
<path stroke="#8F7CC6" d="M1877 3017h0m2 1h0m6 6h0m0 27h0m1-16h0m8-18h0m1 22h0m1 1h0m3 0h0m4-20h0m1 21h0m1-7h0m2-12h0m0 4h0m1 1h0m0 14h0m1-16h0m2 23h0m4-5h0m1-3h0m1-8h0m1-5h0m0 9h0m1 11h0m1 2h0m1-23h0m1 12h0m3-15h0m3 15h0m1-8h0m0 10h0m2-15h0m2 20h0m3-8h0m3-6h0m6 1h0m0 1h0m1-2h0m2-7h0m3 20h0m1-21h0m0 16h0m0 6h0m2-21h0m1 16h0m1-21h0m0 16h0m2 16h0m1-12h0m2 8h0m1 1h0m3-29h0m0 3h0m1 17h0m1 11h0m1-18h0m3 12h0m2-23h0m0 5h0m1 25h0m2-13h0m0 12h0m1-31h0m0 24h0m1 1h0m4-22h0m3 9h0m0 20h0m1-33h0m0 11h0m2-2h0m0 2h0m1 15h0m1-1h0m2-12h0m1-10h0m2 24h0m4 2h0m0 2h0m11-5h0m4-18h0m0 4h0m2-8h0m1-4h0m1 11h0m2 11h0m2-13h0m0 20h0m1-22h0m2-3h0m0 2h0m1 10h0m1 2h0m0 14h0m3-32h0m0 18h0m1-4h0m0 15h0m0 1h0m3-4h0m1-8h0m0 1h0m1 7h0m0 7h0m1-7h0m2-19h0m1 2h0m0 8h0m0 9h0m4-4h0m0 3h0m3-16h0m0 5h0"/>
<path stroke="#C88A2A" d="M1657 3047h0m1-24h0m2 14h0m0 12h0m1-10h0m2-20h0m0 31h0m4-31h0m0 12h0m2 1h0m3-8h0m1 12h0m0 5h0m1-7h0m0 12h0m1-22h0m1 6h0m3-4h0m0 5h0m2-1h0m2-9h0m0 0h0m2 22h0m0 0h0m1-21h0m0 18h0m2-20h0m0 12h0m3 3h0m1-9h0m0 7h0m2 15h0m2-26h0m1 1h0m1 2h0m2 5h0m2 1h0m1 15h0m4 3h0m1-20h0m0 14h0m1-20h0m0 19h0m0 6h0m4-5h0m6-26h0m5 3h0m1 4h0m3-1h0m1 27h0m1-21h0m0 10h0m0 2h0m1 4h0m1-14h0m1 5h0m1-17h0m12 30h0"/>
<path stroke="#72B03C" d="M1758 3045h0m3-19h0m3 5h0m3-8h0m6 24h0m9-17h0m9 8h0m2-5h0m1 8h0m1-17h0m5 6h0m2-12h0m2 30h0m2-11h0"/>
<path stroke="#D355A0" d="M1664 3028h0m2 0h0m2-1h0m29 1h0"/>
<path stroke="#B266BC" d="M1741 3047h0m1-13h0m0 0h0m2 2h0m1-2h0m1-15h0m1 26h0m7 2h0m4-3h0m1-5h0m3 4h0m0 2h0m4 2h0"/>
<path stroke="#4BAE94" d="M1811 3049h0m18-8h0m33-1h0"/>
<path stroke="#A89C2F" d="M1740 3044h0m5-27h0m13 20h0"/>
<path stroke="#4C94DC" d="M1880 3022h0m5 23h0m4-13h0m1-3h0"/>
</g>
<g fill="none" stroke-linecap="round" stroke-width="8.8" transform="scale(.5)">
<path stroke="#8F7CC6" d="M1878 3028h0m1 5h0m1-16h0m3 28h0m3-5h0m1-7h0m3-7h0m1 1h0m4 22h0m2-15h0m1 4h0m8-3h0m1-18h0m4 6h0m2 25h0m1-31h0m0 10h0m1 1h0m1-11h0m2 16h0m2 15h0m1-11h0m1-7h0m1 21h0m3-31h0m0 0h0m1 0h0m0 16h0m0 7h0m1 1h0m2-21h0m0 10h0m1-2h0m0 20h0m1-2h0m5-15h0m8 8h0m1 1h0m4-14h0m1-9h0m2 21h0m0 5h0m2 4h0m1-24h0m3 6h0m1 9h0m0 4h0m0 4h0m1-8h0m2-16h0m0 7h0m4 2h0m1-3h0m0 16h0m2-2h0m2-14h0m2-2h0m0 5h0m3 10h0m1 7h0m1-25h0m0 13h0m0 9h0m5-1h0m2-20h0m0 21h0m1 3h0m7-28h0m3 6h0m0 2h0m2 5h0m4 2h0m0 10h0m2-21h0m0 16h0m1 7h0m3-7h0m1-17h0m5 22h0m0 0h0m3-12h0m3-8h0m1 8h0m0 0h0m1-11h0m0 3h0m1-9h0m0 16h0m1-5h0m0 21h0m1-28h0m0 9h0m0 5h0m3-3h0m1-5h0m0 4h0m1 11h0m2-16h0m1-11h0m1 13h0m0 12h0m2-9h0m1 1h0m0 3h0m0 6h0m1-18h0m2 22h0m3 0h0m2-26h0m0 6h0m7 15h0"/>
<path stroke="#D6615B" d="M1550 3041h0m1-12h0m1 16h0m5-11h0m0 5h0m2-3h0m4-17h0m0 23h0m2 6h0m1-10h0m1-16h0m1 1h0m1 2h0m1-2h0m1 26h0m1-31h0m0 5h0m0 7h0m1-4h0m1 5h0m0 14h0m1-19h0m3 16h0m1-10h0m2-3h0m1-11h0m2 10h0m0 11h0m0 1h0m1 3h0m0 0h0m1-20h0m0 6h0m1 18h0m1-5h0m1-19h0m2-2h0m2 16h0m5 10h0m3-25h0m0 12h0m0 13h0m2-18h0m2 2h0m4-12h0m0 13h0m3 0h0m0 9h0m2-9h0m2-1h0m0 1h0m1-7h0m0 20h0m1-25h0m0 4h0m2 8h0m3-4h0m0 3h0m3 17h0m1-12h0m0 15h0m1-34h0m0 34h0m1-15h0m1-15h0m0 29h0m2-1h0m4-21h0m5 1h0m5 0h0m4 11h0m4-22h0m1 6h0"/>
<path stroke="#41AEDD" d="M1810 3037h0m1-11h0m1 24h0m4-11h0m0 4h0m1-1h0m0 4h0m1-16h0m3-5h0m5 7h0m3 0h0m2-1h0m0 1h0m1-1h0m5-7h0m0 26h0m1-25h0m2 7h0m1 10h0m1-20h0m0 11h0m5 5h0m4-10h0m2 13h0m1-22h0m2-1h0m0 3h0m4 16h0m1 10h0m2-12h0m1-17h0m0 9h0m1-10h0m0 11h0m2-10h0m0 4h0m3 25h0m2-19h0m0 14h0m1 0h0m0 7h0"/>
<path stroke="#C88A2A" d="M1658 3041h0m1 2h0m1-26h0m0 33h0m5-2h0m1-23h0m0 9h0m0 5h0m1 7h0m4-24h0m2 3h0m3 4h0m0 10h0m1-8h0m2-14h0m0 15h0m3-11h0m0 7h0m3 0h0m0 19h0m1-28h0m1 14h0m1 0h0m2-10h0m8 24h0m0 2h0m3-11h0m3-13h0m0 23h0m1 1h0m2-23h0m4 20h0m1-20h0m0 8h0m0 16h0m1-3h0m1 3h0m1-17h0m2 8h0m6 1h0m1 2h0m3-18h0m0 17h0m1-15h0m2 8h0m2-12h0m0 18h0m0 9h0m1-11h0m1-8h0m0 12h0m2-10h0m6 13h0"/>
<path stroke="#D355A0" d="M1665 3025h0"/>
<path stroke="#4FAF4E" d="M1768 3038h0m0 7h0m5-17h0m0 22h0m5 0h0m2-31h0m1 16h0m1-4h0m0 0h0m1 14h0m1-21h0m0 27h0m2-13h0m0 12h0m2-26h0m0 27h0m6-15h0m4-17h0m1 6h0m1 19h0m1-16h0m0 10h0m4-2h0"/>
<path stroke="#B266BC" d="M1737 3029h0m5 12h0m1 8h0m3-27h0m0 22h0m5-4h0m0 10h0m1-17h0m8 17h0m3-10h0"/>
<path stroke="#72B03C" d="M1761 3022h0m3-2h0m7 31h0m16-7h0m14 0h0m5-20h0"/>
<path stroke="#4C94DC" d="M1885 3049h0m2-25h0m0 5h0m3 10h0"/>
<path stroke="#A89C2F" d="M1740 3034h0m22 3h0"/>
<path stroke="#4BAE94" d="M1825 3030h0"/>
</g>
<g fill="none" stroke-linecap="round" stroke-width="8.8" transform="scale(.5)">
<path stroke="#D6615B" d="M1561 2696h0m1-26h0m2-51h0m45 46h0m43 125h0"/>
<path stroke="#B266BC" d="M1733 2783h0m8-123h0m2 110h0m11-117h0"/>
<path stroke="#72B03C" d="M1767 2795h0m10-99h0"/>
<path stroke="#A89C2F" d="M1763 2704h0"/>
<path stroke="#C88A2A" d="M1696 2771h0m6 2h0m22 12h0m4-79h0"/>
<path stroke="#4FAF4E" d="M1771 2786h0m1-14h0m6 0h0m1-58h0"/>
<path stroke="#4C94DC" d="M1882 2655h0"/>
<path stroke="#41AEDD" d="M1814 2766h0m51-70h0"/>
<path stroke="#8F7CC6" d="M1913 2692h0m65 101h0m1-101h0m3 83h0m3 13h0m6-11h0m9-7h0m7 17h0"/>
<path stroke="#D355A0" d="M1668 2774h0m9 19h0m37-11h0m53-4h0"/>
</g>
<path d="M774.8 1039.2L778 1200L778.9 1248.4H1027.1" fill="none" stroke="#000" stroke-width="1.7" stroke-linejoin="miter"/>
<path d="M775.3 1517H1025.6" fill="none" stroke="#000" stroke-width="1.6"/>
<path d="M762.5 1028.8V1265.8M762.5 1298.8V1536.6H1037.7" fill="none" stroke="#2b2826" stroke-width="1.4"/>
<path d="M762.5 1061.2h-4M762.5 1155h-4M762.5 1248.4h-4M762.5 1329.6h-4M762.5 1390.2h-4M762.5 1456.6h-4M762.5 1517h-4M774.6 1536.6v4M846.9 1536.6v4M919.1 1536.6v4M991.4 1536.6v4" fill="none" stroke="#2b2826" stroke-width="1.3"/>
<g font-family="'Liberation Serif', 'Times New Roman', serif" font-size="27.2" fill="#3a4040" stroke="#3a4040" stroke-width="0.3">
<text transform="translate(754.5 1070.6) scale(.94 1)" text-anchor="end">10.0</text>
<text transform="translate(754.5 1164.4) scale(.94 1)" text-anchor="end">1.0</text>
<text transform="translate(754.5 1257.8) scale(.94 1)" text-anchor="end">0.1</text>
<text transform="translate(754.5 1339) scale(.94 1)" text-anchor="end">3.0</text>
<text transform="translate(754.5 1399.6) scale(.94 1)" text-anchor="end">1.0</text>
<text transform="translate(754.5 1466) scale(.94 1)" text-anchor="end">0.3</text>
<text transform="translate(754.5 1526.4) scale(.94 1)" text-anchor="end">0.1</text>
<text transform="translate(774.6 1561.2) scale(.94 1)" text-anchor="middle">0.0</text>
<text transform="translate(846.9 1561.2) scale(.94 1)" text-anchor="middle">2.5</text>
<text transform="translate(919.1 1561.2) scale(.94 1)" text-anchor="middle">5.0</text>
<text transform="translate(991.4 1561.2) scale(.94 1)" text-anchor="middle">7.5</text>
</g>
<g font-family="'Liberation Sans', Arial, Helvetica, sans-serif" font-size="13" fill="#1a1a1a" text-anchor="middle">
<text x="900.1" y="1020.8">ERCC6L</text>
<text x="900.1" y="1290.8">MYB</text>
</g>
<g font-family="'Liberation Serif', 'Times New Roman', serif" font-size="32" font-weight="bold" fill="#000" text-anchor="middle">
<text x="901.1" y="1592">Pseudo−time</text>
<text transform="translate(699.5 1282) rotate(-90)">Relative Expression</text>
</g>
<g font-family="'Liberation Serif', 'Times New Roman', serif" font-weight="bold" fill="#000">
<text x="1061.5" y="1149.5" font-size="29">State</text>
<circle cx="1074.3" cy="1173.5" r="2.1" fill="#D6615B"/>
<text x="1094.5" y="1182.5" font-size="27">1</text>
<circle cx="1074.3" cy="1198.6" r="2.1" fill="#C88A2A"/>
<text x="1094.5" y="1207.6" font-size="27">2</text>
<circle cx="1074.3" cy="1223.7" r="2.1" fill="#A89C2F"/>
<text x="1094.5" y="1232.7" font-size="27">3</text>
<circle cx="1074.3" cy="1248.8" r="2.1" fill="#72B03C"/>
<text x="1094.5" y="1257.8" font-size="27">4</text>
<circle cx="1074.3" cy="1273.9" r="2.1" fill="#4FAF4E"/>
<text x="1094.5" y="1282.9" font-size="27">5</text>
<circle cx="1074.3" cy="1299" r="2.1" fill="#4BAE94"/>
<text x="1094.5" y="1308" font-size="27">6</text>
<circle cx="1074.3" cy="1324.1" r="2.1" fill="#41AEDD"/>
<text x="1094.5" y="1333.1" font-size="27">7</text>
<circle cx="1074.3" cy="1349.2" r="2.1" fill="#4C94DC"/>
<text x="1094.5" y="1358.2" font-size="27">8</text>
<circle cx="1074.3" cy="1374.3" r="2.1" fill="#8F7CC6"/>
<text x="1094.5" y="1383.3" font-size="27">9</text>
<circle cx="1074.3" cy="1399.4" r="2.1" fill="#B266BC"/>
<text x="1094.5" y="1408.4" font-size="27">10</text>
<circle cx="1074.3" cy="1424.5" r="2.1" fill="#D355A0"/>
<text x="1094.5" y="1433.5" font-size="27">11</text>
</g>
<rect x="1249.5" y="1243.7" width="8.1" height="9.5" fill="#55ACB7"/>
<rect x="1300.3" y="1243.7" width="93.1" height="9.5" fill="#55ACB7"/>
<rect x="1403.5" y="1243.7" width="69.4" height="9.5" fill="#55ACB7"/>
<g fill="none" stroke-linecap="round" stroke-width="8.8" transform="scale(.5)">
<path stroke="#55ACB7" d="M2491 2497h0m1-9h0m4-3h0m0 25h0m3-25h0m1 16h0m3 6h0m2-19h0m2 19h0m1-20h0m0 8h0m1 0h0m0 2h0m1 13h0m1-21h0m0 4h0m0 4h0m0 13h0m1-11h0m2 7h0m1-9h0m1-4h0m4 11h0m1-15h0m1 9h0m1 6h0m1-20h0m0 10h0m1-3h0m0 12h0m3-19h0m5 1h0m0 9h0m2-3h0m1 5h0m1 15h0m1-23h0m2 13h0m2 5h0m3-16h0m0 6h0m1-13h0m0 15h0m5-11h0m0 7h0m0 12h0m2-9h0m1-12h0m0 9h0m1 10h0m6 0h0m5-15h0m4 18h0m1-11h0m2-12h0m1 10h0m0 3h0m5-9h0m0 8h0m0 5h0m19-3h0m2-13h0m0 3h0m3-1h0m3 2h0m2 21h0m1-10h0m1-5h0m1 2h0m1-7h0m0 2h0m0 0h0m0 14h0m1-4h0m0 1h0m1-4h0m2-1h0m0 1h0m2 1h0m0 10h0m1-18h0m0 1h0m0 7h0m0 7h0m1-18h0m1 16h0m1 5h0m2-20h0m2 13h0m5-10h0m1-3h0m3 5h0m1 13h0m2-10h0m2-8h0m4 1h0m6 7h0m0 11h0m1-7h0m1-6h0m0 1h0m2 4h0m2-15h0m1 18h0m1-2h0m14-12h0m0 11h0m4-4h0m0 13h0m1-10h0m0 9h0m2-24h0m0 14h0m1-15h0m0 10h0m4 5h0m1 6h0m2-2h0m2-10h0m1 5h0m1-5h0m1-4h0m0 13h0m1-15h0m0 23h0m1-27h0m2 3h0m0 10h0m2 10h0m3-18h0m3 20h0m1-15h0m1 17h0m3-24h0m0 4h0m1 0h0m0 5h0m0 11h0m2-21h0m0 4h0m0 12h0m1-14h0m1 10h0m3 10h0m2 4h0m2-23h0m1 6h0m1 6h0m4-9h0m3-4h0m2 0h0m0 11h0m5-14h0m4 13h0m1-9h0m0 2h0m0 10h0m2 8h0m0 1h0m1-22h0m1 19h0m1-10h0m4-11h0m0 6h0m1 14h0m1-20h0m0 22h0m2-11h0m0 2h0m0 11h0m1 1h0m1-16h0m0 6h0m1 0h0m0 2h0m0 9h0m1-23h0m5-4h0m0 9h0m2 10h0m3-5h0m2 0h0m0 4h0m1-19h0m2 15h0m0 13h0m1-21h0m0 12h0m5-16h0m0 17h0m1-14h0m0 19h0m5-13h0m3-9h0m3-1h0m2 15h0m2-3h0m4 8h0m5-17h0m3 7h0m1 2h0m2-13h0m0 25h0m3-4h0m1 1h0m2-7h0m1 2h0m2-13h0m3 7h0m1 11h0m6-11h0m6 4h0m2 8h0m1 1h0m5-7h0m2-3h0m4 8h0m3-22h0m0 13h0m2 9h0m4-7h0m1 2h0m2-17h0m0 9h0m8-5h0m0 9h0m1 10h0m1-23h0m0 3h0m0 5h0m0 3h0m4 15h0m3-18h0m0 9h0m0 5h0m1-11h0m0 1h0m1 6h0m1-1h0m2-11h0m3 11h0m2 7h0m2-5h0m3 1h0m1-8h0m2-11h0m2 3h0m1 18h0m3-11h0m1-11h0m2 19h0m2 6h0m2-5h0m2 6h0m5-27h0m0 2h0m2 2h0m1 0h0m2 17h0m2-8h0m0 4h0m2 7h0m0 2h0m1-3h0m1-14h0m0 2h0m1-11h0m0 9h0m3 3h0m5-6h0m1 3h0m0 17h0m1 2h0m2-11h0m0 10h0m1-19h0m2 10h0m3-2h0m2-7h0m2-4h0m1 23h0m1-21h0m2 5h0m1 12h0m1-18h0m7 0h0m3 3h0m0 17h0m3-23h0m12 5h0m7 0h0"/>
<path stroke="#D4554F" d="M2493 2485h0m32 10h0m7 4h0m4 9h0m15-7h0m1 1h0m2-12h0m4 14h0m3 5h0m1-8h0m3-2h0m2 4h0m6 0h0m0 7h0m164-13h0m91-8h0m129 10h0m4 4h0m2 5h0m2 0h0m4-20h0m0 12h0m1-16h0m1 12h0m1 0h0m2 2h0m0 1h0m1-7h0m1 4h0m2-12h0m0 5h0m5-3h0m3 0h0m5 3h0"/>
</g>
<g fill="none" stroke-linecap="round" stroke-width="8.8" transform="scale(.5)">
<path stroke="#55ACB7" d="M2492 2496h0m1 4h0m1-8h0m2 13h0m4-18h0m1 2h0m1-6h0m2 9h0m0 11h0m2 4h0m1-7h0m0 6h0m1-22h0m0 11h0m3 15h0m3-27h0m0 17h0m2-5h0m5 6h0m7-17h0m1 14h0m1-2h0m0 12h0m2-16h0m6 5h0m4 0h0m0 6h0m4-14h0m2-1h0m1-3h0m0 8h0m1-5h0m7 3h0m0 4h0m1-5h0m0 18h0m2-24h0m0 3h0m0 23h0m2-4h0m3 2h0m1-25h0m13 20h0m1-13h0m2-1h0m8 3h0m2 1h0m4-10h0m0 28h0m2-19h0m0 12h0m1-19h0m0 11h0m1-13h0m2 2h0m2 22h0m1-15h0m1 4h0m1 12h0m1-20h0m1 1h0m1-5h0m0 7h0m0 2h0m2 1h0m1 7h0m1 5h0m1-23h0m0 15h0m5-3h0m1-4h0m0 1h0m2-4h0m3 5h0m1 11h0m1-10h0m0 2h0m1 4h0m4 9h0m3-13h0m1 11h0m1 0h0m1-12h0m1 8h0m2-9h0m0 2h0m1 4h0m0 8h0m3-21h0m3-3h0m3 15h0m0 2h0m1-2h0m2 3h0m1-14h0m2 10h0m0 3h0m1-6h0m0 11h0m1-13h0m0 4h0m5-14h0m0 10h0m1-8h0m1 6h0m1 14h0m1 3h0m6 0h0m1-16h0m2 0h0m0 1h0m1-3h0m0 16h0m1-10h0m1 14h0m1-3h0m1-5h0m2-11h0m0 2h0m2 4h0m1 11h0m1-15h0m1-8h0m0 23h0m2 0h0m1-13h0m1-9h0m1 14h0m1 6h0m1-17h0m1-5h0m2 1h0m0 2h0m0 3h0m0 6h0m2 4h0m3-9h0m0 3h0m0 7h0m4-12h0m3 1h0m0 17h0m1-19h0m1 3h0m1 2h0m3 15h0m1-11h0m1-1h0m1-11h0m0 12h0m1 1h0m4 3h0m2-9h0m1 17h0m4-25h0m0 11h0m2-11h0m0 25h0m2-26h0m0 20h0m1-19h0m4 14h0m1 0h0m2-3h0m6 1h0m1-13h0m0 9h0m0 10h0m5-12h0m0 13h0m2 6h0m2-22h0m2 18h0m1-12h0m0 18h0m1-20h0m1 3h0m0 0h0m2-10h0m2 8h0m1-5h0m2 1h0m0 4h0m0 18h0m1-16h0m2-9h0m1 25h0m3-4h0m1-21h0m4 5h0m0 10h0m1 7h0m2-1h0m1-23h0m0 24h0m2-22h0m0 21h0m7 4h0m2-18h0m3-7h0m0 4h0m4 6h0m0 1h0m3-10h0m1 19h0m2 4h0m3-16h0m0 10h0m2 7h0m1-17h0m2-3h0m3-1h0m0 21h0m1-18h0m3-8h0m4 0h0m0 4h0m0 6h0m2-8h0m0 1h0m0 6h0m1-4h0m1 15h0m0 6h0m1-16h0m0 13h0m1-11h0m4 2h0m5-10h0m0 8h0m2 5h0m1-17h0m0 16h0m1-15h0m1 14h0m2-7h0m1-6h0m2 12h0m3 5h0m2-16h0m2 3h0m2 14h0m2-1h0m2-7h0m0 7h0m2-9h0m1-7h0m0 12h0m8-12h0m0 9h0m6 0h0m2 9h0m5-19h0m0 2h0m3 16h0m3 4h0m1-19h0m3-4h0m5 22h0m4 2h0m2 0h0m0 1h0m2-4h0m1-4h0m2-13h0m2 6h0m0 7h0m1-1h0m1-17h0m0 14h0m6-9h0m1 2h0m0 4h0m1 1h0m1-10h0m0 0h0m5 11h0m0 2h0m6-6h0m1 0h0m0 6h0m0 1h0m7-11h0m1 2h0m3 16h0m5 3h0m6-25h0m2 6h0m9 5h0m1-12h0m2 5h0m15-2h0"/>
<path stroke="#D4554F" d="M2517 2508h0m6-3h0m2-21h0m4 0h0m1 19h0m13 6h0m4-4h0m2 6h0m5-17h0m4 15h0m9 0h0m13-23h0m17 13h0m23 6h0m25-21h0m79 3h0m4 19h0m156-22h0m3 25h0m77-23h0m0 9h0m3 3h0m2-10h0m7 22h0m2-22h0m1 3h0m1-7h0m2 15h0m2-4h0m0 7h0m2 0h0m4-12h0m5-4h0"/>
</g>
<g fill="none" stroke-linecap="round" stroke-width="8.8" transform="scale(.5)">
<path stroke="#55ACB7" d="M2491 2506h0m3 3h0m3-18h0m0 8h0m0 3h0m0 4h0m0 2h0m4 0h0m1-18h0m6 3h0m1 11h0m3-17h0m4 21h0m1-24h0m6 24h0m5-11h0m2 2h0m0 2h0m1-5h0m4 1h0m3 3h0m0 7h0m1-9h0m0 9h0m1-21h0m3-2h0m5 5h0m1 9h0m3 4h0m0 6h0m1-23h0m0 8h0m2 9h0m6-15h0m0 1h0m0 15h0m2-15h0m0 17h0m1-20h0m0 13h0m0 12h0m3-26h0m1 17h0m2-17h0m5 8h0m13 7h0m10-16h0m4 5h0m1-2h0m2 21h0m1-18h0m1 15h0m1-13h0m3-7h0m0 27h0m1-12h0m0 3h0m1 0h0m2-19h0m0 18h0m2-8h0m1 16h0m1-5h0m1-6h0m0 10h0m5-16h0m1-3h0m1 14h0m1-3h0m2-16h0m0 4h0m0 17h0m1-1h0m1-21h0m0 15h0m1-2h0m1 3h0m3-7h0m0 15h0m2-14h0m2 1h0m1-5h0m5 6h0m1 1h0m1 4h0m1 9h0m1 1h0m2-8h0m1 7h0m1-13h0m4-3h0m1 0h0m1-2h0m2-7h0m1 8h0m0 1h0m1 0h0m3-1h0m0 15h0m2-1h0m3 1h0m1-19h0m1 15h0m7-17h0m0 8h0m6-8h0m4 2h0m0 4h0m0 14h0m3-5h0m5 5h0m1-23h0m1 4h0m0 1h0m1 1h0m1 9h0m1-5h0m1 11h0m5 1h0m2 2h0m4-11h0m1-4h0m0 14h0m1 1h0m1-3h0m1 1h0m2-11h0m2 8h0m1-11h0m0 3h0m0 12h0m1-3h0m0 6h0m2-18h0m1 19h0m1-13h0m1 0h0m4-4h0m7-2h0m0 6h0m0 10h0m2-20h0m0 7h0m3 5h0m0 3h0m2 0h0m1 1h0m0 1h0m0 2h0m1-20h0m2 22h0m1-4h0m4-2h0m1-5h0m1 1h0m1-7h0m0 18h0m1-18h0m0 5h0m0 15h0m13-27h0m1 2h0m0 9h0m1 0h0m0 13h0m1-2h0m2 5h0m3-21h0m2 5h0m2 15h0m8-12h0m6-5h0m6-9h0m4 17h0m2 1h0m1 0h0m1-3h0m1-3h0m1-13h0m1 18h0m1-14h0m1 2h0m0 20h0m2-17h0m0 18h0m2-18h0m0 11h0m0 7h0m1-19h0m0 3h0m3 15h0m1-20h0m2 11h0m1 4h0m1-3h0m0 5h0m1-11h0m7-11h0m0 11h0m2 4h0m0 2h0m3-12h0m1 0h0m0 3h0m0 5h0m0 1h0m2-11h0m1-4h0m0 8h0m0 3h0m3-3h0m0 15h0m0 5h0m3-19h0m1 14h0m2-20h0m0 15h0m1-11h0m0 3h0m2 5h0m0 3h0m2 9h0m1-2h0m1-15h0m0 15h0m1-22h0m0 22h0m3-6h0m1 4h0m2-9h0m5-14h0m3 0h0m3 9h0m6 3h0m1 9h0m4-14h0m1 4h0m5 3h0m2 0h0m0 7h0m0 3h0m1-17h0m1 5h0m6 3h0m2 2h0m4-9h0m2-4h0m0 8h0m2 8h0m0 3h0m1-19h0m0 4h0m2 3h0m1 2h0m2-8h0m0 8h0m3-10h0m0 24h0m2-20h0m1 20h0m4-25h0m0 21h0m1-8h0m0 6h0m2-18h0m0 8h0m1-6h0m4-1h0m2 6h0m0 4h0m4 4h0m0 5h0m14-9h0m0 6h0m1-8h0m10 7h0m6-10h0m3 9h0m2 3h0"/>
<path stroke="#D4554F" d="M2512 2506h0m8 2h0m2-1h0m4 2h0m2-5h0m10-5h0m6-1h0m3-14h0m18 5h0m23 13h0m20-12h0m41 5h0m100 9h0m83-12h0m63 2h0m28-2h0m26-9h0m0 21h0m9-15h0m4-1h0m0 15h0m2-5h0m1-2h0m1-9h0m0 13h0m1-9h0m0 0h0m1 13h0m1-20h0m0 14h0m0 6h0m1-6h0m0 11h0m2-26h0m0 9h0m1 5h0m1 10h0m1-24h0m0 17h0m0 0h0m0 4h0m0 2h0m4 4h0m3-21h0m0 17h0m3-5h0"/>
</g>
<g fill="none" stroke-linecap="round" stroke-width="8.8" transform="scale(.5)">
<path stroke="#D4554F" d="M2516 2504h0m1 3h0m9-7h0m7 9h0m13-24h0m1 18h0m7-2h0m7-1h0m7 8h0m4-12h0m0 6h0m141-12h0m5 12h0m115-14h0m59 5h0m12-9h0m14 23h0m30-20h0m13 12h0m2-3h0m2 13h0m1-14h0m1 15h0m1-8h0m2-12h0m1-6h0m1 24h0m1 2h0m1-14h0m0 9h0m2-21h0m0 8h0m0 0h0m0 9h0m1-14h0m0 7h0m0 5h0m0 8h0m1-24h0m2 0h0m0 20h0m2-7h0m2 2h0m10 1h0"/>
<path stroke="#55ACB7" d="M2495 2510h0m6-7h0m2 1h0m3-20h0m0 19h0m2 7h0m2-22h0m0 13h0m1 0h0m1-10h0m3-2h0m0 3h0m2 2h0m7 3h0m0 0h0m1 2h0m2 0h0m0 9h0m4-25h0m8 25h0m1-25h0m1 0h0m0 17h0m1-17h0m0 14h0m4 4h0m0 6h0m1-20h0m0 0h0m1 10h0m3-11h0m5 6h0m2 9h0m1 6h0m0 1h0m4-13h0m2-6h0m2 12h0m2-12h0m3-3h0m0 14h0m6 2h0m5-9h0m2 1h0m2 8h0m1-7h0m2-12h0m1 6h0m0 2h0m0 16h0m3-2h0m2-17h0m3 20h0m2-1h0m0 4h0m2-18h0m0 7h0m0 0h0m1-13h0m0 17h0m1-21h0m5 1h0m2 4h0m0 18h0m2-20h0m0 9h0m3-8h0m2 14h0m1 4h0m3-15h0m0 5h0m0 7h0m6-3h0m1 11h0m2-21h0m2 12h0m0 2h0m1-17h0m5 22h0m1-22h0m0 19h0m3 2h0m6-16h0m0 5h0m1 0h0m2 10h0m1-1h0m1-12h0m4-7h0m0 18h0m1-20h0m1 25h0m2-13h0m1-3h0m2 12h0m2-12h0m0 2h0m1-10h0m0 4h0m1 21h0m10-18h0m0 17h0m1-24h0m0 14h0m0 8h0m0 1h0m3-4h0m2 2h0m2-19h0m0 8h0m4-1h0m1 4h0m2 13h0m1-20h0m1 3h0m7-1h0m0 17h0m1-15h0m3 2h0m4 2h0m1 11h0m1-6h0m1-11h0m1-6h0m2 2h0m0 2h0m3 7h0m1-14h0m2 22h0m2-12h0m0 3h0m1 3h0m3-12h0m1 22h0m1-13h0m3 7h0m1-14h0m0 13h0m0 3h0m2-20h0m0 21h0m2 3h0m1-16h0m0 10h0m1 2h0m1-3h0m0 3h0m2 4h0m4 0h0m1-10h0m1-9h0m2 4h0m0 14h0m1-24h0m0 12h0m0 12h0m1-10h0m3-16h0m1 25h0m1-23h0m0 9h0m1 7h0m1-6h0m3-6h0m4 9h0m0 7h0m1-10h0m1 7h0m3 1h0m0 3h0m4-11h0m1 14h0m2-9h0m4 8h0m2-24h0m14 13h0m2-1h0m2 12h0m1-22h0m1-1h0m0 25h0m1-24h0m2 6h0m1-6h0m0 14h0m3-15h0m1 5h0m0 9h0m1-4h0m0 14h0m1-17h0m5 3h0m3 5h0m2-9h0m1 14h0m4 4h0m1-16h0m1 3h0m5 4h0m1 10h0m1-11h0m1 7h0m1-17h0m0 6h0m3-1h0m0 10h0m2-20h0m0 14h0m0 6h0m1-9h0m1 16h0m2-8h0m1-13h0m1-4h0m7 15h0m1-10h0m0 1h0m3-4h0m0 9h0m3-10h0m2 12h0m0 11h0m4-25h0m0 17h0m0 5h0m3-18h0m0 5h0m2-2h0m5-1h0m2-1h0m1-5h0m0 1h0m1 7h0m2 10h0m1 7h0m2-3h0m3-24h0m1 2h0m0 3h0m0 4h0m0 10h0m1-1h0m1-14h0m0 21h0m1 2h0m1-5h0m3 1h0m1-12h0m3-11h0m0 22h0m1-19h0m1 3h0m2-2h0m1 17h0m1 7h0m1-20h0m2-4h0m3 9h0m0 4h0m2-5h0m0 15h0m1-14h0m1 10h0m2-20h0m2 13h0m1-7h0m0 1h0m2 1h0m1-11h0m0 6h0m0 21h0m1-18h0m1-9h0m7 14h0m1 1h0m5 2h0m0 6h0m9-11h0m4-5h0m8-5h0m5 14h0"/>
</g>
<g fill="none" stroke-linecap="round" stroke-width="8.8" transform="scale(.5)">
<path stroke="#D4554F" d="M2505 2248h0m361 50h0m4 1h0m12 17h0"/>
</g>
<rect x="1249.5" y="1510.7" width="8.1" height="12.7" fill="#55ACB7"/>
<rect x="1300.3" y="1510.7" width="93.1" height="12.7" fill="#55ACB7"/>
<rect x="1403.5" y="1510.7" width="69.4" height="12.7" fill="#55ACB7"/>
<g fill="none" stroke-linecap="round" stroke-width="8.8" transform="scale(.5)">
<path stroke="#55ACB7" d="M2491 3023h0m3 11h0m1 5h0m1 9h0m1-25h0m3 28h0m2-28h0m0 26h0m3-32h0m1 20h0m0 7h0m2-21h0m0 8h0m0 16h0m4-15h0m2 16h0m3-31h0m2 19h0m2-6h0m6 17h0m0 1h0m2-4h0m2 3h0m3-23h0m2-5h0m2 2h0m1 9h0m5-11h0m2 28h0m2-23h0m4 1h0m2-1h0m2 3h0m1 3h0m0 2h0m1-14h0m0 10h0m3-7h0m2 11h0m1 4h0m1 7h0m4-10h0m0 9h0m4-5h0m1 6h0m4-8h0m3 0h0m4 5h0m2 8h0m11-7h0m2-20h0m0 25h0m2-27h0m1 14h0m1 0h0m3 4h0m0 1h0m0 13h0m7-27h0m1 13h0m1 9h0m2 4h0m2-28h0m1 21h0m2-16h0m1 9h0m2-5h0m0 6h0m1 12h0m2-10h0m1-8h0m3-7h0m0 1h0m1 23h0m2-1h0m2-14h0m0 2h0m2-13h0m1-4h0m1 27h0m2-21h0m1 15h0m1-8h0m1-1h0m2-10h0m1 1h0m1-2h0m0 27h0m1-7h0m2-13h0m0 7h0m0 7h0m2-10h0m2-9h0m1 10h0m1-5h0m1 12h0m0 1h0m3 11h0m2-26h0m0 26h0m2-29h0m3 4h0m2 10h0m0 12h0m4-22h0m0 6h0m1 18h0m2-4h0m1-5h0m2 5h0m1-21h0m3 25h0m1-16h0m0 17h0m1-12h0m7 11h0m2-1h0m1-14h0m4-2h0m1-14h0m3 25h0m1-19h0m1 11h0m3-11h0m1 14h0m0 8h0m1-27h0m0 16h0m6-17h0m3 11h0m1-11h0m0 3h0m1-1h0m0 4h0m2 18h0m2-21h0m0 27h0m2-31h0m1 19h0m1-17h0m1 22h0m0 7h0m1-15h0m0 10h0m1-21h0m1 7h0m2-2h0m1 14h0m1 0h0m4-19h0m1 18h0m0 9h0m1-15h0m0 1h0m1-4h0m0 0h0m0 14h0m0 1h0m1-16h0m3-8h0m3-1h0m3 28h0m1-2h0m4-26h0m2 0h0m2 18h0m1-9h0m1 14h0m2 2h0m2-27h0m0 28h0m2-12h0m0 4h0m1-18h0m4 17h0m3 8h0m1-2h0m1-18h0m5 8h0m2-1h0m1-7h0m0 18h0m1-3h0m1 9h0m7-32h0m3 22h0m2-4h0m2-12h0m0 13h0m1 0h0m1-11h0m4 2h0m1 7h0m4-7h0m1 16h0m2-13h0m1 1h0m4 17h0m1-15h0m1-4h0m0 20h0m1-30h0m3 22h0m2-10h0m1-12h0m0 3h0m0 20h0m6-18h0m0 18h0m2-26h0m1 14h0m1 0h0m2 0h0m1-14h0m0 7h0m2-6h0m2 6h0m0 20h0m1-25h0m0 30h0m2-8h0m5-19h0m3 27h0m1-12h0m2 4h0m0 8h0m8-21h0m1 20h0m2-21h0m2 21h0m2-27h0m0 3h0m0 12h0m1 11h0m1-1h0m1-18h0m0 5h0m2-4h0m0 0h0m2 5h0m1-16h0m8 15h0m1 14h0m1-14h0m1-3h0m2 4h0m3 9h0m3-13h0m1 19h0m6-11h0m3 7h0m1-8h0m0 13h0m1-6h0m2-4h0m1 7h0m1-25h0m0 22h0m0 2h0m1-27h0m0 23h0m2-8h0m6 16h0m2-6h0m1 4h0m2-15h0m1-3h0m1 9h0m1-21h0m3 13h0m2 8h0m0 8h0m2-29h0m1 22h0m3 9h0m2-21h0m16 11h0m2 6h0m2-24h0m10 16h0m2-13h0"/>
<path stroke="#D4554F" d="M2528 3040h0m10 10h0m1-13h0m7-14h0m0 16h0m0 3h0m1-14h0m4 9h0m0 4h0m1 5h0m2-13h0m0 5h0m4 8h0m3 3h0m5-13h0m4 15h0m1-13h0m3-6h0m95-14h0m12 31h0m81-17h0m166 6h0m3-12h0m21 15h0m11-20h0m7 6h0m0 10h0m0 3h0m0 6h0m2-11h0m1 5h0m2 0h0m3-16h0m1 22h0m2-10h0m1-15h0m0 21h0m3-19h0m0 5h0m0 13h0m0 0h0m3-7h0m6 3h0"/>
</g>
<g fill="none" stroke-linecap="round" stroke-width="8.8" transform="scale(.5)">
<path stroke="#55ACB7" d="M2490 3025h0m1 26h0m5-24h0m1 19h0m1-10h0m0 4h0m5 0h0m0 9h0m2-3h0m3-19h0m1-3h0m0 24h0m3-6h0m1 2h0m1-3h0m1-24h0m1 28h0m3-20h0m0 5h0m0 3h0m4-16h0m4 31h0m6-11h0m0 11h0m1-4h0m2-15h0m1 1h0m0 12h0m3-17h0m7 8h0m2 0h0m0 9h0m5-19h0m1 13h0m5-19h0m2 11h0m1 2h0m3 21h0m6-16h0m0 2h0m1-18h0m1 0h0m1 12h0m2-8h0m3-4h0m0 14h0m3-7h0m0 21h0m1 3h0m2-26h0m1 18h0m3-21h0m2 28h0m2 1h0m3-30h0m1 13h0m1-5h0m1 14h0m0 2h0m1-25h0m0 7h0m1 7h0m3-14h0m0 2h0m2 1h0m1 19h0m3-18h0m3 24h0m2-14h0m2-9h0m1 23h0m1-2h0m1 6h0m3-17h0m1-8h0m0 21h0m1-24h0m2 9h0m1 2h0m0 2h0m2-17h0m0 1h0m1 23h0m4-11h0m0 9h0m0 7h0m1-2h0m3-8h0m1 1h0m1-3h0m6-12h0m3 22h0m4-19h0m1 23h0m2-25h0m0 14h0m0 5h0m1-19h0m2 1h0m4 17h0m1-4h0m1-11h0m3 2h0m0 9h0m1-10h0m0 3h0m3-10h0m3 28h0m3-18h0m4-12h0m4 19h0m1-22h0m0 11h0m0 17h0m0 1h0m0 2h0m0 1h0m1-30h0m0 17h0m1-12h0m0 18h0m1 0h0m2 9h0m4-25h0m1 19h0m2 5h0m2-3h0m7-28h0m0 9h0m1-4h0m3 25h0m3-26h0m1 8h0m1-3h0m2-1h0m1 5h0m2 13h0m2-16h0m3-8h0m0 6h0m3 16h0m4 1h0m3-14h0m0 5h0m0 10h0m2-16h0m0 13h0m5-21h0m0 25h0m1-25h0m0 18h0m5-12h0m0 12h0m1-3h0m1-11h0m0 17h0m0 9h0m1-21h0m2 13h0m3 7h0m1 0h0m1-22h0m0 4h0m0 18h0m1-2h0m1-18h0m0 19h0m1-28h0m0 9h0m1 1h0m2 7h0m4 2h0m0 7h0m3-20h0m3 21h0m1-22h0m1 19h0m2-1h0m2-21h0m0 1h0m0 4h0m0 3h0m2 12h0m2 4h0m1 1h0m1-16h0m0 5h0m1-13h0m0 15h0m1 10h0m2-23h0m6-5h0m2 28h0m2-27h0m0 2h0m1-4h0m0 29h0m1-1h0m1-20h0m0 5h0m6 15h0m2-26h0m1 9h0m5 11h0m2 4h0m0 2h0m2-26h0m0 5h0m0 11h0m3-3h0m1 14h0m1-20h0m2 14h0m1-24h0m0 32h0m3-17h0m1-12h0m0 9h0m1 12h0m6 1h0m0 5h0m3-31h0m2 19h0m1 12h0m2 2h0m3-32h0m0 1h0m4 31h0m5-7h0m1-12h0m0 14h0m4-24h0m1 12h0m0 14h0m3-25h0m0 28h0m1-2h0m1-31h0m2 33h0m1 0h0m5-22h0m0 12h0m4-20h0m0 11h0m0 2h0m0 2h0m0 12h0m1-24h0m0 4h0m2 17h0m1 3h0m1-21h0m2 14h0m1-13h0m1-11h0m0 24h0m4-20h0m0 0h0m0 14h0m0 3h0m1-8h0m4-8h0m0 26h0m1-15h0m0 4h0m3-7h0m4 3h0m1-16h0m0 3h0m2 18h0m1 4h0m1-3h0m3-22h0m2 24h0m1-15h0m1 21h0m1-22h0m7 24h0m7-6h0m2 5h0m1-20h0m1 22h0m2-29h0m1 1h0m8 5h0m1-2h0m9 12h0m11-2h0m12-15h0"/>
<path stroke="#D4554F" d="M2517 3038h0m2 7h0m6-6h0m1-2h0m5-17h0m10 12h0m11 16h0m17 0h0m1-13h0m2 10h0m7 0h0m125-4h0m49-9h0m9-12h0m195-3h0m4 17h0m4-12h0m2 15h0m0 9h0m0 5h0m2-34h0m1 22h0m0 3h0m2 7h0m1-29h0m0 30h0m1-29h0m0 11h0m1 10h0m1 8h0m1-3h0m1-19h0m1 17h0m2-24h0m0 5h0m3 6h0"/>
</g>
<g fill="none" stroke-linecap="round" stroke-width="8.8" transform="scale(.5)">
<path stroke="#D4554F" d="M2516 3037h0m0 7h0m6-18h0m2 17h0m2 4h0m0 0h0m1-3h0m2 7h0m2-14h0m2 0h0m3 13h0m6-33h0m5 23h0m3-17h0m4 17h0m3 9h0m6-7h0m21-5h0m23 8h0m167-15h0m63 18h0m104-11h0m13 6h0m1-20h0m0 23h0m2-21h0m2 7h0m2-13h0m5 22h0m2-14h0m3 2h0m2-2h0m3 9h0m1-13h0m0 10h0m0 1h0m2 3h0m1 0h0m1 9h0m1-5h0m1-19h0m2 22h0m1-20h0m1 21h0"/>
<path stroke="#55ACB7" d="M2492 3028h0m0 2h0m1-1h0m2 22h0m2-9h0m2 1h0m1 5h0m2-18h0m1 15h0m1-15h0m1-8h0m1 29h0m1-16h0m0 6h0m1-13h0m0 21h0m0 1h0m2-7h0m2-10h0m0 13h0m0 0h0m4-17h0m5 15h0m1-26h0m2 11h0m1-11h0m1 17h0m2-15h0m0 6h0m1-7h0m0 31h0m3-20h0m1-4h0m5-5h0m1 9h0m1-2h0m1-5h0m2-4h0m0 12h0m1-7h0m0 3h0m6 6h0m1 0h0m1 15h0m6-2h0m4-2h0m6-27h0m0 31h0m5-21h0m0 7h0m1-3h0m9 5h0m1-17h0m5 25h0m7-17h0m2 4h0m1-12h0m0 30h0m1-30h0m0 31h0m0 1h0m4-19h0m5-14h0m0 2h0m0 9h0m2 12h0m1 4h0m0 1h0m0 0h0m4-17h0m1 16h0m1-17h0m4 9h0m0 2h0m2 6h0m2-12h0m2-3h0m1 9h0m1-22h0m0 15h0m0 17h0m3-32h0m0 33h0m1-30h0m1 8h0m2-9h0m0 1h0m1-1h0m0 15h0m2 2h0m3 6h0m5-15h0m7 7h0m3 2h0m2-7h0m1 12h0m1-3h0m1 1h0m1-16h0m1 17h0m1 4h0m5-24h0m0 4h0m1 5h0m3-1h0m2 7h0m0 13h0m3-27h0m1 23h0m3 1h0m2-24h0m0 5h0m2 1h0m0 2h0m0 15h0m1-4h0m2-3h0m1-14h0m3 13h0m2-1h0m0 12h0m2-14h0m1-13h0m0 21h0m3-16h0m3 15h0m1-22h0m0 2h0m0 8h0m1-4h0m2 19h0m1-10h0m1 8h0m1-12h0m0 17h0m1-15h0m2-5h0m2-7h0m2 22h0m1-17h0m0 11h0m5 4h0m2-13h0m0 11h0m3-16h0m1 27h0m0 0h0m1-27h0m1 9h0m1 15h0m3 3h0m5-18h0m2 6h0m0 5h0m3-7h0m1-10h0m1 7h0m3 9h0m2-8h0m2-3h0m1-10h0m2 8h0m0 5h0m9 11h0m1-9h0m0 8h0m0 1h0m1-26h0m2 5h0m0 4h0m0 6h0m0 12h0m0 0h0m1 1h0m3-6h0m2-20h0m0 17h0m1-5h0m3 15h0m1-29h0m1 20h0m0 14h0m1-18h0m0 1h0m1-11h0m0 5h0m0 20h0m0 3h0m5-13h0m3 6h0m2-8h0m1 9h0m1-14h0m2-6h0m3-5h0m0 22h0m1-17h0m2 0h0m1-3h0m2 4h0m1-8h0m0 9h0m2 7h0m0 0h0m1-4h0m1-6h0m0 13h0m0 14h0m1-19h0m3 14h0m6-17h0m3 17h0m8-25h0m6 19h0m1 9h0m3-24h0m0 25h0m1-21h0m7 12h0m3-15h0m1 11h0m0 0h0m0 6h0m1-6h0m1-8h0m3 5h0m1 3h0m1 12h0m1-24h0m0 20h0m1-13h0m0 16h0m1-17h0m6-6h0m2 19h0m1-19h0m2 23h0m2-13h0m4 12h0m1-11h0m3-2h0m3 0h0m0 6h0m1-6h0m1 2h0m0 12h0m1-6h0m10-22h0m2 0h0m2 18h0m2-11h0m2 5h0m1 1h0m1 6h0m4-1h0m0 11h0m3-26h0m0 11h0m1 13h0m1-13h0m1-1h0m5 2h0m2 0h0m1-2h0m1 14h0m2-16h0m1 0h0m7-4h0m0 15h0m8 6h0m3-17h0m4-10h0m5 17h0m3-2h0m2-12h0m1 1h0m4 4h0m0 9h0m3-16h0m1 22h0m14-15h0"/>
</g>
<g fill="none" stroke-linecap="round" stroke-width="8.8" transform="scale(.5)">
<path stroke="#55ACB7" d="M2491 3025h0m2 23h0m2-22h0m4 10h0m0 11h0m1-1h0m4-23h0m1 26h0m3-3h0m1-9h0m5 5h0m7 0h0m4-24h0m0 10h0m2-7h0m1 15h0m1-17h0m1 17h0m3 7h0m4-22h0m0 2h0m1 15h0m1-10h0m1-1h0m1 0h0m0 18h0m1-27h0m1 33h0m4-22h0m2 20h0m1-12h0m3-20h0m0 11h0m2 11h0m0 10h0m3-19h0m0 11h0m2-9h0m0 17h0m1-12h0m0 4h0m1-15h0m0 4h0m0 12h0m1-4h0m10 2h0m15 2h0m6-3h0m3-21h0m6-1h0m0 26h0m2 3h0m0 5h0m1-8h0m2-10h0m0 10h0m0 8h0m1-32h0m0 10h0m1-2h0m1 3h0m1 19h0m2-23h0m0 5h0m3 19h0m6-27h0m0 2h0m4-7h0m0 3h0m1 0h0m0 27h0m2-25h0m1 15h0m0 7h0m1-4h0m3-1h0m1 6h0m2-12h0m1 2h0m0 2h0m1-9h0m1-3h0m0 8h0m0 6h0m0 8h0m1-13h0m1-14h0m0 14h0m1-14h0m1 16h0m0 8h0m3-11h0m0 2h0m0 2h0m11-18h0m1-3h0m0 14h0m0 1h0m5-6h0m1 0h0m5 21h0m9-16h0m0 6h0m1-19h0m0 31h0m1-11h0m2-3h0m3-6h0m0 21h0m2-30h0m0 11h0m0 11h0m2 4h0m3-2h0m2 5h0m1-17h0m2-8h0m3 25h0m4-28h0m0 17h0m1-7h0m4-4h0m0 3h0m0 1h0m5-1h0m2 16h0m1-19h0m1-9h0m0 10h0m2 18h0m2-29h0m1 8h0m0 26h0m1-29h0m1 9h0m0 18h0m1-1h0m1-29h0m2 20h0m3-13h0m1-2h0m1-1h0m0 22h0m3-8h0m1-16h0m0 24h0m2-15h0m1 16h0m1-12h0m4-8h0m6-7h0m0 14h0m1 9h0m1 9h0m1-31h0m1 31h0m1-12h0m5-13h0m1 0h0m1-2h0m5 11h0m2 0h0m0 0h0m0 9h0m1-18h0m0 8h0m1-16h0m0 20h0m1-19h0m0 28h0m2-12h0m4-12h0m1 21h0m1-13h0m3-9h0m0 27h0m2-18h0m6-12h0m1 1h0m3 4h0m7 5h0m1 6h0m7 14h0m3-3h0m1 0h0m1-9h0m1 1h0m1 6h0m4 0h0m5 5h0m1-19h0m1-12h0m4 28h0m1-20h0m2 9h0m1 3h0m1 9h0m1 2h0m1-31h0m1 12h0m0 4h0m1 4h0m2-13h0m0 18h0m0 5h0m1-16h0m0 7h0m0 2h0m0 2h0m1-10h0m2-9h0m4-2h0m0 13h0m1-17h0m4 7h0m0 5h0m3 16h0m5-1h0m1-10h0m0 12h0m1-8h0m2-15h0m1-6h0m1 30h0m2-28h0m0 26h0m2-15h0m0 15h0m1-23h0m1 23h0m2-23h0m0 0h0m1 7h0m4-8h0m1 12h0m0 12h0m3-22h0m0 6h0m2 19h0m1-11h0m2 7h0m8-14h0m1 4h0m1-11h0m0 16h0m5 4h0m1-21h0m2 17h0m2-13h0m4-9h0m0 13h0m0 7h0m1-3h0m3-2h0m0 10h0m0 5h0m2 2h0m2-23h0m0 3h0m0 6h0m5 15h0m3-25h0m1 4h0m2 17h0m1-2h0m2-8h0m0 4h0m2-12h0m1 18h0m0 4h0m8-28h0m3 13h0m0 14h0m2-11h0m3-5h0m1 0h0m2-13h0m0 25h0m1-7h0m7-2h0m5 11h0"/>
<path stroke="#D4554F" d="M2503 3017h0m19 26h0m2-4h0m3-15h0m4 3h0m0 9h0m11 9h0m6 0h0m1 4h0m2-28h0m1 8h0m3 5h0m0 9h0m4-3h0m11-11h0m0 13h0m4 0h0m7 0h0m39-11h0m20 1h0m60-14h0m53 10h0m4-10h0m118 27h0m77-20h0m5 25h0m7-13h0m7 1h0m0 8h0m1-7h0m0 2h0m0 4h0m1 3h0m1-4h0m3-24h0m1-1h0m2-1h0m0 3h0m0 13h0m0 5h0m0 6h0m1-14h0m1-6h0m5 6h0"/>
</g>
<g fill="none" stroke-linecap="round" stroke-width="8.8" transform="scale(.5)">
<path stroke="#55ACB7" d="M2508 2619h0m46 48h0m42 106h0m25-5h0m17 25h0m6 4h0m3-23h0m12 16h0m9-6h0m4-73h0m5 54h0m8-96h0m2 126h0m10-125h0m10 20h0m3 74h0m3 5h0m1 25h0m7-72h0m2-21h0m0 89h0m37 5h0m49-78h0m17-56h0m31 53h0m64 63h0m1-62h0m3 78h0m4 5h0m5-20h0m9-12h0m8-2h0"/>
<path stroke="#D4554F" d="M2504 2706h0m2-30h0m106 118h0m106-20h0"/>
</g>
<path d="M1246.2 1039.2L1249.4 1200L1250.3 1248.4H1498.5" fill="none" stroke="#000" stroke-width="1.7" stroke-linejoin="miter"/>
<path d="M1246.7 1517H1497" fill="none" stroke="#000" stroke-width="1.6"/>
<path d="M1233.5 1028.8V1265.8M1233.5 1298.8V1536.6H1508.7" fill="none" stroke="#2b2826" stroke-width="1.4"/>
<path d="M1233.5 1061.2h-4M1233.5 1155h-4M1233.5 1248.4h-4M1233.5 1329.6h-4M1233.5 1390.2h-4M1233.5 1456.6h-4M1233.5 1517h-4M1246 1536.6v4M1318.2 1536.6v4M1390.5 1536.6v4M1462.8 1536.6v4" fill="none" stroke="#2b2826" stroke-width="1.3"/>
<g font-family="'Liberation Serif', 'Times New Roman', serif" font-size="27.2" fill="#3a4040" stroke="#3a4040" stroke-width="0.3">
<text transform="translate(1225.5 1070.6) scale(.94 1)" text-anchor="end">10.0</text>
<text transform="translate(1225.5 1164.4) scale(.94 1)" text-anchor="end">1.0</text>
<text transform="translate(1225.5 1257.8) scale(.94 1)" text-anchor="end">0.1</text>
<text transform="translate(1225.5 1339) scale(.94 1)" text-anchor="end">3.0</text>
<text transform="translate(1225.5 1399.6) scale(.94 1)" text-anchor="end">1.0</text>
<text transform="translate(1225.5 1466) scale(.94 1)" text-anchor="end">0.3</text>
<text transform="translate(1225.5 1526.4) scale(.94 1)" text-anchor="end">0.1</text>
<text transform="translate(1246 1561.2) scale(.94 1)" text-anchor="middle">0.0</text>
<text transform="translate(1318.2 1561.2) scale(.94 1)" text-anchor="middle">2.5</text>
<text transform="translate(1390.5 1561.2) scale(.94 1)" text-anchor="middle">5.0</text>
<text transform="translate(1462.8 1561.2) scale(.94 1)" text-anchor="middle">7.5</text>
</g>
<g font-family="'Liberation Sans', Arial, Helvetica, sans-serif" font-size="13" fill="#1a1a1a" text-anchor="middle">
<text x="1371.1" y="1020.8">ERCC6L</text>
<text x="1371.1" y="1290.8">MYB</text>
</g>
<g font-family="'Liberation Serif', 'Times New Roman', serif" font-size="32" font-weight="bold" fill="#000" text-anchor="middle">
<text x="1372.1" y="1592">Pseudo−time</text>
<text transform="translate(1170.5 1282) rotate(-90)">Relative Expression</text>
</g>
<g font-family="'Liberation Serif', 'Times New Roman', serif" font-weight="bold" fill="#000">
<text x="1532.5" y="1263" font-size="29">group</text>
<circle cx="1545.8" cy="1286.3" r="2.1" fill="#D4554F"/>
<text x="1566" y="1295.3" font-size="27">Control</text>
<circle cx="1545.8" cy="1311.8" r="2.1" fill="#55ACB7"/>
<text x="1566" y="1320.8" font-size="27">GC</text>
</g>
</svg>
</body></html>
